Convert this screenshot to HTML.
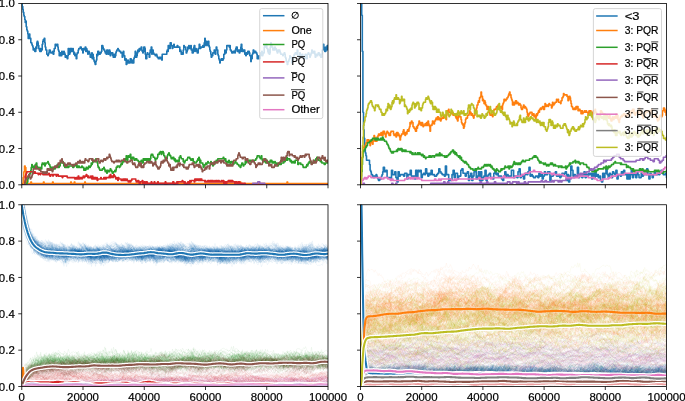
<!DOCTYPE html>
<html><head><meta charset="utf-8"><style>
html,body{margin:0;padding:0;background:#fff;width:685px;height:401px;overflow:hidden}
svg{display:block;will-change:transform}
text{font-family:"Liberation Sans",sans-serif}
#dd path{vector-effect:non-scaling-stroke}
</style></head><body>
<svg width="685" height="401" viewBox="0 0 685 401">
<defs>
<clipPath id="ctl"><rect x="21.75" y="3.5" width="306.25" height="181.30"/></clipPath>
<clipPath id="ctr"><rect x="360.5" y="3.5" width="306.00" height="181.30"/></clipPath>
<clipPath id="cbl"><rect x="21.75" y="204.75" width="306.25" height="181.75"/></clipPath>
<clipPath id="cbr"><rect x="360.5" y="204.75" width="306.00" height="181.75"/></clipPath>
<g id="dd" fill="none" vector-effect="non-scaling-stroke"><path id="p1" d="M0 410l1 0 1 0 1 0 1 0 1 0 1 0 1 0 1 0 1 12 1 11 1 10 1 10 1 4 1 9 1 7 1 2 1 10 1-3 1 8 1 1 1 3 1 1 1 6 1 1 1 0 1 4 1 0 1 2 1 2 1 2 1 1 1-1 1 3 1 0 1-12 1 8 1-3 1 2 1-2 1 1 1-4 1 1 1-1 1 4 1-8 1 3 1-1 1-3 1 0 1 1 1-5 1 6 1 4 1-5 1 6 1-6 1-4 1 0 1 9 1-4 1 6 1-4 1-3 1 8 1-6 1 4 1-6 1 12 1 1 1-6 1 2 1 1 1 5 1-2 1 2 1-7 1 3 1 4 1 0 1 2 1-3 1-3 1-2 1-2 1 4 1-6 1 11 1-6 1-3 1 3 1-2 1-3 1 4 1-2 1-3 1 7 1-8 1 4 1 3 1-6 1-1 1 2 1-2 1-1 1 1 1 0 1-3 1 1 1 2 1 7 1-2 1-3 1-4 1 3 1-4 1 4 1 1 1 2 1-5 1 9 1-6 1 2 1 1 1-5 1 1 1 1 1 3 1 3 1 1 1 4 1-3 1-5 1-3 1 9 1-7 1-2 1 3 1-2 1 5 1 2 1-3 1-3 1 1 1 1 1-3 1 6 1-6 1 9 1-11 1 0 1-3 1 10 1 0 1 1 1 1 1 4 1-11 1 3 1 0 1 5 1-6 1-6 1 6 1-2 1 7 1-7 1 4 1 0 1 0 1 3 1-3 1 3 1 1 1 3 1 0 1-6 1-1 1 3 1 0 1 1 1-3 1-4 1 3 1 2 1-5 1 0 1 8 1-4 1-5 1 2 1 2 1-1 1 5 1 1 1-3 1-1 1-4 1 6 1-1 1-4 1 7 1-1 1-1 1 0 1 0 1-2 1 6 1 0 1-5 1 5 1-11 1 7 1-2 1-4 1 0 1-1 1 1 1 4 1-5 1 1 1 4 1-5 1-3 1 6 1 0 1 0 1-5 1 10 1-8 1 1 1 1 1 3 1-3 1-8 1 6 1 1 1-4 1 6 1-9 1 4 1-9 1 1 1 5 1 1 1 2 1-3 1 0 1 7 1 1 1-6 1 3 1-2 1 0 1 0 1 2 1-3 1-3 1-1 1 6 1-1 1 0 1 5 1 0 1-4 1-2 1-1 1 5 1-5 1 3 1 1 1-5 1 10 1 1 1-14 1 7 1-3 1 2 1 2 1 2 1 2 1-7 1 4 1-3 1-1 1 1 1 0 1-4 1 4 1 1 1 1 1-5 1 1 1 6 1-2 1 2 1 1 1 2 1-9 1 5 1 9 1-11 1-2 1 6 1 0 1-1 1-2 1 4 1-4 1 6 1-9 1 7 1-3 1-3 1-2 1 5 1 0 1-8 1 7 1 0 1-1 1-4 1 0"/><path id="p2" d="M0 410l1 0 1 0 1 0 1 0 1 0 1 0 1 0 1 0 1 12 1 13 1 5 1 10 1 8 1 6 1 2 1 7 1 2 1 5 1 7 1-5 1 8 1 1 1 3 1 3 1-3 1 6 1 4 1 0 1 2 1 4 1-7 1 7 1-7 1 4 1-2 1 2 1 0 1-9 1 8 1 1 1-4 1-4 1 9 1-3 1-5 1 0 1 2 1 4 1-2 1 3 1-3 1 2 1-1 1 2 1-3 1 2 1 2 1-7 1 4 1 1 1 0 1-5 1 4 1-1 1 5 1-2 1 1 1 2 1 0 1-2 1 3 1-6 1 0 1 6 1-5 1 3 1-3 1 0 1 7 1 3 1-10 1 0 1 2 1 1 1 1 1 6 1-13 1 12 1-9 1 1 1-2 1 4 1-2 1-4 1 4 1-4 1 5 1-5 1-1 1 2 1-1 1 6 1-1 1 0 1-5 1 7 1-2 1-3 1 3 1-2 1 5 1-7 1 2 1-2 1-2 1 8 1-10 1 4 1-5 1 4 1-1 1 6 1-1 1-6 1 7 1-3 1 2 1 4 1-2 1 0 1-2 1 3 1 1 1-7 1 0 1 4 1 4 1-5 1 3 1-7 1 5 1 1 1-1 1 2 1-3 1 4 1-5 1-2 1 1 1 4 1-4 1 2 1 3 1-5 1-3 1 2 1 2 1 1 1-1 1-2 1 2 1-3 1 2 1 0 1 4 1-2 1 2 1 0 1 0 1-6 1 12 1-5 1 3 1-3 1 0 1-5 1 5 1 2 1-4 1 0 1 7 1-13 1 9 1-8 1 1 1-1 1 3 1 3 1 0 1-6 1 5 1-3 1 2 1 1 1-5 1 5 1-2 1 1 1-1 1 2 1 4 1-1 1 1 1-7 1 5 1 5 1 0 1 3 1-6 1 7 1 3 1-15 1 15 1-1 1 2 1-5 1 3 1 0 1-7 1-2 1 3 1 3 1-6 1 3 1-4 1 0 1 4 1-7 1 3 1 0 1 3 1-6 1 6 1-3 1 4 1 2 1 0 1 1 1-3 1-6 1 0 1 6 1-1 1-8 1 2 1 1 1 1 1-1 1 6 1-7 1-9 1 1 1 6 1-4 1 0 1 4 1 0 1-1 1-2 1-4 1 3 1 1 1 1 1-4 1-1 1 5 1 2 1-2 1 0 1-2 1 1 1 6 1-2 1 1 1-3 1 6 1 2 1-6 1 1 1 0 1-1 1 2 1-3 1 3 1 0 1-5 1 2 1-4 1 3 1 4 1 0 1 1 1-2 1-2 1 2 1 0 1 4 1-7 1 3 1-1 1 6 1-3 1 1 1-8 1 5 1-9 1 5 1 2 1-6 1-2 1 5 1 0 1-3 1 3 1 0 1 3 1-5 1 2 1-4 1-1 1-1 1 2"/><path id="p3" d="M0 410l1 0 1 0 1 0 1 0 1 0 1 0 1 0 1 0 1 12 1 11 1 10 1 7 1 9 1 10 1 3 1 7 1 0 1 1 1 6 1 5 1 7 1-4 1 3 1 2 1-1 1-7 1 9 1 2 1 3 1-7 1 6 1 4 1-4 1-2 1 5 1-3 1 6 1-9 1 8 1-2 1 3 1-1 1-2 1 3 1-1 1-4 1-4 1 6 1 2 1 0 1 5 1-1 1 0 1-5 1 2 1 0 1-9 1 8 1-3 1 1 1 1 1-2 1 6 1-5 1-3 1-2 1 7 1-5 1 2 1 4 1 5 1-5 1 3 1-5 1 4 1 6 1-3 1-3 1-2 1 13 1-10 1 5 1-3 1 2 1-7 1 2 1-5 1 1 1 6 1 5 1-7 1 0 1-2 1 2 1-1 1-5 1 1 1 2 1-4 1 4 1-3 1-4 1 4 1 3 1-5 1 1 1-7 1 7 1 2 1 2 1 3 1-4 1-2 1 3 1-4 1 0 1 1 1 4 1 1 1-5 1 5 1 0 1 0 1-7 1 10 1-10 1 0 1-3 1 3 1-6 1 4 1 5 1 1 1-5 1-2 1 1 1-2 1 0 1 11 1-7 1 0 1-1 1 5 1-7 1 5 1-4 1 6 1-1 1 5 1-1 1-2 1 1 1-2 1 0 1 1 1 1 1 4 1-2 1 0 1 1 1-4 1 0 1 5 1-1 1-2 1 0 1-5 1 5 1 1 1-3 1-1 1-2 1 7 1-2 1-2 1 1 1 6 1-6 1-4 1 3 1 3 1 3 1 0 1-3 1 3 1 0 1 4 1-7 1-1 1 3 1-3 1 2 1-5 1 5 1-1 1 3 1-4 1 0 1-1 1-8 1 2 1-2 1 1 1 3 1-5 1-4 1 5 1-2 1-1 1-4 1 3 1-2 1 1 1 3 1 0 1 5 1-2 1-2 1 1 1 1 1 2 1-1 1 1 1 2 1 6 1-14 1 2 1 11 1-8 1 6 1-5 1 6 1-3 1 1 1-4 1-1 1 2 1 7 1-8 1 3 1-9 1 6 1 5 1-7 1 4 1-6 1 6 1-6 1 7 1-9 1 4 1-2 1 4 1-7 1 8 1-2 1 3 1-4 1 10 1 1 1-6 1 4 1 1 1-5 1 2 1 8 1-9 1 2 1 1 1-6 1 0 1-3 1 6 1 1 1-12 1 5 1 1 1 5 1-1 1-4 1 12 1-5 1-6 1 7 1-9 1 2 1 4 1-6 1-1 1-1 1-4 1 7 1-4 1-4 1 0 1 0 1-8 1 11 1 1 1-3 1 3 1-2 1 5 1-6 1 9 1 0 1-3 1 3 1-2 1 1 1-1 1 7 1-7 1 2 1-1 1 4 1-5 1-2 1 1 1-1 1 1 1 1"/><path id="p4" d="M0 410l1 0 1 0 1 0 1 0 1 0 1 0 1 0 1 0 1 13 1 11 1 8 1 8 1 6 1 4 1 11 1 2 1 4 1 5 1-1 1-3 1 10 1-7 1 7 1 3 1 4 1-5 1 3 1 2 1 3 1 0 1 1 1 0 1 8 1-6 1-1 1 1 1 8 1-4 1 0 1-2 1 2 1 0 1 4 1-3 1 3 1 1 1 4 1-6 1 2 1 4 1-9 1 5 1-2 1 0 1 2 1-2 1-2 1 6 1 1 1-8 1 2 1 4 1-7 1 8 1-5 1-1 1 1 1-2 1 4 1 3 1-3 1-5 1 2 1 0 1 1 1-4 1 5 1-3 1-1 1 4 1-7 1 1 1-1 1 6 1-9 1 5 1-2 1-1 1-2 1 5 1-3 1 1 1 1 1 1 1 3 1-2 1-3 1 8 1 3 1-10 1 10 1-3 1 2 1-3 1 2 1-3 1 3 1 2 1-12 1 8 1-2 1 6 1-2 1-1 1-6 1 6 1-4 1 2 1 2 1-4 1 1 1 5 1-6 1 7 1-6 1 2 1-7 1 5 1-5 1 5 1 3 1-5 1 7 1-2 1-4 1-6 1 1 1 7 1 2 1-8 1 6 1-2 1-1 1 1 1-1 1-1 1-4 1 5 1-2 1-2 1 0 1 1 1 2 1-3 1 5 1-5 1-5 1 2 1 12 1-11 1 0 1 3 1-3 1 0 1 3 1 0 1 4 1-7 1 11 1-8 1 2 1-1 1 1 1-1 1 2 1 1 1-9 1 7 1-6 1 2 1 2 1-1 1 1 1-3 1 3 1 2 1-4 1 3 1-1 1 4 1-2 1-3 1 0 1 7 1-3 1 4 1-6 1 6 1 2 1-2 1 0 1-12 1 10 1-5 1 5 1-3 1-3 1 2 1-1 1 2 1 4 1-1 1 2 1 3 1-8 1 11 1 1 1-2 1-4 1 5 1-2 1 3 1-6 1 2 1 1 1-5 1 7 1-8 1 2 1 6 1-4 1-3 1 5 1-1 1-7 1-5 1 4 1 4 1 2 1 4 1-5 1 5 1-1 1 0 1-2 1 2 1 9 1-5 1-5 1-1 1 2 1-2 1 7 1-4 1-1 1-3 1 2 1 2 1-5 1 2 1-2 1 7 1-6 1-1 1-3 1 4 1 6 1-1 1-8 1 0 1 3 1 2 1-5 1 4 1-1 1 4 1 4 1-9 1-5 1 6 1 3 1-9 1 8 1 3 1-5 1-3 1 4 1-3 1 0 1 0 1-4 1 5 1-1 1-2 1 6 1-3 1 5 1-2 1 2 1-3 1 1 1 5 1 2 1 0 1 0 1 0 1-2 1 2 1-8 1 2 1-3 1 5 1 0 1 3 1-5 1 2 1 2 1-2 1-4 1 0 1 5 1 5"/><path id="p5" d="M0 410l1 0 1 0 1 0 1 0 1 0 1 0 1 0 1 0 1 13 1 12 1 10 1 6 1 8 1 4 1 6 1 4 1 9 1-6 1 8 1 9 1-4 1 2 1-1 1 6 1-3 1 2 1-4 1 5 1-2 1-2 1 7 1-4 1 1 1-6 1 4 1 4 1-8 1 8 1-2 1 0 1-1 1 4 1 0 1 0 1-1 1 4 1-1 1 3 1-10 1 4 1-2 1 7 1 4 1-1 1-1 1-5 1 4 1 0 1 3 1-10 1 11 1-4 1 0 1 0 1 0 1-2 1-8 1 5 1 2 1 4 1-8 1-1 1 8 1-4 1 10 1-4 1-6 1 11 1-8 1 0 1 9 1-4 1-5 1-3 1 8 1-4 1 7 1-1 1-5 1-2 1 1 1-4 1 0 1-3 1 1 1 2 1-1 1 0 1-1 1-3 1 0 1-1 1 1 1 0 1 6 1-1 1 0 1 1 1 6 1-10 1 6 1-1 1 1 1-8 1 4 1-4 1 6 1-3 1 0 1 4 1-1 1 7 1-2 1-4 1 9 1-9 1 1 1 3 1-5 1 1 1-2 1 3 1-2 1 2 1 5 1-4 1 0 1-1 1 0 1-2 1 3 1 3 1-4 1 9 1-2 1-9 1 9 1-5 1 4 1-6 1 1 1-2 1 1 1-3 1 7 1-9 1 6 1-5 1 3 1-5 1 2 1 1 1-2 1 1 1 0 1-5 1 2 1 2 1 1 1-5 1 6 1-2 1 4 1-2 1-1 1-2 1 2 1-3 1 10 1-13 1 6 1 1 1 5 1-6 1 6 1-2 1 0 1-1 1 1 1 5 1 2 1-8 1 2 1 1 1 1 1 0 1 8 1-6 1-2 1 3 1-2 1 2 1 2 1 1 1-2 1-3 1 8 1-9 1 10 1-13 1 6 1-1 1 1 1-5 1 4 1-7 1-3 1 6 1 3 1-6 1 5 1-2 1-3 1-3 1 8 1-6 1 0 1 3 1-3 1 3 1 1 1 6 1 2 1-8 1-2 1 6 1-3 1-6 1 3 1 7 1-7 1 3 1-3 1 1 1 3 1-9 1 15 1-5 1-7 1 5 1-1 1 5 1-5 1 6 1 2 1 0 1-7 1 5 1-2 1 1 1 2 1 4 1-6 1-1 1 6 1-3 1 0 1 4 1-8 1-1 1 1 1-1 1 0 1-4 1 1 1 0 1 6 1-3 1 2 1 4 1-4 1 7 1-1 1-7 1 2 1 9 1-7 1 2 1 1 1 4 1-3 1-3 1-3 1 3 1 5 1-5 1-5 1 7 1 3 1-8 1 4 1-3 1-1 1 1 1-2 1-3 1-1 1 1 1-2 1 1 1 3 1-8 1 4 1-1 1-2 1 4 1 4 1 2 1-4 1-5 1 3 1-1"/><path id="p6" d="M0 410l1 0 1 0 1 0 1 0 1 0 1 0 1 0 1 0 1 11 1 11 1 8 1 7 1 9 1 8 1 2 1-1 1 12 1-3 1 8 1 3 1-5 1 7 1 6 1-1 1 0 1 1 1-5 1 2 1 4 1-1 1 4 1 5 1-4 1 2 1-2 1 3 1-2 1 6 1 1 1 1 1 2 1-5 1 4 1 5 1-1 1-8 1-1 1 3 1 3 1-4 1 5 1 3 1-4 1 4 1-3 1-8 1 5 1 1 1-2 1 3 1-2 1 4 1 1 1-3 1 2 1 3 1-5 1 2 1 0 1-8 1 3 1-1 1 4 1 3 1-1 1-9 1 15 1-8 1-2 1 5 1-8 1 5 1-3 1-5 1 2 1 4 1 0 1-4 1-1 1 4 1 8 1-4 1-4 1 6 1-1 1 2 1-2 1-4 1 0 1 5 1-8 1 8 1-8 1 0 1 7 1 1 1-10 1 2 1 1 1 4 1-4 1 7 1-7 1-5 1 8 1-3 1 5 1-3 1 1 1-2 1 2 1 4 1-10 1 7 1-8 1 7 1-7 1 1 1 3 1-4 1 2 1-4 1 3 1-2 1 11 1-10 1 5 1 0 1 4 1-2 1 0 1-2 1 1 1 1 1-1 1-2 1 5 1 1 1-5 1 3 1 4 1-4 1 0 1-5 1 4 1 0 1 3 1 3 1-3 1 1 1 0 1-5 1 7 1-9 1 9 1 1 1-7 1 4 1 2 1-3 1 3 1-1 1 1 1-1 1 3 1-4 1 4 1-2 1 7 1-8 1 3 1-1 1 0 1 1 1 1 1-7 1 4 1-1 1 0 1 1 1-6 1 5 1-4 1 3 1 2 1 0 1-7 1 8 1 0 1-3 1-4 1 4 1-5 1 4 1 1 1-5 1 4 1 4 1 0 1-4 1-1 1 5 1 0 1-4 1 5 1-3 1 0 1 2 1 2 1 4 1-7 1 3 1-4 1 2 1-1 1-5 1 2 1 5 1-7 1 4 1 2 1-5 1 0 1-3 1-1 1-1 1 6 1-2 1 5 1-6 1 2 1 6 1-8 1 1 1 7 1 2 1-6 1-1 1 1 1-4 1-3 1 7 1 0 1 1 1-8 1 6 1-3 1-1 1-1 1 2 1-5 1 3 1 1 1 4 1-3 1-1 1-4 1 5 1-3 1 1 1 8 1-10 1-4 1 10 1-8 1 7 1-2 1-1 1-3 1 3 1 0 1-3 1 0 1 4 1-2 1-3 1 3 1 5 1-3 1 5 1-12 1 7 1 6 1-3 1-3 1-1 1 3 1 1 1 2 1-6 1-1 1 3 1 0 1 0 1 2 1-1 1-4 1 1 1-2 1 4 1-6 1 6 1-7 1 4 1-2 1 3 1-2 1 2 1-2 1 6 1-9 1 3"/><path id="p7" d="M0 410l1 0 1 0 1 0 1 0 1 0 1 0 1 0 1 0 1 13 1 11 1 8 1 10 1 7 1 6 1 5 1 4 1 7 1 6 1-2 1 8 1-1 1 1 1-5 1 7 1 2 1 4 1 0 1 5 1 3 1-5 1-1 1 2 1 0 1 0 1-6 1 8 1-9 1 9 1-1 1-1 1-1 1-3 1 2 1 0 1 3 1 2 1 1 1 3 1-10 1 8 1 3 1 1 1-3 1 3 1-8 1 0 1 5 1-7 1 1 1 1 1 0 1 1 1-4 1 9 1-8 1 3 1 7 1-5 1-2 1 0 1 2 1 4 1-3 1 0 1 11 1-6 1-3 1 1 1-3 1-6 1 6 1 2 1-1 1 3 1-1 1 0 1-5 1 4 1-2 1-1 1 5 1-5 1-4 1 6 1-2 1-3 1-1 1 3 1 2 1-3 1 5 1-1 1-1 1-3 1 5 1-4 1 6 1-2 1 0 1-4 1-4 1 12 1-6 1 1 1-1 1 3 1-4 1 10 1-10 1-2 1 8 1-4 1 4 1-3 1 0 1 8 1-12 1 0 1-4 1 6 1-1 1-4 1 9 1-8 1 3 1-8 1 6 1-5 1 4 1 9 1-15 1 1 1-1 1 5 1-5 1 8 1 0 1-6 1 1 1-3 1 9 1-4 1 0 1-2 1 8 1-4 1 2 1-2 1-8 1 8 1-2 1 4 1 4 1-1 1 2 1 1 1-3 1 2 1 5 1 5 1-5 1-3 1-4 1 4 1-1 1-3 1-1 1 6 1-3 1-3 1 4 1 0 1-3 1-2 1-4 1 4 1 1 1-3 1-5 1 9 1-8 1-3 1 3 1 0 1 2 1-1 1-2 1-5 1 3 1 3 1 5 1-1 1-7 1 9 1-7 1 3 1-3 1 3 1 4 1-2 1 2 1 3 1-3 1 0 1 4 1-2 1-2 1 3 1 4 1-8 1 9 1-6 1 3 1-2 1 3 1 5 1-8 1 6 1 2 1-1 1-7 1 2 1-1 1 2 1-12 1 3 1-2 1 2 1-4 1 5 1-7 1 5 1 1 1-4 1 1 1 0 1 7 1-2 1 2 1-1 1-3 1 5 1-3 1 4 1-2 1-2 1-2 1-2 1 5 1 0 1-4 1 9 1-2 1-7 1-1 1-4 1 0 1 0 1 3 1 2 1-4 1 10 1-5 1 5 1-4 1 9 1-11 1 3 1-3 1 9 1-3 1-3 1 9 1-5 1 7 1-13 1 10 1-3 1 0 1 7 1-4 1 4 1-8 1-3 1 12 1-7 1 4 1-6 1-1 1-2 1 0 1 6 1-1 1-5 1-4 1 5 1-2 1-3 1 1 1-3 1 7 1-5 1 2 1 0 1 2 1 2 1-5 1 8 1-3 1 2 1 4 1-3"/><path id="p8" d="M0 410l1 0 1 0 1 0 1 0 1 0 1 0 1 0 1 0 1 13 1 10 1 10 1 7 1 9 1 6 1 8 1 3 1 5 1 2 1 10 1-3 1 0 1 13 1-8 1 2 1 3 1 1 1 4 1-4 1 2 1 7 1-7 1 6 1 0 1-5 1 3 1-2 1 0 1 1 1-2 1 7 1-11 1 3 1 5 1-1 1-4 1 7 1 3 1-12 1 3 1 3 1-5 1 4 1 0 1 0 1 0 1 5 1-3 1-2 1 5 1 1 1-4 1-6 1 6 1-4 1-1 1 0 1 2 1 8 1 0 1-3 1-3 1-1 1 1 1-1 1-3 1 6 1-6 1 1 1 8 1-6 1 1 1-1 1 1 1 9 1-13 1 7 1-2 1 0 1 7 1-3 1 1 1-8 1 12 1-9 1 2 1 3 1 3 1-3 1-3 1 6 1-5 1-1 1-1 1 3 1-4 1-1 1 9 1-4 1 0 1-2 1-6 1 0 1 1 1 2 1-5 1 9 1 0 1-6 1 3 1-3 1 1 1 0 1 7 1 0 1 4 1-5 1 1 1 2 1-1 1-1 1-3 1 5 1 0 1-2 1-2 1-5 1 3 1 11 1-3 1-3 1 6 1-11 1 5 1 1 1-4 1-2 1 1 1-1 1-4 1 5 1-5 1 6 1-4 1-8 1 4 1 0 1-7 1 3 1-5 1-4 1-1 1 9 1-2 1 4 1-8 1 5 1-7 1 12 1 0 1 10 1-6 1 0 1-3 1-2 1 6 1-2 1-2 1 2 1-3 1-3 1 7 1-3 1-4 1 4 1-6 1 6 1-5 1 3 1-2 1 4 1-6 1 8 1-7 1 3 1 0 1-3 1 10 1-6 1 2 1 4 1-3 1 3 1-5 1 8 1-7 1 0 1 4 1 3 1-3 1 4 1-3 1-1 1-4 1 5 1-6 1 3 1-5 1 1 1 4 1-2 1 0 1 3 1 0 1 0 1 4 1 1 1-5 1 7 1-7 1 0 1 4 1-3 1 4 1-5 1-8 1 9 1 2 1 0 1 4 1-2 1-1 1 1 1-1 1-4 1 10 1-2 1-2 1 5 1-1 1-4 1-1 1 1 1 4 1-5 1-2 1 4 1-3 1 1 1 0 1 0 1-4 1 4 1-9 1 3 1 3 1-9 1 7 1 8 1-11 1 1 1 3 1-1 1 2 1 2 1-1 1-11 1 10 1-3 1-5 1 8 1-3 1 2 1 3 1-7 1 0 1 3 1-1 1-2 1 0 1-3 1 4 1 0 1 5 1 3 1-8 1 7 1-5 1 2 1 3 1-4 1-5 1 0 1 6 1-2 1 5 1-3 1-3 1-2 1-2 1 3 1-5 1 7 1-5 1 6 1-2 1-1 1-2 1 6 1-1 1-1 1-2 1-4"/><path id="p9" d="M0 410l1 0 1 0 1 0 1 0 1 0 1 0 1 0 1 0 1 11 1 11 1 12 1 8 1 5 1 5 1 9 1 3 1 4 1 6 1 3 1 1 1 0 1 8 1-2 1 4 1 3 1 1 1 2 1-2 1-1 1 4 1 5 1-6 1 2 1 1 1-4 1 7 1-1 1-1 1-4 1 8 1-3 1 7 1-4 1-1 1 3 1-7 1 1 1 3 1-4 1 3 1-3 1 0 1-6 1 6 1-5 1-2 1 4 1-2 1-5 1 10 1 0 1-5 1 1 1-4 1 6 1-2 1-1 1 9 1-11 1 5 1 4 1-1 1 1 1-5 1 7 1-6 1 6 1-2 1 2 1-1 1-4 1 3 1 1 1-5 1-4 1 6 1 0 1 0 1 3 1-2 1-4 1 3 1-2 1 1 1 0 1-2 1 6 1 4 1-4 1 0 1-3 1 6 1 2 1 1 1-5 1 3 1-5 1-2 1 4 1-3 1 1 1-3 1 5 1-2 1-9 1 10 1-2 1-6 1 5 1-2 1 2 1-7 1 5 1-5 1 5 1 6 1-5 1 7 1-9 1 10 1-11 1 1 1-3 1 3 1 1 1 2 1 0 1 0 1-2 1-1 1-8 1 5 1 4 1-7 1 3 1 2 1-3 1 2 1-5 1 3 1-5 1 8 1-5 1 5 1-9 1 9 1-9 1 8 1-4 1 7 1 0 1-5 1 10 1-5 1 8 1-11 1 4 1 10 1-4 1-4 1-3 1 8 1 7 1-10 1 6 1-2 1 2 1 3 1 2 1-12 1 4 1 0 1 1 1-4 1 4 1 0 1-1 1 0 1-6 1 5 1-12 1 6 1 0 1-1 1-6 1 13 1-8 1-5 1 2 1 3 1 3 1-9 1 9 1-7 1 10 1 2 1-6 1 2 1 6 1-8 1-9 1 8 1-2 1 1 1-1 1-1 1-1 1 0 1-1 1-1 1 1 1 5 1-2 1 2 1-3 1-5 1 4 1 3 1-7 1 4 1 6 1-4 1-1 1 0 1 5 1-3 1 3 1 2 1-7 1 8 1-6 1-5 1 1 1 2 1-2 1 0 1-4 1 3 1 0 1 5 1-1 1 1 1-4 1 1 1 3 1-2 1 3 1 1 1-2 1 1 1-6 1 12 1-7 1 6 1-5 1 7 1 2 1-9 1 6 1-5 1 8 1 0 1-6 1 5 1-2 1 2 1-2 1 6 1-7 1-2 1-4 1-1 1 3 1-2 1 1 1-8 1 9 1-5 1 3 1 5 1-6 1-2 1 3 1 5 1-6 1 0 1 4 1-5 1 8 1-1 1-4 1-1 1-3 1-1 1 6 1-6 1-2 1 2 1 4 1 0 1 3 1 4 1-4 1 3 1-5 1 1 1 0 1 0 1 0 1 3 1-1 1-2"/><path id="p10" d="M0 410l1 0 1 0 1 0 1 0 1 0 1 0 1 0 1 0 1 10 1 13 1 8 1 12 1 3 1 5 1 7 1 4 1 6 1-1 1 5 1 6 1 0 1 1 1 2 1-6 1 10 1 0 1 4 1-4 1 6 1-4 1 4 1 2 1 0 1-9 1 11 1-6 1 3 1 5 1-3 1 2 1-3 1-3 1-2 1 9 1 1 1 1 1-1 1 4 1-7 1 7 1 2 1 10 1-10 1 5 1-12 1 6 1 2 1-4 1-6 1 4 1-3 1 7 1-6 1 0 1-8 1 5 1 0 1-6 1-1 1-3 1-3 1 2 1 4 1 1 1 8 1-9 1 8 1 0 1 0 1 5 1-1 1-3 1 0 1 0 1 4 1 5 1-2 1 5 1 5 1-10 1 3 1 0 1 1 1-11 1 6 1-5 1 3 1-1 1 0 1-6 1 11 1-6 1 1 1-4 1 3 1-3 1 2 1 0 1-5 1-3 1 2 1 5 1-2 1-6 1 3 1-4 1 3 1-4 1 9 1-4 1-2 1 2 1 8 1-1 1-1 1 3 1-1 1 0 1-1 1 0 1 2 1-6 1-1 1 3 1-5 1 0 1 5 1-7 1 1 1 3 1 5 1-2 1 4 1-4 1 5 1 4 1 1 1-2 1 2 1-5 1-1 1 2 1 1 1 0 1 0 1 0 1-5 1 3 1-4 1 5 1 0 1-5 1-8 1 10 1 2 1-7 1 4 1 2 1 2 1-7 1 4 1 1 1-3 1-5 1 0 1 6 1 2 1-12 1 4 1-7 1 6 1 0 1 2 1 0 1 1 1 1 1-5 1 7 1 1 1-4 1 8 1-2 1-1 1 5 1-6 1 2 1-3 1 2 1 5 1 1 1-2 1-2 1 0 1 1 1-3 1 6 1-1 1-6 1 5 1 1 1-2 1 7 1-5 1 2 1 2 1-2 1-5 1 4 1 1 1-7 1 3 1-6 1 1 1 3 1 2 1-3 1-6 1 7 1-13 1 16 1-11 1-3 1 7 1 4 1-6 1 0 1-4 1 3 1 0 1 1 1-5 1 7 1 0 1-1 1-8 1 20 1-2 1-5 1 1 1-3 1-3 1 0 1 3 1 2 1-2 1 2 1-9 1 2 1 5 1-3 1 5 1-1 1 0 1 5 1-3 1 3 1-3 1 7 1-2 1-3 1-3 1 3 1 1 1 5 1-3 1-3 1 1 1-1 1-4 1-1 1 6 1 2 1 3 1-6 1-1 1-2 1 8 1 0 1 1 1-10 1 3 1 7 1-3 1 4 1-2 1-10 1 7 1-1 1-2 1 3 1-1 1 0 1-12 1 5 1-1 1-7 1 6 1-2 1 1 1-4 1 2 1 5 1-8 1 0 1 3 1 3 1 0 1 5 1-2 1-4 1 4 1 6"/><path id="p11" d="M0 410l1 0 1 0 1 0 1 0 1 0 1 0 1 0 1 0 1 12 1 13 1 10 1 6 1 5 1 9 1 1 1 6 1 5 1 4 1 3 1 2 1 1 1 4 1 6 1 2 1-1 1-2 1 6 1-4 1-1 1-2 1 7 1 1 1 2 1 1 1-2 1-6 1 16 1-10 1 0 1-3 1 1 1 3 1 6 1-3 1-2 1 1 1-5 1 4 1 2 1-4 1-3 1 5 1 2 1-1 1-3 1 0 1 4 1 0 1-4 1-5 1-1 1 1 1 10 1-3 1 1 1 1 1 0 1-2 1-2 1-3 1 0 1 5 1 0 1-5 1 1 1 4 1-2 1 6 1-7 1 5 1-6 1 11 1-10 1 4 1-2 1-2 1 3 1-8 1 2 1 5 1-7 1 6 1-1 1-5 1-1 1 7 1-2 1 3 1-3 1 5 1-5 1 10 1-7 1-2 1 4 1 7 1-6 1 5 1-2 1-2 1-6 1 6 1 3 1-10 1 6 1 1 1-2 1 0 1-6 1 11 1-5 1-5 1 1 1 1 1 6 1-9 1 5 1-6 1 13 1-8 1-1 1-2 1 5 1 2 1-2 1 2 1-2 1 7 1-7 1-1 1-1 1 1 1-7 1 0 1 2 1 3 1-5 1 4 1 2 1 1 1-1 1-5 1 1 1 1 1 3 1 3 1-3 1 1 1 2 1-5 1 9 1-1 1-1 1-2 1-2 1-3 1-1 1 4 1 1 1-3 1-2 1 2 1 0 1-1 1 2 1 2 1 8 1-5 1 3 1-1 1-1 1-2 1-1 1 6 1-4 1 0 1 8 1-8 1 1 1 6 1-7 1-2 1 0 1 4 1-5 1 0 1 1 1 7 1-7 1 5 1 1 1-6 1 0 1 0 1 16 1-14 1 12 1-9 1 6 1-5 1-3 1 0 1 4 1 7 1-7 1-1 1-2 1-3 1 5 1-6 1 6 1-1 1-4 1-1 1-1 1 5 1-4 1 6 1-11 1 5 1 2 1 3 1-1 1-3 1 3 1-3 1 3 1-1 1-6 1 7 1-3 1 2 1-6 1 5 1-2 1-2 1 2 1-3 1 1 1 0 1 2 1-1 1 2 1 0 1 1 1-9 1 2 1 7 1-3 1-4 1 3 1-6 1 9 1-4 1 7 1-11 1 6 1-3 1-3 1 3 1 2 1 0 1-7 1 0 1 7 1-6 1 7 1 6 1-4 1 1 1-3 1 1 1 5 1 0 1-1 1 8 1-9 1-1 1 3 1 5 1-4 1 2 1 0 1-8 1 6 1 1 1-5 1 6 1-11 1 4 1 0 1-1 1 5 1-8 1 0 1 1 1 2 1-3 1-5 1 7 1-4 1-2 1 7 1-2 1-3 1-2 1 3 1 3 1-1 1 5 1-7 1 2"/><path id="p12" d="M0 410l1 0 1 0 1 0 1 0 1 0 1 0 1 0 1 0 1 13 1 12 1 10 1 5 1 7 1 7 1 10 1 0 1-1 1 15 1-2 1 6 1 0 1 4 1 0 1 6 1-1 1 3 1-1 1 1 1 3 1-1 1 2 1-2 1 1 1 0 1 9 1-7 1 2 1 0 1-5 1 1 1 2 1-5 1 0 1 3 1-2 1-3 1 9 1 1 1-1 1-1 1-1 1-4 1 7 1-7 1 1 1 1 1 4 1 3 1-7 1 3 1 2 1-4 1 1 1 3 1-5 1 1 1 1 1-3 1 4 1-3 1 3 1-4 1 3 1 1 1-2 1 6 1 2 1-5 1 8 1-7 1 2 1 5 1 2 1-9 1 6 1 2 1 0 1 1 1-11 1 4 1 1 1 1 1-1 1-5 1 9 1-5 1 0 1 1 1-8 1 5 1-6 1 0 1 7 1-7 1 3 1 2 1-4 1 3 1 1 1 5 1-7 1 4 1-5 1 5 1-5 1 3 1-2 1 8 1-7 1 0 1 0 1 2 1 2 1-8 1 1 1-1 1-2 1 5 1-7 1 3 1 1 1 1 1-5 1 4 1 0 1 5 1-5 1 5 1-2 1-4 1 1 1 4 1-3 1-2 1-5 1 3 1-6 1 3 1 3 1-8 1 6 1 2 1 1 1-1 1 2 1-1 1-1 1 4 1 3 1-5 1 5 1-1 1 9 1-10 1 6 1-4 1 7 1-3 1-5 1 1 1 3 1-1 1 10 1-5 1-1 1 6 1-5 1-2 1-3 1 4 1-6 1-5 1 7 1-3 1-1 1-3 1 10 1-10 1 2 1 2 1-2 1-3 1-3 1 3 1 3 1-4 1-5 1 8 1-5 1-2 1 5 1 3 1 1 1-7 1 2 1 3 1 0 1 3 1-2 1-6 1 3 1 0 1-1 1 4 1-3 1 4 1 4 1-8 1 2 1 0 1 2 1-3 1 0 1 2 1 0 1 2 1-2 1-4 1 5 1-5 1 7 1-1 1-12 1 15 1-7 1 6 1-3 1 0 1-1 1 4 1 3 1-9 1 6 1 0 1 5 1 1 1-6 1-3 1 6 1 2 1-8 1 4 1-4 1 4 1-4 1 1 1-1 1 1 1-4 1 3 1-2 1 3 1-4 1 7 1-1 1-4 1 4 1 3 1 0 1 1 1-6 1 3 1-1 1 5 1-9 1 0 1-2 1 7 1-7 1 6 1-3 1 1 1-1 1 8 1-4 1-1 1-2 1 8 1-1 1-3 1 7 1 0 1-2 1-5 1 4 1-2 1 1 1-4 1-7 1 2 1-1 1 2 1 0 1-6 1-2 1 6 1-2 1 0 1 0 1-4 1 6 1-7 1-1 1 10 1-4 1 3 1 3 1-9 1 3 1 8 1 0 1-1"/><path id="p13" d="M0 410l1 0 1 0 1 0 1 0 1 0 1 0 1 0 1 0 1 12 1 12 1 8 1 9 1 10 1 5 1 3 1 11 1 4 1 0 1 4 1 3 1 1 1 4 1-8 1 6 1 0 1 5 1-3 1 11 1-5 1-2 1 3 1-1 1 7 1-5 1-1 1-1 1 3 1 2 1-6 1 7 1 0 1-1 1-2 1-1 1 4 1-4 1 0 1 5 1-6 1 4 1-8 1-2 1 9 1 2 1-5 1-2 1-1 1 1 1-6 1 4 1-1 1 7 1-7 1 3 1-1 1 1 1-4 1 8 1-6 1 8 1-8 1 1 1-5 1 5 1-2 1 3 1-3 1 0 1 0 1 0 1-1 1 3 1-2 1-4 1 2 1 2 1 8 1-1 1 2 1-2 1 0 1-2 1 4 1 0 1-4 1 5 1 4 1-7 1 4 1-3 1-4 1 1 1 4 1-1 1 2 1-6 1 1 1 2 1-2 1-1 1 5 1-3 1-3 1 6 1-4 1 2 1 5 1-2 1 3 1-6 1 5 1-3 1 1 1-7 1 3 1 2 1-6 1 8 1-5 1 1 1 1 1-2 1 6 1-8 1 5 1 0 1 2 1 1 1-8 1 11 1 3 1-1 1 9 1-10 1 2 1-1 1 2 1-5 1-5 1 8 1-7 1-1 1-1 1 0 1-3 1-2 1 5 1 6 1-10 1 3 1-6 1 7 1-2 1 9 1-8 1 1 1-2 1 3 1 0 1 1 1 8 1-9 1 3 1 0 1-1 1 3 1 0 1-1 1-2 1-2 1 3 1-1 1 5 1-9 1 2 1 2 1 6 1-6 1 6 1-2 1 1 1 1 1-4 1-5 1 8 1-6 1 3 1 1 1-2 1-2 1 4 1 1 1-3 1 7 1 0 1-8 1-4 1 1 1 0 1 0 1 0 1-2 1-1 1 1 1-1 1-2 1 7 1 1 1-10 1 9 1-2 1-3 1 3 1-4 1 4 1-3 1 2 1-1 1 3 1 1 1-3 1 4 1-7 1 4 1 1 1-6 1 7 1 1 1-4 1 3 1-1 1 0 1-1 1 4 1-5 1 6 1-3 1 2 1-6 1 6 1-11 1 10 1-4 1 0 1-1 1 0 1 5 1 1 1-4 1 0 1 4 1-3 1-3 1 4 1-1 1 5 1-10 1 8 1-1 1 0 1 1 1-1 1-1 1 4 1-5 1 0 1 4 1 2 1-2 1 2 1-9 1 2 1 3 1 1 1-4 1 0 1-4 1 12 1-9 1 6 1-11 1 12 1-2 1-1 1-1 1 1 1-4 1 4 1 0 1 1 1 6 1-7 1 8 1-5 1 0 1 6 1-7 1 1 1 1 1 0 1 0 1-2 1-2 1 10 1-14 1 5 1-1 1 2 1 0 1-4 1 4 1 0"/><path id="p14" d="M0 410l1 0 1 0 1 0 1 0 1 0 1 0 1 0 1 0 1 14 1 11 1 9 1 9 1 7 1 8 1 4 1 5 1 7 1-4 1 12 1-5 1 8 1 3 1-3 1 6 1 3 1-1 1-4 1 9 1-10 1 3 1 0 1 2 1 4 1-2 1-3 1-2 1 0 1 2 1 1 1-9 1 11 1-4 1 4 1-7 1 5 1-3 1-2 1 14 1-4 1 4 1-1 1 1 1-1 1-6 1 5 1-1 1-3 1 6 1 1 1-4 1 4 1 4 1 4 1-5 1-3 1 3 1-6 1-4 1 3 1 11 1-8 1 1 1-7 1 0 1 2 1-1 1 1 1 2 1-3 1 3 1-3 1-5 1 4 1-3 1 2 1 3 1-5 1 3 1-3 1 1 1-4 1 1 1 2 1 1 1-10 1 7 1-2 1 1 1 1 1 3 1-2 1 1 1-6 1-3 1 9 1-2 1-1 1 6 1-1 1 1 1-7 1 4 1 5 1-2 1 0 1 1 1 7 1-5 1 0 1 0 1 2 1 4 1 0 1-4 1-6 1 12 1-6 1-1 1 4 1 10 1-13 1 2 1 0 1-5 1 4 1-1 1-8 1 0 1-1 1 2 1 1 1-1 1-1 1-1 1 4 1-1 1 6 1-4 1-2 1 1 1 7 1 7 1-3 1-3 1 4 1-1 1-8 1 10 1 0 1-5 1 1 1-8 1 6 1 0 1 0 1 7 1 1 1-1 1-4 1 5 1-9 1 2 1-2 1 0 1 1 1 5 1-3 1-4 1 6 1-4 1 3 1-7 1 0 1 1 1-2 1-2 1 3 1-1 1-3 1 2 1 0 1 1 1 1 1 1 1-4 1 2 1 2 1-4 1 0 1 4 1 3 1-3 1 1 1-3 1 1 1-3 1 6 1-4 1 0 1-3 1 3 1-1 1 2 1-5 1-6 1 0 1 7 1-2 1-1 1 6 1-7 1-3 1 5 1 5 1-1 1-7 1 3 1-1 1-3 1 3 1 1 1 0 1 6 1-9 1 0 1 7 1-2 1 5 1-4 1 3 1 2 1 1 1-6 1 4 1-2 1 4 1-12 1 7 1 4 1-10 1 7 1-8 1-1 1-4 1 6 1 4 1-8 1-2 1 2 1 0 1-6 1 2 1 7 1-4 1 6 1-3 1 6 1-2 1 2 1 3 1-5 1 1 1 3 1 4 1-9 1 6 1 1 1 1 1-6 1 7 1-4 1 3 1-9 1 5 1 0 1-6 1 0 1-2 1 0 1-4 1 9 1-4 1-1 1 2 1-3 1 2 1 3 1-2 1 6 1-2 1 3 1-5 1 6 1 1 1-4 1 1 1 4 1-3 1-4 1 4 1 5 1-3 1 3 1 0 1-5 1 3 1-3 1 8 1-1 1 3 1-6 1 6"/><path id="p15" d="M0 768l1 0 1 0 1 0 1 0 1 0 1 0 1 0 1 0 1-29 1 17 1 15 1 2 1 0 1-1 1 1 1 0 1-1 1 1 1-1 1 1 1 0 1 0 1-1 1 1 1 0 1-1 1 0 1 1 1-1 1 1 1 0 1-1 1 0 1 0 1 0 1 1 1 0 1-1 1 0 1 0 1 0 1 1 1-1 1-1 1 0 1 0 1 0 1 1 1 0 1 0 1-1 1 1 1 0 1 0 1 0 1 0 1 0 1 0 1-1 1 1 1 1 1-1 1 0 1 0 1 0 1 0 1 0 1 0 1 0 1 0 1 0 1 0 1 0 1 0 1 0 1 0 1 0 1-1 1 1 1 0 1 0 1 0 1 1 1-1 1 0 1 0 1 0 1 0 1 0 1 0 1 0 1 0 1 0 1 0 1 0 1 1 1-1 1 0 1 0 1 0 1-1 1 1 1 0 1 0 1 0 1 1 1-1 1 0 1 0 1 0 1 0 1 1 1 0 1-1 1 0 1 0 1 0 1 0 1 1 1-1 1 1 1-1 1 0 1-1 1 1 1 0 1 0 1 0 1 0 1 0 1 0 1 1 1-1 1 0 1 1 1-1 1 1 1-1 1 1 1 0 1 0 1 0 1 0 1 0 1-1 1 1 1-1 1 1 1-1 1 1 1-1 1 0 1 1 1 0 1-1 1 0 1 1 1 0 1-1 1 1 1-1 1 0 1 1 1-1 1 0 1 0 1 0 1 0 1 1 1 0 1 0 1 0 1-1 1 0 1 1 1-1 1 0 1 0 1 0 1 0 1-1 1 0 1 1 1 0 1 0 1 0 1 0 1 0 1 0 1 1 1-1 1 0 1 1 1 0 1-1 1 0 1 0 1 0 1 0 1 0 1 0 1 1 1-1 1 0 1 1 1-1 1 1 1 0 1 0 1-1 1 0 1 0 1 0 1 1 1 0 1-1 1 0 1 0 1 1 1 0 1 0 1 0 1 0 1 0 1 0 1 0 1 0 1-1 1 1 1 0 1-1 1 1 1-1 1 0 1 0 1 0 1 0 1 0 1 0 1 0 1 1 1 0 1 0 1-1 1 0 1 0 1 1 1 0 1 0 1 0 1 0 1 0 1 0 1 0 1 0 1 0 1 0 1 0 1 0 1-1 1 1 1 0 1 0 1 0 1-1 1 1 1 0 1-1 1 0 1 0 1 1 1-1 1 1 1 0 1-1 1 1 1-1 1 1 1-1 1 0 1 0 1 0 1 1 1-1 1 0 1 0 1 0 1 1 1 0 1-1 1 0 1 1 1 0 1-1 1 1 1-1 1 1 1 0 1 0 1-1 1 1 1 0 1 0 1 0 1 0 1 0 1 0 1 0 1 0 1 0 1 0 1-1 1 0 1 1 1-1 1 0 1 0 1 0 1 1 1-1 1 0 1 0"/><path id="p16" d="M0 768l1 0 1 0 1 0 1 0 1 0 1 0 1 0 1 0 1-29 1 17 1 16 1 0 1 0 1 0 1 0 1 0 1 0 1 0 1-1 1 2 1-1 1 0 1 0 1-1 1 0 1 0 1 1 1 0 1 0 1 0 1 0 1 0 1 0 1 0 1 1 1-1 1 0 1 0 1 1 1 0 1-1 1 1 1 0 1-1 1 1 1 0 1 0 1-1 1 1 1 0 1 0 1 0 1 0 1 0 1 0 1 0 1 0 1-1 1 1 1-1 1 0 1 0 1 0 1 0 1 0 1 0 1 0 1 1 1-1 1 0 1 1 1 0 1-1 1 1 1-1 1 1 1-1 1 0 1 0 1 0 1 1 1-1 1 1 1-1 1 0 1 0 1 0 1 0 1 0 1-1 1 1 1 0 1 0 1 0 1 0 1 0 1-1 1 1 1 0 1 0 1 0 1 1 1-1 1 0 1 0 1 0 1 0 1 1 1-1 1 1 1-1 1 0 1 0 1 0 1 1 1-1 1 1 1-1 1 0 1 0 1 1 1-1 1 0 1 0 1 0 1 0 1 0 1 0 1 1 1 0 1 0 1-1 1 0 1 0 1 1 1-1 1 0 1 0 1 0 1 0 1 0 1 1 1 0 1 0 1 0 1 0 1 0 1 0 1 0 1-1 1 0 1 0 1 0 1 0 1 1 1-1 1 0 1 1 1 0 1-1 1 1 1 0 1-1 1 1 1 0 1 0 1-1 1 0 1 0 1 1 1-1 1 1 1-1 1 1 1-1 1 0 1 0 1 0 1 0 1 1 1-1 1 0 1 1 1-1 1 0 1 0 1 1 1 0 1-1 1 0 1 0 1 0 1 1 1 0 1-1 1 0 1 1 1-1 1 0 1 0 1 0 1 0 1 1 1 0 1-1 1 1 1 0 1 0 1 0 1 0 1 0 1 0 1-1 1 0 1 1 1-1 1 0 1-1 1 1 1 0 1 0 1-1 1 0 1 1 1 0 1 0 1 0 1-1 1 0 1 1 1 0 1 0 1 0 1 0 1 0 1 1 1-2 1 2 1-1 1 0 1 1 1 0 1-1 1 0 1 0 1 1 1-1 1 0 1 0 1 0 1 1 1-1 1 0 1 0 1 0 1 0 1 0 1 0 1 0 1 0 1 0 1 0 1 0 1 0 1 1 1-1 1 0 1 0 1 0 1 0 1 0 1 1 1-1 1 0 1 1 1 0 1-1 1 0 1 1 1-1 1 0 1 1 1-1 1 1 1-1 1 1 1-1 1 0 1 1 1-1 1 0 1 1 1-1 1 0 1 1 1-1 1 0 1 1 1-1 1 0 1 0 1 0 1 0 1 1 1-1 1 0 1 0 1 1 1 0 1 0 1-1 1 0 1 1 1 0 1 0 1 0 1-1 1 0 1 1 1 0 1-1 1 0"/><path id="p17" d="M0 773l1 0 1 0 1 0 1 0 1 0 1 0 1 0 1 0 1-6 1-7 1-8 1-3 1-5 1-3 1-2 1-5 1-2 1-2 1 4 1-4 1 0 1-1 1 4 1-2 1-4 1-2 1 2 1 3 1-10 1 3 1-2 1 3 1-1 1-1 1-2 1 6 1-4 1 7 1-10 1 5 1-9 1 3 1 0 1 0 1 2 1 4 1 0 1 0 1 3 1 1 1-4 1-5 1 7 1 4 1 3 1 0 1-4 1-6 1 2 1 3 1-4 1 0 1-3 1 1 1 2 1 4 1 1 1-3 1 2 1-6 1 1 1 9 1-9 1 8 1-4 1-3 1 6 1-5 1 0 1-5 1 3 1 0 1-6 1 0 1-3 1 3 1 3 1-9 1 2 1-8 1 9 1 6 1-5 1-2 1 8 1-2 1-3 1 2 1-3 1 4 1-9 1 10 1-2 1 4 1-4 1 0 1 3 1 1 1-11 1 8 1 0 1 3 1-10 1 9 1-3 1 1 1-4 1 8 1-5 1 1 1 3 1 3 1 1 1-3 1 1 1-3 1-2 1 2 1-1 1 6 1 3 1-7 1-3 1 5 1 2 1-2 1-1 1-3 1 5 1-2 1 3 1 8 1-11 1 6 1-7 1 1 1 8 1 0 1-3 1 2 1-4 1 0 1 11 1 2 1-10 1-4 1 6 1 1 1-3 1 2 1 6 1-2 1-4 1-6 1 5 1-3 1 5 1-8 1 9 1-9 1 0 1 0 1 0 1-1 1 1 1-4 1-7 1 6 1 7 1-5 1-4 1 1 1 0 1 2 1 1 1 2 1 4 1-7 1 1 1-5 1 7 1 3 1-3 1 0 1 8 1-5 1-2 1 5 1-2 1-1 1-5 1 5 1-5 1 7 1-9 1 0 1-2 1 6 1 2 1 5 1-8 1-1 1 5 1 1 1 3 1-9 1 7 1-5 1 9 1-9 1-1 1-3 1-2 1 6 1 0 1-5 1-3 1 10 1-3 1-8 1 8 1-1 1 1 1-3 1 1 1 3 1-8 1 2 1 4 1 2 1 2 1-4 1 6 1-4 1-1 1-1 1 1 1-7 1 6 1-4 1 1 1 2 1-2 1 2 1 2 1 0 1-4 1 4 1-3 1 1 1 0 1 0 1 3 1-3 1 2 1 0 1 1 1 2 1 1 1 0 1-1 1 2 1-3 1 1 1 0 1 2 1-5 1 0 1 2 1 4 1-1 1-2 1 0 1 2 1 0 1-2 1 4 1 5 1-6 1 0 1-5 1 6 1-1 1-2 1 4 1 0 1 1 1-1 1-7 1-1 1 10 1-8 1-1 1 0 1-3 1 12 1-13 1 7 1 5 1-12 1 2 1 7 1 2 1-7 1-5 1 1 1 6 1 0 1-5 1 4 1 1 1-2"/><path id="p18" d="M0 773l1 0 1 0 1 0 1 0 1 0 1 0 1 0 1 0 1-6 1-4 1-4 1-7 1-2 1-5 1-1 1-7 1-4 1 4 1-5 1 1 1 1 1-1 1-13 1 6 1 3 1-6 1 0 1 2 1-1 1 2 1 1 1-3 1-4 1 4 1 2 1 1 1 1 1-3 1 0 1 8 1 2 1-4 1-7 1-1 1 4 1-3 1 3 1-3 1 3 1-5 1 7 1 1 1-2 1-4 1-1 1-2 1 4 1-4 1 4 1 0 1-2 1 6 1-2 1-1 1 1 1-1 1 0 1-2 1 5 1-6 1 2 1-2 1 2 1-1 1 3 1-2 1 3 1-5 1-3 1 6 1-3 1 5 1-4 1-4 1 3 1-4 1-2 1 4 1-7 1 10 1-3 1-1 1-1 1 8 1-11 1 5 1 0 1-1 1 3 1-2 1 1 1 2 1 1 1-9 1 12 1 0 1-5 1 1 1-10 1 2 1 6 1 4 1-4 1 6 1-7 1 6 1-3 1-1 1 7 1-5 1 9 1-5 1 1 1-1 1 1 1-5 1 5 1-3 1 3 1-8 1 3 1 2 1 1 1 0 1 2 1 3 1 1 1-9 1 9 1-9 1 7 1-3 1-2 1 10 1-3 1-6 1-8 1 13 1-7 1 1 1-2 1 0 1 1 1-4 1-2 1 0 1 13 1-11 1 5 1 2 1-5 1 3 1-3 1 11 1-7 1 5 1-2 1 2 1 0 1 2 1 0 1-12 1 7 1-7 1 6 1-7 1 2 1-1 1 0 1-6 1 6 1-1 1-8 1 5 1 0 1 6 1-2 1-6 1 6 1 6 1-8 1 9 1-6 1-6 1 4 1 5 1 2 1 1 1-4 1 1 1-5 1 5 1-4 1 2 1-4 1 13 1-10 1 4 1-2 1 5 1-8 1 5 1-9 1-3 1 1 1 10 1-6 1-4 1 8 1-9 1-1 1 7 1-5 1 0 1 0 1-4 1 3 1-3 1 2 1 1 1 1 1-6 1 4 1-7 1 6 1 3 1 0 1-4 1 0 1 5 1 3 1-3 1 2 1-2 1 8 1-8 1 9 1-1 1-5 1-1 1 5 1 0 1-1 1 3 1-2 1-5 1-1 1 5 1-1 1 0 1-5 1 10 1-6 1 0 1 1 1-1 1 3 1-4 1-1 1 3 1-4 1-1 1 2 1 3 1 1 1 0 1 5 1-3 1-3 1 5 1-1 1 3 1-2 1-1 1 1 1 6 1-5 1-1 1-1 1-3 1 2 1 5 1-5 1 1 1-6 1 1 1 1 1-3 1 4 1 2 1 3 1-6 1 4 1-3 1 9 1-12 1 4 1-1 1 3 1 3 1-4 1 2 1 0 1 0 1-4 1 2 1 3 1-5 1 0 1 0 1 3 1 0"/><path id="p19" d="M0 773l1 0 1 0 1 0 1 0 1 0 1 0 1 0 1 0 1-7 1-5 1-7 1-3 1-1 1-2 1-3 1-4 1-3 1-2 1-1 1-2 1 2 1-4 1-3 1-3 1 3 1-7 1-1 1 8 1 0 1-1 1-1 1-3 1-2 1 1 1 6 1 1 1-6 1 3 1 1 1 3 1 0 1-4 1 1 1 0 1-1 1-4 1-2 1 1 1 0 1 5 1-7 1 0 1 6 1-5 1 2 1-3 1 0 1-2 1-4 1 11 1-8 1 8 1-7 1 3 1 1 1 11 1-12 1-1 1 1 1-2 1-3 1 4 1-1 1 2 1 3 1-8 1 1 1 5 1 0 1-4 1 3 1 4 1 0 1-6 1 6 1 0 1-2 1 1 1 0 1 5 1 0 1-1 1 4 1-9 1 7 1-4 1 6 1-1 1-1 1 0 1 3 1-3 1-4 1-2 1 0 1 0 1-2 1 5 1-2 1 0 1 4 1-1 1-3 1-2 1 8 1-8 1 6 1 2 1-1 1 4 1-6 1-1 1-4 1 2 1-2 1-3 1 2 1 7 1 0 1-3 1 1 1-3 1 3 1 1 1-6 1 2 1-3 1 0 1 7 1-5 1 2 1 0 1 1 1 5 1 0 1 3 1 1 1-1 1 3 1-8 1 1 1 1 1-2 1 8 1-13 1 10 1-4 1 0 1 2 1-4 1 3 1-4 1 0 1 3 1-7 1 4 1 3 1 0 1-4 1 11 1-5 1-4 1-2 1 1 1 0 1 3 1 1 1-8 1 7 1-2 1 1 1-4 1 11 1-6 1 3 1-2 1-2 1 5 1-8 1 6 1-4 1 2 1-1 1-3 1 2 1-3 1 1 1-2 1 5 1-1 1-5 1 0 1 0 1 1 1 4 1-7 1 0 1 4 1 5 1 0 1-6 1 4 1-1 1 3 1-4 1 3 1 4 1 2 1-3 1 1 1 0 1-8 1 0 1 1 1 1 1-8 1 9 1-3 1 1 1 1 1-7 1 3 1 2 1 0 1-3 1 1 1 2 1-1 1-4 1 6 1-3 1-9 1 7 1 3 1-2 1 2 1 0 1-4 1 3 1-2 1 3 1 0 1-4 1-3 1 2 1 3 1-5 1 1 1 2 1 0 1-2 1 4 1-4 1 4 1-9 1 3 1-1 1 6 1-6 1 1 1 4 1-6 1 5 1 0 1-1 1 4 1-1 1-1 1 0 1 1 1-3 1 4 1 2 1-4 1 2 1-2 1-5 1 1 1 0 1 3 1 0 1 1 1-1 1-2 1-1 1 2 1 3 1-5 1 9 1-3 1-2 1-5 1 4 1-2 1 5 1 7 1-3 1 3 1-2 1 2 1 0 1-2 1 0 1-4 1 6 1-1 1-3 1 1 1 2 1-2 1 4 1-4"/><path id="p20" d="M0 773l1 0 1 0 1 0 1 0 1 0 1 0 1 0 1 0 1-7 1-6 1-6 1-2 1-5 1-3 1-6 1 1 1-7 1 3 1-3 1-2 1 0 1 1 1-1 1-3 1 3 1-9 1 3 1 2 1 3 1-8 1-3 1 8 1 3 1-8 1-4 1 4 1 5 1-2 1-3 1 6 1-4 1 0 1-1 1 7 1-2 1-1 1 3 1-2 1 3 1 3 1 1 1-2 1-1 1-4 1 2 1 4 1-5 1-4 1 8 1-3 1 7 1-13 1 5 1-2 1 4 1-1 1 2 1 2 1-8 1 2 1 4 1-1 1-2 1-2 1-5 1 10 1-4 1 3 1-5 1-3 1-6 1 2 1-1 1 4 1-8 1 3 1 5 1 0 1-3 1 6 1 0 1-4 1 2 1 2 1-1 1 1 1 0 1-2 1 6 1-8 1 3 1 0 1-1 1-3 1-6 1 9 1 0 1-2 1 1 1 4 1-4 1 0 1-6 1 2 1 9 1 2 1-12 1 7 1 5 1-4 1-6 1 3 1-5 1 2 1 6 1-4 1 7 1-6 1 0 1 1 1 0 1-5 1 9 1-1 1-2 1 2 1-3 1 2 1 5 1-6 1 3 1 2 1-7 1 5 1-1 1-4 1 4 1 1 1-1 1-2 1 1 1-4 1 7 1-7 1 2 1 0 1 2 1 4 1-4 1-4 1-2 1 5 1-3 1-2 1-2 1 2 1 4 1-1 1-3 1 2 1-9 1 12 1-4 1 4 1-3 1-4 1 13 1-5 1 2 1-3 1 4 1-2 1 4 1-6 1 0 1 5 1 5 1-6 1 0 1 2 1-8 1 10 1-11 1 6 1-2 1 7 1 1 1-5 1-4 1 7 1-5 1 3 1 4 1-5 1-1 1 3 1-3 1 0 1-4 1 4 1-1 1-4 1 7 1-5 1 1 1 0 1-5 1 3 1 1 1-3 1 7 1-6 1 5 1-3 1-3 1 6 1 3 1 2 1-1 1 0 1 2 1 1 1 0 1 1 1-1 1 0 1-5 1 6 1 0 1-2 1-1 1 2 1 0 1-2 1-1 1-6 1 5 1-3 1-3 1-2 1-4 1 5 1-1 1-6 1 0 1 5 1 3 1-5 1 6 1-8 1 2 1 7 1-7 1 7 1-1 1-5 1 8 1 3 1-2 1-4 1 0 1 4 1 3 1-5 1 1 1-6 1 8 1-9 1 2 1-3 1-1 1-1 1 4 1-6 1 6 1-6 1 2 1 2 1-1 1-1 1 1 1-1 1 2 1 2 1-7 1 10 1 2 1-5 1-2 1 0 1 0 1-1 1 7 1-5 1 6 1-5 1 4 1-4 1-1 1 1 1 2 1 1 1-5 1-1 1 5 1 5 1-6 1-3 1 3 1 0 1-4 1-2"/><path id="p21" d="M0 773l1 0 1 0 1 0 1 0 1 0 1 0 1 0 1 0 1-7 1-6 1-4 1-4 1-4 1-1 1-3 1 4 1-5 1 0 1-10 1 10 1-7 1-3 1 3 1-1 1-3 1 6 1-6 1-5 1 0 1 1 1-1 1-4 1 5 1-4 1-4 1 7 1-3 1-3 1-4 1 11 1-6 1-3 1 5 1 2 1 1 1 4 1-9 1 10 1-5 1 1 1-3 1 2 1-6 1 10 1 1 1-7 1 5 1-6 1 0 1 1 1 6 1-1 1 0 1-2 1 1 1-2 1 4 1-9 1 5 1 0 1 8 1-5 1-7 1 4 1 0 1 1 1-3 1-3 1 3 1-4 1 7 1-4 1 1 1 1 1 5 1-4 1 0 1 6 1-11 1 6 1 5 1-8 1 7 1-5 1 6 1-9 1 3 1 0 1 3 1 0 1-8 1 5 1-6 1 7 1-4 1 4 1-6 1 7 1-9 1 6 1-6 1 1 1 0 1-1 1-6 1 9 1-2 1-6 1 1 1-3 1 4 1 2 1-1 1-1 1 0 1 2 1 4 1 0 1-5 1 8 1-6 1 11 1 0 1 2 1-7 1 5 1-1 1-5 1 3 1 6 1-1 1 1 1-9 1 3 1 1 1-4 1-3 1-2 1-6 1 9 1-6 1-1 1 1 1 9 1-4 1-11 1 8 1-3 1 3 1-8 1 3 1 6 1 1 1-5 1-2 1 5 1-3 1 2 1 1 1 0 1 6 1-2 1-3 1 1 1-4 1 10 1-6 1-6 1 6 1-1 1 4 1 0 1-3 1 4 1 0 1 1 1-1 1-8 1 0 1-1 1 2 1 0 1 4 1-3 1-4 1 4 1 3 1-8 1 6 1-7 1 2 1 1 1-1 1 0 1-4 1-1 1-1 1 2 1 1 1-1 1 3 1 2 1-2 1 1 1 4 1-1 1-5 1 2 1 2 1-1 1 0 1-2 1 2 1 3 1 0 1 2 1 8 1-11 1 10 1-5 1 5 1 1 1-6 1 7 1-2 1 7 1-10 1 3 1 1 1-6 1 4 1 8 1-11 1 5 1 0 1 0 1 3 1-3 1-1 1-3 1-1 1 7 1-8 1 7 1-5 1 4 1 1 1 8 1-12 1 9 1-8 1 7 1 0 1-2 1-2 1-2 1-6 1-2 1-1 1-3 1 1 1-1 1 1 1-4 1 4 1 7 1-3 1-6 1 5 1 2 1-5 1 4 1 1 1 1 1-5 1 4 1 1 1 0 1 2 1-2 1-7 1 6 1-5 1 6 1-1 1 1 1-4 1-3 1 4 1 0 1 4 1-7 1 0 1 2 1-3 1 3 1 3 1 5 1-4 1 4 1-4 1-1 1 5 1 5 1-8 1 2 1 0 1 7 1-2 1-4 1-1 1 1"/><path id="p22" d="M0 773l1 0 1 0 1 0 1 0 1 0 1 0 1 0 1 0 1-7 1-5 1-4 1-4 1-5 1 1 1-1 1-10 1 6 1-4 1-2 1-3 1 2 1-2 1-7 1 0 1 5 1-10 1 0 1 2 1 3 1-10 1-3 1 10 1 4 1-13 1 7 1 0 1 1 1 4 1-1 1 1 1-2 1 3 1-5 1 5 1-5 1 9 1-4 1 0 1 3 1-4 1 2 1-6 1 1 1 3 1 2 1-3 1-4 1 3 1 1 1 1 1 5 1-9 1 5 1-2 1 0 1 4 1-1 1-1 1-4 1 5 1 1 1 0 1 1 1-4 1 6 1-3 1-1 1-3 1 2 1 4 1-1 1 2 1-4 1 0 1 4 1-6 1-7 1 6 1 2 1 0 1-6 1 3 1 2 1 2 1-8 1 10 1-9 1 4 1-7 1 4 1 1 1-6 1 8 1-7 1 0 1 10 1-4 1 0 1-2 1-2 1 1 1-2 1 4 1 4 1 3 1-3 1-1 1 1 1-4 1 3 1 5 1-2 1 0 1-10 1 6 1 4 1-3 1-2 1 7 1-10 1 8 1-6 1-3 1 5 1-3 1 6 1-8 1 1 1-4 1 3 1 5 1 1 1 0 1 0 1-7 1 10 1-1 1-2 1 2 1-2 1-7 1 4 1-2 1 0 1-3 1-3 1 2 1 0 1 3 1 1 1-5 1-1 1-1 1 3 1 3 1 1 1-5 1 5 1 1 1 2 1-1 1-5 1 1 1-3 1 3 1 1 1-3 1 0 1 5 1 8 1-8 1 3 1-7 1 4 1 3 1 3 1-6 1-2 1 9 1-7 1 3 1-4 1-7 1 11 1-7 1-5 1 6 1 3 1 4 1-5 1-5 1 5 1-8 1 13 1-2 1-6 1 2 1-2 1 1 1 4 1-1 1-7 1 3 1-4 1 2 1-4 1 1 1 2 1 2 1-8 1 5 1 4 1-10 1 3 1 0 1 6 1-6 1 3 1 4 1-2 1 2 1-9 1 7 1-3 1-2 1-3 1 9 1 1 1-6 1 1 1-5 1 9 1-6 1 2 1 4 1 11 1-10 1 2 1 7 1-9 1 6 1 2 1-1 1-4 1-2 1 4 1 3 1 2 1 6 1-1 1-3 1 0 1 2 1-8 1 1 1 6 1-7 1 2 1-9 1 4 1-1 1 0 1-2 1 3 1-7 1 5 1 5 1-5 1-3 1 7 1 1 1-5 1-5 1 2 1 11 1-11 1 3 1 1 1-3 1-9 1 12 1-4 1 6 1-9 1 0 1 0 1-1 1 5 1-4 1 0 1 3 1-6 1 0 1 6 1-3 1-1 1 1 1-1 1 3 1 2 1 4 1 0 1-2 1 1 1 5 1-3 1-2 1-2 1 3 1 2 1-3 1 8"/><path id="p23" d="M0 773l1 0 1 0 1 0 1 0 1 0 1 0 1 0 1 0 1-7 1-6 1-7 1-5 1 1 1-4 1 1 1-6 1-2 1-4 1 7 1-1 1-6 1-1 1 3 1-3 1-2 1 2 1-6 1-1 1 4 1 2 1 2 1-3 1 0 1 8 1-11 1-2 1 1 1 4 1-1 1-7 1-2 1 6 1 2 1-3 1-2 1-6 1 3 1 2 1 3 1-2 1 3 1-7 1 3 1 3 1-4 1-6 1 8 1 1 1-3 1 0 1-1 1 2 1-2 1 3 1 0 1-4 1 11 1 0 1-3 1 4 1-1 1-10 1 12 1-1 1-5 1 1 1 6 1-8 1-4 1 4 1-3 1 2 1 2 1-1 1-5 1 0 1 7 1-9 1 2 1-1 1-2 1 9 1-4 1 1 1 0 1-2 1-2 1 2 1-7 1 10 1-13 1 9 1-5 1 5 1 5 1-2 1 2 1-4 1 2 1 5 1-11 1 4 1 9 1-3 1-1 1-2 1-1 1 2 1-7 1 10 1-7 1 2 1-4 1 6 1 0 1-6 1 6 1 2 1 2 1 1 1 5 1 1 1-2 1-1 1-2 1 4 1 1 1-2 1 2 1-2 1-4 1 5 1 1 1-2 1-3 1 3 1-6 1-6 1 3 1-1 1-2 1 3 1 1 1 0 1 5 1-1 1-3 1 1 1-2 1-4 1 1 1 0 1-9 1 8 1-2 1-4 1 3 1-4 1 5 1-7 1 3 1 7 1-6 1-2 1 3 1-3 1 4 1-3 1 2 1-4 1 2 1-1 1 0 1 5 1 0 1-2 1-2 1 2 1 6 1-8 1 3 1-3 1 8 1-2 1 1 1 2 1-8 1 6 1 2 1 2 1-2 1-4 1-2 1 2 1 3 1-2 1 6 1-1 1-5 1-2 1 0 1-1 1 1 1-1 1-2 1 1 1 0 1-1 1-7 1 9 1-10 1 11 1-6 1 0 1 1 1 7 1 8 1-4 1-3 1-7 1 10 1-2 1 0 1-4 1 4 1-3 1 7 1 3 1-5 1 2 1-6 1 3 1-5 1 7 1-2 1-1 1-6 1 4 1-1 1-5 1 6 1 0 1-7 1 13 1-12 1 5 1 0 1-1 1 0 1 2 1-5 1 13 1 1 1-7 1 6 1-3 1 1 1 0 1-2 1 10 1-5 1-8 1 6 1 0 1-11 1 7 1 3 1-6 1-1 1 5 1-8 1 2 1 5 1-10 1-1 1 0 1 0 1 3 1-1 1 2 1-6 1 2 1-4 1 5 1 4 1 2 1 2 1 0 1-12 1 17 1-3 1 2 1-8 1 3 1 1 1-4 1 5 1-4 1-4 1 6 1 0 1-3 1-1 1-1 1 3 1-2 1 0 1-4 1 4 1-1 1 2 1-3"/><path id="p24" d="M0 773l1 0 1 0 1 0 1 0 1 0 1 0 1 0 1 0 1-7 1-7 1-8 1-2 1-4 1-4 1-3 1-1 1-4 1 2 1 1 1-2 1 0 1-5 1 9 1-3 1-3 1 0 1 0 1 2 1-4 1-1 1 4 1-5 1-2 1-1 1-7 1 8 1-7 1 0 1 5 1-8 1 6 1-5 1 3 1-1 1-3 1-1 1 3 1 1 1 1 1-3 1 2 1 9 1-12 1 9 1 3 1-2 1-2 1 1 1 3 1-6 1 3 1-2 1-6 1 4 1 7 1-3 1-2 1-3 1-3 1 6 1-1 1-1 1-1 1 0 1 0 1 7 1-4 1 6 1-3 1-2 1 0 1 2 1 1 1-6 1 0 1 8 1-12 1 0 1 8 1-10 1 1 1 0 1 4 1-1 1-3 1-2 1 2 1-4 1 7 1 5 1-2 1-4 1 0 1-1 1 3 1 0 1 2 1 0 1-1 1 2 1 4 1 2 1-3 1-8 1 6 1 4 1 0 1-1 1-5 1-2 1 7 1-2 1-1 1 5 1-8 1-1 1-2 1 3 1-2 1-3 1 2 1-5 1-1 1 4 1-1 1 0 1-8 1 10 1 3 1 2 1-1 1-5 1 2 1 0 1 10 1-14 1 3 1 9 1-7 1 5 1-11 1 8 1 4 1 2 1-8 1 7 1 0 1-2 1 2 1 3 1-6 1 4 1-6 1 4 1-3 1-3 1 3 1 2 1 3 1-5 1 3 1-4 1-1 1-3 1-4 1 0 1-1 1 3 1-1 1 4 1-8 1 5 1-3 1 1 1 6 1-6 1 4 1-4 1-2 1 7 1-2 1 3 1-2 1 1 1 2 1 0 1-2 1 2 1 0 1 2 1 3 1 3 1-5 1 1 1-2 1 4 1-1 1 1 1 3 1-1 1 9 1-12 1 4 1-5 1-2 1 6 1-1 1-3 1 0 1-3 1 6 1-3 1-7 1 5 1-5 1 4 1 4 1-4 1 0 1 5 1-9 1 3 1 1 1 9 1-2 1 1 1-3 1-3 1-2 1-1 1 5 1-9 1 7 1 0 1-2 1-5 1 13 1-12 1 6 1 2 1 6 1-7 1 2 1-1 1 3 1-3 1 3 1-4 1-4 1-4 1 8 1-7 1 3 1-3 1 9 1 1 1-3 1-3 1-1 1 11 1-9 1-4 1 7 1-4 1 6 1-4 1 4 1-2 1 4 1-9 1-4 1 9 1-3 1 3 1-1 1-1 1 0 1 1 1-1 1-1 1-5 1 5 1 1 1 4 1 0 1-2 1 0 1 0 1 3 1-2 1 1 1-1 1 1 1-2 1 0 1 4 1-5 1 1 1-4 1 12 1-6 1-1 1-8 1 2 1-2 1 0 1 1 1-2 1-2 1 5 1-5 1 1"/><path id="p25" d="M0 773l1 0 1 0 1 0 1 0 1 0 1 0 1 0 1 0 1-8 1-5 1-6 1-4 1-2 1-5 1-6 1 4 1-8 1 3 1-5 1-6 1 6 1-8 1 8 1-11 1 6 1-13 1 12 1 2 1 0 1-3 1 3 1-2 1 3 1-6 1-2 1 9 1-5 1 3 1-2 1-1 1 3 1 1 1 7 1-15 1 12 1-9 1 5 1-3 1 5 1-6 1 4 1 0 1 0 1-2 1 3 1-2 1 4 1-7 1 7 1-5 1 5 1 1 1 0 1-2 1-2 1-2 1 3 1-2 1 4 1 4 1-11 1 3 1-2 1 6 1-6 1-1 1-3 1 7 1-4 1 2 1 0 1-2 1 4 1 0 1 2 1 2 1 1 1 2 1 0 1 0 1 1 1 2 1 2 1-2 1 2 1-11 1 8 1-3 1-5 1 3 1-2 1-5 1 6 1-9 1 8 1-5 1 5 1-1 1 3 1-8 1 1 1 7 1-10 1 7 1-2 1 1 1 3 1-15 1 10 1 0 1-7 1 4 1 2 1-6 1-6 1 7 1 5 1 0 1 0 1 2 1-1 1-1 1 0 1 0 1-5 1 11 1-5 1 0 1 6 1-11 1 2 1 10 1-12 1 10 1-6 1-4 1 6 1-4 1 7 1-1 1-1 1-1 1-6 1 0 1 10 1 2 1-5 1 4 1 1 1-3 1-1 1 3 1 0 1 1 1-4 1-2 1 2 1 3 1-3 1 1 1 3 1-6 1-1 1-3 1 0 1 3 1 1 1-4 1-3 1 4 1 0 1 4 1 1 1-4 1 2 1 6 1-9 1-3 1-3 1 8 1 0 1-2 1 1 1-7 1 2 1 4 1-5 1 2 1 0 1 6 1 3 1-9 1 4 1-1 1 0 1 2 1-6 1 4 1 10 1-7 1-2 1 0 1 0 1 3 1-2 1-1 1-3 1 2 1 0 1-2 1 2 1-5 1 4 1-7 1 7 1-3 1 1 1-5 1 1 1 5 1-10 1 1 1 2 1 2 1 3 1-7 1 4 1-3 1 7 1-6 1-5 1 0 1 3 1-2 1 6 1-9 1 8 1 2 1-1 1-3 1 0 1 8 1-5 1 0 1 0 1 5 1 0 1 8 1 1 1-10 1 7 1 2 1-4 1 6 1 2 1-3 1-1 1 10 1 0 1-9 1-1 1 7 1-6 1-4 1 0 1 1 1-5 1 6 1-3 1-1 1 2 1-1 1-4 1 0 1 0 1 7 1-10 1 3 1 0 1 0 1-3 1 4 1-1 1 1 1-7 1 0 1 5 1-9 1 9 1-2 1-1 1 3 1-2 1 3 1-1 1-2 1-3 1 7 1 5 1-2 1 2 1-4 1-1 1 0 1 8 1-11 1 11 1-4 1 0 1 3 1-6 1 5"/><path id="p26" d="M0 773l1 0 1 0 1 0 1 0 1 0 1 0 1 0 1 0 1-7 1-6 1-4 1-7 1-3 1-2 1 0 1 1 1-9 1 3 1 2 1-4 1 0 1-1 1 7 1-5 1-3 1-2 1 2 1 1 1-2 1 1 1 6 1-6 1 4 1-11 1 5 1-4 1-1 1 6 1-1 1-6 1 1 1 3 1-2 1-6 1-4 1 4 1 2 1-1 1 5 1-7 1-1 1 7 1-5 1 0 1 0 1 3 1 3 1-4 1 6 1-5 1 4 1-1 1-1 1 3 1-5 1 7 1-5 1 5 1-8 1 5 1-5 1 7 1-10 1 9 1 0 1-1 1-8 1 0 1 1 1 1 1-3 1-4 1 4 1 4 1-9 1 4 1 0 1 5 1 2 1-4 1 5 1-7 1 5 1-6 1 3 1 3 1-4 1-2 1 10 1-10 1 1 1 9 1-6 1-1 1-4 1 4 1 2 1 4 1-4 1-1 1 3 1 0 1-4 1 1 1 0 1 1 1-3 1 7 1 2 1-14 1 6 1 6 1 2 1-12 1 8 1-2 1-10 1 12 1 4 1-9 1 5 1-11 1 11 1-2 1 0 1-2 1 1 1 1 1-4 1 5 1 0 1-4 1 1 1-6 1 0 1-2 1-2 1 12 1-2 1-4 1 0 1-3 1 7 1 2 1-7 1 1 1 6 1-4 1 2 1-5 1 1 1 1 1 2 1 0 1-5 1 6 1-1 1-7 1-1 1 1 1 3 1 2 1-5 1 2 1 1 1-5 1 1 1 10 1-18 1 9 1 2 1 1 1-4 1 2 1 3 1 1 1-3 1-4 1 5 1-1 1 2 1-2 1 0 1-2 1 0 1 7 1 0 1-4 1 5 1-6 1 3 1 2 1 3 1-1 1 1 1-10 1 6 1-1 1 5 1 1 1 3 1-2 1 3 1 2 1 2 1 3 1 0 1-8 1 5 1-6 1 10 1-7 1-4 1 9 1-1 1-6 1 0 1-1 1 3 1-4 1-1 1 10 1-4 1-3 1 2 1-1 1-3 1 7 1-5 1-6 1 4 1 2 1 1 1-5 1 2 1 0 1 6 1-2 1 0 1 1 1-2 1-1 1-2 1 5 1 2 1-6 1 3 1 0 1 1 1 1 1-4 1 3 1-2 1-3 1-5 1 5 1 1 1-4 1-3 1 5 1-3 1-2 1 5 1 0 1-6 1 4 1 2 1-5 1-5 1 0 1 4 1-7 1 5 1-3 1 6 1-6 1-3 1 10 1 3 1-2 1 0 1-1 1 5 1 1 1 3 1 4 1-6 1 5 1-5 1 9 1-1 1-4 1 0 1-3 1-1 1 1 1 7 1-15 1 6 1 3 1-5 1 4 1-9 1 3 1-2 1 2 1-4 1 0 1 4 1-2 1-2 1 6"/><path id="p27" d="M0 773l1 0 1 0 1 0 1 0 1 0 1 0 1 0 1 0 1-6 1-5 1-3 1-4 1-4 1 2 1-2 1 0 1 0 1 0 1-2 1 4 1 2 1-6 1 3 1 0 1 0 1 1 1 6 1 0 1-1 1 0 1 3 1-2 1 5 1 0 1 0 1-3 1-6 1 6 1-1 1 1 1-7 1 4 1-3 1-4 1 5 1-1 1-4 1 0 1 1 1-3 1 2 1 0 1 1 1 0 1-2 1-3 1 2 1 1 1 1 1 2 1-3 1 1 1-1 1 5 1-5 1 3 1 0 1 0 1 4 1-5 1 0 1 3 1 1 1-4 1 1 1 2 1-2 1 0 1 4 1-3 1-1 1 4 1-1 1 3 1 1 1-3 1 5 1-5 1 6 1 0 1 4 1-2 1-2 1 2 1 0 1-1 1 4 1-1 1-4 1 7 1-4 1 5 1-4 1-2 1 4 1-3 1 2 1-5 1 1 1-4 1-4 1 3 1 0 1-4 1 5 1-4 1 0 1 2 1-6 1 3 1 1 1 0 1 2 1 1 1-1 1 0 1 0 1 1 1 2 1-5 1 2 1 0 1 5 1-2 1 0 1-3 1 3 1 1 1-1 1 2 1 0 1-1 1-2 1 6 1-9 1 7 1-2 1 4 1-2 1-1 1 0 1 1 1 0 1-2 1-2 1-5 1 7 1 0 1 0 1-1 1-4 1 2 1-1 1-2 1 2 1 1 1 2 1 1 1 1 1-1 1 0 1 4 1 0 1 0 1 0 1-1 1 1 1 2 1 1 1 1 1-1 1-3 1 0 1 6 1-6 1 1 1-2 1-2 1 3 1 1 1-5 1 0 1-3 1 2 1 0 1-2 1 1 1-3 1-2 1 2 1 3 1-3 1-4 1-1 1 0 1 3 1 2 1-2 1-1 1 1 1 3 1-3 1 0 1 8 1-2 1-4 1 2 1 1 1 0 1 3 1 1 1-2 1 5 1-1 1-6 1 5 1-3 1 1 1-1 1 1 1 7 1-9 1 2 1-2 1 0 1-4 1 8 1-3 1-6 1 7 1-4 1 0 1 1 1 3 1-4 1 0 1-1 1-1 1 0 1-3 1 3 1-4 1 0 1 2 1-1 1 0 1 1 1 3 1-3 1 1 1 0 1 5 1-6 1 6 1-4 1 2 1 2 1-2 1-6 1 1 1-2 1 1 1-1 1 3 1-7 1 0 1 3 1-1 1 1 1-2 1 1 1-2 1 5 1 2 1 0 1 4 1 1 1 0 1-2 1 0 1 3 1-2 1 2 1 1 1 1 1-5 1 0 1 0 1-1 1-2 1 3 1-4 1 1 1 0 1-1 1 5 1-5 1-5 1 7 1-5 1 4 1-4 1 4 1 0 1 2 1-5 1 2 1 6 1-4 1 2 1 1 1-3"/><path id="p28" d="M0 773l1 0 1 0 1 0 1 0 1 0 1 0 1 0 1 0 1-8 1-5 1-6 1 0 1-1 1-1 1 1 1 2 1 1 1 2 1-3 1 4 1 2 1 1 1 1 1 2 1-4 1 4 1-1 1 0 1 4 1-1 1-3 1 0 1 0 1-7 1 5 1-7 1 3 1-3 1 1 1-1 1-3 1 3 1-4 1-2 1 1 1 0 1 3 1-2 1 3 1-3 1 9 1-3 1 2 1 0 1 4 1-4 1-1 1-1 1 0 1 6 1-5 1-2 1-2 1 1 1-2 1 2 1 0 1 5 1-3 1 1 1-1 1-3 1 4 1-2 1 4 1-4 1 2 1 1 1-2 1 0 1 0 1-1 1-4 1 0 1-4 1 5 1-1 1-3 1 2 1 3 1-4 1-4 1 7 1 2 1-3 1 3 1 2 1 0 1 1 1 0 1 1 1 5 1-3 1-1 1-2 1 5 1 1 1-1 1-1 1 1 1 0 1-1 1-8 1 9 1-4 1-1 1-1 1-1 1-3 1 0 1 6 1-7 1-2 1 1 1 6 1-8 1 3 1 4 1-4 1 2 1 1 1-1 1 5 1-2 1 3 1-5 1 10 1-5 1 1 1-1 1-1 1-1 1 3 1-1 1 3 1-4 1-2 1 6 1-1 1-2 1-2 1 1 1 3 1 0 1-4 1-4 1 6 1-1 1 1 1-2 1-3 1 4 1 4 1-3 1 1 1-3 1-1 1 4 1-1 1-4 1 1 1 2 1 4 1-4 1 0 1-1 1 4 1 1 1-8 1-4 1 9 1-4 1-2 1 0 1-1 1 1 1-3 1 6 1-3 1-3 1 6 1-4 1 3 1-3 1 3 1 2 1-4 1 7 1-2 1 0 1 2 1 1 1 2 1 0 1 3 1 0 1-3 1 2 1-4 1 2 1 1 1-2 1 3 1-4 1 3 1-5 1-3 1 4 1 1 1-1 1 1 1-1 1 0 1 0 1 2 1 0 1 1 1 4 1-3 1-1 1 1 1 3 1-3 1-5 1 4 1-4 1 1 1 0 1 0 1-1 1 5 1 0 1 1 1-1 1 6 1-5 1 2 1 0 1 4 1-4 1 0 1 5 1-5 1 1 1 2 1-3 1 1 1-1 1 3 1-1 1 0 1-2 1-2 1 2 1-1 1-5 1 1 1 1 1 3 1-3 1 1 1-2 1 0 1-2 1 0 1 3 1-1 1-2 1 3 1-5 1-3 1 5 1-4 1 7 1-7 1 3 1 0 1 0 1-2 1 0 1-4 1 0 1 3 1 1 1 2 1-3 1 0 1 0 1 3 1 5 1-3 1-3 1 4 1-2 1-3 1 3 1-1 1 0 1-1 1 2 1-6 1 6 1-5 1 2 1-1 1 1 1-2 1 3 1 1 1 0 1-1 1 2"/><path id="p29" d="M0 773l1 0 1 0 1 0 1 0 1 0 1 0 1 0 1 0 1-9 1-6 1-5 1-4 1 0 1 2 1-4 1-2 1 1 1 0 1 2 1-2 1 3 1 2 1-1 1 2 1-4 1-1 1 4 1-4 1 0 1 0 1 0 1 1 1 3 1-6 1-4 1 4 1 0 1-2 1 1 1-3 1 4 1-3 1 5 1-1 1-4 1 2 1-2 1 5 1-2 1-2 1 3 1-4 1 3 1-1 1 6 1-4 1 4 1-1 1-1 1 4 1 3 1-4 1-4 1 2 1 3 1 4 1 2 1-2 1 3 1 3 1-4 1 4 1 0 1 1 1 1 1-2 1 4 1-6 1 0 1 1 1 2 1-6 1 4 1-6 1 3 1-5 1 1 1-4 1 5 1 4 1-8 1 5 1-1 1-1 1 1 1 0 1 4 1 1 1-2 1-1 1 0 1 4 1-1 1 0 1-3 1-6 1 9 1-2 1-7 1 0 1 3 1-3 1-4 1 6 1-2 1-2 1 1 1 1 1 3 1-6 1 0 1 2 1 3 1-6 1 3 1 1 1-7 1 1 1 0 1 0 1 0 1-4 1 2 1 5 1 2 1-3 1 2 1 2 1 4 1 3 1 1 1-2 1 3 1 0 1 1 1-2 1 0 1 1 1 3 1 0 1 0 1-3 1-2 1 2 1 5 1-2 1-1 1 1 1-1 1 4 1-1 1-2 1-3 1 1 1 0 1 5 1-7 1 1 1 3 1-4 1-2 1 2 1-2 1 4 1-8 1 7 1-1 1 5 1 1 1-4 1 4 1 2 1-2 1 1 1 2 1 0 1 1 1 3 1-3 1 1 1-1 1 3 1-6 1 3 1-5 1-2 1 3 1-5 1 5 1-2 1 0 1 0 1-2 1 0 1 0 1-2 1-1 1-1 1 0 1 0 1 0 1-4 1 4 1 2 1-4 1-1 1 1 1-2 1 5 1-4 1-1 1 2 1-1 1-1 1 3 1 4 1-4 1 0 1 4 1-6 1 4 1 0 1 3 1 1 1-2 1 2 1-4 1 0 1 7 1-7 1 3 1-7 1 5 1-1 1 1 1-3 1 2 1 0 1 0 1-2 1 4 1 0 1-1 1 1 1 1 1 3 1-2 1 3 1 0 1-3 1 6 1 1 1-1 1 0 1 1 1 2 1-4 1 0 1 6 1-3 1 2 1-4 1-1 1-3 1 6 1-5 1-2 1-5 1 0 1-3 1 0 1-1 1 2 1 1 1-6 1 4 1-1 1-4 1 1 1 4 1-4 1 0 1 4 1-1 1-1 1 5 1-2 1 3 1-1 1 3 1-2 1-3 1 3 1-3 1-1 1 3 1-2 1 1 1-1 1 3 1-6 1-2 1 3 1 0 1-3 1 1 1 0 1-5 1 5 1 2 1 1 1-1"/><path id="p30" d="M0 773l1 0 1 0 1 0 1 0 1 0 1 0 1 0 1 0 1-5 1-5 1-5 1 1 1 1 1-4 1 2 1-1 1 2 1 0 1-1 1-2 1 0 1-4 1-4 1 9 1 1 1-1 1-4 1-6 1 6 1-1 1 1 1-4 1 2 1 1 1 0 1 3 1-3 1-1 1-3 1 2 1 2 1-4 1 1 1 1 1 5 1-2 1-4 1 4 1-2 1 5 1-2 1 0 1 5 1 0 1-1 1 4 1 0 1-4 1 3 1-2 1-6 1 2 1 1 1-4 1 2 1-4 1-1 1-1 1 3 1-2 1-2 1-2 1 6 1-1 1 4 1-2 1 0 1 0 1 4 1 1 1 4 1-2 1-4 1 3 1-2 1 1 1-1 1 3 1-3 1-1 1 0 1-4 1 6 1-1 1 0 1-2 1 2 1 4 1-4 1 2 1-3 1 7 1-6 1 5 1-2 1 1 1 0 1 0 1 0 1 1 1 1 1 0 1-1 1 1 1-2 1 5 1-5 1 3 1-2 1-2 1 1 1-1 1 4 1-2 1 0 1 3 1 2 1-1 1-4 1 3 1-3 1 2 1-2 1 3 1-1 1 0 1-2 1-4 1 3 1-1 1-1 1 0 1-1 1 2 1-1 1 4 1-6 1 0 1 4 1-2 1 2 1 1 1-1 1 1 1 1 1 0 1-1 1-5 1 2 1 0 1 1 1 0 1 2 1 2 1 0 1-1 1-1 1 2 1 1 1-4 1 3 1-2 1 4 1-4 1 1 1 0 1-1 1 4 1 1 1-2 1-3 1 5 1 1 1-3 1 3 1 3 1-2 1-2 1 2 1 1 1-4 1 0 1-2 1 6 1-2 1-2 1-4 1 2 1 2 1-1 1-2 1 3 1-4 1 0 1-2 1 2 1 1 1 1 1-4 1-6 1 3 1 3 1 0 1-2 1-1 1 0 1-3 1-2 1 5 1 3 1-3 1 2 1 0 1 3 1-5 1 3 1-4 1 4 1 4 1 0 1 1 1-1 1-2 1 5 1 0 1-5 1 7 1-4 1 2 1 1 1 2 1-4 1 4 1 0 1-7 1 1 1-1 1-6 1 2 1 1 1 0 1-4 1-1 1-3 1 3 1-1 1 0 1 1 1 1 1-2 1 0 1 0 1 1 1 0 1 3 1-1 1 0 1 5 1-1 1 1 1 5 1-2 1 1 1 2 1 4 1-1 1 3 1 0 1-1 1 0 1 1 1 0 1-3 1 0 1 0 1-4 1 0 1 0 1-5 1 0 1 0 1 1 1-3 1-4 1 1 1-1 1 1 1-2 1 1 1-3 1-2 1 0 1 3 1 0 1 3 1 0 1 4 1-2 1 3 1-1 1 0 1 0 1 0 1 2 1 2 1-1 1-1 1 1 1-3 1-1 1-1 1-1"/><path id="p31" d="M0 773l1 0 1 0 1 0 1 0 1 0 1 0 1 0 1 0 1-8 1-3 1-6 1-1 1-1 1-2 1 2 1-6 1 4 1-5 1 2 1-1 1-2 1 5 1-4 1 0 1-2 1 1 1-5 1 4 1 0 1-1 1 3 1-2 1-2 1-2 1 3 1 4 1 2 1-3 1-3 1 6 1 1 1-4 1 5 1-3 1 2 1 1 1-2 1-1 1 7 1 0 1-7 1 1 1 5 1-1 1 2 1-1 1 0 1 3 1-4 1 5 1-3 1-2 1 5 1-4 1 1 1 3 1-3 1 0 1 2 1 0 1 0 1 0 1-3 1 3 1-4 1-3 1 3 1 2 1-3 1-3 1-2 1 5 1 0 1 0 1 0 1 3 1-1 1 3 1-2 1 1 1 1 1 2 1 0 1-1 1-6 1 5 1-3 1 2 1 2 1-2 1 1 1-3 1 1 1 1 1-3 1 4 1 1 1 1 1-8 1 8 1 2 1-4 1 0 1 3 1 2 1 2 1-4 1 2 1-1 1-5 1 5 1 2 1-1 1-6 1 2 1-3 1 1 1-3 1 5 1 0 1 5 1-7 1 2 1 3 1-1 1-1 1 1 1 2 1 0 1 2 1-5 1 1 1 7 1-4 1 1 1 2 1-1 1-4 1 0 1 2 1 0 1 1 1 0 1 4 1-7 1 5 1-8 1 8 1-1 1-2 1-1 1 4 1-3 1 2 1-4 1 2 1 0 1 0 1-1 1 2 1-4 1 2 1 3 1-2 1-4 1 4 1-3 1-6 1 5 1-6 1 3 1 0 1 0 1 2 1 0 1-2 1 3 1-3 1 0 1-4 1 4 1 1 1-3 1 1 1 2 1-1 1-2 1 4 1-1 1 5 1-7 1 2 1 5 1-4 1 3 1 0 1 0 1 1 1 0 1-1 1-4 1 3 1-3 1-1 1 0 1-2 1 1 1-3 1 0 1 2 1-6 1 2 1-3 1-1 1 3 1-2 1-4 1 5 1 1 1-4 1 5 1 1 1 1 1 3 1 1 1-2 1 6 1-6 1 4 1 2 1-3 1 5 1-2 1 0 1 1 1-2 1 5 1-2 1-2 1 4 1-1 1 1 1-1 1 1 1 1 1-3 1 0 1 1 1-1 1-1 1-3 1 3 1-4 1 0 1-1 1 2 1 0 1-1 1-1 1 5 1-1 1 3 1-3 1 2 1-3 1 4 1-6 1 0 1 8 1-5 1 3 1-3 1 4 1-3 1-2 1 1 1 3 1-1 1-1 1-2 1 2 1 4 1 0 1 0 1-1 1 4 1-2 1-2 1 1 1 2 1-4 1-4 1-1 1 4 1-4 1 1 1-2 1-3 1 3 1 1 1-2 1 1 1 3 1-5 1 3 1-4 1 0 1 4 1 1 1 0 1 0 1 3"/><path id="p32" d="M0 773l1 0 1 0 1 0 1 0 1 0 1 0 1 0 1 0 1-6 1-5 1-7 1 1 1-6 1-5 1 5 1-5 1 2 1-2 1 0 1 3 1-4 1-1 1 1 1-3 1 8 1-1 1 4 1 0 1-4 1 0 1 2 1 2 1 1 1-2 1 1 1 3 1-3 1 2 1-4 1 2 1 1 1 2 1-2 1-1 1 0 1 0 1 1 1-2 1-1 1-3 1 2 1-1 1 3 1-1 1 0 1-1 1-3 1-3 1 5 1-6 1 5 1-2 1 6 1-4 1 1 1-1 1 4 1 0 1 1 1 3 1-5 1 3 1-3 1 5 1-2 1 5 1-1 1 1 1-6 1 5 1 3 1-3 1 3 1-7 1 5 1 1 1-1 1-4 1 4 1-4 1 3 1 0 1-2 1 4 1-2 1 3 1 2 1-2 1 1 1 1 1-1 1 1 1-2 1 2 1 3 1-1 1-1 1-1 1 1 1 3 1-6 1 1 1 1 1 2 1 3 1-9 1 1 1 0 1 3 1 1 1-2 1 0 1 2 1-2 1-3 1 8 1-5 1 1 1 3 1 0 1 2 1 0 1-1 1 4 1-8 1 4 1 2 1-1 1 1 1-4 1 0 1 5 1-5 1-2 1 3 1-3 1 0 1 0 1-1 1-2 1 3 1-4 1-1 1 1 1 2 1 1 1-1 1-1 1-2 1 7 1-9 1 6 1-3 1 3 1 0 1-2 1 4 1-7 1 6 1 1 1-5 1-1 1 4 1-4 1 4 1-7 1 3 1 0 1-5 1 1 1-1 1 2 1-6 1 2 1 4 1-2 1 2 1 0 1-5 1-1 1 0 1 7 1-2 1-2 1 5 1 0 1-7 1 4 1 1 1 3 1-7 1 6 1 2 1-5 1 5 1 4 1-5 1 1 1 3 1-2 1-3 1-1 1 1 1 3 1-5 1 0 1 4 1-4 1 1 1-3 1 2 1-5 1 4 1-1 1 0 1-4 1 5 1 3 1-2 1-2 1 0 1-4 1 7 1 0 1 2 1-1 1 1 1 0 1 5 1-7 1 3 1 1 1 0 1-2 1-2 1-1 1 2 1-3 1 8 1-5 1-1 1 0 1 1 1 3 1 0 1-2 1 3 1-3 1 4 1-1 1 4 1-1 1-2 1 2 1 3 1-7 1 7 1-1 1-1 1 6 1-1 1 0 1-2 1 0 1 2 1 1 1-1 1-5 1-2 1 1 1-1 1-4 1 3 1-2 1-6 1 2 1 0 1 5 1-6 1 4 1-3 1 1 1 2 1 0 1-1 1 1 1 4 1 0 1 1 1 0 1 3 1-5 1 3 1-2 1 3 1 2 1-2 1-4 1 0 1-3 1 3 1 1 1-2 1 1 1-1 1-2 1 6 1-6 1 6 1-4 1 1 1-2"/><path id="p33" d="M0 773l1 0 1 0 1 0 1 0 1 0 1 0 1 0 1 0 1-9 1-8 1-5 1-2 1-3 1-1 1 2 1-3 1 2 1 1 1 0 1 3 1-2 1 1 1 3 1 0 1 1 1-7 1 4 1 3 1 1 1-3 1-2 1 3 1-3 1 1 1 0 1-4 1 5 1-8 1 5 1-4 1-1 1 0 1 0 1 3 1-5 1 8 1-5 1 3 1-2 1 3 1 0 1 7 1-7 1 2 1 5 1-1 1-4 1 3 1-1 1 0 1-3 1 5 1-5 1 4 1 0 1 1 1 1 1-6 1 0 1 3 1-4 1 8 1 0 1-4 1-1 1 6 1-2 1-2 1 2 1-3 1 5 1-3 1-5 1 1 1-3 1 1 1 6 1-4 1-1 1 4 1-1 1 2 1 3 1-5 1 2 1-1 1-1 1 3 1 0 1 1 1 4 1-7 1 6 1 0 1 2 1-6 1 2 1-4 1 4 1 0 1 2 1-6 1 3 1-2 1 5 1 0 1-4 1 4 1 0 1 3 1-1 1 3 1 0 1 4 1-6 1 7 1-2 1 1 1 4 1-3 1 4 1 0 1-1 1-2 1-4 1 3 1-4 1 0 1 3 1-5 1-2 1 0 1 3 1-2 1 0 1 2 1 1 1-3 1-4 1 4 1-5 1 3 1-4 1 3 1-3 1 3 1-3 1 1 1 1 1 0 1-1 1 0 1 2 1-1 1 1 1-2 1 7 1-2 1 0 1 1 1 1 1-1 1-1 1 2 1 0 1 0 1 3 1 1 1-2 1-1 1 2 1 5 1-1 1-5 1 7 1-5 1 1 1 1 1 1 1-7 1 0 1-1 1 0 1 0 1-3 1 1 1-1 1 0 1-1 1-4 1 3 1 2 1-1 1-4 1 0 1 3 1-6 1-5 1 5 1 1 1-5 1 0 1 4 1-1 1-1 1 1 1-2 1 3 1-1 1-1 1 2 1 1 1 2 1-2 1 2 1 6 1-4 1 5 1-4 1 6 1-1 1 1 1 1 1 1 1 4 1-5 1-4 1 2 1 3 1-3 1-3 1 6 1 0 1-4 1 1 1-2 1 2 1-4 1 3 1-2 1-1 1-1 1 1 1-1 1 0 1-2 1 3 1-3 1-2 1 2 1 1 1 4 1 2 1-3 1 1 1-1 1-3 1 4 1-2 1-2 1-3 1 2 1 3 1-4 1-3 1 3 1-4 1 3 1 1 1 2 1-5 1 8 1-1 1 0 1 3 1-3 1 0 1 2 1 0 1-4 1-3 1 1 1 3 1 2 1-4 1 3 1-8 1 5 1-2 1 2 1 1 1-6 1 3 1 4 1-2 1-2 1 4 1-4 1 0 1 4 1-5 1 3 1-1 1 0 1-1 1-3 1 0 1 3 1 1 1 0 1 1 1-5"/><path id="p34" d="M0 773l1 0 1 0 1 0 1 0 1 0 1 0 1 0 1 0 1-7 1-6 1-2 1-2 1-4 1 0 1-4 1 2 1-2 1 1 1 3 1 2 1-1 1 0 1-1 1-3 1 5 1 2 1-1 1-4 1 4 1 2 1-1 1-1 1 1 1-1 1-1 1 5 1-5 1 1 1 2 1-4 1-2 1 2 1 3 1-6 1 0 1-1 1 1 1-2 1 1 1-5 1 1 1 9 1-5 1 3 1 1 1 3 1 0 1-2 1 6 1-1 1-4 1 11 1-2 1-1 1-2 1-1 1 1 1 3 1 0 1-2 1 2 1 0 1 3 1-2 1-6 1 2 1 2 1-3 1 4 1 2 1-4 1-1 1 4 1-6 1-1 1-6 1 4 1-4 1-1 1 0 1 3 1-3 1 0 1 3 1-3 1 4 1 0 1-2 1 1 1 0 1-1 1-1 1 4 1-2 1-2 1 0 1-1 1-1 1 8 1-2 1 0 1 1 1-1 1-1 1 5 1-4 1 2 1 2 1 1 1-8 1 6 1-1 1 0 1 4 1-2 1 3 1 2 1 0 1 0 1-1 1 2 1 0 1-3 1-1 1 2 1 1 1-5 1 1 1 0 1 2 1-4 1 1 1-4 1 3 1-3 1-2 1 5 1 3 1-6 1 3 1 1 1 1 1-1 1 0 1-2 1 3 1-1 1-4 1-1 1 2 1-5 1 0 1 2 1 1 1-2 1 1 1 2 1-6 1 2 1 1 1 1 1 2 1 2 1 0 1 1 1 1 1-1 1 2 1 1 1 1 1-3 1 5 1-5 1-1 1-4 1 7 1-1 1 1 1 0 1 3 1-3 1-1 1 0 1 3 1-4 1 2 1-1 1-1 1-5 1 2 1-1 1-2 1 1 1-2 1 2 1 0 1-3 1 0 1 1 1-2 1 0 1 4 1-5 1 1 1-1 1 7 1-4 1 0 1 6 1-1 1 0 1 3 1-3 1 1 1 2 1 6 1-2 1-3 1 2 1 7 1-8 1 2 1 2 1-1 1 1 1-2 1-2 1-1 1 0 1-2 1 3 1-6 1 2 1 1 1 0 1-3 1 4 1-4 1 3 1-6 1 0 1 5 1-5 1 3 1 1 1-4 1 5 1-3 1 0 1 5 1 2 1-1 1 4 1-2 1-1 1 2 1 0 1 1 1-1 1-2 1 0 1 0 1 3 1-6 1 5 1-7 1 1 1 0 1 1 1-5 1 4 1-1 1-2 1 2 1-1 1 3 1-1 1 2 1 2 1 2 1-3 1 7 1 3 1-4 1 5 1 0 1 0 1-1 1-1 1 2 1-1 1 1 1-1 1 0 1 0 1-2 1 3 1 0 1 0 1-6 1 2 1 1 1-1 1 3 1 0 1 1 1-1 1 1 1-2 1 2 1 0 1 0"/><path id="p35" d="M0 773l1 0 1 0 1 0 1 0 1 0 1 0 1 0 1 0 1-2 1-1 1-2 1 0 1 0 1 0 1-1 1 0 1 0 1 1 1-2 1 1 1-2 1 1 1 0 1 0 1 1 1-3 1-1 1 1 1 2 1-1 1-1 1 4 1-4 1 4 1-1 1 0 1-1 1 1 1-1 1-2 1 4 1-2 1 1 1-4 1 4 1-3 1 2 1 1 1-3 1 3 1 0 1-1 1 0 1 0 1 3 1-3 1 2 1-1 1 3 1-1 1-2 1 3 1-1 1-1 1 2 1-1 1 1 1-2 1-2 1 4 1-3 1 1 1 1 1-1 1-1 1 1 1 0 1 0 1-3 1-1 1 2 1 1 1-1 1-1 1 1 1-1 1 2 1 1 1 0 1-1 1-2 1 1 1 3 1-4 1 2 1-1 1-1 1 0 1 4 1-4 1 1 1-1 1-1 1-1 1 4 1-3 1 1 1-2 1 5 1-3 1-1 1 2 1-1 1-1 1 3 1-6 1 4 1-2 1 2 1 0 1-1 1 4 1-2 1-1 1-1 1-2 1 8 1-4 1 1 1-1 1 1 1-3 1 4 1-3 1 1 1 0 1-1 1 3 1-4 1 3 1-2 1 0 1 0 1 0 1 1 1 2 1 0 1-3 1 0 1-2 1 5 1-3 1 1 1-1 1-1 1-1 1 2 1 0 1-1 1 2 1-1 1-1 1 2 1-1 1 2 1-1 1 1 1 0 1-1 1 3 1-1 1-1 1 0 1 0 1 2 1-3 1 2 1 0 1-1 1 2 1-3 1 1 1 2 1-2 1-2 1-2 1 1 1 2 1-1 1 1 1-2 1 3 1 0 1 0 1-2 1 4 1-1 1-1 1 2 1-1 1 2 1-4 1 2 1-1 1 3 1-3 1 0 1 0 1-1 1 2 1 1 1-3 1-4 1 4 1-1 1 0 1-1 1 0 1 0 1 0 1 0 1 0 1-1 1 2 1-1 1 2 1-3 1 4 1-1 1-1 1 0 1-1 1 4 1-2 1-1 1 0 1 2 1 2 1 0 1-7 1 0 1 6 1-3 1 1 1-2 1 0 1 1 1-1 1 3 1-2 1-2 1-1 1 5 1-3 1 1 1 0 1-2 1 3 1 1 1-1 1 2 1-3 1 3 1-1 1 0 1-1 1 0 1-1 1 1 1 1 1-1 1-2 1 2 1-1 1 0 1-1 1 2 1-1 1-1 1 5 1-5 1 0 1 3 1 0 1-1 1 1 1-3 1 2 1 4 1-5 1 2 1-1 1 4 1-4 1 2 1-1 1 0 1 0 1 2 1-1 1-4 1 6 1-1 1 0 1-2 1 0 1 0 1 2 1-6 1 2 1 2 1-2 1 1 1 0 1-3 1 2 1 1 1-1 1 1 1-1 1 2 1-2"/><path id="p36" d="M0 773l1 0 1 0 1 0 1 0 1 0 1 0 1 0 1 0 1-2 1-1 1-1 1 1 1-3 1-1 1 0 1-2 1 2 1 0 1 0 1 0 1 1 1-1 1 0 1 0 1-1 1 2 1-2 1 3 1-2 1 3 1-3 1 1 1 1 1 1 1-3 1-1 1 3 1-1 1 1 1 0 1-3 1 1 1 1 1 1 1 0 1-3 1 1 1 0 1 0 1-1 1 5 1-4 1 2 1-2 1-1 1 2 1 1 1 0 1-5 1 5 1-2 1-2 1 4 1-2 1 5 1-3 1-1 1 1 1-1 1-3 1 3 1 0 1 0 1-2 1 2 1-2 1 1 1 4 1-3 1 2 1 0 1 0 1 0 1-1 1 1 1-2 1 3 1 0 1 1 1-1 1 0 1-3 1 3 1-1 1 1 1-3 1 0 1 0 1-1 1 0 1-1 1 2 1 1 1-1 1-2 1-3 1 2 1-1 1 3 1 0 1 2 1-3 1 0 1 0 1 3 1-1 1-1 1 1 1-1 1 2 1 0 1-1 1 1 1-1 1 1 1 0 1-1 1 1 1 1 1 2 1-2 1 0 1-2 1-1 1 1 1-2 1 2 1-2 1 1 1 0 1 1 1 3 1-2 1-2 1 4 1-3 1 1 1-1 1 2 1 3 1-5 1 3 1-1 1 1 1-1 1-1 1-1 1 1 1-1 1 2 1-1 1 4 1-5 1 1 1 1 1 0 1 0 1-4 1 2 1-1 1 2 1 1 1 0 1-3 1 2 1 0 1-3 1 6 1-4 1 1 1-4 1 5 1-2 1 1 1 0 1 3 1-4 1 1 1 0 1-1 1 1 1 3 1-1 1-2 1 2 1-3 1 3 1-4 1 1 1 0 1 1 1 0 1-1 1 0 1 0 1 0 1 0 1 1 1-1 1-1 1 2 1-1 1 2 1-2 1-2 1 4 1-4 1 1 1 3 1-1 1 0 1-1 1 3 1-1 1-2 1 2 1 0 1 1 1 1 1-1 1-1 1-3 1-1 1 3 1 0 1-1 1 0 1 1 1-2 1 1 1-1 1 2 1-1 1-3 1 3 1 1 1-1 1-1 1 0 1 0 1-2 1 4 1-3 1 2 1 0 1-2 1 2 1 2 1-2 1-2 1 3 1 0 1 0 1-2 1 1 1 2 1-2 1 2 1-4 1 3 1-3 1 0 1 3 1 2 1-3 1-1 1 2 1 1 1-1 1 0 1 0 1 1 1-1 1 0 1-2 1 1 1 1 1 2 1-3 1-3 1 2 1 0 1-1 1-3 1 4 1 1 1-1 1 1 1-3 1 4 1-3 1 2 1 0 1 0 1 3 1-2 1 1 1 0 1 2 1-1 1 1 1-1 1-1 1 0 1 1 1 0 1-2 1-1 1 1 1 3 1-1 1-1"/><path id="p37" d="M0 773l1 0 1 0 1 0 1 0 1 0 1 0 1 0 1 0 1 0 1-1 1-4 1 3 1-1 1 0 1-1 1-1 1 3 1-2 1-3 1 0 1 2 1-2 1 0 1 4 1-3 1 3 1-3 1-3 1 4 1 1 1-3 1 4 1-2 1 1 1-3 1 1 1-4 1 2 1 4 1-2 1 0 1-4 1 4 1 1 1-1 1 0 1 1 1-1 1 2 1-3 1 1 1-1 1-1 1 2 1 2 1-1 1-1 1 2 1-2 1 0 1 0 1 1 1 1 1-3 1 3 1-2 1-1 1 3 1-2 1 1 1-1 1 2 1 0 1 0 1-1 1 3 1 0 1 0 1-5 1 5 1 0 1-2 1 1 1 0 1-1 1 0 1-3 1 1 1 1 1-1 1 1 1 0 1-3 1 4 1-2 1 0 1-2 1 2 1 1 1 0 1 0 1-3 1 0 1 2 1 1 1 0 1-2 1 5 1-4 1-2 1 3 1-3 1 5 1 0 1-4 1 1 1 1 1-3 1 1 1 0 1 0 1 1 1-1 1 4 1-2 1-3 1 0 1 3 1-2 1 0 1 2 1 0 1-1 1 2 1-4 1 0 1 1 1 1 1 1 1 2 1-1 1 0 1-2 1 2 1-2 1 2 1 1 1-2 1 2 1-2 1 1 1-3 1 0 1 1 1-2 1 2 1 2 1-2 1-2 1 0 1 2 1-3 1 0 1 2 1 1 1 3 1-4 1 2 1 1 1 0 1-2 1 2 1-1 1-2 1-1 1 2 1 4 1-3 1-1 1-2 1 2 1-5 1 4 1 0 1 0 1 1 1 0 1-1 1-2 1 2 1-1 1 2 1-2 1 0 1 2 1 0 1-1 1 1 1 0 1-1 1 3 1-2 1-1 1 2 1-3 1 2 1 4 1-4 1-1 1 1 1 0 1-1 1 4 1 0 1-1 1-1 1-2 1 1 1 1 1-3 1 3 1-2 1 2 1 1 1-2 1 5 1-5 1 0 1 0 1 2 1-2 1 2 1-1 1-1 1 3 1-1 1 1 1 0 1-4 1 2 1 2 1-1 1 1 1-2 1 1 1-1 1-1 1-1 1-2 1 2 1 1 1-2 1 1 1 1 1 0 1-1 1 2 1 1 1-3 1 2 1 0 1 1 1-4 1 3 1 0 1 1 1-4 1 4 1-4 1 2 1 1 1-2 1 1 1 0 1 1 1-1 1 1 1 1 1-4 1 4 1-2 1-2 1 2 1 0 1 0 1 1 1-4 1 3 1-2 1 0 1-2 1 2 1-2 1 2 1 0 1-2 1 1 1 1 1 0 1-1 1 0 1 0 1 0 1 0 1 1 1 4 1-1 1 2 1-4 1 0 1-1 1 2 1 1 1-1 1 4 1-2 1-3 1 2 1 1 1 1 1-2 1-1"/><path id="p38" d="M0 773l1 0 1 0 1 0 1 0 1 0 1 0 1 0 1 0 1-2 1-2 1 0 1 1 1-2 1 1 1-1 1-1 1 1 1 1 1-2 1 2 1 2 1 0 1-3 1 1 1 3 1 0 1-4 1 0 1 3 1-4 1 0 1 2 1-3 1-2 1 2 1 0 1-1 1-3 1 5 1-2 1 0 1 0 1 0 1 5 1-4 1 1 1 2 1 1 1 2 1-1 1 0 1 0 1-2 1 3 1-3 1-2 1 2 1 1 1-6 1 2 1 4 1-4 1 0 1 1 1 0 1-2 1 1 1 0 1 2 1-4 1 2 1 0 1 0 1 1 1 1 1 0 1-5 1 3 1 0 1 0 1 2 1 0 1-1 1 1 1 0 1-2 1 1 1-1 1 1 1 3 1-1 1-5 1 7 1-5 1-1 1 0 1 0 1 4 1-2 1 3 1-2 1-1 1 0 1 3 1 0 1-1 1 1 1-3 1 1 1 0 1 1 1 1 1-3 1-2 1 4 1 0 1-1 1 1 1 0 1-2 1 1 1-1 1 1 1-1 1 2 1-5 1 0 1 3 1-1 1 2 1-1 1-4 1 4 1 2 1-3 1-1 1 2 1 0 1 0 1 0 1 2 1-3 1 0 1 2 1-1 1-3 1 3 1 1 1-2 1 3 1-3 1 3 1-1 1 0 1-2 1-1 1 1 1-1 1 0 1 2 1-3 1 0 1 2 1-1 1 1 1 3 1-2 1 3 1-3 1 0 1 1 1-2 1 4 1-4 1 1 1 2 1-1 1 2 1-2 1 0 1-3 1 5 1-4 1 2 1 2 1-1 1 0 1 3 1-3 1-2 1-1 1-1 1 4 1-2 1 1 1-1 1-2 1 2 1 0 1-1 1 1 1-1 1-3 1 3 1 1 1-1 1 2 1-2 1 2 1-2 1 1 1 2 1-2 1 1 1 0 1 1 1 0 1-1 1 1 1 0 1-1 1 2 1-2 1 0 1 2 1-2 1-2 1 0 1 2 1 0 1 0 1-2 1 2 1-3 1 1 1 0 1-2 1 5 1-3 1 0 1 0 1 1 1 2 1-4 1 3 1-2 1 1 1-1 1 3 1 0 1 2 1-4 1-1 1 2 1-2 1 0 1 1 1 2 1 1 1-2 1 1 1 1 1-1 1 1 1 1 1-1 1-1 1 1 1-3 1 1 1 1 1 1 1-1 1-2 1 1 1 0 1-3 1-1 1 1 1-4 1 7 1-1 1-5 1 5 1-1 1-2 1 2 1 1 1-1 1-1 1 0 1 2 1-1 1-3 1 2 1 2 1-2 1 3 1-1 1-1 1-1 1 0 1 2 1 0 1-2 1 1 1 1 1 1 1-1 1 3 1 0 1 0 1-4 1 0 1 2 1-2 1 1 1-3 1 4 1-1 1 0 1-1"/><path id="p39" d="M0 773l1 0 1 0 1 0 1 0 1 0 1 0 1 0 1 0 1-6 1-4 1-6 1-2 1-2 1-3 1 0 1-2 1 3 1-4 1 1 1 2 1-6 1 3 1-1 1-5 1 1 1 3 1-1 1 1 1-1 1-1 1 3 1-4 1 2 1-1 1-3 1 2 1-3 1-2 1-5 1 4 1 1 1-2 1 0 1-4 1 0 1 5 1 1 1 0 1-11 1 5 1 2 1-2 1 1 1 3 1 3 1-4 1-6 1 0 1 2 1 2 1-10 1 6 1-2 1 1 1-5 1-2 1 7 1-6 1 3 1 1 1 2 1-4 1 3 1 2 1 4 1-6 1 5 1 0 1-1 1 3 1 1 1-1 1 2 1 0 1-2 1 0 1 0 1-1 1-4 1 0 1 4 1-6 1 2 1 2 1-1 1 2 1-5 1 4 1-8 1 5 1 1 1 0 1 2 1-1 1 2 1-1 1 1 1 0 1 5 1-3 1-4 1-2 1 3 1 4 1 0 1-9 1 12 1-6 1-3 1 9 1-3 1-3 1 5 1-2 1-3 1 3 1-5 1 3 1 0 1 2 1-5 1-3 1 0 1 4 1-5 1 2 1-4 1-2 1 2 1-4 1 2 1-2 1-1 1 2 1-3 1 5 1-4 1 6 1 1 1-1 1-3 1 2 1 7 1 1 1 1 1-4 1 3 1-6 1 2 1 2 1-2 1 1 1 0 1 3 1-3 1-1 1-9 1 10 1 0 1-8 1 8 1-6 1 2 1 9 1-3 1 7 1-8 1 2 1 2 1 0 1-9 1 1 1 1 1 1 1 0 1 0 1-2 1-3 1 0 1 1 1 2 1 2 1-8 1 1 1 0 1-2 1-5 1 11 1-2 1 0 1-4 1 7 1-1 1 5 1-5 1 5 1-2 1-1 1 3 1 1 1-4 1 7 1-2 1 3 1-9 1 7 1 1 1-4 1-1 1 3 1-4 1-1 1 6 1 1 1-2 1 0 1 2 1-3 1 2 1 0 1-8 1 4 1-2 1 7 1 1 1-5 1 0 1 2 1-4 1 2 1-1 1-8 1 7 1-1 1 6 1-8 1 5 1-1 1 2 1 2 1 0 1-6 1-1 1 0 1 7 1 1 1-6 1 4 1-5 1 1 1-1 1 2 1-2 1-4 1 5 1-3 1 2 1 0 1-8 1 7 1-2 1-2 1 0 1 2 1-3 1 1 1 3 1-3 1-1 1 2 1 2 1-1 1-2 1 5 1-1 1 4 1-6 1 2 1 2 1-7 1 10 1-3 1 0 1-6 1 4 1-1 1-3 1-3 1 0 1 2 1-1 1 3 1-3 1 0 1-1 1 7 1-3 1 5 1-2 1-3 1 8 1-6 1 1 1 4 1-2 1 1 1 5 1-7 1 6 1-5 1 0 1 2"/><path id="p40" d="M0 773l1 0 1 0 1 0 1 0 1 0 1 0 1 0 1 0 1-7 1-7 1-6 1-5 1 2 1-6 1 1 1-2 1-5 1 1 1 3 1-4 1-10 1 10 1-2 1-1 1-4 1 3 1 2 1-5 1-2 1 5 1-1 1-6 1 1 1 1 1-7 1 1 1 2 1-7 1 8 1 1 1-6 1 8 1 4 1-4 1 1 1-4 1 2 1 0 1 0 1-2 1 7 1 1 1-1 1 2 1-5 1 6 1-7 1 8 1 1 1-5 1-7 1 6 1-2 1 2 1-4 1-2 1 3 1 0 1-8 1 7 1-1 1-3 1 3 1-3 1-4 1 4 1 5 1-4 1 11 1-8 1 4 1-2 1 7 1-1 1-5 1 5 1 2 1 4 1-5 1 2 1-5 1 8 1-7 1-3 1 1 1 8 1 0 1-5 1 2 1-3 1-4 1 2 1 0 1 0 1-9 1 7 1-1 1 0 1 2 1-7 1 5 1-3 1-3 1 6 1-3 1-2 1 0 1 2 1 3 1-7 1 4 1-1 1 2 1-4 1-3 1 5 1 4 1-2 1 0 1-2 1 5 1 3 1 0 1-1 1 2 1-3 1 1 1-1 1 2 1 0 1-4 1 3 1-6 1 2 1-7 1 2 1 2 1-5 1 4 1-4 1 3 1 2 1 4 1 3 1-7 1-1 1 3 1 9 1-9 1 1 1 4 1-2 1 0 1 3 1-7 1 7 1-9 1 3 1 2 1 1 1 0 1-3 1 1 1-2 1-5 1 6 1-1 1 1 1 1 1-3 1-1 1 8 1-6 1 1 1 7 1-6 1 5 1-6 1 8 1-7 1-1 1 2 1-2 1-3 1-2 1 6 1-3 1 1 1-3 1 0 1-2 1-2 1 5 1-1 1-4 1 0 1-3 1 3 1 0 1 1 1-1 1-4 1 1 1 3 1 0 1 4 1 0 1 5 1-5 1 6 1-1 1-2 1 10 1-3 1 2 1-3 1 6 1-7 1-5 1 8 1-6 1-1 1 0 1-2 1-6 1 0 1 9 1-6 1 3 1-1 1-2 1 3 1-7 1 5 1-1 1 4 1-2 1 3 1 0 1-1 1 2 1-5 1 4 1 5 1-3 1 0 1-2 1 0 1-4 1 3 1-1 1 1 1 4 1-2 1 2 1-1 1 3 1 1 1-6 1 5 1-3 1 1 1-7 1 6 1 4 1-3 1-1 1-1 1 3 1-1 1 0 1-7 1 7 1-6 1 0 1 1 1-4 1 10 1-8 1 1 1-5 1 5 1 1 1 3 1-5 1 3 1 7 1 1 1-3 1-5 1 9 1-3 1-4 1-1 1-5 1-1 1 3 1 2 1-3 1 1 1-3 1 6 1-7 1 6 1-5 1 4 1-4 1 6 1 0 1-4 1-1 1-5"/><path id="p41" d="M0 773l1 0 1 0 1 0 1 0 1 0 1 0 1 0 1 0 1-6 1-7 1-5 1-7 1-1 1-5 1-5 1 5 1-1 1-4 1-1 1-1 1 0 1 5 1-1 1-1 1 5 1-2 1 3 1-3 1 3 1 3 1-7 1-1 1 1 1 3 1-3 1-3 1 7 1-3 1 3 1-10 1 1 1-11 1 11 1-3 1 7 1-9 1 2 1-1 1 0 1-2 1 2 1 0 1 0 1 0 1-2 1 1 1 1 1 4 1-4 1-7 1 3 1-1 1 2 1 2 1-1 1-3 1 1 1 7 1-3 1 1 1 1 1 4 1-1 1 3 1-7 1 4 1-5 1 5 1-3 1 2 1 1 1 2 1-2 1 3 1-5 1 1 1 1 1-8 1 8 1-3 1-2 1 0 1 0 1-5 1 2 1-4 1 2 1-1 1-8 1 8 1 0 1-1 1 1 1 0 1-5 1 1 1 5 1-3 1 2 1 2 1-5 1 2 1 3 1-6 1 4 1 2 1-7 1-3 1 5 1 2 1 4 1-6 1 0 1 0 1 3 1 1 1-3 1 5 1-7 1 7 1-2 1 0 1 13 1-2 1-5 1 4 1 6 1-2 1 0 1-4 1 3 1-1 1 4 1 0 1-4 1 3 1-3 1 5 1-3 1-7 1 9 1-3 1-3 1-1 1 2 1 1 1 0 1 7 1-10 1 3 1-5 1 0 1 2 1-2 1 0 1 4 1-7 1 8 1-4 1-3 1 7 1-3 1-4 1-1 1-2 1 5 1-2 1 2 1-2 1 7 1-4 1-4 1 7 1-5 1-1 1-1 1 0 1 10 1-8 1 6 1-7 1-1 1 5 1-8 1 3 1 1 1 2 1-2 1 3 1-3 1-3 1 6 1 0 1 0 1-2 1-4 1 2 1-3 1-1 1-2 1 8 1-4 1-4 1 6 1 0 1 2 1-3 1 3 1-8 1 6 1-3 1-4 1 2 1 5 1-6 1 1 1 7 1-3 1 2 1 2 1 1 1-2 1 3 1-1 1-1 1-3 1-2 1 6 1-3 1-3 1 3 1-1 1-5 1 9 1-4 1-4 1 6 1-5 1 0 1 5 1-2 1 2 1-3 1 2 1 1 1 1 1-3 1 5 1-2 1-2 1 1 1 2 1 2 1-4 1 0 1-1 1-1 1 0 1-1 1 9 1-5 1-5 1 0 1 2 1 2 1-2 1 4 1-3 1-2 1 4 1-4 1-5 1-1 1-3 1 7 1 0 1-1 1 2 1 0 1 1 1-7 1 4 1 2 1-6 1 6 1-4 1-6 1 3 1 1 1-7 1 7 1-6 1-1 1 8 1-1 1-5 1-1 1 10 1-9 1 9 1-10 1 6 1 1 1 0 1 0 1 6 1-9 1 4 1-3 1 9 1-6 1 5"/><path id="p42" d="M0 773l1 0 1 0 1 0 1 0 1 0 1 0 1 0 1 0 1-7 1-6 1-4 1-4 1-4 1-1 1-1 1 0 1 2 1-3 1 2 1-1 1 1 1 0 1-2 1 1 1-4 1 3 1-8 1 11 1-3 1-1 1 0 1-4 1-1 1 1 1-1 1 3 1-2 1 2 1 0 1-3 1-3 1-2 1 7 1-4 1-5 1 3 1-3 1 0 1-4 1 3 1-4 1-6 1 11 1-9 1 7 1-2 1-4 1 3 1-1 1-2 1 4 1 7 1 0 1 4 1-3 1 6 1-9 1 2 1 4 1 0 1-2 1-2 1 0 1 1 1-3 1 1 1 1 1 3 1-4 1 3 1-5 1 9 1 0 1-4 1-3 1 2 1 5 1-7 1 6 1-5 1 3 1 0 1-2 1-6 1 5 1-4 1 1 1-5 1 5 1-5 1 1 1-4 1 1 1 1 1 0 1-1 1-3 1 1 1 3 1-1 1 4 1-2 1 1 1 2 1 5 1-2 1-1 1 3 1 1 1-4 1-2 1 3 1-4 1 4 1-7 1 6 1-2 1-1 1-5 1 4 1-1 1 0 1 4 1 1 1 4 1-1 1-1 1 3 1-6 1 8 1-2 1 11 1-11 1 5 1 0 1 0 1-1 1-2 1 10 1-4 1 3 1-4 1 1 1 1 1 2 1-10 1 3 1 2 1-3 1 1 1 1 1-4 1-1 1-10 1 4 1 2 1 0 1-6 1 2 1 2 1-3 1 2 1-5 1 0 1 6 1-3 1 3 1 6 1-3 1 5 1-6 1 3 1 3 1 3 1-4 1 2 1 1 1-7 1-1 1 1 1 2 1 0 1-11 1 7 1-7 1 3 1 0 1 1 1 1 1-2 1-6 1 2 1 5 1-1 1-3 1-1 1 6 1-2 1 0 1-5 1 2 1 3 1-5 1 10 1-2 1-4 1 2 1-1 1 2 1 1 1-5 1 4 1-6 1 8 1-3 1-5 1 3 1 6 1 0 1-2 1 3 1-5 1 2 1-1 1 1 1-1 1 4 1-12 1 6 1 1 1-3 1-6 1 6 1-1 1 0 1-3 1 2 1 2 1 1 1-3 1-1 1-5 1 4 1-1 1 3 1 1 1-1 1-3 1 5 1-3 1-3 1 3 1 2 1 0 1 1 1-1 1 0 1 5 1 2 1-5 1 0 1 2 1 2 1-6 1 8 1-1 1-9 1-2 1 2 1-3 1 2 1-3 1 5 1-1 1 0 1 1 1-3 1 3 1 5 1-10 1 8 1 2 1 1 1-1 1-1 1-1 1 6 1-11 1 2 1 9 1-6 1 1 1 4 1-3 1-2 1-5 1 6 1-3 1 4 1-3 1-4 1 4 1 1 1 1 1 1 1 3 1 2 1-4 1 2 1 6 1-4 1 4"/><path id="p43" d="M0 773l1 0 1 0 1 0 1 0 1 0 1 0 1 0 1 0 1-6 1-6 1-3 1-6 1 0 1-5 1-5 1-3 1-3 1 2 1 2 1-6 1 7 1-6 1-1 1 4 1-1 1 1 1-3 1-5 1-3 1 3 1 5 1 0 1-7 1 1 1 6 1 0 1-2 1 10 1-4 1-2 1-1 1 1 1 1 1-1 1 1 1-2 1 3 1 4 1-1 1 5 1-4 1 7 1-9 1 5 1-5 1 2 1 3 1-2 1-1 1-5 1 6 1-6 1-4 1-2 1 3 1 0 1 3 1-8 1 0 1 11 1-5 1-7 1 3 1-5 1 1 1 1 1 0 1-4 1 0 1 4 1-4 1 4 1 5 1-2 1 4 1-5 1 1 1 2 1 6 1-2 1 4 1-5 1-3 1 3 1-1 1 0 1 3 1-2 1 1 1-4 1-1 1 5 1-1 1-5 1 0 1 2 1-6 1 6 1-4 1 1 1-3 1 4 1-4 1 1 1 8 1-4 1-4 1 3 1-4 1 2 1 6 1-7 1 0 1-2 1 0 1 0 1 0 1 3 1-7 1 3 1 6 1 1 1-9 1 2 1 0 1 4 1-3 1 1 1 6 1-2 1 1 1 6 1-2 1-3 1-2 1 3 1 1 1-1 1-1 1 3 1-3 1-1 1 1 1-3 1 3 1-2 1 5 1-2 1-10 1 10 1 2 1-6 1-1 1-4 1 1 1 0 1 4 1-8 1 1 1 0 1 4 1-2 1 4 1 0 1-3 1 1 1 4 1-1 1-3 1 0 1 4 1-2 1 5 1-5 1 1 1-1 1 0 1-4 1 3 1 1 1-2 1 1 1 3 1-3 1 6 1-9 1 1 1-2 1 4 1-3 1-1 1 1 1 2 1-5 1 2 1-7 1 4 1 0 1-2 1 5 1-6 1 4 1-5 1 2 1-1 1 5 1 2 1-4 1 3 1-3 1 0 1 0 1 1 1-4 1-4 1 8 1-1 1-3 1-9 1 9 1-8 1 7 1-1 1 0 1 4 1-5 1 3 1 4 1-5 1 1 1 3 1-2 1 2 1 5 1-8 1 6 1 0 1-5 1 3 1 2 1-4 1 5 1-9 1 10 1-7 1 4 1-4 1 2 1 0 1-3 1-1 1 3 1-1 1 3 1-1 1-3 1 7 1-6 1 6 1-1 1 0 1 3 1-3 1 1 1-2 1 2 1 0 1 2 1-4 1 6 1 3 1 3 1-1 1-2 1 0 1-6 1 5 1 0 1-5 1 0 1 0 1 6 1-3 1-1 1-7 1-1 1 5 1-4 1-2 1 3 1-1 1-3 1 2 1 4 1-3 1 0 1 1 1 2 1 0 1 3 1 0 1-1 1 4 1 0 1 0 1-5 1 4 1-7 1 7 1 0 1-3 1-2"/><path id="p44" d="M0 773l1 0 1 0 1 0 1 0 1 0 1 0 1 0 1 0 1-6 1-2 1-4 1-3 1-2 1-2 1-4 1-5 1-3 1 0 1 3 1-4 1-1 1 0 1-3 1 5 1-3 1-4 1 0 1 5 1-7 1 0 1 0 1 3 1-1 1-1 1 1 1-9 1 3 1 1 1 3 1 0 1-7 1 6 1-3 1 7 1-5 1 0 1 3 1 3 1-7 1 1 1 1 1 3 1-1 1-2 1 5 1-3 1 2 1-3 1 1 1-4 1-1 1 5 1-10 1 7 1-2 1 5 1-5 1 4 1-1 1 0 1-4 1-1 1 2 1-2 1 4 1 1 1-3 1 3 1-4 1-2 1-2 1 4 1 1 1 5 1-7 1 4 1-4 1 0 1 4 1-4 1-2 1 4 1 1 1 1 1 2 1 1 1-6 1 2 1-2 1-2 1 6 1-4 1 4 1-1 1-2 1 2 1 4 1-2 1-1 1 10 1-3 1 0 1 5 1-8 1 7 1 3 1-5 1-11 1 4 1 0 1-4 1 6 1-6 1 4 1 0 1-5 1 0 1 0 1 0 1-5 1 5 1-7 1 0 1 3 1 2 1-3 1 2 1-1 1 6 1-4 1-5 1 7 1 4 1-7 1-1 1 6 1 1 1 0 1-7 1 3 1 10 1-11 1 3 1 2 1-1 1-1 1 2 1-1 1 3 1-1 1 1 1-2 1 5 1-7 1 6 1-7 1 2 1-2 1 4 1-4 1-2 1 2 1 6 1-14 1 6 1-4 1 2 1-4 1 3 1-2 1 0 1 6 1-10 1 8 1-7 1 1 1 2 1 1 1 0 1 0 1-7 1 6 1 3 1 1 1 3 1-6 1 6 1 1 1 2 1-1 1 2 1 2 1-2 1-2 1 3 1-1 1 2 1-1 1-1 1 1 1-5 1 6 1-2 1-3 1 2 1 1 1-6 1 8 1-6 1 5 1-2 1 2 1 4 1-4 1 4 1-1 1-3 1 3 1-4 1 1 1 1 1-4 1 1 1 3 1 2 1-3 1-8 1 4 1 0 1-1 1 1 1 2 1-1 1 0 1-2 1-2 1 0 1-3 1 5 1-4 1-4 1 4 1-7 1 1 1 4 1-4 1-2 1 2 1 3 1-3 1 2 1 1 1-5 1 2 1 9 1-8 1-1 1 1 1-2 1 3 1 1 1 3 1-6 1 0 1-6 1 12 1-4 1 0 1-2 1-3 1 4 1 1 1-6 1 1 1 5 1-3 1-2 1 2 1-3 1 3 1-4 1 7 1 3 1-6 1 1 1 6 1-4 1 4 1-3 1 4 1-3 1 1 1 0 1 5 1 0 1 0 1 0 1-1 1-1 1 5 1-3 1-3 1 4 1 0 1-1 1 3 1-2 1 2 1-6 1-2 1 5 1-3"/><path id="p45" d="M0 773l1 0 1 0 1 0 1 0 1 0 1 0 1 0 1 0 1-7 1-7 1-2 1-3 1-3 1-1 1-4 1-3 1-1 1 3 1-7 1 1 1-2 1 1 1 2 1 0 1-4 1-5 1 4 1-5 1 1 1 3 1 0 1 1 1-2 1-1 1 2 1-5 1 0 1 4 1-5 1 2 1 1 1 2 1-1 1-5 1 8 1-7 1 4 1 5 1-3 1 7 1-1 1-2 1 0 1 6 1-11 1 7 1 0 1-1 1 0 1 1 1 0 1 2 1-5 1-2 1 1 1 0 1 1 1-4 1-1 1-4 1-3 1 4 1-2 1-2 1 0 1 3 1-3 1-2 1 1 1 3 1-1 1-2 1 2 1 3 1-3 1 2 1-4 1 8 1-5 1 8 1 1 1-7 1 4 1-3 1 5 1-6 1 8 1-11 1 0 1 2 1 2 1 3 1-2 1 1 1 4 1 3 1-4 1-1 1 2 1 3 1-2 1-2 1-7 1 6 1-2 1 6 1-7 1 1 1 0 1 1 1 1 1-3 1 4 1-3 1 0 1-3 1-1 1 11 1-7 1-2 1 2 1-5 1-6 1 8 1 0 1-7 1 5 1-2 1-4 1 0 1 3 1-2 1-2 1-7 1 4 1-1 1 7 1-5 1 4 1-1 1 1 1 3 1-1 1 4 1-3 1 2 1 3 1 0 1-5 1 1 1 3 1-2 1 1 1-3 1 2 1-2 1-1 1 4 1-3 1 0 1 3 1-1 1-4 1 2 1 5 1-1 1-5 1-3 1 6 1 6 1-7 1 1 1 3 1 1 1-2 1 5 1 3 1-6 1 3 1 3 1 1 1-9 1 5 1 3 1 4 1-5 1 5 1-3 1-2 1 0 1 0 1 4 1-8 1 2 1-1 1 0 1 11 1-15 1-3 1 7 1-2 1-5 1 6 1-2 1-1 1-1 1 3 1-6 1 4 1 3 1-4 1-1 1-4 1-4 1 6 1-3 1 10 1-4 1-2 1 0 1 7 1 0 1-3 1-2 1 2 1 1 1 3 1-3 1 1 1 5 1 1 1-5 1 4 1-3 1-3 1 4 1 2 1-4 1-4 1 3 1-1 1-4 1 3 1 3 1-3 1 1 1 2 1-4 1-1 1 0 1 5 1-8 1 4 1 1 1-3 1-4 1 0 1-4 1 1 1 4 1 0 1-1 1 5 1-3 1 2 1-2 1-3 1 7 1 4 1-10 1 12 1-4 1 3 1-6 1 5 1-5 1 2 1 5 1-4 1 7 1-9 1 11 1-7 1-3 1 0 1 8 1-8 1 1 1-5 1 6 1-3 1-5 1 5 1 1 1-7 1 5 1 1 1-7 1 9 1-3 1-2 1 2 1-4 1 2 1 1 1 2 1-5 1 2 1-10 1 4 1 1 1 1"/><path id="p46" d="M0 773l1 0 1 0 1 0 1 0 1 0 1 0 1 0 1 0 1-6 1-5 1-5 1-4 1-3 1-6 1 0 1-2 1-3 1 4 1-2 1-7 1 2 1-1 1 2 1-7 1 1 1 3 1 0 1 1 1-3 1 0 1 2 1 2 1-4 1 4 1 4 1-9 1 5 1-4 1 2 1 4 1 2 1-4 1-3 1 3 1 0 1-9 1 1 1 3 1 4 1-9 1 3 1-1 1 4 1-7 1-2 1 6 1-4 1-6 1 0 1 5 1-3 1 0 1 2 1-1 1 4 1-1 1 5 1-4 1-2 1 8 1-2 1 2 1-6 1 9 1-3 1 0 1 1 1 3 1-2 1-3 1-2 1 5 1 1 1 0 1-4 1-3 1 2 1-4 1 0 1 5 1-2 1 1 1 6 1-6 1 0 1-2 1-3 1 7 1 1 1 2 1-6 1 7 1 0 1-4 1 5 1-8 1 4 1 9 1-3 1 0 1-9 1 0 1 6 1-3 1-6 1 1 1 6 1-5 1-2 1 4 1-3 1 3 1-2 1-2 1-2 1-1 1 2 1 2 1 0 1-3 1 3 1-3 1-2 1 1 1 1 1 0 1 2 1-5 1 1 1 8 1-7 1 5 1 1 1-5 1-3 1 6 1 3 1 2 1-2 1-1 1-2 1 2 1 3 1-3 1 8 1-10 1 3 1-1 1-2 1 1 1 2 1 0 1-2 1-2 1 4 1-3 1-5 1 3 1 2 1-1 1-3 1 2 1-6 1 2 1 3 1-1 1-5 1 2 1 2 1-1 1 1 1-6 1-1 1 4 1 3 1 3 1 1 1-4 1 0 1-3 1 7 1-2 1-1 1 6 1-5 1 3 1-4 1 5 1 1 1-8 1 3 1-4 1-2 1 3 1-2 1 2 1-4 1 1 1 1 1-1 1 2 1 7 1-3 1 4 1-2 1 0 1 9 1-2 1-8 1 4 1 5 1-3 1 2 1-3 1-3 1 9 1-4 1 2 1 5 1-8 1-2 1 3 1 0 1 1 1-1 1-8 1 3 1-5 1 0 1 4 1-2 1 3 1 4 1-4 1 0 1-4 1 2 1 3 1-5 1 3 1-1 1 1 1 2 1 2 1-4 1 0 1-2 1 2 1 6 1-6 1-3 1 0 1 4 1-5 1 2 1 2 1 7 1-9 1 0 1 2 1 1 1-1 1 2 1 6 1-3 1-1 1 6 1-4 1 1 1 5 1-12 1 3 1-2 1-1 1 5 1-1 1-4 1 1 1-4 1-2 1 3 1-4 1 2 1-6 1 10 1-8 1 5 1 2 1-1 1-1 1 7 1-3 1-2 1 4 1-8 1 1 1 4 1-1 1 2 1 2 1-6 1 1 1 6 1-5 1 1 1 3 1-7 1 3 1-2 1-3 1 4 1 8"/><path id="p47" d="M0 773l1 0 1 0 1 0 1 0 1 0 1 0 1 0 1 0 1-6 1-6 1-3 1-3 1-6 1-2 1 5 1-6 1-1 1-2 1 0 1-4 1 5 1-4 1 6 1 1 1-5 1 4 1-3 1 6 1-1 1-11 1 7 1-1 1 0 1-2 1-1 1-4 1 5 1-5 1 0 1 5 1 3 1-4 1 1 1-3 1 1 1 2 1 3 1-4 1 3 1-1 1-2 1 1 1-1 1-1 1 1 1-3 1-1 1 4 1-3 1-6 1 1 1 4 1-1 1 0 1 5 1 0 1-9 1 6 1-4 1 3 1-5 1-1 1 6 1-12 1 5 1 5 1-6 1 2 1-3 1-2 1 4 1-5 1 8 1-7 1-1 1 4 1 0 1 1 1-3 1 9 1-1 1-4 1 0 1 9 1-2 1-4 1 3 1 5 1 0 1-5 1 1 1 1 1-1 1-4 1 4 1-6 1 9 1-5 1 1 1 4 1-4 1 0 1 2 1 1 1 2 1-8 1 3 1-1 1-2 1 4 1 2 1-2 1-2 1-3 1-3 1-1 1 4 1 0 1 6 1-5 1 1 1 3 1-3 1 8 1-10 1 3 1-6 1 4 1 0 1-2 1 3 1 1 1 3 1-1 1-5 1-6 1 1 1 0 1 4 1 0 1-2 1 0 1-3 1 3 1-5 1-4 1 5 1-1 1 0 1-2 1-2 1 1 1 0 1-1 1 1 1 0 1 2 1 1 1 4 1-8 1 7 1-1 1 2 1 1 1 2 1 0 1-4 1 4 1 0 1-1 1 3 1-1 1 3 1-1 1-5 1 3 1-2 1 0 1-2 1-2 1 3 1 0 1-1 1 4 1 1 1-7 1 1 1 8 1-4 1-5 1 1 1 1 1 2 1-5 1 2 1 0 1 1 1 0 1 2 1 2 1-2 1 2 1-5 1 0 1 5 1-6 1 1 1 1 1-4 1 2 1 7 1-6 1-1 1 7 1 0 1-1 1 1 1 0 1 5 1-5 1-1 1-2 1 2 1-2 1 2 1-1 1-4 1-1 1 4 1-7 1 1 1 6 1 0 1-8 1 3 1-6 1 3 1-2 1-3 1 6 1 0 1-7 1 7 1 0 1 2 1-3 1 0 1 3 1 1 1 2 1-7 1 4 1-1 1 3 1 0 1 1 1 3 1-3 1 1 1 2 1-4 1 2 1 0 1-2 1 5 1-5 1 2 1 4 1-6 1 2 1 7 1-5 1 2 1-1 1 2 1-4 1 1 1 9 1-5 1-3 1 4 1-4 1-4 1 1 1 6 1-7 1-1 1 1 1-5 1-1 1 7 1 1 1-3 1-3 1 1 1-1 1 3 1 3 1-3 1-3 1-1 1 2 1-1 1 0 1-4 1 3 1 0 1 3 1-9 1 4 1 3 1 3"/><path id="p48" d="M0 773l1 0 1 0 1 0 1 0 1 0 1 0 1 0 1 0 1-6 1-6 1-4 1-3 1-1 1-2 1-1 1-7 1 0 1 3 1-6 1 0 1 4 1 0 1-4 1-3 1 8 1-6 1 2 1-3 1-7 1 5 1 2 1-1 1 3 1-5 1 4 1-5 1 2 1-2 1 0 1-1 1 7 1-4 1 0 1 2 1 0 1-1 1 6 1-5 1-1 1-2 1 2 1-3 1-5 1 3 1 2 1 1 1-5 1 6 1-4 1-2 1 3 1-2 1 0 1-2 1-2 1 2 1 4 1-1 1-1 1 0 1 3 1 1 1-2 1-3 1 7 1-3 1 1 1 4 1-6 1 2 1-5 1 2 1 2 1-6 1 0 1-2 1 7 1-1 1 0 1-3 1 6 1-3 1 0 1-5 1 2 1-1 1-2 1 3 1-1 1 1 1 2 1 5 1-4 1 1 1 1 1 3 1 0 1 0 1-3 1 1 1-2 1-2 1 3 1-2 1 2 1-6 1-1 1 1 1 7 1 0 1-5 1 7 1-6 1 1 1 0 1 2 1 1 1 0 1 3 1-3 1-2 1 4 1 1 1-7 1 6 1-6 1-1 1-3 1 1 1-7 1 1 1-1 1 1 1-1 1 3 1-2 1 0 1 4 1-6 1 3 1-1 1-3 1 7 1 5 1 5 1-2 1-5 1 3 1-1 1-9 1 4 1 5 1-5 1 5 1-1 1-1 1-1 1 2 1 3 1-5 1 3 1 0 1 1 1-2 1 3 1 0 1 0 1 4 1-4 1-2 1 10 1-9 1 3 1-5 1 5 1 0 1-2 1 0 1-8 1 1 1 4 1-9 1 6 1-1 1 3 1-9 1 2 1-3 1 4 1-2 1 10 1-10 1 6 1-3 1-1 1-1 1 8 1-1 1-1 1 2 1 2 1 6 1-3 1-6 1 5 1 0 1 0 1 5 1-10 1-2 1 3 1-2 1-1 1 2 1-4 1 5 1-7 1 9 1-5 1 5 1-8 1 1 1 3 1-1 1 2 1-3 1 4 1 1 1 1 1-4 1 4 1 6 1-2 1-2 1-7 1-1 1-1 1 2 1 6 1-8 1 4 1-4 1 0 1-4 1-5 1 9 1-4 1 6 1 2 1-5 1 3 1-3 1-1 1 1 1 5 1 0 1-1 1 3 1-2 1 5 1 2 1-7 1-2 1 2 1-5 1 5 1 3 1-6 1 4 1-4 1 3 1 1 1 3 1-1 1 1 1 3 1-4 1 5 1-4 1-2 1-1 1 3 1 1 1-4 1 1 1-6 1 1 1 2 1-4 1 2 1-3 1-3 1-1 1 0 1 1 1 3 1-6 1 4 1 2 1 3 1-1 1 3 1-3 1 4 1 0 1 0 1-2 1-4 1 4 1 6 1-9 1 6"/><path id="p49" d="M0 773l1 0 1 0 1 0 1 0 1 0 1 0 1 0 1 0 1-1 1 0 1-1 1-1 1 1 1-1 1 3 1 0 1 0 1-5 1 2 1 1 1 0 1 2 1 0 1-3 1 0 1 3 1 0 1-1 1 0 1 0 1 1 1 0 1 0 1 0 1 0 1 0 1 0 1 0 1 0 1 0 1 0 1 0 1 0 1 0 1-2 1-1 1 3 1-3 1 2 1 0 1-2 1 0 1 1 1 0 1-1 1 2 1 1 1 0 1-3 1 2 1 0 1-3 1 2 1 2 1-2 1-2 1 2 1 1 1-2 1 0 1-1 1 3 1-4 1 4 1-3 1 0 1 4 1 0 1 0 1-1 1-1 1 2 1-5 1 1 1 2 1-4 1 3 1 0 1-6 1 4 1-2 1 5 1-5 1 1 1-5 1 2 1 0 1 5 1-1 1-2 1-7 1 9 1 0 1-1 1-1 1-3 1 3 1-1 1 1 1-3 1 4 1-1 1 0 1-2 1 0 1-1 1 1 1 4 1-2 1-2 1 2 1 5 1-2 1-3 1 2 1 3 1-6 1 2 1 0 1 0 1-1 1-2 1-3 1 1 1-1 1-1 1 0 1-3 1 3 1-6 1 3 1 3 1-4 1 4 1 0 1-5 1 7 1 0 1 0 1 5 1 0 1-6 1 4 1 2 1-1 1-2 1 4 1-1 1 4 1-2 1-1 1-3 1-1 1 2 1-2 1 3 1-1 1-4 1 4 1-5 1 5 1-2 1-2 1-6 1 2 1 1 1-3 1 1 1 1 1 0 1 1 1 1 1 0 1 0 1 0 1 2 1 1 1-3 1 5 1-2 1-3 1 4 1 0 1-2 1 3 1-4 1 0 1 3 1 0 1 2 1 0 1 1 1-4 1 0 1-2 1 8 1 0 1 1 1-1 1-3 1 3 1 3 1-5 1 6 1-1 1-2 1-1 1 4 1-5 1 1 1-1 1 0 1-1 1 4 1-5 1 0 1-4 1 3 1-3 1-5 1 4 1-4 1 3 1-3 1 3 1 0 1-3 1 3 1-1 1-3 1 3 1 2 1 4 1 0 1-3 1 2 1 2 1 1 1 0 1-1 1-4 1 6 1 1 1 0 1 1 1-3 1 2 1-1 1 3 1-3 1-2 1-1 1-2 1 4 1-3 1-1 1 1 1 1 1-5 1 4 1 1 1 0 1 0 1 0 1 2 1-5 1 4 1-3 1 5 1-3 1 1 1 2 1-5 1 2 1-4 1 2 1 3 1 0 1-3 1 6 1-4 1 1 1-2 1 3 1 0 1 0 1-1 1-3 1 0 1 1 1 0 1-3 1 1 1 0 1-3 1-3 1 1 1 3 1-2 1 5 1-4 1 4 1 0 1 1 1 1 1-1 1 1 1 0 1-1 1 4 1-3 1 1"/><path id="p50" d="M0 773l1 0 1 0 1 0 1 0 1 0 1 0 1 0 1 0 1-2 1-2 1-2 1-1 1 1 1 1 1-2 1 3 1-1 1 1 1 1 1-2 1 1 1 0 1-1 1 4 1 1 1-1 1 1 1 0 1 0 1 0 1-1 1 0 1 0 1-1 1 0 1-1 1 3 1-2 1-2 1-4 1 5 1-5 1-3 1 0 1-2 1 2 1-4 1 7 1-6 1 3 1-2 1-2 1 3 1 1 1-4 1 4 1 2 1 4 1 1 1-5 1 2 1 2 1 1 1 0 1 1 1 0 1-1 1-3 1 4 1-3 1 4 1-4 1 2 1 1 1-3 1-1 1-6 1 4 1 2 1-4 1 4 1-3 1 0 1 0 1 4 1 1 1-4 1-3 1 2 1 1 1 1 1 1 1-3 1 5 1-4 1 3 1-1 1-4 1-2 1 3 1-2 1-2 1-2 1 1 1 4 1 0 1 0 1 0 1 2 1-2 1 3 1-2 1-2 1 3 1 2 1 1 1 0 1-1 1 1 1 1 1 1 1 4 1 0 1-3 1 3 1-5 1-4 1 5 1 1 1-3 1-1 1-3 1 1 1-2 1-1 1-3 1 7 1-2 1 3 1-5 1 0 1-4 1 4 1-3 1 2 1 3 1-2 1-2 1-1 1 2 1-4 1 4 1-1 1-1 1 2 1 4 1-3 1 8 1-9 1 5 1-2 1 0 1 0 1 0 1-3 1 0 1 0 1-3 1 1 1-1 1 2 1 1 1-4 1 3 1-3 1 8 1-8 1 1 1-1 1-3 1 8 1-6 1 3 1 2 1-4 1 1 1-2 1 5 1 0 1-1 1 6 1-1 1 0 1 0 1 1 1 3 1-2 1 0 1 1 1 0 1-2 1-1 1 0 1-4 1 2 1-1 1 2 1-6 1 0 1 0 1 2 1 2 1 1 1-4 1-1 1 1 1 3 1 1 1 0 1-4 1 6 1-3 1 2 1 4 1-1 1 2 1 0 1 0 1-2 1-5 1 8 1-2 1 2 1-4 1 0 1 3 1-2 1 1 1 0 1 0 1 4 1-1 1-3 1 2 1 1 1-6 1 3 1 5 1-5 1 3 1 2 1-5 1 0 1-2 1 5 1-2 1-1 1 3 1-2 1-3 1 4 1-6 1 10 1-9 1 0 1-5 1 2 1 4 1-7 1 3 1-3 1 3 1-5 1 2 1-1 1-2 1 3 1-2 1 4 1 2 1-3 1 1 1 1 1 3 1-3 1 2 1 0 1 0 1 0 1 1 1 0 1 3 1-4 1 1 1 1 1-1 1-3 1-2 1-2 1 2 1-2 1 4 1-2 1 5 1-3 1-3 1 0 1 0 1-1 1 2 1 2 1-5 1 8 1-7 1 5 1 2 1-4 1 1 1-2 1 5 1-2 1-2"/><path id="p51" d="M0 773l1 0 1 0 1 0 1 0 1 0 1 0 1 0 1 0 1-1 1 1 1-3 1 3 1-1 1 1 1-4 1 4 1-1 1 1 1 0 1 0 1 0 1 0 1 0 1 0 1 0 1 0 1 0 1 0 1 0 1 0 1 0 1 0 1 0 1 0 1 0 1 0 1-1 1 1 1 0 1-2 1-6 1 6 1-3 1-2 1-5 1 6 1 1 1 3 1-3 1 0 1 0 1 2 1-1 1 1 1-1 1-3 1 1 1-1 1 1 1 0 1 0 1 0 1-2 1 2 1-2 1 4 1-2 1-1 1-4 1 9 1-6 1-4 1 9 1 1 1-6 1 1 1-1 1 0 1 2 1 1 1-2 1 0 1 3 1-4 1-1 1 0 1-2 1 0 1 3 1 0 1-2 1-3 1 3 1 0 1-1 1-3 1 4 1-1 1-3 1 5 1-1 1 0 1 3 1 1 1 2 1 1 1 2 1-1 1-3 1-1 1-4 1 4 1 1 1-1 1-2 1 0 1-2 1 1 1 2 1-3 1 0 1 0 1-1 1 1 1-4 1 8 1 1 1-4 1 3 1 1 1 4 1-6 1 4 1 2 1-5 1 2 1 3 1-5 1 1 1 4 1-4 1-2 1-2 1-1 1 2 1-1 1 0 1 2 1-7 1 2 1-2 1-1 1-2 1 5 1-7 1 5 1-3 1 1 1 1 1 3 1-1 1-2 1 1 1 2 1-2 1 3 1 0 1-2 1 5 1-4 1 2 1 0 1 1 1 1 1 2 1-4 1 3 1 1 1 3 1-6 1 5 1-1 1 2 1-2 1-8 1 7 1-3 1 3 1-1 1-4 1 2 1 3 1-3 1 2 1-3 1-2 1-1 1 4 1-2 1 2 1 1 1 2 1 0 1 0 1 1 1-4 1 1 1-2 1-2 1 2 1 4 1-7 1 1 1 6 1 3 1-5 1-3 1 2 1 0 1-2 1 1 1 3 1 0 1-7 1 4 1-2 1 7 1-4 1 3 1-2 1-2 1 2 1-3 1 1 1 1 1-3 1 8 1-6 1 0 1 0 1 4 1-7 1 4 1-1 1 2 1-2 1 0 1 3 1-2 1 1 1 2 1 1 1-1 1 1 1-1 1 0 1 0 1-3 1 1 1-1 1 1 1 1 1-1 1-1 1-3 1-2 1 2 1-2 1 1 1 2 1 1 1-1 1-1 1-2 1 4 1-3 1-1 1 5 1 2 1 0 1-1 1 0 1 0 1 2 1 4 1-7 1 5 1 4 1-2 1-5 1 4 1-3 1 3 1-2 1-1 1-1 1 0 1-3 1 4 1-5 1-1 1-1 1 3 1-3 1-1 1 2 1-1 1 2 1-4 1 1 1-4 1 0 1-1 1 1 1 2 1-1 1 1 1 3 1-4 1 4 1 3 1 1"/><path id="p52" d="M0 773l1 0 1 0 1 0 1 0 1 0 1 0 1 0 1 0 1 0 1-2 1 2 1-6 1 3 1 1 1-6 1-2 1 8 1-3 1 0 1 0 1 0 1 0 1 1 1-1 1 1 1-2 1 1 1-2 1-2 1 2 1-2 1 4 1-4 1 2 1 2 1-1 1-1 1 3 1-2 1 6 1 0 1 0 1-6 1 5 1-5 1 3 1-1 1 3 1-2 1 0 1-3 1 2 1 4 1-1 1-8 1 6 1 3 1 0 1-3 1 3 1-2 1-3 1 2 1-1 1 2 1-2 1-1 1-1 1-2 1 2 1-5 1 3 1-2 1 2 1-3 1-4 1 1 1 1 1-1 1 1 1 3 1-2 1 2 1 4 1-5 1-2 1 1 1 3 1-2 1 2 1 2 1-1 1 1 1-1 1 1 1-4 1 3 1-2 1 4 1-4 1 0 1-3 1 5 1-6 1 10 1-4 1-2 1-1 1 3 1-3 1-3 1 6 1-2 1 1 1 0 1-3 1 0 1-1 1-2 1 5 1-2 1-3 1-1 1 0 1 3 1-3 1 2 1-2 1 3 1-1 1-1 1 2 1 2 1 0 1-2 1 3 1 3 1-1 1 1 1-2 1 2 1-1 1 0 1 1 1-2 1-4 1 1 1 1 1-2 1-1 1 5 1-3 1 5 1 1 1-3 1 0 1 3 1-1 1-1 1 4 1 1 1 0 1-5 1 0 1 4 1 0 1 1 1-3 1 0 1-5 1 5 1-2 1 2 1 3 1-2 1-1 1-4 1 4 1-2 1 0 1 2 1-5 1 3 1-3 1 3 1 3 1 1 1-2 1 0 1-2 1-2 1 0 1 1 1 1 1 4 1-2 1-1 1 4 1-4 1 0 1 5 1-7 1 2 1 3 1 4 1-5 1-2 1 3 1-1 1-4 1 5 1-2 1-2 1 3 1-1 1-1 1-2 1 2 1-6 1 3 1 4 1-5 1 3 1 1 1-1 1 4 1 0 1 0 1-3 1 4 1-1 1 2 1 0 1-4 1-2 1 2 1 0 1-2 1 0 1-4 1-1 1-2 1 0 1 1 1-2 1 5 1-8 1-1 1-1 1 3 1-1 1-1 1 4 1-1 1 0 1 4 1 2 1-5 1 5 1-5 1 8 1-3 1 5 1-5 1 1 1 1 1-1 1-3 1 1 1-2 1 0 1 1 1 3 1 0 1-3 1 1 1 1 1 1 1-4 1 4 1 1 1-3 1 10 1-5 1-3 1 4 1 0 1-2 1 0 1 4 1-1 1-3 1-1 1-2 1 3 1 3 1-7 1 1 1-5 1 4 1-2 1 3 1-4 1 0 1-1 1 0 1 2 1 0 1 4 1 3 1-1 1 1 1-2 1 0 1 2 1 1 1 1 1-2 1-1 1 2 1-4 1-4"/><path id="p53" d="M0 773l1 0 1 0 1 0 1 0 1 0 1 0 1 0 1 0 1 0 1-1 1-1 1-1 1 0 1-2 1 4 1-2 1-1 1 1 1 0 1 2 1-1 1 2 1 0 1-1 1-2 1 3 1 0 1 0 1 0 1 0 1-3 1 3 1 0 1-2 1 2 1 0 1-2 1 1 1 0 1-2 1 2 1 0 1 1 1-4 1 4 1-1 1-4 1 3 1-1 1-2 1 2 1 1 1 1 1-6 1 5 1-2 1-5 1 6 1 3 1-5 1 5 1 0 1-1 1 1 1 0 1 0 1 0 1 0 1 0 1 0 1 0 1 0 1 0 1 0 1 0 1 0 1 0 1 0 1-2 1-2 1 4 1 0 1-5 1 2 1 3 1 0 1-2 1 2 1 0 1-5 1 1 1-4 1 6 1-6 1-1 1 2 1-1 1-1 1-4 1 3 1 3 1-4 1-4 1 2 1 0 1 1 1 1 1-4 1 0 1 0 1 3 1 1 1-2 1 1 1-3 1 7 1-5 1 3 1-1 1 0 1-4 1 2 1-2 1 6 1-3 1 2 1-3 1-1 1 2 1-1 1 2 1-2 1 1 1 5 1-5 1 5 1-1 1 1 1-5 1-1 1 7 1 0 1-2 1-1 1-2 1 4 1 0 1 0 1-3 1 3 1-6 1 3 1 2 1-1 1-5 1 4 1-2 1-4 1 1 1-4 1 1 1 2 1 1 1 2 1-1 1-1 1 1 1 4 1-5 1 7 1-1 1 0 1 6 1-7 1 5 1 2 1 0 1 0 1-3 1 1 1-4 1-2 1 5 1-5 1 3 1-3 1 1 1-4 1 4 1-2 1-4 1-2 1 3 1-3 1 3 1 4 1-5 1 4 1 2 1 1 1 2 1-2 1-1 1 0 1 7 1-4 1-1 1 2 1 2 1-4 1 1 1-1 1 1 1-3 1 3 1-6 1 2 1 0 1 0 1-2 1 0 1 0 1-1 1 1 1 2 1-1 1-1 1-1 1 1 1 0 1 2 1 4 1 0 1-9 1 2 1 4 1 6 1-1 1-3 1-3 1-1 1 5 1 0 1 1 1 1 1-1 1 0 1 5 1-7 1 2 1-3 1 2 1-2 1-4 1 2 1 7 1-8 1 4 1 0 1-1 1 0 1-1 1-1 1-2 1 1 1 0 1-4 1 4 1 2 1-3 1 0 1-2 1 4 1-1 1-1 1-4 1 7 1-2 1-3 1 4 1 2 1 0 1-5 1 6 1-4 1-1 1 5 1-2 1-2 1 4 1-1 1-5 1 3 1-1 1 2 1-2 1 1 1-1 1 4 1-5 1 2 1 3 1-5 1 2 1-3 1 1 1 4 1-3 1-1 1 0 1-2 1-3 1 3 1 4 1-4 1 4 1-4 1 4 1-2 1-1 1-1 1 2"/><path id="p54" d="M0 773l1 0 1 0 1 0 1 0 1 0 1 0 1 0 1 0 1-1 1 0 1 1 1 0 1 0 1 0 1 0 1 0 1 0 1 0 1 0 1-4 1 4 1-3 1 0 1 2 1 1 1-1 1 1 1 0 1-2 1 2 1-4 1 1 1 0 1 3 1-7 1 5 1-2 1-1 1 4 1-4 1 2 1-1 1-2 1 4 1-1 1 0 1-1 1 1 1-3 1 4 1 2 1 0 1 0 1-3 1-4 1 4 1-1 1 0 1-2 1-2 1 1 1 0 1-3 1 9 1-8 1 4 1 0 1-2 1-2 1 7 1-8 1 1 1 2 1-1 1 4 1-4 1 4 1-2 1-4 1 4 1-4 1 1 1 1 1-3 1 3 1-1 1-4 1 4 1-1 1 1 1-2 1 4 1 1 1-8 1 3 1 0 1 0 1 1 1 1 1-1 1 2 1-1 1 1 1-2 1-3 1 6 1 1 1 1 1-2 1-5 1 5 1 2 1-2 1 1 1-2 1 2 1-3 1 2 1-3 1 3 1 1 1 1 1-6 1 3 1-1 1 2 1-2 1-1 1-2 1-1 1 2 1-2 1 1 1 1 1-2 1-2 1 3 1 2 1-1 1-1 1-1 1 3 1 0 1 0 1-2 1 4 1-3 1 4 1-3 1-4 1 2 1-1 1 0 1 0 1-3 1 2 1 0 1-1 1 1 1 1 1 0 1-3 1 3 1 1 1 1 1 2 1-5 1 1 1-4 1 1 1 5 1-4 1-1 1 0 1 3 1-2 1 0 1-2 1 3 1-1 1 1 1 4 1 0 1 0 1 0 1 3 1 1 1-2 1 0 1 3 1-2 1-2 1 3 1 0 1 1 1-5 1 1 1 4 1-5 1 2 1-6 1 4 1-3 1 0 1-4 1 4 1-3 1 1 1 1 1-3 1 5 1-5 1-1 1 3 1 0 1 1 1-1 1-4 1 5 1-3 1 3 1-1 1-1 1 3 1-5 1 4 1 0 1-5 1 8 1-7 1 5 1-2 1 0 1 4 1-3 1 1 1 1 1-5 1 0 1 2 1-4 1 3 1-2 1-2 1 4 1-4 1 0 1 3 1-1 1 4 1-3 1-1 1 7 1-3 1 5 1-6 1 5 1-1 1-1 1 2 1-1 1 3 1 0 1-2 1 0 1-1 1-4 1 3 1 0 1-3 1 3 1 0 1 2 1-1 1-5 1 1 1 0 1 3 1-4 1 5 1 1 1 1 1-5 1 2 1-1 1 1 1-2 1 6 1-3 1 3 1 1 1-8 1 1 1 1 1-3 1 0 1-1 1 1 1 0 1 2 1-2 1 4 1-6 1 1 1-2 1 4 1 2 1-1 1 0 1 3 1-6 1-1 1 6 1-5 1 4 1-1 1 3 1 6 1-3 1-2 1 4 1-4"/><path id="p55" d="M0 410l1 0 1 0 1 0 1 0 1 0 1 0 1 0 1 0 1 1 1 134 1 108 1 50 1 18 1 13 1 7 1 9 1-5 1 0 1 1 1-2 1 6 1-3 1 0 1 2 1-1 1-1 1-1 1 4 1 0 1-6 1 4 1 0 1-2 1-5 1 0 1-1 1 4 1-6 1 7 1-2 1-1 1-6 1 2 1 2 1 2 1-2 1 3 1 3 1 2 1-6 1 1 1 0 1 0 1 3 1 0 1-5 1 5 1 4 1-3 1 5 1-11 1 5 1 4 1-5 1 5 1 2 1-8 1 3 1-3 1 1 1-3 1 6 1-4 1-1 1-4 1 0 1 1 1 1 1 2 1-2 1 0 1 7 1-4 1 8 1-9 1 1 1 6 1 2 1-8 1 3 1 3 1-2 1-6 1 4 1-4 1 6 1-5 1 4 1 0 1-3 1 4 1-7 1 6 1 4 1-3 1-5 1 4 1-6 1 1 1 6 1-4 1 3 1-3 1-2 1 1 1-1 1 3 1-4 1-4 1 3 1 0 1 0 1 4 1 3 1-3 1 3 1 4 1 0 1 3 1-7 1 2 1-2 1 7 1-7 1 3 1-2 1 1 1-4 1 5 1-6 1 1 1 3 1-4 1-6 1 13 1-6 1 0 1 1 1-1 1-1 1 0 1-2 1-3 1 9 1-3 1-4 1-5 1 6 1-3 1-2 1 2 1 0 1 2 1-1 1 4 1-5 1 1 1 2 1 1 1 1 1 0 1-3 1-2 1 5 1 4 1-6 1-2 1 4 1 6 1-6 1-3 1 2 1 3 1 0 1 1 1 6 1-9 1 6 1 4 1-12 1 8 1 0 1-3 1-2 1 6 1-5 1 8 1-11 1 7 1-1 1-1 1-1 1-2 1-3 1-1 1 1 1 3 1-6 1 4 1 3 1 0 1 1 1 1 1 1 1-2 1 3 1-7 1 6 1-3 1 1 1-2 1-1 1 4 1 2 1-4 1-3 1-4 1 2 1 2 1 2 1 3 1-4 1-3 1 0 1 1 1-1 1-5 1-1 1 5 1-5 1-3 1 0 1 5 1 4 1-8 1 6 1-3 1 7 1 3 1-4 1 2 1-2 1-1 1 5 1-2 1 6 1 2 1-2 1-6 1 0 1 4 1 2 1-3 1-5 1 3 1 1 1-1 1 1 1-1 1 0 1 2 1-6 1 7 1-5 1-8 1 7 1 2 1 3 1 0 1-4 1-4 1 2 1 3 1 1 1-2 1 6 1-7 1 2 1 0 1 1 1 0 1 1 1-2 1 5 1 0 1-1 1-6 1 4 1-2 1 2 1 0 1 7 1-4 1 1 1 1 1-4 1-4 1 2 1-2 1 5 1 2 1 1 1-1 1-2 1 4 1-2 1 3 1-3 1 1 1 0 1-2 1-2"/><path id="p56" d="M0 410l1 0 1 0 1 0 1 0 1 0 1 0 1 0 1 0 1 0 1 132 1 105 1 51 1 22 1 16 1-3 1 11 1-7 1 7 1 7 1-6 1 1 1 5 1-2 1-1 1-2 1-1 1 3 1-1 1-4 1 4 1-5 1-5 1 11 1-3 1-3 1-2 1-2 1 5 1 0 1-3 1 1 1 3 1-2 1-3 1 12 1-2 1 0 1-3 1 4 1 1 1-3 1-2 1 5 1-7 1 3 1 3 1 3 1-5 1 3 1-6 1 9 1-6 1-1 1 4 1-7 1 3 1 5 1-4 1-1 1 1 1-5 1 10 1-5 1 2 1-1 1-2 1-1 1 1 1 2 1 0 1 0 1-1 1 1 1-4 1 1 1-4 1 5 1-3 1 1 1-2 1-1 1 2 1-1 1 6 1-2 1 4 1-1 1-2 1 6 1-6 1 8 1-2 1 4 1-5 1 1 1 2 1 0 1-1 1-1 1 6 1-4 1 0 1-3 1 2 1 0 1-2 1-3 1 1 1 3 1-3 1-5 1 3 1 1 1-9 1 0 1 7 1-4 1-3 1 4 1-5 1-2 1 1 1 6 1-7 1 4 1-3 1 2 1 3 1 2 1-6 1-6 1 7 1 2 1-1 1-2 1 2 1-4 1-1 1 5 1-2 1 1 1 4 1-3 1-5 1 3 1 3 1-4 1 8 1-6 1-2 1 11 1-7 1 1 1-5 1 6 1 5 1-5 1-5 1 6 1-2 1 4 1-2 1-1 1 2 1-3 1 5 1-1 1 3 1-3 1 8 1-4 1 0 1 3 1-5 1 0 1 3 1 1 1 0 1-2 1-1 1 4 1-3 1 3 1-7 1 2 1 2 1-1 1 0 1-2 1 2 1-2 1 0 1 0 1 1 1-4 1 4 1-4 1 8 1-10 1-3 1 1 1 2 1 6 1-5 1-2 1 5 1-1 1-2 1 2 1 1 1 2 1-1 1 2 1 4 1-12 1 6 1 5 1 3 1 1 1-6 1 2 1-5 1 2 1 2 1 4 1-2 1-3 1 0 1 1 1-2 1-3 1 12 1-9 1-3 1-1 1 2 1 3 1-5 1-1 1 9 1-5 1-6 1 3 1 1 1 1 1 2 1 2 1 0 1-11 1 3 1 9 1-2 1-7 1-1 1 0 1 2 1 1 1-6 1 3 1 5 1-7 1 3 1-1 1-1 1 4 1-2 1 2 1-1 1-5 1 5 1 3 1-4 1 0 1 4 1-1 1-4 1 5 1 0 1-1 1 2 1-3 1 5 1-3 1 3 1-2 1-2 1-2 1 1 1-3 1 4 1-1 1-1 1 3 1-5 1-5 1 6 1-8 1 5 1 4 1-7 1 4 1 0 1 5 1 2 1 2 1-2 1 1 1 4 1-7 1 3 1-1 1-6"/><path id="p57" d="M0 410l1 0 1 0 1 0 1 0 1 0 1 0 1 0 1 0 1 0 1 130 1 117 1 45 1 19 1 12 1 3 1 7 1 4 1-3 1-1 1 1 1 3 1-4 1 3 1 2 1-4 1 0 1 2 1 7 1-5 1-5 1 10 1-9 1 3 1 1 1-5 1 0 1 1 1 8 1-1 1 1 1-7 1 1 1 2 1-1 1-2 1 5 1 3 1-2 1 1 1-1 1 4 1 3 1-4 1 0 1-2 1 1 1-2 1 6 1-7 1 0 1-1 1 3 1-1 1-6 1 5 1-5 1 6 1-1 1-3 1 5 1-4 1 3 1-1 1 0 1 4 1 0 1 2 1 3 1-5 1 1 1-5 1 4 1 0 1-1 1-5 1 3 1-5 1 4 1-2 1-1 1 5 1-3 1 0 1-4 1 3 1-4 1-1 1 2 1 7 1-10 1 10 1-4 1-6 1 0 1 2 1 3 1-3 1 3 1 4 1 2 1-9 1 5 1-5 1-3 1 2 1-2 1 7 1 5 1-7 1-2 1 2 1-4 1 0 1 4 1-5 1 8 1-4 1 6 1-4 1 3 1-6 1 4 1 2 1-1 1-1 1 1 1 2 1 1 1-5 1 1 1 4 1-8 1 1 1-3 1 4 1-2 1 1 1 3 1-3 1 3 1-8 1 8 1 2 1 2 1-5 1 0 1-1 1 5 1-1 1 3 1 5 1-5 1 7 1-6 1 3 1-3 1-1 1 4 1-3 1-1 1 1 1-2 1-1 1-3 1 3 1-5 1 6 1-9 1 9 1-7 1 3 1-2 1 0 1 3 1-2 1 0 1-6 1 8 1-7 1 1 1 5 1-5 1 2 1-4 1 2 1-4 1 1 1 5 1-3 1 2 1 0 1-2 1 2 1 6 1-3 1 3 1-1 1 2 1 5 1-3 1-2 1 6 1 1 1-2 1 0 1-4 1 0 1 3 1 2 1-4 1 0 1-5 1 3 1-3 1 8 1-7 1-2 1 1 1 4 1-5 1-1 1 1 1 2 1-2 1 0 1 3 1-7 1 3 1 0 1 1 1-5 1 5 1 2 1-6 1 1 1 6 1 4 1-4 1 0 1-2 1 1 1-3 1 3 1-1 1-2 1-1 1-4 1 1 1 0 1 4 1 2 1-7 1-3 1 8 1-3 1 3 1-2 1 3 1 2 1-2 1-3 1 0 1-3 1 6 1 1 1-2 1 1 1-5 1 2 1 0 1 0 1 2 1-5 1 4 1 0 1 1 1-4 1 8 1-2 1-4 1-2 1 2 1 1 1 0 1 2 1-3 1-1 1 3 1-2 1-3 1-1 1 2 1-2 1 0 1 1 1 6 1-8 1 2 1 0 1 2 1-1 1 2 1 4 1-6 1 4 1 0 1 1 1 4 1-2 1 0 1-1 1 2"/><path id="p58" d="M0 410l1 0 1 0 1 0 1 0 1 0 1 0 1 0 1 0 1 4 1 133 1 114 1 44 1 26 1 12 1 7 1 5 1 2 1-1 1-5 1 2 1-3 1 4 1-2 1 1 1-5 1 1 1 0 1-1 1 2 1-1 1 1 1-5 1 3 1 3 1-1 1 0 1 1 1-1 1 2 1-2 1 3 1-3 1 7 1-10 1 3 1-2 1 5 1 0 1 0 1-1 1-1 1 3 1-1 1 5 1-1 1-2 1 2 1 1 1 2 1-2 1 2 1-1 1-3 1-1 1-3 1-4 1 3 1-6 1 2 1-7 1 13 1-5 1-3 1 0 1 4 1-3 1-3 1 4 1-1 1-1 1 3 1-10 1 6 1 0 1 4 1-2 1-4 1 7 1-1 1-5 1 3 1 1 1 2 1 0 1-3 1-2 1-2 1 2 1-1 1 4 1-8 1 6 1-3 1 3 1 0 1 0 1-3 1 0 1-1 1 7 1-4 1 3 1 1 1 3 1-1 1-1 1-6 1 8 1 1 1-8 1 6 1-3 1 0 1-5 1 4 1 6 1-1 1-6 1 2 1-3 1 0 1 2 1-1 1 0 1 2 1-5 1 4 1-1 1-2 1 4 1 0 1 2 1-7 1 2 1 2 1 2 1-2 1 5 1 3 1-1 1 1 1 3 1-5 1 0 1-4 1-5 1 9 1-2 1 4 1-3 1-2 1-2 1 9 1-8 1 4 1-2 1-4 1 0 1 4 1-4 1 2 1 0 1-1 1 3 1-5 1-1 1 3 1-6 1 2 1-1 1-2 1 5 1-5 1 0 1 2 1 4 1-1 1-2 1 3 1 4 1 1 1-3 1 1 1-2 1 4 1-1 1-1 1 4 1-1 1-3 1 2 1 1 1 5 1-9 1 4 1 1 1-4 1 6 1 1 1 1 1-2 1 7 1-8 1 2 1-1 1 0 1 0 1-1 1-5 1 5 1-6 1-1 1 3 1 0 1-6 1 6 1-1 1-8 1-1 1 1 1-2 1 8 1-4 1-1 1 1 1-1 1 5 1-1 1 2 1 5 1-9 1-1 1 1 1 1 1 0 1 1 1 0 1-4 1-2 1 0 1 4 1 1 1-1 1-4 1 7 1 1 1-5 1-2 1 8 1 2 1-9 1 2 1 0 1 2 1 1 1-3 1 8 1-5 1 1 1 0 1 6 1 0 1-6 1 2 1-3 1 7 1-7 1 4 1 4 1-6 1 5 1-2 1-1 1-3 1-2 1 8 1-9 1 5 1 1 1-6 1-1 1 1 1 2 1 0 1-5 1 0 1-2 1 9 1-3 1 2 1 0 1 2 1-1 1-3 1 8 1-8 1 0 1 6 1 1 1-6 1 4 1 4 1-3 1-4 1 0 1-4 1 4 1-2 1 0 1 1 1-4 1-3"/><path id="p59" d="M0 410l1 0 1 0 1 0 1 0 1 0 1 0 1 0 1 0 1 2 1 130 1 118 1 41 1 23 1 11 1 9 1 4 1 3 1-4 1 6 1 0 1-7 1 7 1-3 1-1 1 2 1-6 1-2 1-1 1 5 1 4 1-2 1-4 1 5 1-2 1 0 1-1 1-3 1 5 1-2 1-2 1 0 1 2 1-3 1 2 1-5 1 9 1-8 1 5 1-3 1 4 1 2 1-1 1-2 1 1 1 2 1-3 1-5 1 5 1 1 1 4 1-1 1-3 1-3 1 6 1 0 1-8 1 9 1-2 1-5 1 0 1 0 1-2 1 0 1 0 1 5 1 0 1 0 1-2 1-1 1 4 1-2 1-5 1 4 1-4 1 0 1 3 1-2 1-1 1-2 1 0 1 6 1-1 1 0 1 3 1-8 1 8 1-1 1-8 1 9 1 1 1-1 1-3 1-1 1 3 1 4 1-7 1 0 1 2 1 1 1 2 1-3 1 0 1-1 1-3 1-2 1 2 1 2 1 1 1-7 1 9 1-3 1-5 1 11 1-8 1 3 1 0 1 6 1-4 1-9 1 8 1-5 1 7 1-2 1 3 1-3 1 1 1 0 1-2 1 8 1 1 1-10 1 6 1 1 1-6 1-2 1 3 1 2 1 1 1 2 1 2 1-3 1 3 1 0 1-2 1-7 1 8 1 2 1-2 1 0 1 2 1 3 1-7 1 2 1 3 1-3 1 5 1 1 1-2 1-2 1-2 1 3 1-2 1-1 1-1 1 5 1-6 1 9 1-6 1-1 1-1 1-2 1 8 1-7 1-2 1 3 1-3 1 0 1 4 1 1 1-3 1 3 1-4 1-6 1 3 1 3 1 1 1 0 1 1 1-3 1 0 1-8 1 9 1 6 1-10 1 7 1-5 1 2 1 1 1 3 1 1 1-3 1 3 1-4 1 2 1-2 1 0 1-3 1-1 1 0 1 1 1 2 1-1 1-2 1 2 1-1 1 9 1-5 1-1 1-3 1 5 1 0 1-3 1-4 1 3 1-1 1-3 1 3 1-3 1-4 1 0 1 4 1-12 1 4 1-1 1 2 1 1 1 2 1 3 1-6 1 5 1-1 1 5 1-2 1 1 1 0 1 1 1 5 1-4 1 2 1 3 1-3 1 7 1-6 1 0 1 3 1-5 1 3 1 0 1 1 1 0 1-1 1-2 1 3 1 0 1 3 1-7 1 4 1-1 1 6 1-2 1-1 1-4 1 2 1 5 1-7 1 1 1-3 1 3 1 0 1-5 1 9 1-4 1-1 1-5 1 8 1 0 1-1 1 2 1-2 1 1 1-9 1 6 1-2 1 2 1-9 1 2 1-2 1 1 1-6 1 2 1 0 1-3 1-2 1 4 1-4 1 0 1 8 1-5 1 3 1-4 1 4 1 2"/><path id="p60" d="M0 410l1 0 1 0 1 0 1 0 1 0 1 0 1 0 1 0 1-2 1 135 1 106 1 48 1 23 1 11 1 9 1 4 1-1 1 0 1-3 1-4 1 6 1 1 1 2 1 1 1 0 1-2 1 2 1-2 1-5 1 5 1-3 1 0 1 6 1-3 1 1 1 0 1-4 1 5 1 1 1-6 1 5 1 2 1-4 1 5 1 0 1 0 1 2 1-2 1 2 1-5 1 3 1 3 1-2 1-4 1-1 1-4 1-1 1 6 1-4 1 6 1 1 1-3 1-2 1-2 1 1 1-2 1 2 1 2 1-2 1-3 1 4 1 0 1 0 1 7 1 0 1 1 1-2 1-5 1 6 1-2 1 1 1-2 1 2 1-5 1 6 1-4 1 4 1 0 1 1 1-3 1 2 1-1 1-1 1 2 1 1 1 0 1-3 1-2 1-5 1 2 1 3 1-1 1 1 1-3 1-2 1 3 1 0 1-6 1 2 1-1 1 2 1 0 1 5 1-3 1-8 1 7 1-1 1 3 1-5 1 2 1-3 1 5 1-2 1-6 1 10 1-9 1 1 1 3 1 3 1-6 1-1 1 6 1 1 1 0 1 0 1-7 1 12 1-1 1-11 1 4 1 3 1 4 1-3 1 3 1-1 1-2 1-4 1 5 1-7 1 3 1 2 1-4 1 2 1 1 1-2 1 0 1 6 1-6 1 5 1-1 1-1 1-2 1-1 1 10 1-4 1 2 1 2 1-3 1 3 1-4 1-1 1 4 1 0 1 3 1-4 1 2 1-4 1 0 1 8 1-8 1 4 1-3 1 1 1 1 1 3 1 5 1-11 1 5 1 3 1-1 1-2 1-1 1 8 1 4 1-10 1-4 1 5 1 1 1 6 1-3 1-3 1 0 1 5 1-1 1 3 1-3 1 0 1-9 1 6 1 0 1-5 1 2 1-4 1 7 1-5 1-3 1-3 1 1 1 6 1-3 1 0 1-1 1 1 1-2 1 3 1-1 1-3 1 1 1-4 1 5 1-3 1 4 1 1 1-1 1-7 1 0 1 5 1-2 1 4 1 7 1-9 1-3 1 1 1-2 1 2 1 0 1-2 1 1 1 6 1-10 1 7 1-3 1 0 1 8 1-2 1-2 1 1 1-2 1-2 1 2 1 1 1-4 1 1 1-1 1 3 1-3 1 6 1-3 1-2 1 1 1 2 1 1 1 0 1 3 1-8 1 1 1 0 1 5 1-5 1-3 1 7 1-4 1-4 1 1 1 2 1-7 1 4 1-4 1 8 1-4 1 1 1-3 1 5 1 0 1 0 1-4 1 3 1 4 1 0 1-1 1 4 1-4 1 5 1-6 1 3 1-4 1 2 1-4 1-2 1 11 1-4 1 2 1-3 1 0 1 8 1 0 1-9 1 8 1 1 1-1 1-4 1 2"/><path id="p61" d="M0 410l1 0 1 0 1 0 1 0 1 0 1 0 1 0 1 0 1 2 1 136 1 110 1 43 1 21 1 13 1 11 1 2 1 2 1-2 1-1 1-1 1 1 1 1 1-5 1 2 1-2 1-2 1-1 1 1 1-1 1 0 1-1 1 3 1 0 1 1 1 1 1-2 1 7 1-1 1 2 1-2 1 4 1-5 1 5 1 0 1-1 1 1 1-1 1 10 1-4 1 3 1-12 1-1 1 5 1-4 1 3 1 0 1-3 1 3 1-4 1 2 1-1 1 0 1 2 1-2 1 3 1-1 1 1 1 3 1 2 1 2 1-4 1 1 1-1 1-4 1 4 1-4 1 2 1-4 1-2 1 2 1 0 1-2 1 3 1 1 1-6 1 1 1 0 1-2 1 6 1 0 1 1 1-6 1-1 1 2 1-3 1 2 1-3 1 0 1-2 1 7 1-5 1 1 1 4 1-5 1 0 1 5 1-11 1 2 1 7 1 2 1-1 1 2 1-5 1 8 1 1 1-11 1 3 1 1 1 4 1 2 1 1 1 2 1-7 1 11 1-6 1-2 1 0 1 2 1 1 1-2 1 0 1 2 1-1 1 0 1 5 1-6 1-1 1 2 1 2 1-6 1 3 1 5 1-8 1 3 1-7 1 4 1 1 1-3 1 1 1 5 1-7 1 5 1 0 1-3 1 1 1-6 1 6 1 1 1 6 1-9 1 1 1 6 1-6 1 0 1-2 1 5 1 1 1 1 1-3 1-2 1-5 1 3 1-5 1 7 1 0 1 0 1-4 1 3 1-5 1 0 1-3 1 5 1 1 1-7 1 0 1 4 1-4 1 2 1-1 1 0 1 9 1-3 1-2 1 3 1 1 1-7 1 5 1-6 1 8 1-1 1-1 1 2 1-4 1 5 1-1 1 4 1 2 1-4 1-2 1 4 1 2 1 2 1 7 1-8 1 5 1-3 1 1 1 3 1-1 1-1 1 1 1-3 1-6 1-3 1 2 1-2 1 2 1-2 1 3 1-1 1-1 1 0 1-3 1 3 1-7 1 7 1 2 1-6 1 4 1-5 1-1 1 2 1 8 1-1 1-4 1 2 1 4 1-7 1-1 1 7 1-4 1 5 1-2 1 3 1-4 1 4 1-1 1-8 1 0 1 7 1-6 1 1 1-1 1 3 1-6 1 3 1-1 1 1 1-2 1 0 1 3 1 2 1-5 1 1 1 4 1-2 1 1 1 0 1 5 1 0 1 0 1-4 1 1 1-6 1 10 1-1 1-4 1 5 1-4 1 3 1-6 1 7 1-4 1 3 1-5 1-2 1 0 1 6 1-3 1 2 1-4 1 1 1 7 1-7 1 1 1-1 1 4 1-2 1 0 1-4 1 5 1-3 1-1 1-4 1 12 1-5 1-2 1-4 1 7 1-3 1 0 1 2"/><path id="p62" d="M0 410l1 0 1 0 1 0 1 0 1 0 1 0 1 0 1 0 1-3 1 131 1 112 1 44 1 24 1 12 1 8 1 4 1 1 1-2 1-1 1 0 1 0 1 4 1-3 1 0 1 4 1 1 1 8 1-5 1-1 1 3 1 0 1 1 1-9 1 3 1 3 1 0 1-2 1-4 1-1 1 2 1-1 1-6 1 5 1 2 1-6 1-2 1 6 1-7 1 2 1 2 1-2 1 0 1 1 1 0 1-3 1 3 1 0 1-1 1-2 1 1 1 1 1 0 1 1 1-4 1 3 1 3 1-8 1 11 1-9 1 1 1 7 1-8 1 3 1 1 1-1 1 5 1-2 1 6 1-4 1-3 1 2 1 3 1 4 1 2 1-2 1 2 1 1 1 2 1 4 1-3 1 5 1-5 1 0 1 1 1 2 1-5 1 7 1-8 1-4 1-2 1 4 1 0 1 0 1 2 1-4 1 2 1 0 1-5 1 0 1 3 1-1 1 2 1-6 1 2 1 0 1-1 1-1 1-4 1 6 1-5 1-1 1 5 1-6 1 4 1 0 1-2 1-3 1 3 1-2 1 4 1-3 1-2 1 2 1 2 1-4 1 2 1 7 1-7 1 4 1-3 1-5 1 3 1 6 1-2 1-1 1-2 1 6 1-8 1 4 1 4 1 2 1 0 1-1 1 0 1 0 1 1 1-6 1 7 1 2 1 2 1-4 1 2 1-3 1 3 1-3 1 6 1-6 1 5 1 0 1-11 1 2 1 3 1-4 1-4 1 5 1 1 1-2 1-3 1-2 1 9 1-4 1-7 1 6 1-1 1 6 1-1 1 0 1-3 1-1 1 0 1 3 1-1 1 0 1 8 1-6 1 2 1-4 1 5 1-6 1-1 1 0 1 7 1-7 1-2 1 6 1 3 1-5 1 5 1-4 1 5 1-3 1 1 1-5 1 4 1 3 1-2 1 3 1-2 1 6 1-3 1-3 1 2 1-4 1 3 1 7 1-9 1 5 1-7 1 3 1 2 1-4 1-2 1 5 1 0 1 0 1-2 1 5 1-5 1 5 1-4 1 0 1-3 1-1 1-2 1 7 1 0 1 5 1-6 1-5 1 4 1-2 1-3 1 0 1 6 1 0 1-2 1-1 1-1 1 8 1-8 1 1 1-4 1 5 1 6 1-5 1-3 1 2 1 3 1-2 1 3 1-1 1-3 1-2 1-3 1 7 1 0 1 0 1-2 1-3 1 2 1-1 1 3 1 0 1-4 1 6 1-1 1-1 1 5 1-2 1 3 1-1 1-1 1 2 1 1 1-4 1 10 1 0 1 1 1-7 1 0 1 0 1 6 1-1 1-4 1-3 1-3 1-4 1 2 1 4 1-8 1 13 1-9 1-7 1 6 1 8 1-13 1 9 1 0 1-5 1-1 1 9 1-8"/><path id="p63" d="M0 410l1 0 1 0 1 0 1 0 1 0 1 0 1 0 1 0 1 3 1 127 1 114 1 49 1 14 1 17 1 0 1 7 1 2 1-5 1 11 1-8 1 6 1-1 1-3 1 2 1 2 1-4 1 1 1 2 1-5 1 7 1 5 1-4 1-8 1 4 1 3 1-1 1 1 1-4 1 4 1-3 1 2 1-4 1 2 1 1 1 2 1 1 1-5 1 3 1 1 1 2 1 2 1 0 1-1 1 2 1-2 1 4 1-2 1-1 1 0 1 8 1-4 1-1 1-4 1 2 1-4 1 6 1-6 1 6 1 3 1-7 1-1 1-5 1 5 1-1 1-1 1-1 1 5 1-4 1-1 1 2 1-5 1 6 1 2 1-2 1 0 1 1 1-3 1 1 1-3 1-4 1 0 1 5 1-3 1-3 1 7 1-5 1 1 1-4 1-3 1 3 1 0 1-5 1 12 1-8 1 5 1 0 1-3 1 6 1-2 1 3 1 2 1 3 1-3 1 6 1-5 1 5 1 5 1-3 1-4 1 3 1-3 1 3 1-3 1-4 1 1 1-3 1 3 1-1 1-4 1 3 1-3 1 4 1-3 1 0 1 2 1-1 1-1 1-8 1 8 1-7 1 11 1-3 1-4 1 3 1-3 1-1 1 2 1-2 1 1 1 0 1-1 1-10 1 8 1-3 1 0 1 6 1-5 1 1 1 3 1-3 1 2 1 1 1 0 1-6 1 5 1 1 1 0 1 1 1 0 1 0 1-6 1 2 1 3 1 1 1 3 1-3 1-2 1-6 1 10 1 0 1 2 1-3 1 1 1 1 1 0 1 2 1-2 1-3 1-1 1 0 1 1 1 6 1-8 1 0 1-2 1 4 1 3 1-8 1 1 1 3 1-1 1-7 1 7 1 2 1-5 1 2 1 1 1-2 1 6 1-4 1 0 1-2 1-1 1 2 1-3 1 0 1-4 1 5 1-5 1 1 1 3 1 1 1 1 1-2 1 1 1 0 1-1 1 4 1-5 1 4 1 0 1 2 1 2 1 0 1 3 1-2 1 1 1 2 1-3 1-3 1 0 1-2 1 9 1-7 1-5 1 4 1 3 1-6 1-5 1 4 1 1 1-2 1 0 1 7 1-7 1 1 1-6 1 2 1 2 1 2 1-5 1 0 1 8 1-3 1 2 1 0 1 4 1-1 1-5 1 0 1 3 1 4 1 3 1-3 1 0 1 4 1-4 1-2 1 4 1 5 1-2 1-1 1-3 1-6 1 6 1-5 1 0 1 0 1 4 1-6 1 1 1 0 1 0 1 7 1-5 1 2 1-1 1-4 1 6 1-4 1-2 1 13 1-14 1 10 1 6 1-9 1 1 1 1 1 2 1-2 1 2 1-3 1-2 1 2 1 1 1 0 1-1 1-2 1-1 1 2 1 4 1-6"/><path id="p64" d="M0 410l1 0 1 0 1 0 1 0 1 0 1 0 1 0 1 0 1 2 1 134 1 108 1 53 1 21 1 9 1 11 1-1 1 4 1-3 1 0 1 4 1-3 1 2 1-2 1 6 1-6 1 5 1-5 1 6 1-3 1 7 1-4 1-1 1 1 1 0 1-3 1 3 1 1 1 3 1-2 1-4 1 1 1 1 1-2 1 1 1 6 1-11 1 3 1-1 1 0 1-3 1-3 1 2 1 0 1-5 1 4 1-1 1-6 1 9 1-1 1 1 1-1 1-8 1 7 1-6 1 5 1 1 1 0 1 0 1-1 1-4 1 3 1 0 1-5 1 7 1-2 1 2 1-2 1 3 1-2 1-3 1 5 1 1 1 4 1-2 1-2 1 6 1-1 1-9 1 11 1-4 1-6 1 3 1 3 1-5 1-5 1 6 1 0 1-5 1 3 1 0 1 3 1-3 1-6 1 4 1 1 1 6 1-1 1-1 1 6 1-7 1 4 1-5 1 2 1-3 1-1 1 7 1-6 1-1 1 2 1-3 1 2 1-3 1 0 1 4 1-3 1 0 1 0 1 3 1 0 1-1 1 0 1 7 1-7 1 1 1 1 1 1 1-2 1 0 1 0 1 5 1-5 1 8 1-8 1 2 1 3 1-7 1-1 1 6 1 1 1-6 1 6 1-4 1 7 1-8 1 1 1 9 1-3 1-1 1 4 1 0 1-2 1 2 1-3 1-4 1 4 1-1 1 1 1-5 1 0 1 2 1-4 1 6 1-4 1 2 1 2 1-5 1 5 1 0 1-4 1 13 1-9 1-2 1 0 1 2 1 5 1-4 1 1 1-4 1-3 1 8 1-5 1-1 1 2 1 4 1-6 1-1 1 3 1 0 1-1 1 1 1-1 1 8 1-2 1-8 1 4 1-6 1 2 1-3 1 4 1 0 1 0 1-1 1-1 1 1 1 1 1 2 1-2 1-4 1 8 1-6 1 3 1-3 1 4 1-1 1-1 1-3 1 3 1 5 1-10 1 6 1-3 1 4 1-7 1 6 1-2 1-2 1-5 1 7 1-4 1 2 1 1 1 2 1 1 1 2 1 2 1-7 1 3 1 2 1-3 1-3 1-3 1 8 1-4 1 1 1 1 1 0 1 2 1 0 1 0 1-4 1-4 1 6 1 0 1 4 1 1 1-6 1 2 1 8 1-5 1-3 1-3 1 9 1-7 1 2 1-3 1-1 1 3 1-2 1 8 1-12 1 11 1-4 1-3 1-1 1 9 1-9 1 2 1-3 1 8 1-1 1 4 1-9 1 4 1 2 1 2 1-4 1-6 1 6 1-1 1-5 1 4 1 0 1-1 1-5 1-3 1 3 1 9 1-5 1 4 1-3 1 3 1-5 1 3 1 0 1-2 1 0 1-1 1 6 1 0 1-3 1-1 1-1"/><path id="p65" d="M0 773l1 0 1 0 1 0 1 0 1 0 1 0 1 0 1 0 1-10 1-23 1-26 1-39 1-14 1-1 1-5 1-12 1 5 1-4 1-11 1 3 1 4 1-7 1-6 1 5 1-13 1 0 1-2 1-3 1-5 1 5 1-2 1-9 1 3 1 0 1-2 1 0 1 4 1-10 1 8 1 5 1-4 1-4 1 5 1 1 1 7 1-3 1-1 1 2 1 1 1 3 1 3 1-7 1 4 1 7 1 3 1 3 1 3 1 6 1-6 1 3 1 11 1 1 1-2 1 2 1 2 1 0 1 2 1-4 1-1 1-2 1-5 1 2 1-7 1-2 1-5 1 5 1-9 1 3 1 3 1-4 1-3 1-9 1 10 1-2 1-10 1 7 1-2 1-1 1-10 1 9 1-5 1 2 1-9 1 0 1 2 1-8 1 5 1 0 1-1 1-1 1-5 1 1 1 3 1-6 1 4 1 1 1-6 1-3 1 5 1-1 1-5 1 7 1 0 1 11 1 1 1-1 1 5 1 0 1 4 1 6 1-5 1 4 1-4 1 12 1-10 1 6 1-3 1-4 1-3 1-2 1 1 1-3 1 0 1 1 1-1 1-5 1 3 1 3 1-3 1 0 1 6 1-4 1-3 1 3 1 2 1-7 1 8 1 1 1 4 1 1 1 0 1 2 1 6 1-2 1-1 1 0 1 5 1-9 1 5 1 1 1-7 1 0 1 1 1-2 1 2 1 0 1 4 1-9 1 1 1 0 1 6 1-1 1-4 1 1 1 8 1-5 1 0 1 5 1-1 1 2 1 3 1 4 1-8 1 4 1 9 1-6 1 6 1 0 1 6 1 2 1-4 1-1 1 3 1-4 1 2 1 4 1-1 1-9 1 6 1 0 1-11 1 7 1-2 1-10 1 0 1 3 1-3 1-5 1-2 1-2 1 0 1-3 1 6 1-5 1-1 1 1 1-4 1 8 1-6 1 1 1 10 1-4 1 0 1-3 1 3 1 4 1-8 1 7 1 0 1 1 1-9 1 3 1-6 1 2 1-1 1-4 1 4 1-7 1 5 1-5 1 4 1 4 1 1 1 3 1-12 1 7 1-1 1-2 1 5 1-1 1 0 1 7 1 8 1-11 1 2 1 0 1-1 1 3 1-4 1-1 1 1 1-1 1 2 1-1 1-1 1 1 1-4 1 2 1 2 1 0 1 3 1 0 1-3 1 6 1-4 1 4 1-1 1-3 1 2 1-1 1 7 1-10 1-5 1 6 1 2 1-6 1 0 1 3 1 1 1-7 1-1 1 4 1 5 1 0 1-5 1 6 1 4 1-6 1 9 1-2 1 5 1-1 1 1 1 6 1-6 1 3 1 2 1-4 1-4 1-3 1 6 1-13 1 5 1-8 1 0 1-3 1 2 1 1 1-7 1 3 1-2 1 6"/><path id="p66" d="M0 773l1 0 1 0 1 0 1 0 1 0 1 0 1 0 1 0 1-20 1-23 1-31 1-36 1-20 1 0 1-5 1-1 1 5 1-9 1 6 1-1 1-4 1 6 1-2 1-5 1-7 1 5 1-1 1 4 1 4 1-3 1-2 1 7 1-5 1 6 1-7 1 3 1 0 1 6 1-12 1 3 1 0 1-3 1 1 1-6 1 3 1 0 1-6 1 6 1-6 1-5 1 4 1 1 1-8 1 6 1-6 1 5 1 2 1-6 1 2 1 3 1-4 1 1 1-5 1 13 1-14 1 6 1 1 1-3 1 2 1-3 1-3 1 7 1-2 1 0 1 7 1-1 1 6 1-1 1 6 1 2 1-3 1 6 1 0 1-2 1 2 1-2 1-5 1-8 1-3 1 4 1-5 1-9 1 3 1-10 1 3 1 8 1-13 1 10 1-9 1 6 1-4 1-4 1 0 1 6 1-2 1-4 1 6 1-3 1-1 1 4 1 1 1-5 1-3 1-1 1 9 1 6 1 4 1-10 1 3 1 2 1 0 1 2 1-2 1 10 1-5 1 1 1 5 1 5 1 1 1-3 1 8 1-2 1 4 1-3 1 7 1 3 1 0 1 6 1 3 1 4 1-7 1 5 1-1 1 3 1-9 1 4 1-3 1-6 1-2 1-4 1-2 1-3 1 0 1-13 1 0 1-4 1-1 1 5 1-4 1-1 1 11 1-9 1 6 1 2 1 0 1 4 1-2 1-2 1 7 1-3 1 4 1-7 1-1 1 2 1-1 1-7 1-2 1-6 1 3 1-3 1 0 1-3 1-6 1 5 1 3 1-1 1-2 1 1 1 8 1 5 1 1 1 0 1 11 1 2 1 7 1 0 1 9 1-3 1 8 1 0 1 2 1-3 1 1 1-7 1 1 1-2 1-2 1 3 1-1 1 0 1-3 1-1 1 4 1-6 1-2 1 1 1-4 1 7 1-7 1-7 1 6 1-8 1-2 1-6 1-3 1-4 1-4 1 4 1-5 1-9 1 7 1-7 1 6 1 1 1 1 1 6 1-12 1 14 1-2 1-2 1 4 1 1 1 8 1-1 1 4 1-2 1 1 1 9 1-5 1 4 1 0 1-2 1 0 1-1 1-4 1 6 1 3 1-8 1-6 1-2 1 2 1-1 1-4 1 4 1-6 1-3 1 0 1 7 1-3 1 2 1-3 1-2 1-1 1 6 1-6 1 0 1 4 1-3 1 1 1 3 1-1 1-1 1 2 1 2 1-3 1 11 1-5 1 3 1 8 1-3 1 15 1-7 1 8 1 1 1 8 1-4 1 0 1-3 1 3 1 0 1-3 1-6 1 0 1-2 1-6 1-12 1 10 1-3 1-8 1-4 1-2 1 0 1-1 1-1 1-3 1-4 1 0 1 2 1 0 1-2 1 6 1 0"/><path id="p67" d="M0 773l1 0 1 0 1 0 1 0 1 0 1 0 1 0 1 0 1-30 1-25 1-36 1-47 1-14 1-3 1-4 1 1 1 3 1-2 1 8 1 3 1-7 1 3 1 1 1-1 1 1 1 0 1-3 1 5 1 4 1-2 1 12 1-2 1 1 1 1 1 10 1-9 1 2 1 2 1 3 1-3 1-1 1-2 1-3 1-5 1 4 1-1 1-6 1 0 1 2 1-3 1-2 1 3 1-3 1 2 1-3 1-1 1-1 1 8 1-9 1 13 1-8 1-1 1-4 1-2 1 8 1-6 1-3 1 0 1 3 1-5 1 6 1 0 1-4 1 1 1-6 1-9 1 5 1-2 1 2 1-8 1 3 1 0 1-5 1 2 1 1 1-2 1-6 1 5 1 5 1-11 1 1 1 1 1 3 1-1 1 3 1 2 1 0 1-7 1 3 1 11 1-4 1-2 1 7 1-2 1 0 1 1 1 3 1-12 1 5 1-4 1 4 1-2 1-2 1-3 1-1 1-1 1 0 1 2 1-5 1 5 1-7 1 0 1-1 1 5 1 8 1-1 1 2 1 0 1 1 1 8 1 2 1-2 1 10 1 0 1-2 1 7 1 3 1 0 1 3 1 1 1-6 1 5 1-3 1 3 1-4 1 1 1 5 1-5 1 2 1-1 1 3 1 2 1-5 1 0 1 3 1 0 1-4 1-1 1 5 1-4 1-3 1 5 1-4 1-4 1-4 1 3 1-4 1 8 1-8 1-3 1-3 1 3 1 4 1-3 1-1 1 0 1 3 1 3 1-3 1-5 1 4 1 4 1 1 1-2 1-3 1 5 1 9 1-11 1 8 1 0 1-2 1 5 1 1 1 1 1 3 1 3 1-8 1 0 1 1 1-10 1 8 1-4 1 2 1 5 1-9 1 4 1-1 1-2 1-3 1 12 1-7 1 7 1-3 1 0 1-4 1 10 1 0 1-8 1 1 1-5 1 1 1 5 1-9 1-2 1 1 1 4 1-5 1-2 1 6 1-4 1 7 1 1 1-4 1 9 1-1 1 5 1-7 1 4 1-7 1 1 1-3 1 0 1-7 1 5 1-6 1-17 1 8 1-3 1-2 1-4 1 2 1 5 1 1 1-4 1 10 1 4 1 4 1-3 1 2 1 10 1 6 1-5 1 13 1-5 1-3 1 9 1-15 1 6 1-8 1 8 1-11 1-3 1-2 1 5 1-4 1-11 1 3 1 2 1 1 1 2 1-1 1-2 1-1 1 3 1-4 1 7 1-2 1-4 1 6 1-8 1-1 1 2 1-2 1 9 1-5 1 3 1 1 1 3 1-4 1-2 1 3 1-1 1-3 1-2 1 10 1-11 1 5 1-4 1 0 1 0 1-2 1 2 1 3 1 0 1-5 1 14 1 0 1-6 1 3 1 1 1 5 1-2"/><path id="p68" d="M0 773l1 0 1 0 1 0 1 0 1 0 1 0 1 0 1 0 1-17 1-19 1-33 1-42 1-14 1-8 1 3 1-8 1 9 1 2 1-3 1 7 1-7 1-2 1-1 1-6 1 4 1 1 1 3 1 1 1-7 1 0 1 0 1 10 1-4 1-6 1 1 1 2 1 7 1-9 1-1 1-3 1-6 1 3 1-4 1-3 1-9 1 7 1-9 1-3 1 1 1-3 1-7 1 7 1 1 1-3 1 4 1 3 1 9 1-6 1 4 1-2 1 1 1 5 1-4 1 3 1-4 1 6 1 6 1-6 1-1 1 1 1-6 1-3 1-3 1-2 1-2 1-3 1-1 1 0 1-2 1 8 1-4 1 7 1-14 1 9 1 0 1 6 1-4 1 3 1-3 1 3 1 1 1-5 1 12 1-11 1 6 1-3 1 2 1-1 1 0 1 6 1-4 1-2 1-3 1 1 1 8 1-9 1 6 1-2 1 3 1-1 1-3 1 3 1-5 1-3 1 4 1-5 1 0 1-1 1 3 1-3 1-1 1 7 1-6 1 4 1 0 1 1 1 0 1-5 1 4 1-6 1 5 1-8 1 1 1 3 1-8 1 6 1-1 1 5 1-4 1 5 1-3 1 6 1 3 1-11 1 8 1 0 1 4 1-3 1 7 1-5 1 5 1-2 1 10 1-13 1 6 1-1 1-1 1-5 1 6 1-1 1-6 1 3 1 3 1-5 1-1 1 5 1-6 1 1 1-2 1 8 1-13 1 7 1 6 1-3 1-7 1-1 1 2 1-2 1-4 1 3 1-4 1 3 1-9 1 7 1 0 1 0 1 0 1 3 1-1 1 4 1-2 1 10 1-4 1 5 1-2 1 7 1 6 1-6 1 1 1 1 1 0 1 2 1-1 1-2 1 2 1-1 1 1 1 1 1-3 1 3 1 2 1-1 1 3 1 2 1-8 1 12 1-2 1 4 1-8 1-1 1-2 1-1 1-7 1-6 1 2 1 2 1-7 1 4 1-1 1 5 1-8 1-1 1 5 1-4 1 3 1-2 1 6 1-5 1 0 1 10 1-2 1 6 1 1 1 4 1-3 1 5 1 1 1 4 1-2 1 5 1 3 1-8 1 2 1 1 1-3 1 0 1 0 1-4 1 6 1-5 1-7 1-6 1 1 1-3 1 2 1 0 1-9 1 3 1-6 1 1 1-1 1 5 1 2 1-5 1 2 1 3 1-1 1 6 1-2 1-5 1-1 1 4 1 0 1-2 1 3 1-2 1 3 1-2 1 5 1 1 1-2 1-9 1 4 1 5 1-5 1 1 1 4 1 2 1-7 1 13 1-6 1 3 1 2 1-7 1 15 1-4 1-11 1 8 1 1 1-8 1 4 1-8 1 1 1 8 1-2 1 3 1-4 1 6 1 1 1 4 1 4 1 0"/><path id="p69" d="M0 773l1 0 1 0 1 0 1 0 1 0 1 0 1 0 1 0 1-23 1-26 1-33 1-48 1-20 1-3 1-10 1-5 1 4 1-1 1-2 1 1 1 0 1 5 1-5 1 4 1 2 1 6 1-5 1 5 1-2 1 5 1 0 1 9 1-2 1 8 1 3 1 2 1-2 1-13 1 14 1-5 1-2 1 2 1 3 1-9 1 1 1 8 1-11 1 5 1-9 1-1 1 1 1-2 1-1 1-6 1-1 1 1 1 1 1-6 1 7 1-9 1 3 1-6 1 2 1 2 1 0 1 6 1-9 1 5 1 0 1 5 1-1 1 2 1 1 1-6 1 1 1 7 1-5 1 1 1-5 1-1 1 2 1-5 1 6 1-8 1 5 1-5 1 6 1-2 1-8 1 2 1 6 1 9 1-10 1-2 1 4 1 3 1-7 1 8 1-7 1 7 1 0 1 0 1 1 1 2 1 3 1 1 1-2 1-2 1 5 1 3 1-1 1 0 1 4 1-10 1 1 1 3 1 0 1-1 1-1 1 1 1-2 1 0 1 6 1 1 1-1 1 0 1-2 1-4 1 8 1-3 1 1 1-3 1 3 1 3 1-4 1 4 1 0 1-3 1-6 1 7 1 2 1-6 1-1 1 0 1 1 1-4 1-3 1 1 1 4 1 4 1-7 1 3 1 4 1-2 1-2 1-5 1 10 1-2 1 6 1-2 1 0 1-2 1 0 1-1 1 5 1-1 1-8 1 9 1-1 1 3 1-3 1 1 1-5 1 0 1 3 1-1 1 0 1-3 1 6 1 0 1 1 1-3 1 0 1-5 1 1 1 5 1 0 1-1 1-3 1-1 1-6 1 2 1 9 1-8 1 3 1-5 1 5 1 0 1 2 1-1 1 1 1 12 1-6 1-2 1 5 1-6 1-1 1 0 1-5 1-2 1 1 1 8 1-2 1 0 1 0 1 7 1 0 1 3 1-8 1 4 1-3 1-3 1-8 1 10 1-7 1 1 1 3 1-4 1-7 1 9 1-8 1 5 1-6 1 13 1-8 1 6 1 1 1 2 1-7 1 3 1 10 1-5 1 5 1 1 1-5 1 6 1-2 1 2 1-4 1 1 1 1 1 1 1-2 1 1 1-5 1-1 1-5 1-4 1 1 1 7 1-9 1 7 1-7 1 1 1 6 1-2 1-2 1 5 1-1 1 0 1 5 1 7 1 2 1-4 1-1 1 2 1-2 1 4 1-2 1-2 1-4 1 3 1 1 1-4 1-6 1-5 1 6 1-4 1 0 1 2 1-5 1 8 1 1 1-14 1 1 1 1 1 0 1 1 1-5 1 1 1 6 1-3 1-8 1 4 1 0 1 4 1 2 1-4 1 2 1-3 1-3 1 7 1-9 1 0 1-4 1 1 1-1 1 2 1-6 1 7 1-6 1 3"/><path id="p70" d="M0 773l1 0 1 0 1 0 1 0 1 0 1 0 1 0 1 0 1-15 1-23 1-29 1-43 1-23 1-1 1-8 1 0 1-5 1-1 1 6 1-3 1-2 1 2 1 1 1-3 1-6 1 4 1 0 1-5 1 2 1-6 1-1 1-4 1 5 1-13 1 0 1 9 1-7 1 1 1-12 1 4 1 4 1-2 1 3 1 5 1-4 1-1 1 3 1 5 1-3 1 3 1 3 1 1 1 3 1 7 1-2 1 3 1 2 1 4 1-1 1 1 1 1 1 4 1-2 1 1 1-9 1 12 1-3 1 1 1 3 1-6 1 5 1-7 1 5 1 0 1 4 1-14 1 16 1-1 1-9 1-3 1 2 1-12 1 4 1-3 1-8 1 6 1-8 1 3 1-11 1 7 1-8 1 4 1 4 1-5 1 5 1-1 1 9 1 0 1 3 1 7 1 0 1-5 1 6 1 2 1 0 1-6 1 7 1-4 1-4 1-3 1 7 1-8 1 9 1-16 1 6 1 2 1 3 1-1 1 3 1 5 1-4 1 1 1 3 1-1 1-2 1 7 1-9 1 7 1 1 1 4 1-7 1 3 1-1 1-8 1 1 1-3 1-6 1 0 1-4 1 2 1-2 1 0 1-1 1-4 1 3 1 1 1 1 1 2 1-3 1 12 1-2 1 1 1 2 1-8 1 6 1 3 1-4 1 3 1-1 1 4 1-1 1 0 1 1 1-9 1 10 1-1 1-4 1 1 1-1 1-2 1 1 1-5 1 4 1-7 1 2 1-9 1 5 1-1 1-5 1 3 1-5 1-5 1 3 1-5 1 4 1-2 1 2 1 7 1-10 1 8 1 1 1-2 1 3 1-4 1 8 1-5 1 0 1 2 1-5 1 0 1 1 1-5 1 4 1 6 1-9 1 2 1 4 1-3 1-3 1 4 1 2 1-3 1 0 1 7 1 5 1-5 1-3 1 10 1-1 1-6 1 8 1-1 1 7 1-2 1-2 1 6 1 2 1 8 1-4 1 6 1-1 1 6 1 0 1 2 1 2 1-4 1 4 1-4 1 1 1 1 1 5 1-11 1 1 1-1 1-3 1-8 1 2 1-3 1-7 1 0 1-4 1 1 1-2 1 2 1 3 1-9 1 2 1 1 1 4 1-2 1 0 1 10 1 1 1-3 1 5 1-11 1 9 1 8 1-7 1 3 1 4 1-4 1-6 1 2 1-9 1 4 1-1 1 4 1-4 1-1 1 3 1 6 1-7 1 6 1-2 1-1 1 0 1 5 1 12 1-11 1 7 1-4 1 5 1-5 1 1 1 3 1-1 1-5 1-1 1 3 1-6 1 1 1 1 1-7 1 6 1-1 1 0 1-11 1 8 1 0 1-2 1 2 1-1 1 3 1-9 1 7 1 7 1 2 1 0 1-3 1 0 1-5"/><path id="p71" d="M0 773l1 0 1 0 1 0 1 0 1 0 1 0 1 0 1 0 1-24 1-25 1-27 1-43 1-17 1 0 1 4 1-3 1 3 1 0 1-1 1 5 1-8 1 1 1 5 1-6 1 1 1 3 1-6 1 1 1 2 1-6 1 8 1 3 1-7 1-2 1 9 1-6 1-5 1 0 1-2 1 3 1 8 1-6 1-2 1-3 1-9 1-2 1 4 1-6 1 5 1-8 1 0 1 1 1-2 1 0 1-3 1-1 1-2 1 2 1-4 1 2 1 1 1 2 1-1 1 3 1 1 1-1 1 4 1-2 1 4 1 4 1-2 1 7 1-5 1 8 1-3 1 6 1 3 1 0 1-3 1-3 1 1 1-10 1 4 1 1 1-7 1-9 1 9 1-14 1 3 1-4 1 0 1-3 1 2 1-9 1 7 1 3 1-2 1-5 1 4 1 5 1 9 1-7 1 2 1 2 1 0 1 0 1 5 1-5 1 5 1-8 1 4 1 0 1 0 1-6 1 3 1 0 1-8 1 4 1 0 1-6 1-4 1 4 1 2 1 5 1-3 1-6 1 11 1 2 1-6 1 13 1-1 1 5 1 3 1-3 1 8 1 1 1-1 1 2 1 1 1 3 1 2 1-2 1 1 1 1 1 0 1 1 1 5 1-13 1 5 1 5 1 1 1-6 1-1 1 4 1-1 1-1 1-7 1 10 1-1 1-2 1-7 1 2 1 0 1-8 1 8 1 4 1-6 1-1 1 3 1 2 1-1 1-3 1-3 1 6 1-7 1 3 1 1 1 0 1 0 1 1 1-1 1 3 1-8 1 5 1-5 1 1 1-3 1 2 1 1 1 1 1 1 1-6 1 1 1 0 1 3 1-4 1-1 1 0 1 5 1-5 1-1 1 3 1-7 1-3 1 6 1-1 1-3 1-1 1 4 1-1 1 0 1-5 1 1 1 6 1 4 1-6 1 3 1 0 1 7 1-3 1-1 1 2 1-6 1 9 1-3 1-7 1 2 1 11 1-6 1 0 1 1 1-3 1 0 1-5 1 11 1-6 1 2 1 1 1-7 1 7 1-3 1-1 1 1 1-4 1-5 1 0 1 0 1 4 1-1 1-5 1 0 1 5 1-6 1 14 1-8 1 3 1 6 1-12 1 8 1-2 1-9 1 10 1-4 1 0 1-2 1-2 1 0 1 1 1 3 1 4 1 3 1-6 1 7 1-3 1 6 1 1 1 2 1-3 1 2 1 8 1-6 1 10 1-6 1 1 1-7 1 6 1 4 1-1 1-2 1-1 1-3 1 2 1 1 1-10 1 12 1-9 1-1 1-5 1 4 1-9 1 2 1-4 1-3 1 0 1-1 1-1 1 6 1-9 1 3 1 1 1 5 1-7 1 6 1 6 1 5 1-1 1 3 1 10 1-6 1 0 1 8 1-5"/><path id="p72" d="M0 773l1 0 1 0 1 0 1 0 1 0 1 0 1 0 1 0 1-23 1-26 1-30 1-41 1-18 1-1 1-2 1 8 1 6 1-6 1 0 1 6 1-1 1-1 1 2 1 0 1-10 1 7 1-6 1 5 1-1 1-1 1 4 1-2 1 3 1-1 1 2 1 4 1 1 1 0 1-6 1 8 1-6 1 4 1-5 1-3 1 2 1-1 1-3 1-8 1 0 1 5 1-3 1-5 1 2 1 0 1 4 1 0 1-1 1-3 1 3 1-7 1 11 1 0 1-1 1 2 1-6 1-5 1 3 1 1 1-8 1-1 1 5 1-19 1 6 1 3 1-2 1 4 1-7 1 7 1-7 1 5 1 0 1-3 1 4 1 0 1-1 1 1 1 6 1-8 1 8 1-5 1 3 1-6 1-2 1 1 1-2 1-1 1-4 1 7 1-3 1 5 1-3 1-2 1 4 1 4 1-12 1 6 1 3 1-4 1 1 1-5 1 4 1-2 1-3 1 3 1-3 1-1 1 5 1-4 1-7 1 1 1 5 1-3 1-3 1 11 1-5 1 4 1 0 1 3 1 3 1-2 1 0 1 3 1 3 1-2 1 2 1-9 1 8 1-2 1 8 1-7 1-2 1-3 1 0 1-1 1 0 1 1 1-1 1-3 1-2 1 2 1 6 1-8 1-1 1-5 1 10 1-3 1-7 1-5 1 2 1-2 1-8 1 3 1-7 1 11 1 3 1-7 1 10 1-9 1 10 1-1 1 3 1 4 1 7 1 0 1 7 1-1 1 2 1 6 1 1 1 3 1 0 1 3 1-4 1 2 1 9 1-4 1-1 1 4 1 8 1-7 1 4 1-2 1-3 1 3 1-3 1 1 1-3 1-3 1-2 1-2 1 1 1-11 1 6 1 7 1-1 1 1 1 2 1-1 1 3 1 5 1 2 1-3 1 0 1 3 1-4 1-4 1 1 1-4 1 2 1 9 1-8 1-4 1-6 1 7 1-7 1 1 1-2 1-3 1-7 1 1 1 6 1-1 1-3 1-2 1 6 1 0 1-4 1 0 1 1 1 1 1-5 1 0 1 3 1 2 1-6 1 6 1-2 1-5 1-4 1 2 1 5 1-6 1 6 1 0 1-6 1-1 1 0 1 0 1 2 1 5 1-10 1 6 1-4 1 7 1-7 1 8 1-2 1 7 1-3 1-5 1 8 1-11 1 2 1 8 1 4 1-9 1 7 1-2 1 2 1 6 1-8 1 0 1 6 1 0 1 7 1 0 1 2 1-1 1-3 1 0 1 0 1 0 1-1 1-4 1 7 1-4 1 0 1 0 1 0 1-1 1-2 1 4 1-1 1 1 1 5 1 6 1-5 1 3 1-2 1 1 1-5 1 3 1 9 1-14 1-1 1 0 1 0 1 2 1-10 1 2 1 1 1-7"/><path id="p73" d="M0 773l1 0 1 0 1 0 1 0 1 0 1 0 1 0 1 0 1-27 1-31 1-32 1-48 1-12 1-9 1-2 1 0 1 2 1-2 1-2 1-1 1 4 1 4 1-4 1 2 1-2 1 0 1 2 1-6 1 0 1 1 1 1 1 0 1-5 1 2 1 5 1-6 1 1 1 9 1 2 1-1 1 5 1-4 1 9 1 7 1 1 1 5 1-1 1-1 1 9 1 4 1-8 1 6 1 1 1-4 1-1 1 6 1-6 1 9 1-7 1 2 1 1 1-12 1 10 1-3 1-9 1-6 1 5 1-2 1-10 1 11 1-11 1-5 1-1 1 6 1-6 1-8 1 1 1 4 1-5 1 0 1 3 1 7 1-6 1 7 1 6 1 6 1-1 1 7 1 0 1 7 1-2 1-2 1 0 1-2 1 5 1-6 1 2 1-6 1-1 1-9 1 2 1-3 1-11 1 2 1-5 1-5 1-1 1-2 1-2 1-5 1-1 1-3 1 5 1-2 1 6 1-5 1 3 1 11 1-7 1 3 1 7 1 0 1-7 1 3 1 3 1 3 1-4 1 6 1-1 1-1 1-5 1 6 1-5 1-3 1 3 1-6 1 1 1 0 1 3 1-3 1 2 1-2 1-5 1-1 1-1 1 9 1-6 1-1 1-5 1-2 1 5 1-1 1-2 1 3 1-1 1 2 1 3 1-2 1 5 1 0 1 2 1 6 1-3 1-5 1 2 1 8 1 7 1-7 1 5 1 0 1 4 1 6 1-3 1 1 1 6 1-4 1 4 1 7 1-1 1-4 1-5 1 5 1-2 1 5 1-4 1 2 1-1 1-1 1-9 1 3 1-2 1 0 1-12 1 3 1 1 1-4 1-2 1 1 1 3 1 4 1 1 1 2 1-3 1 2 1 6 1-5 1 2 1 1 1 0 1 0 1 4 1 4 1-6 1 0 1-5 1 3 1 0 1 1 1 0 1-2 1 2 1-3 1 6 1-10 1 14 1-7 1 1 1 1 1-1 1 1 1-8 1 0 1 4 1-7 1-5 1 13 1-14 1-1 1 2 1-6 1-1 1-1 1-4 1 5 1-7 1 1 1 1 1-5 1 2 1 2 1-3 1-2 1 10 1-8 1-5 1 5 1 6 1-1 1 2 1-6 1 4 1-2 1-3 1 8 1-2 1 3 1 3 1-5 1 4 1-5 1 9 1-2 1 1 1 2 1-2 1 0 1 10 1 0 1 0 1 0 1 0 1 4 1 1 1 0 1 1 1 6 1-2 1-2 1-2 1 3 1-8 1-1 1 1 1-6 1 6 1-5 1-2 1 0 1-1 1 9 1 0 1 1 1 7 1 1 1 1 1 7 1 1 1 2 1 2 1 2 1-2 1-1 1-3 1 1 1-4 1-5 1-10 1 7 1-2 1-5 1-4 1-2"/><path id="p74" d="M0 773l1 0 1 0 1 0 1 0 1 0 1 0 1 0 1 0 1-19 1-22 1-32 1-40 1-16 1-8 1 2 1-7 1 6 1-6 1 3 1-5 1 0 1-10 1 1 1 1 1-1 1 2 1 1 1-3 1-4 1 8 1-3 1-3 1 1 1 3 1 2 1 1 1-2 1 2 1-2 1-2 1 6 1 1 1-8 1 3 1-1 1 6 1 3 1-8 1 6 1 2 1 1 1-2 1-5 1 10 1-9 1 10 1 0 1-2 1-1 1-1 1 1 1-9 1 1 1 4 1-8 1-4 1-1 1-1 1-4 1-2 1 1 1 0 1 3 1-2 1 0 1 0 1-1 1-4 1 6 1-1 1 4 1 2 1-1 1-4 1 4 1 9 1-9 1 5 1 8 1-9 1 9 1-15 1 6 1 5 1-3 1 2 1 1 1-7 1 7 1-2 1 0 1-1 1 1 1-6 1 7 1-5 1-1 1 2 1-2 1 2 1 2 1-10 1 4 1 1 1-1 1-5 1-2 1 1 1-7 1 9 1-1 1-4 1 0 1 0 1-1 1 5 1 2 1-3 1 5 1-12 1 10 1 3 1-5 1-1 1-5 1 7 1 2 1-7 1 0 1 4 1-1 1 4 1-4 1 1 1 0 1 2 1-5 1 0 1 3 1-1 1 4 1-6 1 6 1-8 1-2 1 4 1 2 1 3 1 2 1-4 1 1 1 7 1-2 1-3 1 8 1-7 1 6 1-4 1 8 1-2 1-3 1 6 1 2 1-7 1-2 1 0 1 0 1-5 1 3 1-4 1 0 1-4 1 4 1-4 1 4 1-2 1 5 1 0 1-2 1 3 1-2 1-3 1 5 1 2 1 1 1 5 1-10 1 7 1 6 1-9 1 4 1-3 1-2 1 3 1-5 1 1 1-2 1 6 1-2 1-6 1-10 1 5 1-7 1 2 1 0 1-8 1 3 1-4 1-3 1 0 1-4 1 9 1-7 1 2 1 5 1-3 1-2 1 10 1 1 1 6 1-3 1 12 1-7 1-2 1 8 1 9 1-1 1 0 1 6 1-2 1-4 1 0 1 5 1-4 1-2 1 6 1-4 1-7 1 6 1 3 1 1 1 0 1-5 1 3 1 0 1 2 1-1 1-1 1 0 1 3 1 4 1-4 1 0 1 2 1-1 1 3 1-2 1-9 1 0 1 8 1-2 1-9 1 6 1 0 1 1 1 4 1-4 1-3 1 5 1 4 1-8 1 4 1 4 1 3 1-5 1 7 1-5 1 2 1-1 1 7 1-10 1-4 1 6 1-9 1-3 1 1 1 7 1-4 1 7 1-3 1-4 1 1 1-7 1 8 1-12 1 1 1 2 1-2 1-4 1 3 1-1 1 2 1 5 1 3 1 2 1-2 1 2 1-3 1 3 1 4 1 4 1-2"/><path id="p75" d="M0 773l1 0 1 0 1 0 1 0 1 0 1 0 1 0 1 0 1-25 1-28 1-39 1-38 1-24 1-6 1-8 1 3 1 0 1 0 1 2 1 10 1-2 1 0 1 5 1 5 1 2 1 7 1-5 1 6 1-2 1-3 1 6 1-5 1 0 1-5 1 8 1 0 1-10 1 2 1-6 1-1 1-1 1 2 1-1 1-3 1-2 1 1 1 3 1-1 1 7 1-1 1 4 1 7 1 0 1 0 1 4 1 6 1 6 1 1 1-8 1 10 1-2 1 7 1-3 1 2 1-11 1 2 1 2 1-14 1 3 1 1 1-5 1 1 1-3 1-4 1 5 1-9 1-5 1 1 1-2 1-6 1 2 1 2 1-3 1-4 1 2 1-2 1-1 1-6 1-2 1 4 1-7 1 5 1-1 1-3 1-4 1 3 1 0 1 5 1-4 1-6 1-1 1 10 1-5 1 5 1-1 1 3 1-4 1 5 1-2 1 0 1-2 1-2 1 3 1 7 1-10 1 4 1 0 1 2 1 0 1 0 1 12 1-11 1 10 1 1 1-3 1 3 1 8 1-5 1 6 1 2 1 0 1-1 1 4 1-5 1-6 1 0 1 0 1 6 1-8 1 7 1-2 1-1 1-4 1 3 1 3 1-5 1 2 1 4 1-4 1 7 1-5 1 6 1-4 1-1 1-4 1 0 1-3 1 2 1 6 1-5 1 3 1-8 1 3 1 3 1 2 1-3 1 2 1-2 1-5 1 8 1-7 1 1 1 1 1-1 1-4 1 6 1-3 1-8 1 4 1-2 1 5 1 1 1 3 1 8 1-4 1 3 1 0 1 7 1-2 1-1 1-7 1 0 1 1 1-1 1-4 1-3 1-2 1-8 1 4 1 11 1-11 1 2 1 0 1 1 1 4 1-4 1 1 1 2 1 1 1 6 1-1 1 3 1-3 1 7 1-3 1 2 1 5 1-6 1 5 1-4 1-1 1 4 1 0 1 2 1 4 1-2 1 2 1-4 1-1 1 5 1-5 1 3 1-3 1 0 1 2 1-7 1 6 1 0 1-6 1-9 1 0 1-2 1 1 1-10 1-1 1 0 1-4 1 0 1-6 1 3 1 0 1 0 1-8 1 6 1 0 1-1 1 0 1 9 1-7 1 6 1 4 1 1 1 7 1-10 1 1 1 10 1 3 1-5 1 4 1-3 1-2 1-3 1-2 1 4 1-5 1 5 1-5 1-1 1-1 1 4 1-4 1 1 1 5 1 3 1-3 1-1 1 11 1 1 1 5 1-1 1 9 1 5 1-2 1 4 1 1 1 1 1 0 1 0 1-6 1 7 1-12 1-7 1-2 1 1 1 1 1-7 1-9 1 6 1-1 1-4 1 8 1-3 1-1 1-6 1 1 1 5 1-1 1 2 1 1 1-6 1 8 1 3"/><path id="p76" d="M0 773l1 0 1 0 1 0 1 0 1 0 1 0 1 0 1 0 1-18 1-29 1-23 1-45 1-6 1-11 1 5 1-4 1 11 1-3 1 7 1-5 1-1 1 5 1 7 1-8 1 3 1-1 1 0 1 7 1 1 1-2 1-3 1 0 1-4 1-1 1-2 1 0 1 4 1-6 1-9 1 5 1-3 1-7 1-3 1-7 1 2 1-9 1-3 1 2 1-11 1 10 1-10 1 3 1-1 1-3 1-2 1 2 1 8 1-3 1-1 1 8 1 6 1 2 1 8 1-3 1 6 1 0 1 6 1-7 1 4 1 3 1-6 1 0 1-1 1-4 1-6 1 1 1-2 1 0 1-8 1 3 1 5 1-7 1 3 1-2 1 6 1-6 1 13 1-5 1 4 1-7 1 2 1-7 1-1 1 6 1-13 1 1 1-6 1 3 1-4 1 3 1-2 1 4 1 2 1-5 1 1 1 2 1 7 1 9 1 0 1-3 1 3 1 2 1 0 1 4 1-1 1 8 1-4 1-2 1 5 1-1 1-1 1 1 1-5 1 2 1 8 1-9 1 0 1 0 1-4 1 5 1-3 1-5 1-5 1 6 1-6 1-4 1 0 1-1 1-1 1 0 1 1 1-5 1 3 1 1 1-3 1 2 1-1 1 3 1-2 1-4 1 8 1 1 1-2 1 3 1 3 1-2 1 6 1-8 1 0 1 0 1-6 1 8 1-5 1 3 1-1 1-5 1 10 1-1 1-7 1 5 1 8 1-6 1 5 1-2 1-3 1 6 1-7 1 8 1-8 1-1 1 1 1-5 1 1 1-3 1 2 1-2 1-8 1 9 1 0 1-1 1 6 1-6 1 3 1 0 1-1 1 4 1-11 1 4 1-2 1-9 1-2 1 5 1-8 1 6 1 1 1-5 1 7 1 2 1 4 1-1 1 1 1 9 1-2 1-1 1 2 1 4 1-3 1 0 1 6 1-7 1-4 1 0 1-2 1 0 1 3 1 7 1-8 1-1 1 0 1 2 1-11 1 11 1-9 1 5 1-4 1-2 1 2 1 3 1-6 1 5 1-6 1-1 1 3 1-2 1-2 1 0 1 4 1-8 1 1 1 1 1 10 1-6 1 4 1-1 1-3 1 1 1 3 1 5 1-6 1 0 1 2 1 7 1-7 1 5 1 0 1-3 1 6 1 6 1-3 1 2 1 2 1 3 1 3 1-6 1 13 1 1 1-1 1 5 1 7 1-10 1 10 1-3 1 2 1-7 1 5 1-3 1 0 1 0 1 0 1-8 1-5 1 0 1 1 1-10 1 7 1-11 1 0 1-3 1 1 1 0 1 3 1-4 1 1 1 3 1 3 1-1 1-4 1-2 1 6 1 0 1-4 1 2 1 3 1-6 1 12 1-8 1-1 1 0 1 0 1 3 1 1 1 7"/><path id="p77" d="M0 773l1 0 1 0 1 0 1 0 1 0 1 0 1 0 1 0 1-17 1-23 1-23 1-43 1-6 1-12 1 2 1-3 1 8 1-6 1 0 1-8 1 1 1-4 1 0 1 0 1-8 1 7 1-3 1-7 1-3 1 1 1-1 1-7 1 6 1-8 1 2 1-1 1 1 1-6 1 9 1-4 1-3 1 0 1 1 1 2 1-1 1-5 1 4 1 4 1 0 1 2 1 2 1 1 1 0 1 1 1 8 1-3 1 0 1 3 1-4 1 0 1 3 1 1 1-2 1-1 1 11 1-12 1 3 1-4 1 5 1-6 1 1 1-4 1 0 1-2 1-5 1 2 1-2 1-1 1-6 1 1 1-2 1 3 1 4 1-15 1-1 1 1 1-4 1-4 1 6 1-2 1 6 1-3 1 10 1 0 1 7 1-3 1 2 1-2 1 8 1 1 1-1 1-1 1 6 1-4 1-9 1 7 1-8 1 1 1-2 1-1 1 4 1 0 1 3 1 0 1 0 1 1 1-3 1 0 1-3 1-1 1-1 1 3 1 1 1 1 1-11 1 11 1 5 1-8 1 4 1 5 1-4 1 5 1 1 1 5 1-4 1 0 1 0 1 4 1-1 1 1 1 2 1-6 1-3 1-1 1-4 1 3 1-11 1-8 1 7 1 2 1-6 1-2 1-1 1-9 1 4 1 6 1 1 1 0 1 1 1 3 1 5 1-5 1 6 1 5 1 0 1-1 1 7 1-5 1-5 1 3 1-2 1-3 1-9 1 3 1-5 1-1 1 0 1-7 1 5 1 2 1-4 1 0 1 3 1 1 1-2 1 6 1 8 1-1 1 4 1-1 1 9 1-5 1 6 1-1 1 8 1-4 1-5 1 6 1-4 1-3 1 2 1-9 1 1 1 6 1 2 1-2 1-10 1 5 1-6 1 9 1 7 1-9 1 8 1-3 1 0 1-2 1 9 1-2 1 4 1-3 1-9 1 3 1-1 1-3 1 5 1-3 1 1 1-10 1 1 1 5 1-4 1-1 1 4 1-6 1 0 1 6 1-3 1 5 1 0 1 7 1-3 1-2 1 8 1 8 1-5 1 1 1-1 1 9 1-5 1-3 1-1 1 8 1-6 1-3 1 4 1-4 1 2 1 0 1-4 1 2 1 2 1 1 1-5 1 2 1-5 1-3 1 1 1 1 1 1 1-1 1 3 1 2 1-3 1 3 1 2 1-3 1 1 1 4 1 4 1 7 1-9 1-2 1-1 1 2 1 1 1 3 1-1 1-8 1 5 1-1 1-3 1 10 1-1 1-9 1 3 1 2 1 4 1 2 1-2 1 0 1 5 1-5 1 3 1 1 1 1 1-1 1 1 1 3 1-10 1 5 1 3 1-3 1-9 1 4 1-14 1 1 1-3 1 4 1-11 1 3 1 0 1-9"/><path id="p78" d="M0 773l1 0 1 0 1 0 1 0 1 0 1 0 1 0 1 0 1-15 1-21 1-29 1-50 1-14 1-4 1 2 1-12 1 3 1-3 1 4 1-4 1-3 1 6 1-3 1-1 1-2 1 4 1 1 1 3 1-3 1 6 1-4 1-3 1 3 1 1 1 3 1-3 1 2 1 3 1-9 1-8 1 7 1-2 1-3 1-1 1-5 1 1 1-2 1 3 1-8 1-6 1 12 1-7 1 3 1 1 1-7 1 6 1 4 1 0 1-4 1 4 1-1 1-2 1 7 1-3 1 1 1-1 1-4 1 7 1-5 1 4 1 2 1 3 1 0 1 0 1 3 1 2 1-1 1-1 1-3 1 7 1-3 1-1 1-2 1 3 1-7 1-5 1 6 1-7 1 4 1-2 1-2 1 2 1-5 1 6 1-5 1 1 1 0 1-2 1 0 1 0 1 7 1 1 1-3 1 8 1-1 1 4 1 0 1-2 1 10 1-3 1-2 1 3 1 0 1 0 1 5 1-13 1 3 1-4 1 1 1 1 1-6 1 0 1-4 1-2 1-2 1-3 1-6 1 0 1 1 1-4 1 5 1-3 1-2 1 4 1 3 1 4 1 6 1 6 1 2 1 0 1 1 1-6 1 2 1 1 1-1 1-1 1 6 1-13 1 4 1-1 1 2 1-5 1-2 1-4 1 3 1 3 1 0 1-1 1-4 1 6 1 3 1-4 1 4 1-3 1 6 1 3 1-4 1 6 1 1 1-3 1 8 1-8 1 4 1-1 1 3 1 1 1 2 1 2 1 4 1-1 1 6 1-5 1-5 1 5 1-5 1 6 1 6 1-13 1 7 1-8 1 8 1-5 1 0 1-3 1 1 1-8 1 3 1 0 1-3 1 9 1-4 1 9 1-2 1 0 1 2 1-3 1 1 1 7 1-2 1-4 1 0 1-1 1-2 1 2 1-2 1-3 1 1 1 3 1-2 1-1 1 0 1-4 1 2 1 3 1 0 1 3 1-1 1-6 1 5 1 1 1-9 1-2 1-1 1 2 1-5 1 3 1 1 1-4 1-9 1-1 1-1 1 2 1-3 1-8 1 2 1 7 1-3 1-3 1 0 1 7 1-6 1 4 1-4 1 2 1-3 1 3 1-2 1 0 1 0 1-2 1 6 1-2 1 4 1-7 1 7 1 1 1 4 1-8 1 3 1-3 1-5 1 7 1-8 1 8 1-3 1 0 1 4 1 8 1-4 1 3 1-1 1 0 1 3 1 2 1 5 1 1 1-3 1-2 1 10 1-6 1 1 1 2 1-3 1-3 1 6 1-2 1-5 1 4 1 4 1 9 1-3 1 4 1-2 1-2 1-3 1 5 1 4 1-3 1 1 1-4 1 6 1-9 1 3 1-6 1-2 1-3 1-4 1 3 1-6 1-2 1-7 1 2"/><path id="p79" d="M0 773l1 0 1 0 1 0 1 0 1 0 1 0 1 0 1 0 1-21 1-14 1-8 1-7 1 4 1-4 1 1 1 0 1 5 1-2 1 3 1 2 1 1 1 2 1 5 1-4 1 4 1-3 1 0 1-3 1 3 1-3 1-3 1-4 1-4 1-2 1-3 1-2 1-1 1-1 1-1 1 1 1 2 1-1 1 5 1-6 1 5 1 0 1-2 1 0 1-1 1 1 1-2 1 0 1-3 1-2 1-1 1-5 1 1 1 1 1 0 1-4 1-2 1 1 1 1 1 2 1 1 1-3 1 0 1 1 1 0 1 0 1 2 1 0 1 1 1-2 1 3 1 1 1 0 1-2 1 9 1-3 1-1 1 4 1 2 1-4 1 2 1 1 1-1 1 0 1 4 1-4 1 3 1 1 1-2 1 0 1 4 1-2 1 0 1-1 1 0 1 2 1-2 1 1 1 1 1-2 1-1 1 0 1-3 1 2 1 0 1-1 1-1 1 0 1 1 1-1 1-1 1 0 1 2 1-4 1 0 1 1 1-2 1 1 1-1 1 1 1 2 1 1 1-3 1 3 1 2 1 4 1-1 1 1 1 1 1-2 1 1 1 2 1-1 1-4 1 1 1-3 1 2 1 1 1-1 1-1 1 0 1-1 1 3 1-4 1 2 1 0 1-1 1-1 1 0 1 0 1-1 1-2 1 1 1 4 1-2 1-1 1 0 1 2 1 2 1-1 1 3 1 1 1 0 1 2 1 0 1-1 1 0 1 2 1 3 1 4 1-5 1 4 1-1 1 1 1-1 1 3 1 0 1-2 1-1 1 1 1-2 1-2 1-1 1-1 1-4 1-1 1 1 1-4 1-2 1 2 1 1 1-2 1-1 1 2 1 3 1 3 1-1 1 0 1 3 1 4 1 1 1 0 1 6 1 0 1 0 1 1 1 4 1-1 1 3 1-3 1-1 1 0 1-1 1 1 1 0 1-4 1-4 1-3 1-2 1-1 1 0 1-1 1-4 1 0 1 0 1 2 1 0 1-2 1 1 1 1 1 2 1-3 1 6 1-1 1 0 1 4 1 0 1-2 1 4 1-4 1-3 1 3 1 1 1-2 1-4 1-1 1 2 1-1 1 3 1-1 1-1 1 3 1 1 1-2 1 5 1 2 1-5 1 7 1-7 1 1 1 2 1-1 1-2 1 0 1-2 1 0 1-4 1 3 1-3 1 2 1-3 1-1 1-3 1-1 1 0 1 2 1-1 1-4 1 1 1 1 1-1 1 3 1-2 1-1 1 2 1 4 1 2 1 1 1 1 1 1 1 0 1 2 1-1 1-1 1 2 1 1 1-4 1-2 1 4 1-3 1-4 1-2 1 1 1 2 1 1 1-4 1 3 1-1 1 1 1 0 1 3 1-1 1 3 1 1 1-1 1 1 1 1 1-5"/><path id="p80" d="M0 773l1 0 1 0 1 0 1 0 1 0 1 0 1 0 1 0 1-20 1-9 1-4 1-6 1 0 1 1 1 2 1-1 1 5 1-1 1 5 1-6 1 6 1-2 1 1 1-4 1-2 1 4 1-4 1 0 1 0 1-1 1-1 1-4 1 2 1-4 1 3 1-5 1 0 1 0 1-2 1-1 1-1 1-2 1-2 1 0 1-2 1-1 1-1 1 1 1-2 1 1 1 0 1 1 1 1 1 1 1 4 1-2 1 4 1 2 1 3 1-1 1 1 1 2 1 2 1-1 1-1 1-2 1 0 1 2 1 0 1-3 1-3 1-1 1-1 1-6 1 0 1-1 1-1 1-2 1-1 1-2 1 0 1-2 1 0 1-1 1-1 1 2 1-2 1 2 1 0 1 2 1 4 1-1 1 1 1 0 1 4 1-1 1 2 1 1 1 1 1 2 1 1 1 1 1 1 1 1 1 2 1 2 1 1 1 1 1-1 1 1 1 3 1 0 1-2 1 2 1-3 1 3 1-4 1-1 1 0 1-5 1-3 1 4 1-2 1-3 1 0 1 4 1-3 1 0 1 2 1 5 1 0 1 3 1 6 1 1 1 3 1 2 1 2 1 2 1 2 1 0 1 1 1-1 1 1 1-1 1-5 1-2 1-5 1-3 1 0 1-2 1-3 1-3 1-4 1 0 1 0 1-2 1-5 1 1 1 0 1-2 1 1 1-1 1-2 1 3 1-4 1-2 1 0 1-2 1 0 1 1 1-1 1-1 1 0 1 0 1 0 1 2 1-3 1 1 1-2 1 4 1-3 1 4 1 0 1-3 1-3 1 2 1 0 1-3 1 3 1 0 1 0 1-1 1 7 1-3 1 4 1 1 1 3 1 6 1-2 1 6 1 0 1 3 1 4 1-4 1-1 1 0 1-1 1-3 1 4 1-1 1-1 1-2 1 2 1 2 1 1 1 2 1-1 1 4 1 4 1 1 1 2 1 2 1 1 1-4 1 4 1-1 1-2 1 0 1 0 1 0 1-2 1-3 1-1 1-2 1-3 1-2 1-2 1-1 1 0 1-2 1-2 1-2 1 0 1 0 1-1 1-1 1-3 1-2 1 2 1-5 1-1 1-1 1-1 1 0 1 1 1-3 1 0 1 1 1 2 1 3 1 4 1-1 1 3 1-1 1 1 1 2 1 1 1 3 1 2 1 0 1 0 1 1 1 0 1 3 1-2 1 3 1 0 1-2 1 1 1 1 1-2 1 0 1 0 1-3 1 0 1-1 1 0 1-3 1 1 1 0 1 0 1-1 1 0 1-4 1 4 1-3 1-2 1-2 1 0 1-1 1 0 1-5 1 0 1 1 1 1 1-4 1 2 1-2 1 2 1 3 1 0 1 0 1 4 1-1 1 2 1-1 1 4 1 3 1-2 1-1 1 3 1-3"/><path id="p81" d="M0 773l1 0 1 0 1 0 1 0 1 0 1 0 1 0 1 0 1-25 1-13 1-8 1-4 1-1 1 2 1-2 1 3 1 3 1-2 1-1 1 1 1 5 1-3 1 1 1 0 1 0 1-3 1 3 1 0 1-4 1 2 1-2 1-3 1-2 1 2 1-1 1-2 1 5 1-2 1-2 1 2 1-1 1-1 1 2 1-2 1 1 1 0 1 0 1-2 1 1 1 0 1-2 1 1 1-2 1 3 1-1 1 1 1 0 1 2 1 0 1-2 1 0 1 1 1 2 1-2 1-1 1 1 1 0 1 0 1 0 1 4 1-3 1 2 1 2 1 0 1 0 1-2 1 2 1-2 1 1 1 0 1 1 1-4 1 0 1 0 1-4 1 2 1 1 1-4 1 5 1-1 1 0 1 0 1 5 1-3 1 1 1 5 1-1 1 2 1 0 1 3 1 0 1-1 1 1 1-3 1 3 1-1 1-4 1 0 1 0 1 0 1-4 1-1 1 0 1-4 1 0 1-1 1-2 1-3 1 1 1 1 1 1 1 0 1 1 1 1 1-2 1-2 1 4 1 3 1 1 1 4 1-2 1 3 1 3 1 7 1-1 1 0 1 3 1 0 1 1 1 1 1-1 1-1 1-2 1-1 1-5 1-2 1-4 1 0 1-5 1-3 1 4 1-3 1-3 1 0 1-1 1 0 1 1 1 2 1-1 1 2 1-1 1 3 1 2 1-3 1 2 1-1 1 3 1 0 1-2 1-1 1 0 1-1 1-1 1 1 1-3 1-2 1 1 1-1 1-2 1-3 1 0 1-3 1-1 1 2 1-2 1 1 1-1 1 2 1 0 1 4 1-7 1 5 1 1 1 2 1 0 1-2 1 2 1-1 1 2 1 5 1 1 1-1 1 2 1 3 1-1 1 2 1-1 1 1 1 2 1-1 1 0 1 1 1-2 1 2 1 0 1-1 1 1 1 2 1-1 1 3 1 1 1 2 1-1 1 1 1 0 1 2 1 0 1 1 1 1 1-1 1 1 1-2 1 1 1 3 1 0 1 0 1 1 1 0 1-3 1 6 1-3 1 3 1-5 1 3 1 5 1-3 1 1 1 1 1-2 1 2 1-3 1 1 1-3 1-4 1-1 1-2 1-2 1-6 1-3 1 0 1 1 1-5 1 0 1-2 1-2 1 4 1-1 1 2 1-4 1 0 1 0 1 1 1-1 1 1 1-1 1-3 1 2 1 1 1 1 1 0 1 3 1 0 1 2 1 1 1 3 1 1 1 2 1 2 1 4 1 3 1-2 1 1 1 3 1-2 1-2 1 3 1 1 1-3 1-6 1 3 1-1 1 2 1-4 1 1 1-3 1-1 1 1 1-3 1-3 1 0 1 0 1 0 1 0 1 1 1 3 1-1 1 3 1 0 1 4 1-3 1 5 1 0"/><path id="p82" d="M0 773l1 0 1 0 1 0 1 0 1 0 1 0 1 0 1 0 1-24 1-16 1-9 1-10 1-2 1 0 1-2 1 1 1 1 1 4 1 1 1 5 1 2 1 0 1 2 1 4 1-4 1 2 1 2 1-8 1 0 1-1 1 0 1-7 1 2 1-2 1-4 1-3 1 0 1 1 1-3 1 3 1-1 1-1 1-1 1 1 1-2 1 2 1 3 1-3 1 1 1-2 1 3 1 0 1-3 1 1 1 5 1-3 1-1 1 1 1 5 1-1 1 2 1 1 1 2 1-1 1 4 1 3 1 1 1-3 1-1 1 4 1-1 1 0 1-4 1 1 1 2 1-2 1-2 1 0 1 1 1 1 1 0 1-1 1 0 1 1 1 4 1 2 1 2 1 0 1 4 1-2 1 3 1 1 1 2 1-1 1 0 1 2 1 0 1-3 1 0 1-2 1-3 1-2 1 0 1-2 1-1 1-3 1 4 1-5 1 0 1 2 1-5 1 0 1 0 1-1 1 2 1 2 1-2 1-1 1 3 1-4 1 2 1-1 1-1 1 3 1 2 1-1 1-2 1 0 1 2 1-3 1 2 1 2 1-3 1 4 1-3 1 3 1-2 1-1 1-3 1 3 1 3 1 1 1 0 1 4 1-1 1 3 1 3 1-1 1 1 1 0 1-1 1 3 1 1 1-2 1-4 1 2 1-2 1-4 1-2 1-1 1 0 1 0 1-3 1-1 1-1 1-2 1 1 1-1 1 6 1-1 1 3 1 2 1-1 1 5 1 2 1 1 1-3 1 4 1-3 1-1 1 0 1-2 1 1 1 1 1-3 1-2 1 0 1-1 1-1 1-2 1 0 1 1 1 0 1 0 1 1 1-1 1 1 1 1 1-2 1 1 1 2 1 0 1 2 1 1 1 1 1 0 1 1 1 1 1 0 1-2 1-1 1-1 1 1 1-2 1-4 1-3 1 1 1-2 1 0 1 0 1-1 1-1 1 1 1-1 1 2 1 3 1 0 1 0 1 1 1 0 1-1 1 1 1 2 1 0 1 1 1 2 1 1 1 1 1 0 1-1 1-1 1-2 1-4 1 0 1 0 1 0 1-5 1-3 1-4 1 4 1-2 1 1 1 0 1-1 1 5 1-2 1 6 1 1 1 6 1 0 1 4 1 0 1 2 1-2 1-1 1 0 1 0 1-3 1-2 1-2 1-5 1-3 1 0 1-3 1-1 1 1 1-4 1 0 1 2 1-1 1 1 1-1 1 0 1-1 1 3 1 1 1 1 1-1 1 3 1-2 1 7 1-2 1 1 1 0 1-1 1 4 1-2 1 1 1 2 1 0 1 0 1 3 1-2 1-2 1 3 1-1 1-2 1 5 1-3 1 1 1-2 1-2 1 0 1-2 1-1 1 1 1-3 1-2 1 3 1 4 1-4 1 0"/><path id="p83" d="M0 773l1 0 1 0 1 0 1 0 1 0 1 0 1 0 1 0 1-18 1-14 1-6 1-4 1-1 1 2 1 1 1-3 1 2 1 0 1-4 1 0 1 2 1-4 1 0 1 1 1-6 1 2 1-2 1 0 1 0 1-1 1-2 1 3 1-1 1 1 1 1 1-1 1-1 1 4 1-4 1 0 1-1 1-4 1-1 1 3 1-1 1-1 1 2 1-4 1-1 1-2 1 1 1 3 1-3 1-1 1 3 1-4 1 3 1 1 1 0 1 3 1 2 1 1 1-1 1 0 1-2 1 3 1 5 1-1 1 4 1-1 1 3 1 0 1 5 1-2 1 6 1-1 1 5 1 2 1 0 1-1 1 3 1 0 1-1 1-2 1-1 1-1 1-1 1-2 1-5 1-1 1-1 1 1 1-2 1 0 1-2 1 0 1 0 1 0 1-1 1 4 1-2 1 3 1-1 1 0 1-1 1 1 1 1 1 0 1-1 1 0 1 3 1-5 1 4 1-4 1 0 1 0 1 0 1-5 1 0 1-1 1 1 1-3 1-1 1-1 1-2 1 3 1-1 1-3 1-1 1-2 1-3 1 2 1 0 1-3 1-1 1-2 1 1 1 5 1-1 1 0 1 8 1 0 1 3 1 0 1 3 1 4 1 0 1 1 1 4 1 1 1-2 1 0 1 0 1 0 1 1 1-5 1-2 1 0 1-4 1 1 1-4 1-2 1-2 1 2 1-2 1 1 1-1 1 2 1 1 1 3 1-4 1 3 1 0 1 2 1 1 1 4 1-2 1-1 1 3 1-3 1-1 1 3 1-3 1-3 1 3 1-2 1-2 1 2 1 0 1 0 1 2 1-1 1-1 1 6 1-2 1-1 1 4 1 0 1 3 1-3 1 0 1 1 1-2 1-1 1-1 1 1 1 1 1-3 1 3 1-5 1 3 1 0 1 0 1-3 1 1 1-2 1 1 1 1 1-1 1-11 1 4 1-1 1-2 1 2 1-5 1 5 1-2 1 5 1-4 1 4 1 2 1-1 1 2 1-2 1 6 1-4 1-1 1 0 1-1 1 0 1-2 1-1 1 0 1-4 1 1 1-1 1-1 1-1 1 2 1-1 1-3 1 1 1 5 1 0 1 1 1 0 1 2 1 3 1-1 1 2 1 2 1 0 1-1 1 3 1-3 1 2 1-3 1 0 1-1 1-4 1 2 1-7 1 5 1-3 1-2 1 1 1 0 1-2 1 1 1 1 1-1 1 0 1-1 1 1 1 0 1 2 1 3 1 0 1 1 1 2 1 2 1-1 1-1 1 4 1 3 1 1 1-1 1 2 1 1 1 4 1-2 1 0 1 1 1-7 1 2 1 0 1 0 1-6 1 1 1-5 1-2 1-1 1-1 1-2 1 0 1 0 1-1 1-1 1 1 1 0 1 2 1 2"/><path id="p84" d="M0 773l1 0 1 0 1 0 1 0 1 0 1 0 1 0 1 0 1-2 1 0 1-3 1 1 1 1 1-2 1-2 1 2 1 0 1-5 1 6 1 0 1 0 1-2 1-1 1-3 1 2 1 2 1 0 1 0 1-2 1 4 1-2 1 4 1-6 1 3 1-2 1 3 1-1 1 2 1 0 1-1 1 0 1 4 1-2 1-1 1 0 1 0 1-1 1 2 1-3 1 0 1 1 1-3 1 2 1 2 1-1 1 0 1 4 1-4 1 1 1 0 1 2 1-1 1-4 1 1 1-1 1 0 1-2 1 2 1-3 1 2 1 0 1 0 1 0 1 0 1-3 1 4 1-1 1-1 1-1 1 4 1-1 1 3 1-5 1 2 1 1 1-1 1-2 1 1 1 1 1-2 1 2 1-2 1 0 1 2 1-1 1-1 1 0 1 1 1 0 1 0 1 2 1-2 1 1 1-1 1-2 1 2 1 0 1 2 1-1 1-1 1 1 1 2 1-6 1 2 1 3 1-3 1 3 1 0 1 3 1-3 1-1 1 0 1 3 1 1 1-6 1 4 1-3 1-1 1 0 1 1 1 0 1 0 1-1 1-3 1 3 1-3 1 3 1-2 1 0 1 1 1 3 1-4 1 3 1-1 1 1 1 1 1 0 1 1 1 2 1-2 1 1 1-1 1 2 1-3 1 1 1 0 1-4 1 0 1 4 1-4 1-1 1 3 1-1 1-3 1 2 1-2 1 2 1 3 1 0 1 0 1-2 1 2 1 2 1 0 1-2 1 2 1 1 1 3 1 0 1-1 1-2 1 1 1 2 1-1 1-1 1 2 1-1 1-2 1 0 1-2 1 2 1-2 1 1 1 0 1-5 1 2 1 1 1-2 1 3 1-1 1-2 1-1 1 1 1 2 1 1 1-1 1-1 1-1 1 1 1 1 1-1 1 1 1-2 1 6 1 0 1-2 1 1 1 2 1-2 1-1 1-1 1 0 1 2 1-1 1 3 1-2 1-4 1 1 1 4 1-5 1 1 1 2 1 2 1-5 1 2 1 1 1 2 1 2 1-4 1 0 1 1 1-1 1 0 1 3 1-1 1 1 1 0 1-2 1-3 1 3 1 1 1-1 1 1 1-4 1 3 1-1 1-3 1 1 1 1 1-1 1-2 1 7 1-4 1-2 1 3 1-4 1 3 1 0 1 1 1-1 1 1 1-1 1 3 1-2 1 3 1-1 1 0 1 0 1 1 1-2 1-2 1 1 1 2 1-2 1 1 1 0 1-2 1 1 1 1 1 0 1-4 1 1 1 0 1 2 1-2 1 1 1-2 1-1 1 0 1 0 1-1 1 1 1-3 1 1 1 1 1-2 1 3 1-1 1 0 1-1 1 2 1 0 1 2 1-3 1 1 1 3 1-4 1 2 1-1 1 2 1-2 1-1"/><path id="p85" d="M0 773l1 0 1 0 1 0 1 0 1 0 1 0 1 0 1 0 1-2 1-2 1-4 1 3 1-2 1-1 1-2 1 4 1-1 1-2 1-1 1 0 1 0 1 3 1-1 1 0 1-1 1 2 1 1 1-2 1 1 1-1 1 3 1-2 1 3 1-2 1 1 1 2 1 1 1-2 1-1 1 1 1 1 1 0 1-5 1 3 1-2 1 2 1-2 1-1 1 2 1-2 1 2 1-1 1-1 1-2 1 2 1-4 1 3 1 1 1-2 1 2 1-2 1 1 1 0 1 1 1 2 1-2 1 4 1-1 1 1 1-3 1 0 1 2 1-2 1 2 1-3 1 1 1-1 1-1 1-1 1 1 1-1 1 0 1 0 1 2 1-1 1 1 1 1 1-2 1 0 1 3 1 3 1-2 1 1 1 0 1 2 1 0 1-5 1 1 1 2 1 3 1-1 1-1 1-1 1 2 1 1 1-2 1-1 1 2 1 0 1 0 1-3 1 3 1 1 1 1 1-4 1 0 1 0 1 1 1 0 1-2 1-1 1 3 1-3 1-1 1-2 1-1 1 1 1 0 1 0 1 2 1-2 1-2 1 1 1 0 1-2 1 4 1 0 1 2 1-2 1 5 1-2 1-1 1-1 1 3 1-1 1 2 1-5 1 4 1 2 1-3 1-1 1 0 1-1 1 2 1-2 1 1 1-2 1 1 1-1 1-1 1 2 1-2 1 2 1-3 1 3 1-1 1 0 1 2 1 3 1-3 1 2 1 0 1 1 1-1 1 0 1 1 1 1 1 1 1 0 1 0 1-1 1 0 1 1 1-1 1-1 1 1 1-1 1 0 1-1 1-2 1 2 1-4 1 2 1 0 1 0 1 3 1-1 1-2 1-2 1 1 1 1 1 0 1 1 1-3 1 3 1 0 1-5 1 5 1-3 1 2 1 1 1-2 1 3 1-1 1-3 1-1 1 1 1 2 1-1 1 1 1 0 1-1 1-2 1 3 1-2 1 3 1-2 1 1 1-1 1-1 1 1 1 0 1-1 1 3 1-4 1 4 1-3 1 0 1 0 1 3 1-2 1 1 1 1 1 1 1 0 1-1 1 2 1-1 1 1 1-2 1 0 1 1 1 0 1-1 1 3 1-3 1 0 1 2 1-1 1-1 1-4 1 2 1-1 1 0 1-1 1-2 1 0 1 0 1-1 1 3 1-1 1 1 1 0 1-2 1 1 1 1 1 2 1 0 1 1 1 0 1 2 1-3 1 3 1 1 1 0 1 0 1-1 1 1 1 0 1-2 1 2 1-1 1-1 1 0 1 0 1-1 1 1 1 2 1 1 1-3 1-3 1 4 1-3 1 3 1 0 1 0 1 0 1-4 1 4 1-3 1 1 1 1 1-2 1 0 1-2 1 2 1 0 1 0 1 0 1-4 1 3 1-1"/><path id="p86" d="M0 773l1 0 1 0 1 0 1 0 1 0 1 0 1 0 1 0 1-2 1-1 1 1 1 0 1 0 1-2 1 0 1-1 1 4 1-2 1-1 1 1 1 0 1-1 1 2 1-1 1 0 1-3 1 1 1 1 1 0 1-3 1 2 1-3 1 3 1-2 1 3 1-4 1 1 1 3 1-3 1 1 1 2 1 0 1 0 1 2 1 0 1-2 1 4 1-3 1 2 1 1 1-1 1-1 1 0 1 0 1 0 1 0 1-2 1 0 1-2 1 3 1-2 1 1 1-3 1 0 1 0 1 3 1-4 1 2 1 1 1-6 1 5 1-1 1 0 1 0 1-3 1 4 1-1 1 0 1-1 1 2 1 2 1-1 1 0 1 0 1 4 1-2 1 3 1 0 1-1 1-1 1 2 1-1 1-2 1 2 1 0 1-1 1 0 1 0 1-1 1 1 1-1 1-1 1 0 1-2 1-2 1 1 1 2 1-2 1-1 1 0 1 0 1 1 1 0 1 0 1 0 1 4 1-3 1-2 1 3 1 1 1-2 1-3 1 2 1 4 1-3 1 3 1 0 1-2 1 2 1 0 1 2 1-3 1 1 1-4 1 2 1-3 1 3 1-1 1 0 1-2 1 1 1 0 1 2 1 0 1 2 1-4 1 5 1 2 1-3 1 2 1 0 1-1 1 2 1 0 1-1 1 1 1-1 1-2 1 2 1-2 1 0 1-1 1 1 1 2 1-1 1 2 1-4 1 1 1 2 1-1 1-1 1 1 1 2 1-2 1-2 1 1 1 2 1-1 1-1 1-2 1-1 1 1 1-1 1 0 1 0 1 1 1 0 1-2 1 2 1 0 1 0 1 0 1 1 1 0 1-2 1 1 1 3 1 1 1-4 1 2 1-2 1 3 1-1 1-2 1 1 1 1 1-4 1 1 1 0 1-3 1 4 1 0 1 1 1 0 1-2 1 2 1-3 1 3 1 1 1-1 1 2 1-1 1 1 1-1 1 2 1 0 1-2 1-1 1-1 1 3 1 2 1-1 1-1 1 0 1 1 1 0 1-2 1 1 1 0 1 2 1 0 1 0 1 0 1 0 1 0 1 0 1 0 1 0 1 0 1 0 1 0 1-1 1-2 1-1 1-3 1 5 1-3 1-1 1 2 1-2 1-1 1 3 1 1 1 1 1-1 1-1 1-2 1 2 1 0 1 2 1-1 1 1 1-1 1 3 1-2 1 1 1-2 1 1 1-2 1 4 1-3 1 2 1-1 1 1 1-1 1-1 1 3 1-1 1-4 1 0 1 3 1-1 1-1 1 2 1-2 1 3 1-3 1-3 1 4 1 1 1-2 1-1 1-1 1 0 1 1 1-1 1-1 1-3 1 3 1-1 1-1 1 1 1-1 1 3 1-2 1-1 1 5 1-1 1-1 1 3 1-4 1 5"/><path id="p87" d="M0 773l1 0 1 0 1 0 1 0 1 0 1 0 1 0 1 0 1-31 1-20 1-12 1-9 1-2 1-2 1 1 1 1 1 1 1-1 1 7 1 2 1 3 1 2 1 2 1 3 1 2 1 4 1-1 1-1 1 4 1 3 1-5 1 1 1 2 1-1 1-1 1-2 1-1 1 0 1-1 1 0 1 2 1-4 1 6 1-3 1 2 1 0 1 3 1-1 1 0 1 0 1 2 1 2 1-4 1-2 1-2 1 4 1-5 1-1 1 0 1-1 1-5 1-1 1 1 1-5 1 1 1-4 1 1 1 0 1-4 1 1 1-3 1-5 1 2 1 3 1-3 1 0 1-2 1-1 1 0 1 0 1 0 1-3 1 2 1-1 1-2 1 1 1-2 1 1 1-1 1 1 1-1 1 2 1 5 1 0 1 0 1 1 1 6 1 1 1 4 1-1 1 3 1 3 1 2 1 1 1-1 1-1 1 2 1 2 1-5 1 4 1-3 1 1 1 0 1-2 1 1 1-1 1 0 1 0 1-4 1 1 1 0 1-3 1 1 1 1 1-3 1 1 1 5 1-5 1 2 1-1 1 3 1-1 1 3 1 1 1-2 1 0 1 2 1 1 1-1 1 4 1-3 1 2 1 2 1-1 1-1 1 1 1 2 1-2 1 1 1 0 1-4 1 0 1 0 1-4 1 1 1-2 1-2 1-1 1-1 1-3 1 2 1-2 1 1 1 0 1-3 1 1 1 2 1-2 1 3 1-1 1-1 1 1 1-3 1 2 1-2 1-4 1 0 1-5 1 0 1-2 1 2 1-1 1 0 1 1 1 2 1 1 1 0 1 4 1 2 1 5 1 0 1 5 1 0 1 2 1 4 1 5 1 2 1-1 1 3 1-1 1 3 1 3 1-3 1 0 1-4 1-2 1 2 1-2 1-4 1 3 1-3 1-4 1-1 1 0 1-1 1 0 1-3 1-1 1-1 1 0 1 1 1-1 1 0 1 0 1-1 1 2 1-1 1 4 1-2 1 1 1 4 1-3 1-1 1 1 1 0 1 0 1-2 1-1 1 0 1-1 1-1 1-1 1-1 1 0 1 1 1-1 1-1 1-2 1 3 1-1 1 1 1 0 1-1 1 2 1 1 1-1 1 1 1 5 1 0 1 1 1 3 1 3 1 3 1-2 1 6 1 2 1 1 1 3 1-2 1 0 1 1 1 2 1-3 1 2 1-3 1-2 1-1 1 0 1-7 1 0 1 0 1 0 1-5 1 0 1 1 1-5 1 4 1-4 1-1 1-2 1 2 1-3 1 2 1 0 1-1 1 1 1-3 1 1 1 2 1-1 1 1 1-1 1 1 1 0 1 3 1 2 1-2 1 3 1 1 1 0 1 3 1-3 1 5 1-1 1-3 1 0 1 2 1 0 1-1 1 0 1-1 1 3"/><path id="p88" d="M0 773l1 0 1 0 1 0 1 0 1 0 1 0 1 0 1 0 1-24 1-16 1-8 1-4 1-7 1 0 1-3 1-3 1 2 1 1 1 4 1-1 1-3 1 0 1 1 1 0 1 1 1 0 1-2 1 3 1 1 1-3 1 5 1-1 1 1 1 1 1 1 1 0 1 1 1 5 1-1 1-3 1 4 1 0 1 3 1-4 1 2 1 1 1 1 1 1 1-2 1 6 1-2 1 0 1 6 1-2 1 0 1 2 1 0 1-1 1-3 1-3 1 1 1-4 1-3 1 1 1-4 1-3 1-2 1-1 1-2 1 1 1 1 1-2 1 3 1 0 1-4 1 6 1 3 1-3 1 1 1 3 1-4 1 3 1-4 1 2 1-1 1-1 1-4 1-2 1 2 1-4 1 2 1 2 1-4 1 3 1-2 1-1 1 1 1 0 1 0 1-1 1-1 1 1 1 3 1-1 1-3 1 3 1 3 1-2 1-2 1-1 1 6 1 0 1-2 1 1 1 3 1-1 1-1 1 2 1 1 1 0 1-2 1-2 1 2 1-3 1 2 1-1 1-1 1 2 1 2 1-5 1 1 1-3 1-1 1-1 1 0 1-1 1 1 1-2 1 1 1-3 1 2 1 1 1-1 1 0 1 0 1 2 1 0 1 0 1 3 1-1 1 3 1 1 1 0 1 1 1-1 1 1 1-3 1 0 1 1 1-2 1 2 1-6 1 0 1 1 1 2 1-3 1-7 1 4 1-3 1-4 1 3 1-2 1-3 1 4 1-3 1-1 1 2 1 3 1 1 1 1 1 2 1-1 1 2 1 3 1 1 1 2 1 2 1 0 1 4 1 1 1 1 1 0 1 2 1 3 1 0 1 2 1 0 1 1 1 1 1-5 1 4 1 0 1 0 1-1 1 0 1-2 1 2 1-4 1-1 1 0 1 1 1 1 1-5 1 2 1-2 1-1 1-1 1 1 1 1 1 2 1-3 1 1 1 0 1 1 1 0 1 0 1-2 1 3 1 0 1 0 1-1 1-2 1 1 1-2 1 3 1-3 1 0 1 4 1-3 1 6 1-6 1 2 1 4 1 2 1-3 1 2 1-2 1-1 1 1 1-4 1 1 1-2 1-2 1-3 1-5 1 3 1-4 1-1 1-8 1 2 1-2 1-1 1-3 1 2 1-3 1 3 1-2 1 1 1-1 1 2 1 1 1 5 1 0 1 5 1 5 1 4 1 5 1 2 1 5 1 1 1 1 1 8 1-3 1 3 1 0 1 0 1 1 1-3 1-1 1 1 1-5 1 0 1-4 1 4 1-5 1-2 1-5 1 3 1 0 1-6 1-1 1 3 1-1 1 0 1-1 1 1 1 0 1 3 1 0 1 0 1 2 1-1 1 0 1-1 1-2 1 1 1-6 1 0 1-1 1 0 1-2 1-1"/><path id="p89" d="M0 773l1 0 1 0 1 0 1 0 1 0 1 0 1 0 1 0 1-13 1-7 1-4 1-1 1-3 1-1 1-1 1-1 1 0 1-2 1-1 1 0 1-2 1-6 1 0 1 1 1-3 1-1 1-1 1-1 1 0 1 0 1-2 1 7 1-1 1 1 1 1 1-1 1-1 1 2 1-3 1-4 1 1 1-3 1-5 1 0 1-4 1-3 1 0 1-4 1-2 1 2 1 0 1 1 1-1 1-2 1 2 1 0 1-2 1 0 1 2 1 3 1-3 1 1 1-2 1 1 1-1 1 1 1 0 1-1 1 1 1-1 1 0 1-1 1 1 1-2 1 1 1 3 1-2 1 2 1 1 1 1 1 1 1 0 1 2 1 1 1 1 1 3 1-2 1 3 1 4 1-2 1 0 1 4 1 0 1 1 1-1 1 3 1-1 1 0 1 0 1 1 1-2 1 3 1-2 1-2 1 4 1-2 1 3 1 0 1-1 1 0 1 1 1-5 1 3 1 0 1-2 1-1 1-2 1-2 1 0 1-1 1-3 1 1 1-2 1-1 1-2 1-1 1-2 1 1 1-1 1 1 1-1 1 2 1-2 1 6 1-4 1 2 1 3 1-2 1 2 1-3 1 6 1-3 1 3 1-1 1-1 1 1 1-2 1 2 1-1 1 1 1 0 1-1 1-1 1 1 1-1 1 2 1-1 1 1 1-3 1 3 1-5 1 2 1-2 1 0 1 1 1-2 1 1 1 1 1-1 1-1 1 1 1-1 1-2 1-1 1 2 1-3 1-2 1 0 1 2 1-3 1 0 1-3 1 5 1 0 1 0 1 0 1 1 1 0 1-2 1 4 1 1 1 2 1-1 1 2 1 0 1-2 1 0 1 3 1-2 1 4 1-3 1 0 1-1 1-2 1-1 1 1 1 0 1 0 1-3 1 1 1 2 1 0 1-3 1 2 1 1 1 4 1 1 1 2 1 5 1 0 1 3 1 3 1 1 1-1 1-2 1 3 1-1 1-6 1-2 1-3 1-2 1-4 1-2 1-2 1-3 1-1 1-1 1-2 1 2 1 0 1-6 1 2 1 0 1-5 1 5 1-2 1 2 1-1 1 5 1 0 1 1 1 4 1 0 1 4 1 3 1 0 1 7 1 3 1 2 1 2 1-1 1 1 1 2 1 3 1-2 1-3 1 3 1-3 1 0 1-2 1-2 1-5 1-2 1 1 1-7 1 2 1-2 1 0 1-2 1-1 1 0 1 0 1-2 1 7 1 1 1-4 1 6 1-3 1-1 1 4 1-3 1-2 1 0 1 2 1-1 1-1 1 0 1 1 1 0 1 1 1 2 1 0 1-2 1 1 1 0 1 3 1 0 1 2 1 0 1 0 1 1 1-2 1 0 1-3 1-1 1 0 1-2 1 1 1 2 1 2 1-1 1 3"/><path id="p90" d="M0 773l1 0 1 0 1 0 1 0 1 0 1 0 1 0 1 0 1-30 1-15 1-8 1-1 1-1 1 0 1 1 1 2 1 0 1 2 1-2 1 3 1 4 1-1 1-1 1 3 1 1 1 0 1-1 1-2 1-2 1 1 1-2 1-1 1-1 1-1 1-1 1 0 1-4 1 4 1-4 1 0 1 1 1 0 1 1 1 1 1-3 1-1 1 2 1-1 1 3 1-2 1 0 1 3 1-2 1 1 1-2 1-1 1 2 1-4 1-2 1-1 1-3 1 3 1-4 1 1 1-4 1-3 1 1 1-1 1 2 1 2 1 0 1-4 1 0 1 3 1-1 1 2 1-1 1 1 1-1 1 0 1 0 1 2 1-1 1 0 1 2 1-2 1 3 1-3 1 2 1 1 1 1 1-2 1 5 1-1 1 4 1-2 1 0 1 6 1-1 1 1 1 3 1-2 1-1 1 1 1-5 1 2 1-1 1 0 1-3 1-4 1 2 1-1 1-2 1-3 1-2 1 1 1-3 1-1 1 1 1-2 1-2 1-1 1 2 1-6 1 0 1 1 1 4 1-3 1 3 1-1 1 3 1 1 1 2 1 5 1 0 1 0 1 0 1-2 1 3 1-2 1 1 1-3 1-2 1 0 1-6 1 0 1 0 1-6 1 5 1-3 1 3 1 1 1-1 1 2 1 4 1 3 1 2 1 4 1 3 1 0 1 1 1 2 1-2 1 1 1 2 1 1 1 1 1 0 1-2 1 5 1-4 1 0 1 3 1-1 1 1 1-1 1 1 1-1 1-3 1-1 1 2 1-4 1-1 1-2 1-3 1-3 1 1 1-2 1 1 1-2 1 1 1 0 1-1 1 5 1 1 1 2 1 2 1-1 1 2 1 3 1 5 1-1 1 1 1 3 1 4 1-3 1 3 1-1 1 1 1-2 1 0 1 1 1-1 1-2 1 1 1-2 1 1 1 1 1 0 1-3 1 2 1-2 1 0 1 3 1-2 1 4 1-1 1 2 1-1 1 2 1 1 1-5 1 3 1-2 1-1 1 0 1-2 1-5 1 4 1-3 1 1 1-1 1-1 1-1 1 1 1 0 1 0 1 2 1 0 1 0 1 2 1 1 1-2 1-1 1 0 1 1 1 1 1-4 1 3 1-2 1-1 1 2 1 2 1-2 1 1 1 3 1-1 1 0 1 1 1 2 1-2 1 3 1-2 1-5 1-2 1-1 1 0 1-5 1 0 1-4 1 2 1 0 1 2 1 1 1 2 1 2 1 0 1 2 1 6 1 0 1 4 1 2 1 2 1 1 1-1 1 3 1-2 1-2 1 1 1 1 1-4 1 0 1-4 1-2 1 3 1-4 1-2 1 1 1 1 1-5 1 2 1-1 1-2 1 2 1 1 1-3 1 0 1 2 1-1 1-3 1-1 1 2"/><path id="p91" d="M0 773l1 0 1 0 1 0 1 0 1 0 1 0 1 0 1 0 1-25 1-14 1-9 1-6 1-1 1-2 1 0 1 0 1 4 1-4 1 0 1 1 1-1 1 1 1-3 1-2 1-4 1 3 1-1 1-3 1-2 1 1 1 2 1 0 1 2 1 0 1 6 1-2 1 3 1 3 1 4 1 1 1 2 1 3 1-2 1 2 1 4 1-1 1 1 1-3 1 1 1 1 1 1 1-1 1-1 1 0 1-1 1-6 1 0 1 1 1-3 1-1 1-1 1-2 1-1 1-1 1 1 1-3 1 2 1 0 1-1 1-3 1 0 1 2 1 3 1-1 1 3 1-5 1 2 1 3 1-1 1 0 1 0 1-1 1-1 1-4 1-1 1 1 1-2 1-3 1 0 1 0 1 1 1-1 1-2 1 1 1 3 1 0 1 0 1 2 1 1 1 0 1 0 1 1 1-3 1 3 1-1 1-1 1 2 1-3 1 0 1-3 1-1 1-1 1-2 1 3 1-3 1-1 1 2 1-2 1-1 1-1 1 1 1-1 1 1 1 1 1-1 1 4 1 1 1 3 1 2 1 3 1-1 1 3 1-1 1 2 1 2 1 1 1 3 1-2 1 1 1 1 1-1 1 3 1-1 1-2 1 3 1-5 1 1 1-2 1-2 1-3 1-1 1-6 1 2 1-3 1 3 1-6 1 0 1-3 1 0 1 2 1 0 1 3 1 1 1-1 1 5 1 0 1 0 1 3 1 1 1 2 1 0 1 3 1-4 1 3 1-3 1-3 1-1 1 0 1 0 1 0 1-4 1 4 1-2 1 0 1-2 1-3 1 2 1-1 1 2 1 0 1 2 1 0 1-2 1 3 1 3 1 1 1-2 1 2 1 3 1-4 1 4 1-1 1 3 1 2 1-2 1 4 1 1 1 1 1 1 1 1 1-1 1 5 1 2 1-4 1 3 1-4 1 1 1-2 1 2 1-6 1 3 1-1 1 1 1-2 1 0 1 1 1 1 1 0 1 1 1-2 1 0 1 3 1 0 1 1 1-5 1 0 1 0 1-1 1-1 1 4 1-4 1-3 1-1 1-1 1 3 1-1 1-3 1 0 1 3 1-5 1 1 1 2 1 0 1-1 1 0 1 1 1 0 1 1 1 1 1-2 1 2 1 0 1 3 1 1 1 3 1-2 1 1 1-2 1 3 1 0 1-2 1 0 1 1 1-4 1-1 1-1 1-4 1 1 1 1 1-1 1-3 1 0 1-2 1 0 1 3 1-1 1 3 1-2 1 0 1 4 1 1 1 0 1-5 1 4 1 0 1-1 1 1 1 1 1-1 1 4 1 0 1 1 1-1 1-2 1 4 1-1 1 0 1-2 1 1 1 0 1-3 1 4 1-2 1-4 1 5 1-2 1 0 1 1 1-1 1 2 1 0 1 0"/><path id="p92" d="M0 773l1 0 1 0 1 0 1 0 1 0 1 0 1 0 1 0 1-25 1-14 1-8 1-2 1-5 1 0 1-2 1 1 1 1 1-1 1-2 1-1 1 5 1-3 1 1 1 0 1-1 1 0 1 3 1-2 1-1 1-1 1 1 1 2 1 0 1-2 1-4 1 2 1-3 1 1 1 1 1-1 1-2 1-2 1 0 1 0 1-1 1 2 1 0 1 1 1 0 1 3 1-1 1 6 1-2 1 4 1 2 1 0 1-1 1-4 1 3 1-4 1 0 1-3 1-3 1-1 1-5 1-3 1-5 1 0 1-3 1-2 1 0 1 2 1-3 1 1 1 2 1-4 1 4 1-2 1 4 1 1 1 3 1-3 1 4 1 2 1 0 1 1 1 2 1-2 1 1 1 0 1-1 1 1 1-3 1 3 1 1 1-1 1-1 1 1 1 0 1 0 1 3 1 1 1-2 1 4 1-2 1 2 1 2 1 0 1 0 1 5 1-2 1-1 1 3 1 0 1-1 1 1 1 3 1-3 1 0 1-1 1 2 1-3 1 2 1 0 1 0 1-3 1-2 1 2 1-1 1-2 1 2 1-4 1 3 1-6 1 0 1 3 1 0 1 0 1-1 1-1 1 5 1-4 1 2 1 0 1-1 1 0 1 2 1 1 1-3 1 1 1 0 1-2 1 4 1-1 1 1 1 1 1 2 1-3 1-1 1-2 1 4 1-1 1-1 1 2 1-1 1 0 1-3 1 3 1 1 1-1 1 4 1-2 1-3 1 5 1-5 1 4 1-4 1-4 1-2 1-1 1-2 1 2 1-5 1 2 1-3 1 0 1-3 1 3 1-1 1 2 1-2 1 3 1-2 1 2 1 1 1 2 1 0 1-2 1 0 1-1 1 0 1 0 1 1 1 2 1-2 1 4 1-2 1 5 1 0 1 3 1-1 1 5 1 1 1 2 1-2 1 1 1-1 1 1 1-5 1 1 1-1 1-3 1 0 1-2 1-4 1 1 1-6 1 0 1 0 1-3 1 1 1 2 1 0 1-3 1 4 1-3 1 1 1 2 1-3 1 0 1 0 1-1 1 1 1 3 1-1 1 1 1 5 1 1 1 2 1 2 1 4 1 4 1 3 1 2 1 2 1-1 1 2 1-2 1 1 1 1 1 0 1-2 1 1 1-3 1 4 1 0 1-2 1-3 1 3 1-5 1 4 1-3 1-4 1 6 1-2 1-5 1 1 1 1 1-2 1 1 1-3 1 0 1 0 1-1 1 1 1-2 1 4 1 1 1 1 1-1 1 4 1 1 1-3 1 4 1 4 1-4 1 1 1 1 1-1 1 3 1 1 1 1 1-4 1 1 1 4 1 0 1-3 1 1 1 0 1-1 1-1 1 1 1-1 1-1 1-2 1 3 1-3 1 1 1-1 1-3 1 0 1 1"/><path id="p93" d="M0 773l1 0 1 0 1 0 1 0 1 0 1 0 1 0 1 0 1-7 1-3 1-5 1-1 1 1 1 0 1-1 1 1 1 0 1-4 1 4 1-1 1 1 1-1 1-1 1 1 1-2 1 2 1 1 1-1 1 3 1 3 1 1 1-1 1 2 1 1 1 0 1 0 1 2 1 0 1-2 1 4 1 0 1 2 1-3 1-2 1 0 1 2 1-1 1-1 1-2 1-2 1 6 1-3 1 1 1 0 1 1 1 1 1-1 1 2 1 2 1 1 1 0 1-2 1 0 1 0 1 2 1-1 1 0 1 1 1 0 1 0 1-1 1 1 1 0 1 0 1 0 1 0 1 0 1 0 1 0 1 0 1 0 1 0 1 0 1 0 1 0 1 0 1 0 1-2 1 0 1 2 1-4 1 2 1-6 1 0 1 1 1-1 1-1 1-1 1-2 1-2 1 2 1-1 1-1 1 0 1 3 1-4 1-1 1 4 1 1 1-1 1 1 1 0 1 2 1 2 1-2 1-1 1 6 1-1 1 1 1-3 1 4 1-4 1-1 1 1 1 0 1 1 1-2 1 1 1-1 1 0 1 0 1 2 1 0 1 1 1-1 1 4 1-4 1 1 1 2 1-3 1 2 1-3 1 3 1-4 1-2 1-2 1 0 1 6 1-5 1 5 1 2 1-3 1-1 1 2 1 4 1-1 1 0 1 0 1 3 1-1 1 0 1 0 1-1 1-4 1-2 1-1 1 0 1-1 1-1 1-2 1 0 1 0 1 0 1 2 1 1 1-1 1 5 1-1 1 1 1-1 1 4 1-1 1 3 1-2 1-1 1 4 1-1 1 1 1 0 1 0 1 0 1 0 1 0 1 0 1 0 1 0 1-1 1 1 1 0 1 0 1 0 1 0 1 0 1 0 1 0 1 0 1 0 1 0 1 0 1 0 1-2 1 1 1 0 1 1 1 0 1-5 1 1 1-2 1-1 1-2 1 1 1-1 1-2 1 0 1-1 1-4 1 1 1-2 1 0 1 2 1 1 1 0 1 1 1 0 1 1 1 6 1-4 1 3 1 2 1 2 1 2 1-3 1 4 1-2 1 1 1-3 1 1 1 0 1-3 1 1 1-3 1 3 1-4 1-2 1 1 1-3 1 3 1 1 1-2 1-2 1-2 1 0 1 3 1-5 1 1 1-1 1 2 1-1 1-3 1 1 1 0 1 1 1 0 1 0 1 1 1-1 1 2 1 1 1-1 1-2 1 1 1 2 1 2 1 0 1-6 1 3 1-5 1 1 1 0 1-2 1 0 1-1 1-3 1 1 1-4 1 2 1-1 1 2 1-3 1 1 1 2 1-2 1 2 1 2 1 2 1 0 1 0 1 1 1 2 1 1 1 2 1 1 1 2 1 0 1 3 1 2 1 2 1 1 1-3 1 2 1-4 1 3"/><path id="p94" d="M0 773l1 0 1 0 1 0 1 0 1 0 1 0 1 0 1 0 1-6 1-2 1-2 1-2 1 0 1-2 1 5 1-4 1 4 1 1 1 2 1 2 1-2 1 3 1-2 1 4 1-2 1 0 1-3 1-2 1 1 1-1 1-2 1-1 1 1 1-1 1 0 1-1 1 3 1-1 1 2 1-1 1 3 1-2 1 1 1 0 1 0 1-1 1 3 1-6 1 1 1 1 1 1 1-5 1 3 1-2 1 0 1 2 1 2 1-1 1 1 1 0 1 1 1-1 1-3 1 0 1 0 1 1 1 0 1-1 1 1 1-1 1-1 1-1 1 0 1 1 1 3 1-5 1 5 1-1 1 1 1-2 1 1 1-1 1 0 1 0 1 0 1 2 1-3 1-3 1 1 1-4 1-2 1-1 1 0 1-1 1-2 1-2 1-1 1 3 1-1 1 2 1 0 1 2 1 2 1 1 1 6 1-4 1 1 1 1 1 2 1 0 1 3 1 1 1-1 1 0 1 1 1 1 1-3 1 2 1 1 1-3 1-1 1 0 1 2 1-1 1 2 1-1 1-1 1 2 1 0 1-1 1-1 1-3 1 3 1 1 1-4 1 1 1 0 1-1 1 1 1-1 1 0 1-1 1 2 1 3 1-2 1-2 1 1 1 1 1 1 1-3 1 3 1 0 1-2 1 1 1-3 1 3 1-1 1-1 1 0 1 2 1-2 1-1 1 2 1 2 1-2 1 0 1 0 1 4 1-5 1 3 1-4 1 2 1 3 1-2 1 1 1-3 1-3 1 2 1 4 1 0 1-2 1 0 1-1 1 1 1-1 1 1 1-1 1-2 1 4 1-3 1-1 1 2 1-4 1 3 1 0 1-1 1 0 1 2 1 1 1-1 1 1 1 1 1 2 1-2 1 3 1 1 1-1 1 2 1-2 1 1 1 1 1 1 1-2 1 2 1 3 1-3 1 3 1-3 1 0 1-2 1-2 1 2 1 0 1 1 1-4 1 1 1 1 1-3 1 1 1 1 1-3 1 0 1-4 1-1 1 3 1-1 1-3 1 1 1-1 1-1 1 0 1 0 1 1 1-4 1 0 1 3 1 1 1 3 1 0 1 1 1 0 1 0 1 1 1-2 1 5 1-4 1 3 1-3 1 2 1-2 1 0 1-1 1-1 1 1 1-1 1 3 1-1 1 1 1 1 1-1 1 0 1-2 1 5 1 1 1 2 1 0 1 0 1-1 1-1 1 3 1-1 1 0 1-3 1 1 1 0 1-2 1-1 1-4 1 2 1-3 1-1 1 0 1-2 1-1 1 2 1 1 1-3 1 5 1-1 1 2 1-1 1 2 1-2 1 0 1 1 1 1 1 0 1-1 1-3 1 1 1 2 1-3 1-3 1-1 1-1 1 0 1 0 1-2 1 5 1-1 1 1 1-3"/><path id="p95" d="M0 773l1 0 1 0 1 0 1 0 1 0 1 0 1 0 1 0 1-6 1 0 1-1 1 1 1 1 1-3 1 2 1-2 1 3 1-2 1-2 1 0 1 2 1-5 1-2 1 0 1-5 1-1 1 0 1-4 1 5 1-5 1 1 1-4 1 2 1 2 1-2 1 2 1 3 1 2 1 0 1-1 1 2 1-1 1 1 1 3 1 1 1-1 1-3 1 2 1-1 1-1 1-2 1 3 1 2 1-3 1 8 1 1 1-4 1 6 1 5 1 0 1 1 1 0 1 0 1 0 1 0 1 0 1 0 1 0 1 0 1 0 1-2 1 0 1-3 1-1 1 0 1-3 1-1 1-2 1 0 1 0 1-1 1-1 1-3 1 4 1-1 1 0 1 2 1 3 1-2 1 0 1 1 1-3 1 3 1 1 1 1 1 2 1-4 1-2 1 4 1-5 1 3 1 0 1 1 1-2 1 1 1-3 1 2 1 1 1-2 1 1 1 1 1 1 1-1 1 2 1-2 1 2 1-1 1 2 1-3 1 1 1 1 1-1 1 1 1 1 1 3 1-1 1-1 1 1 1-1 1 0 1 4 1 1 1 1 1 0 1 0 1 0 1 0 1 0 1 0 1 0 1 0 1 0 1 0 1 0 1 0 1 0 1 0 1 0 1 0 1 0 1 0 1 0 1 0 1 0 1 0 1 0 1 0 1 0 1-1 1 1 1 0 1 0 1 0 1 0 1-3 1 2 1 1 1-2 1-1 1-2 1 1 1-2 1 1 1-3 1 0 1 1 1-2 1 0 1 0 1 0 1 3 1 0 1-2 1 4 1 0 1-3 1-1 1 2 1-5 1 4 1-2 1-1 1-2 1 1 1-4 1 2 1-6 1 2 1 2 1-1 1 0 1 2 1 1 1-2 1 2 1-3 1 3 1 0 1 1 1-1 1 1 1-1 1 1 1 1 1 3 1-1 1 1 1-2 1 1 1 1 1 1 1 2 1-1 1 0 1 1 1 0 1-2 1 1 1 1 1 0 1-2 1 2 1 1 1-1 1 0 1-1 1-1 1-1 1 2 1 0 1 1 1 0 1-3 1 0 1 2 1-5 1 1 1 4 1-1 1 0 1-1 1 2 1-3 1 3 1 4 1-3 1 2 1-1 1 0 1 0 1 3 1 1 1-2 1 1 1-2 1 0 1 1 1-4 1 1 1-2 1-1 1-1 1 0 1 0 1-3 1 4 1-1 1 5 1-3 1 1 1 0 1-1 1 0 1 0 1 3 1-1 1 0 1 0 1 0 1-2 1-2 1 2 1-3 1 2 1-1 1-3 1-1 1 1 1 2 1 1 1-4 1 1 1 0 1 3 1-2 1-1 1 0 1 1 1-2 1 2 1 2 1-2 1-1 1 0 1 1 1 2 1-3 1 3 1 2 1-2 1 2 1 2"/><path id="p96" d="M0 773l1 0 1 0 1 0 1 0 1 0 1 0 1 0 1 0 1-3 1 1 1-2 1-1 1 0 1 0 1-1 1 3 1-3 1 2 1 1 1-2 1 0 1 0 1 0 1-2 1-1 1-1 1 1 1 1 1 1 1 0 1 0 1-3 1-1 1 0 1 0 1 1 1-2 1-2 1-1 1 3 1-1 1-1 1 1 1 1 1-1 1-1 1 4 1-2 1 2 1-2 1 4 1-3 1-1 1 2 1-1 1 0 1 0 1 1 1-2 1-3 1 3 1-3 1 1 1 0 1 4 1-7 1 3 1 0 1-2 1-4 1 2 1 1 1-3 1 3 1-2 1-3 1 0 1-4 1 3 1 0 1 2 1 0 1-1 1 1 1 0 1 2 1-2 1 5 1-2 1 4 1 0 1 1 1 0 1 1 1 0 1-1 1 0 1 0 1 2 1-3 1 0 1-2 1 2 1 0 1-2 1 0 1 2 1-4 1 1 1 4 1-2 1 1 1-5 1 3 1 0 1 0 1 3 1-2 1-1 1 1 1-1 1-1 1-1 1-3 1-1 1 3 1-4 1 2 1-1 1 1 1-2 1 4 1 4 1-3 1 4 1 1 1 4 1-3 1 4 1-1 1 0 1 3 1-1 1 2 1 1 1-2 1 2 1-5 1-1 1 1 1-4 1 2 1-5 1 2 1-3 1 1 1-1 1-3 1 3 1-1 1 0 1 0 1 0 1 2 1 1 1 0 1 0 1 4 1 1 1-3 1 5 1 0 1 5 1-4 1 1 1 3 1-9 1 3 1-1 1-1 1 0 1 2 1-4 1-3 1 3 1 0 1 0 1 2 1-2 1-1 1 3 1-3 1 4 1-3 1-1 1-2 1-1 1 2 1-4 1-1 1 3 1-7 1-1 1 0 1 1 1-3 1 4 1-2 1 4 1-4 1 4 1 3 1-3 1 5 1 2 1-2 1 5 1-2 1 1 1-1 1 1 1-1 1 0 1 0 1 2 1-2 1 0 1 1 1 2 1-4 1 3 1-3 1 2 1 1 1 1 1 0 1 1 1 1 1 3 1 1 1 0 1-2 1 3 1 0 1 0 1 2 1 0 1 0 1 0 1-1 1-1 1 0 1-3 1-2 1-1 1-1 1 1 1-4 1-2 1-2 1 3 1-3 1-1 1 2 1-2 1 2 1 2 1-3 1 4 1 2 1-1 1 2 1 2 1-3 1 3 1-2 1-1 1 2 1-1 1 6 1-3 1 1 1 1 1 0 1 2 1-2 1 2 1-1 1 1 1-1 1 2 1 1 1 0 1 0 1-3 1 3 1 0 1 0 1 0 1 0 1-2 1-1 1-1 1 2 1-4 1 3 1 1 1 0 1-1 1 0 1-1 1-4 1 0 1-1 1 4 1-1 1-4 1 1 1-3 1 0 1-1 1-1"/><path id="p97" d="M0 773l1 0 1 0 1 0 1 0 1 0 1 0 1 0 1 0 1-3 1-3 1-1 1-2 1 0 1 0 1-3 1 2 1-1 1-5 1 2 1 0 1-4 1 0 1-1 1 0 1-1 1-3 1 1 1 2 1-3 1-2 1-4 1 2 1-6 1 2 1-2 1-2 1 1 1-3 1 2 1 3 1-3 1 5 1-2 1 1 1 3 1 1 1 4 1 5 1-1 1 1 1 1 1 1 1-2 1 2 1 2 1 0 1-2 1 4 1-2 1-2 1 5 1-3 1 1 1 1 1-2 1 3 1-1 1-1 1-1 1-2 1 2 1-1 1 0 1-4 1-2 1 1 1-3 1-2 1 1 1 3 1-2 1-4 1 5 1 0 1 1 1-1 1 1 1-1 1-1 1-1 1 0 1-1 1-3 1-2 1 0 1-1 1-3 1-1 1-2 1-2 1 4 1 0 1-1 1 2 1 5 1-1 1 4 1-1 1 4 1 3 1 2 1 0 1-1 1 0 1-4 1 2 1-5 1 0 1-3 1 1 1-3 1-1 1 0 1-3 1 1 1-4 1 6 1-3 1 0 1 4 1 0 1 1 1 2 1-2 1 0 1 1 1 1 1-2 1-3 1 1 1 1 1 2 1-1 1 0 1-1 1 0 1-1 1 4 1-5 1 3 1 0 1-3 1-2 1 3 1 3 1-2 1 4 1-3 1 5 1 1 1 1 1 3 1 3 1 2 1-1 1 0 1 3 1 0 1 3 1-4 1 1 1 2 1 0 1-1 1 0 1-2 1 2 1 0 1-1 1 2 1-3 1 2 1-1 1-2 1 0 1 2 1-2 1-2 1-5 1-2 1 1 1-4 1-2 1-2 1-2 1 0 1-3 1 3 1-1 1 2 1-2 1 2 1 3 1 4 1-1 1 5 1-1 1 6 1-3 1 6 1-2 1 1 1 0 1-2 1 1 1-1 1-2 1 1 1-5 1 2 1 0 1-4 1 0 1 3 1 1 1 1 1 0 1 3 1-1 1 2 1 4 1 1 1-1 1 3 1 4 1-1 1 2 1 2 1 1 1 0 1 0 1 0 1 0 1 0 1 0 1 0 1 0 1 0 1-1 1-1 1 0 1-3 1-4 1-6 1 1 1-6 1-3 1 1 1 0 1-3 1 1 1 0 1-1 1 2 1 0 1 2 1 5 1-1 1 4 1-2 1 4 1 2 1-2 1 0 1 1 1 1 1 0 1-2 1 1 1-2 1-2 1-3 1-1 1-4 1-4 1-2 1-2 1-1 1-5 1 0 1-2 1-1 1 2 1-2 1 0 1 3 1-4 1 5 1 4 1 3 1 2 1 0 1 4 1 4 1 4 1-1 1 5 1-3 1 8 1 0 1-1 1 4 1-3 1-1 1 3 1-2 1 0 1 1 1-4 1 1 1-4 1 0"/><path id="p98" d="M0 773l1 0 1 0 1 0 1 0 1 0 1 0 1 0 1 0 1-9 1-6 1-9 1-1 1 1 1-3 1-2 1 0 1 0 1-2 1-2 1 1 1-3 1 5 1 0 1-1 1 4 1-3 1 1 1-1 1 6 1-3 1 2 1 2 1-1 1 2 1-1 1-2 1 3 1 0 1 0 1-1 1 2 1-2 1-1 1 2 1-4 1 0 1-1 1-1 1 1 1 1 1-3 1-1 1 1 1 0 1 3 1 0 1-1 1 1 1 1 1 4 1 0 1-3 1 3 1 0 1-3 1 3 1-5 1 1 1 3 1 0 1-1 1 0 1-3 1 1 1 3 1-2 1-1 1-2 1 3 1-2 1 1 1 2 1 0 1-1 1 3 1 1 1-2 1 2 1-3 1 2 1 2 1-1 1 1 1 0 1-1 1 3 1-1 1-4 1-2 1-2 1 2 1-4 1-4 1 2 1-3 1-1 1-3 1 0 1-5 1 2 1-1 1 1 1 2 1 2 1 0 1 2 1 0 1 2 1-3 1 4 1 2 1 1 1-2 1 0 1 4 1 0 1 2 1 0 1 0 1 2 1-1 1 3 1 0 1 0 1 3 1 1 1 0 1-2 1 1 1-2 1 0 1-2 1-1 1-3 1 1 1-2 1-3 1-1 1 3 1 1 1-3 1 0 1-1 1 0 1-1 1 2 1-3 1 0 1 1 1-3 1 5 1-2 1-3 1 0 1 1 1 1 1-1 1 0 1 2 1-1 1 2 1 2 1-2 1 3 1 0 1 3 1 0 1-1 1 2 1 2 1-3 1-2 1 0 1-2 1 0 1-3 1-2 1-2 1-2 1-1 1 0 1-5 1 5 1 0 1-2 1 3 1 2 1 3 1 0 1 1 1 4 1 0 1 1 1 2 1 0 1 2 1-1 1 0 1 3 1-4 1 4 1-6 1 3 1 1 1 1 1-5 1 4 1 1 1-2 1 1 1 1 1-1 1 1 1-1 1 0 1 2 1 1 1-2 1-2 1 2 1 1 1-1 1 4 1 2 1-1 1 1 1 0 1-3 1 4 1 0 1-2 1-1 1-1 1-2 1-1 1 2 1-2 1 2 1-4 1 1 1-1 1 3 1 5 1 2 1 0 1-2 1 5 1 1 1 2 1 1 1-3 1 0 1 0 1-2 1-1 1-4 1 5 1-8 1 1 1-2 1-2 1 3 1-3 1 3 1-1 1-2 1 3 1-2 1 1 1-1 1 0 1-2 1 2 1-2 1 1 1-2 1 1 1-2 1-1 1 2 1 1 1 0 1 0 1-5 1 7 1 1 1 1 1-1 1 2 1-2 1-1 1 0 1-3 1 1 1-3 1-3 1 1 1-4 1-3 1 3 1 1 1-5 1 0 1 3 1 2 1 0 1 2 1 0 1-1 1-1 1 2 1-1"/><path id="p99" d="M0 773l1 0 1 0 1 0 1 0 1 0 1 0 1 0 1 0 1-11 1-10 1-7 1-8 1-1 1-2 1-1 1 1 1-3 1 0 1-1 1 2 1-1 1-2 1 2 1 4 1-1 1 0 1 4 1 3 1 1 1 5 1 1 1 1 1-1 1 1 1-3 1 3 1 0 1-3 1-1 1-2 1 0 1-3 1 2 1-3 1 2 1-4 1 4 1-1 1-1 1 0 1 2 1-2 1 1 1 1 1 0 1 4 1 0 1 2 1-3 1 2 1-2 1 0 1 1 1 2 1-5 1 2 1-4 1 3 1 0 1 0 1 1 1-1 1-1 1 1 1 1 1 1 1 2 1 1 1 1 1-1 1-1 1 0 1 0 1 0 1-1 1-2 1 0 1-1 1-3 1 1 1-2 1-2 1 1 1 1 1 2 1 2 1 0 1 5 1-3 1 3 1 0 1 2 1-1 1-2 1 3 1-7 1 1 1-2 1-2 1-5 1 0 1-1 1-1 1-3 1 2 1 2 1-4 1 4 1 3 1-1 1 3 1 3 1 5 1-4 1 6 1-2 1 1 1 1 1 2 1-2 1 2 1-3 1 1 1-1 1-1 1 2 1 0 1-2 1-1 1 0 1 0 1 0 1 1 1-1 1 1 1 1 1 0 1 1 1 1 1-1 1 2 1 0 1 3 1-1 1 2 1 0 1 1 1-4 1 3 1-1 1-2 1 1 1 3 1-6 1-1 1-1 1 0 1-2 1 2 1-4 1-4 1 0 1 4 1 0 1 0 1-1 1 0 1 1 1 0 1 2 1 1 1 1 1-2 1 1 1 1 1-1 1 4 1-1 1 3 1 2 1 0 1 1 1 3 1 2 1 2 1 1 1 0 1 0 1-1 1 1 1 1 1-1 1-1 1-2 1-2 1-1 1-4 1 3 1-4 1 1 1-1 1-1 1 3 1-1 1-1 1 1 1-2 1 0 1-2 1 3 1-5 1 0 1 0 1 0 1 2 1 2 1-1 1 3 1-1 1 3 1-2 1 2 1 3 1 0 1 0 1 2 1 1 1 4 1-5 1 2 1 1 1-1 1-1 1-4 1-2 1-1 1 0 1-3 1-2 1 0 1-2 1-5 1 0 1-1 1 0 1-4 1 4 1-3 1-1 1 2 1-2 1-1 1 2 1 4 1-4 1 4 1-3 1 2 1 2 1 0 1 3 1-3 1 0 1 4 1 0 1 2 1 3 1-2 1 0 1 1 1 3 1 0 1 2 1-2 1 1 1 1 1-2 1 1 1-2 1-2 1 0 1-1 1 4 1-4 1-5 1 1 1-3 1 6 1-2 1-1 1-1 1 1 1-1 1 4 1-1 1-2 1 3 1-2 1 2 1-1 1-2 1 3 1 0 1 1 1-2 1-1 1 2 1-1 1-4 1 1 1 2 1-3"/><path id="p100" d="M0 773l1 0 1 0 1 0 1 0 1 0 1 0 1 0 1 0 1-6 1-4 1-5 1-5 1 1 1 1 1-3 1 3 1-4 1 0 1 3 1-3 1 1 1-2 1 0 1 2 1 0 1 2 1-2 1-2 1 3 1-4 1 1 1 2 1-3 1 0 1-3 1 1 1-1 1 2 1-2 1-1 1-4 1 0 1-2 1-2 1 1 1 0 1-2 1-2 1-2 1 0 1 3 1-4 1 2 1 1 1 4 1-1 1 4 1 0 1 4 1 3 1 2 1 2 1 4 1-3 1 3 1 1 1 3 1-3 1-2 1-5 1 3 1-4 1 0 1 0 1-2 1-1 1 2 1-2 1 2 1 3 1 8 1-6 1 6 1-1 1 3 1 2 1-2 1 1 1-3 1-1 1 3 1-5 1 0 1-4 1 2 1 0 1 2 1-2 1-1 1 0 1 1 1 3 1 1 1-2 1 3 1-2 1 4 1-2 1-2 1-2 1-2 1-1 1-2 1-1 1-1 1 0 1-3 1 2 1-1 1 1 1 3 1-1 1 4 1 1 1-3 1 2 1 1 1 3 1-3 1-1 1 0 1-4 1 1 1-5 1 0 1 2 1 1 1-1 1 3 1-1 1 2 1 2 1-1 1 2 1 2 1 1 1 1 1 0 1-2 1 1 1 0 1-1 1-4 1 2 1 0 1-5 1 0 1-2 1-1 1 0 1-1 1 0 1-1 1-1 1 1 1 2 1 1 1 1 1-1 1 1 1 1 1 4 1 2 1 0 1 4 1-3 1-1 1 1 1 1 1-2 1-3 1 1 1-4 1-1 1-4 1-2 1-3 1-4 1 2 1-3 1 3 1-4 1 1 1-2 1 3 1-3 1 1 1 2 1 0 1-4 1 4 1 2 1-2 1 1 1 0 1-3 1-2 1 1 1 4 1-1 1-1 1 2 1 1 1-1 1-2 1 5 1 3 1 2 1-2 1 4 1 0 1 1 1 2 1 2 1 2 1 1 1 1 1-1 1 0 1 6 1-4 1 4 1-3 1 3 1-3 1-3 1 3 1 1 1-5 1 2 1-2 1-1 1-1 1-2 1 2 1-2 1-1 1-1 1 0 1 0 1-2 1-2 1 1 1-3 1 2 1 0 1-2 1 0 1 1 1-1 1 0 1 2 1 0 1 3 1 3 1-1 1-2 1 5 1 3 1 2 1-2 1 3 1-1 1-2 1 1 1-1 1 1 1-4 1-3 1 4 1-3 1 2 1 0 1-1 1 1 1 2 1-1 1 5 1-1 1 3 1 1 1 2 1 0 1-4 1 2 1-3 1-1 1 3 1-7 1-1 1-3 1 0 1-3 1 0 1-4 1 1 1-1 1 0 1-4 1-2 1 6 1-3 1-1 1 5 1-2 1 4 1 3 1 0 1 1 1 0 1 1 1 4"/><path id="p101" d="M0 773l1 0 1 0 1 0 1 0 1 0 1 0 1 0 1 0 1-16 1-13 1-10 1-2 1-3 1 3 1-1 1 3 1-2 1 5 1 1 1-1 1 3 1 2 1 4 1 2 1-1 1 3 1-1 1 4 1 1 1-3 1 1 1-2 1-2 1 1 1-3 1 2 1-5 1-3 1 4 1-3 1-1 1 2 1-2 1 2 1 2 1 1 1 2 1 4 1 2 1 0 1 2 1 2 1 1 1-1 1 4 1 2 1 1 1-3 1 2 1-1 1-3 1 0 1 0 1-3 1 1 1-1 1-2 1-2 1 2 1 0 1-2 1-1 1-1 1-1 1 0 1 0 1-1 1 1 1-4 1 2 1-4 1 2 1-1 1 1 1 2 1-2 1 0 1-1 1 1 1-6 1 2 1-3 1 0 1-2 1-4 1-2 1-3 1 0 1-1 1-3 1 2 1-2 1-1 1 2 1-3 1 6 1 4 1-1 1 3 1 5 1 2 1 2 1 4 1-2 1 7 1-2 1 1 1 1 1-1 1-1 1 2 1-3 1-1 1 4 1-3 1 0 1 2 1-3 1 3 1-1 1-2 1 1 1 0 1 2 1-2 1 2 1-5 1 0 1-1 1 2 1-3 1 3 1-2 1 1 1 1 1-2 1 1 1-1 1-3 1 1 1-4 1 0 1-2 1 1 1-2 1-2 1 1 1 0 1 0 1 0 1-2 1 7 1 1 1 1 1 3 1-3 1 1 1 2 1 0 1-3 1-1 1-1 1-2 1-1 1-2 1 2 1-6 1 4 1-4 1-1 1 2 1 3 1 0 1 2 1 5 1-2 1 5 1 2 1 1 1 0 1 3 1 1 1 1 1-1 1 3 1-3 1 2 1 2 1-3 1 0 1-3 1 1 1 1 1 0 1-2 1-3 1 0 1 1 1 1 1 1 1-2 1 0 1 2 1-4 1 0 1-1 1-1 1 1 1 2 1-2 1-3 1 3 1-2 1 2 1-4 1 0 1 3 1-5 1 0 1-1 1 1 1-1 1-2 1-2 1 4 1-3 1 0 1 2 1 1 1 0 1 0 1 4 1 0 1-1 1 5 1-1 1 4 1 1 1 0 1 1 1-1 1 5 1-3 1-1 1 0 1 3 1-2 1 4 1 1 1-4 1 4 1 1 1-1 1 3 1 2 1-6 1 3 1-2 1 2 1-1 1-1 1 0 1 2 1 2 1-3 1 0 1 4 1 1 1-4 1 6 1-4 1 2 1-3 1 3 1-2 1-2 1 0 1-2 1-1 1-4 1 1 1-2 1-1 1-2 1-1 1 0 1-1 1 2 1 1 1-1 1-1 1 2 1 0 1 3 1 1 1-1 1 3 1 0 1 5 1-2 1 6 1 0 1-6 1 5 1-4 1 4 1 0 1-5 1-1 1-2 1 4 1-4"/><path id="p102" d="M0 773l1 0 1 0 1 0 1 0 1 0 1 0 1 0 1 0 1-17 1-15 1-8 1-6 1-5 1-2 1-1 1-2 1-2 1-4 1 0 1-3 1 3 1-2 1 5 1-3 1 2 1 3 1 0 1 3 1 4 1 1 1 3 1 1 1 4 1-2 1 7 1 0 1-2 1 0 1 1 1-2 1 3 1-4 1 2 1 0 1-3 1-1 1 2 1 1 1-1 1 1 1-5 1 3 1 4 1-4 1 1 1-1 1-1 1-2 1 2 1-2 1 1 1 1 1-1 1 4 1-1 1-1 1-2 1 2 1 0 1 6 1 1 1-5 1 5 1 1 1 3 1-1 1 3 1 4 1-1 1 0 1 1 1 5 1 0 1 1 1 0 1 4 1-5 1 3 1 0 1 0 1-2 1-1 1 0 1-3 1-1 1 1 1-2 1 2 1-3 1 1 1 2 1 2 1-3 1 2 1 4 1 3 1 1 1 1 1 4 1 2 1 3 1 0 1 2 1 1 1 0 1 0 1 0 1 0 1 0 1-4 1-3 1-3 1-3 1-4 1-5 1-6 1-1 1-4 1-4 1-2 1-1 1-5 1-1 1-4 1 4 1-5 1 3 1-3 1 4 1-4 1 5 1 1 1 1 1 3 1 1 1 2 1 1 1 5 1 0 1 3 1 4 1 2 1 2 1-1 1 7 1 3 1 0 1 2 1 2 1 1 1-1 1 3 1-1 1 1 1-1 1 0 1-1 1 1 1 1 1-5 1-1 1-3 1-1 1-3 1 0 1-3 1-3 1-4 1-2 1 2 1-2 1-4 1 1 1 0 1 3 1 0 1 2 1-3 1 2 1 3 1-3 1 2 1 4 1-5 1 2 1-4 1 5 1-3 1 2 1-1 1-2 1 0 1 4 1-5 1 6 1-3 1 0 1-1 1 0 1 2 1-5 1 3 1-1 1-2 1-3 1-2 1 1 1-2 1-2 1 1 1 0 1 0 1 0 1 1 1 6 1-4 1 5 1 3 1-1 1 2 1 2 1 0 1 0 1 4 1-2 1-1 1-2 1-2 1 1 1-3 1-4 1 2 1-4 1 0 1-3 1 1 1 0 1 0 1-3 1-2 1 2 1 0 1 0 1 4 1 0 1 4 1 2 1 2 1-1 1 0 1 4 1 3 1-1 1 2 1-1 1-4 1 3 1-1 1 0 1-2 1-1 1-1 1 0 1 1 1-3 1 2 1 0 1-3 1 5 1 0 1-3 1 3 1 4 1 1 1-1 1 0 1-1 1 0 1-2 1 2 1-3 1 3 1 0 1-1 1 1 1 0 1 0 1-1 1 4 1-1 1 0 1-1 1-1 1-2 1 1 1-1 1-3 1-2 1-1 1 1 1-1 1 1 1 1 1-1 1 4 1-4 1 2 1 5 1-2 1 0 1 3 1 1"/><path id="p103" d="M0 773l1 0 1 0 1 0 1 0 1 0 1 0 1 0 1 0 1-10 1-7 1-6 1 0 1-1 1-2 1 1 1 0 1-1 1 0 1 1 1 0 1 1 1 2 1 4 1 1 1 0 1 3 1-2 1 1 1 2 1 0 1 2 1-2 1 7 1-5 1 3 1 1 1-2 1-1 1-1 1-2 1-1 1-1 1 0 1-3 1 1 1-5 1 2 1-6 1 1 1-4 1 2 1 2 1-1 1-1 1 0 1 0 1 3 1-2 1 3 1 0 1 1 1-1 1 1 1-2 1 5 1-3 1-6 1 6 1-3 1 1 1 1 1-4 1-3 1-2 1 0 1 0 1 1 1-2 1 2 1-1 1 2 1-2 1 1 1 1 1 0 1 3 1 1 1 1 1-1 1 0 1 3 1 1 1 1 1 0 1 0 1 5 1-6 1 0 1 4 1-3 1 3 1-5 1 1 1-1 1 2 1 4 1-3 1-1 1-2 1 4 1-1 1-1 1 1 1-1 1-1 1 0 1-1 1 2 1 0 1 0 1 2 1-4 1 0 1 2 1-2 1-1 1 2 1-3 1 3 1 1 1-5 1 1 1 5 1 0 1-3 1 5 1 0 1 2 1 3 1-1 1-1 1 0 1 3 1 0 1-3 1 5 1-3 1-3 1-1 1 2 1-2 1-3 1-1 1-4 1 3 1-1 1-2 1 3 1 1 1-4 1 6 1-1 1 0 1-2 1 4 1 4 1 2 1-3 1 3 1 3 1 2 1-3 1 1 1-2 1 1 1-1 1-1 1 0 1 1 1-8 1 2 1 3 1-2 1 0 1-3 1 1 1 2 1-3 1 1 1-5 1 1 1 0 1-3 1-1 1-1 1-2 1 1 1-1 1 0 1 3 1 0 1 2 1 1 1 3 1-1 1 6 1-4 1 6 1-2 1 2 1-1 1 2 1 3 1-2 1-1 1 0 1-1 1 5 1-5 1-1 1 1 1 0 1 1 1-3 1-3 1 1 1 4 1-6 1-2 1-1 1 2 1-3 1-2 1 1 1-3 1-2 1 2 1 1 1-1 1 2 1 0 1 0 1 0 1 3 1 4 1-2 1 3 1 0 1 0 1 1 1-1 1 0 1-3 1 2 1-5 1 2 1-3 1-1 1-1 1 0 1 0 1 3 1-5 1 2 1 1 1-1 1 4 1 0 1-2 1 1 1 3 1-2 1 0 1-1 1-1 1 1 1 2 1 3 1-6 1 3 1 0 1 0 1 0 1 1 1 2 1-1 1 4 1-2 1 0 1 3 1 0 1 1 1 1 1-1 1 3 1-1 1 1 1 1 1-1 1 2 1-1 1 3 1 0 1 2 1-2 1 1 1 1 1-1 1-1 1 1 1 3 1-2 1 0 1 0 1-4 1-2 1 1 1-1 1-1 1-1 1 3 1-2"/><path id="p104" d="M0 773l1 0 1 0 1 0 1 0 1 0 1 0 1 0 1 0 1-7 1-4 1-2 1 1 1 0 1-2 1-1 1 3 1 0 1-1 1 1 1-3 1 1 1 2 1 2 1-2 1 1 1-2 1-3 1 3 1-1 1 1 1 0 1-4 1 5 1-1 1-2 1-4 1 1 1 2 1 1 1-1 1-2 1-1 1-5 1 1 1 2 1 1 1-4 1 2 1-1 1 1 1-1 1 0 1 1 1-3 1 1 1 2 1-2 1-1 1 3 1-2 1 0 1 0 1 1 1-1 1 0 1 1 1 0 1 0 1-2 1 2 1 1 1 2 1 1 1-1 1 3 1-1 1 2 1 2 1 0 1 2 1 1 1-2 1 2 1 0 1-4 1 4 1 0 1 0 1-1 1 0 1-2 1 0 1-2 1-1 1-3 1 2 1-2 1-2 1 1 1-1 1 3 1-3 1 1 1 5 1-3 1 2 1 1 1 1 1-2 1 1 1 1 1-3 1-2 1 2 1-3 1-2 1-4 1 3 1-4 1 0 1-4 1 4 1 2 1-3 1 1 1 2 1 5 1-3 1 1 1 3 1 1 1 2 1 1 1 0 1 0 1 1 1-1 1 4 1-3 1-2 1 3 1-3 1 3 1-5 1 2 1 0 1-3 1 2 1 1 1-4 1 2 1 1 1-4 1 3 1 3 1 0 1 0 1 1 1-1 1 3 1 3 1 0 1-2 1 2 1-3 1 3 1 0 1-4 1 1 1-1 1 1 1-1 1-5 1 3 1-5 1 1 1-1 1-2 1-2 1 0 1-3 1 2 1-3 1 3 1-3 1 5 1-6 1 4 1 2 1 1 1 0 1 0 1 2 1 2 1 1 1 2 1-1 1 2 1 0 1-2 1 3 1 1 1-1 1 0 1-2 1 2 1 0 1-1 1 3 1 0 1-4 1 2 1 1 1 0 1-2 1-2 1 3 1-2 1-4 1 3 1-4 1 3 1-5 1 5 1-2 1 2 1-4 1 4 1-4 1 0 1 1 1 2 1 1 1 0 1 1 1-3 1 2 1-2 1 1 1 0 1-2 1 0 1 0 1 1 1 2 1-1 1-1 1 2 1 1 1 0 1 2 1 4 1 4 1 0 1-4 1 4 1 2 1 3 1-2 1 0 1 0 1 0 1 0 1 2 1-8 1-2 1 0 1-5 1 2 1-4 1 0 1 0 1-1 1 0 1-4 1 3 1-3 1 4 1-1 1 3 1-2 1 0 1 0 1-1 1 5 1-4 1 0 1-1 1-1 1-3 1 2 1-3 1-1 1-2 1-1 1-1 1 1 1-2 1 0 1 0 1 0 1-1 1 0 1 4 1 2 1 1 1 2 1 5 1 5 1 0 1 0 1 3 1 1 1 2 1 1 1-1 1-4 1 1 1-1 1-1 1-1 1 0"/><path id="p105" d="M0 773l1 0 1 0 1 0 1 0 1 0 1 0 1 0 1 0 1-14 1-7 1-4 1 0 1-3 1 0 1 2 1 2 1-3 1 2 1 1 1 3 1 1 1-1 1 1 1 3 1 1 1-3 1 0 1 1 1-1 1 4 1-6 1 1 1 4 1-2 1-1 1 0 1-3 1 0 1-3 1 1 1-2 1 0 1 1 1-3 1 2 1-1 1-2 1 2 1-3 1 2 1 1 1 0 1 0 1 1 1 3 1-3 1 5 1-4 1 0 1 2 1-3 1 4 1 0 1 5 1-5 1 5 1-2 1 1 1 3 1 2 1-2 1-1 1 6 1 0 1-1 1-1 1 1 1 3 1-3 1 0 1-2 1 3 1 0 1-2 1-1 1 0 1-3 1-2 1-1 1-1 1-1 1-5 1 0 1-4 1-2 1 2 1-2 1 0 1-2 1 2 1 1 1-1 1 3 1 0 1 0 1 0 1 5 1 1 1-2 1-2 1 2 1-2 1-3 1 3 1 0 1 0 1-3 1 5 1-6 1 2 1 4 1-2 1 1 1 1 1 2 1 2 1-1 1 3 1 3 1 2 1 1 1 1 1 1 1 0 1-1 1 2 1 2 1-2 1 0 1-4 1 2 1-1 1-2 1 1 1-2 1-1 1-1 1 1 1 0 1-1 1 2 1 0 1-1 1 1 1-1 1 1 1 0 1-3 1 2 1-1 1-1 1 1 1-5 1-2 1 5 1-2 1-2 1 4 1-3 1 2 1 0 1 1 1-2 1 1 1-2 1 0 1-1 1-5 1 1 1-2 1-4 1 1 1-1 1-1 1-2 1 2 1-4 1 3 1 2 1-2 1 5 1-3 1 1 1 4 1 1 1 0 1 1 1 2 1 4 1 2 1-3 1 3 1 1 1-3 1 5 1-5 1 3 1-1 1-2 1 3 1 0 1 2 1 0 1 0 1-1 1 4 1 3 1 2 1-3 1 0 1 2 1 0 1 3 1-1 1-2 1-2 1 1 1 0 1-3 1-2 1 1 1-2 1-1 1-1 1 0 1 1 1-1 1 2 1-1 1-1 1 0 1 1 1 0 1 6 1-2 1 0 1-2 1 1 1 0 1-2 1 2 1-1 1-6 1 4 1-1 1 0 1-4 1-1 1 0 1-2 1-3 1 0 1 2 1-1 1 0 1-1 1 1 1 3 1-2 1 2 1 1 1-2 1 5 1-1 1 2 1 1 1-2 1-1 1-3 1 4 1-1 1 2 1 0 1-2 1-1 1 3 1-3 1 1 1 3 1-2 1 1 1 0 1 0 1 1 1-2 1 1 1 4 1-4 1 1 1 1 1 1 1-3 1-2 1 0 1-1 1 2 1-3 1-2 1 0 1 0 1-3 1 5 1-1 1-3 1 6 1-1 1 4 1 0 1 5 1-2 1 0 1 1"/><path id="p106" d="M0 773l1 0 1 0 1 0 1 0 1 0 1 0 1 0 1 0 1-7 1-3 1-3 1 0 1-4 1-1 1 2 1 0 1-1 1 2 1 2 1-1 1-1 1 1 1-1 1 4 1-2 1 0 1 2 1-5 1 1 1-3 1-2 1-1 1 1 1-4 1 2 1-1 1-4 1 0 1 2 1 0 1 2 1-1 1 3 1-3 1 3 1-1 1 3 1 1 1-2 1 1 1 1 1 3 1 2 1-1 1 1 1-1 1-1 1 3 1-6 1 4 1-1 1 1 1-2 1 1 1 0 1-1 1-1 1 0 1-4 1 4 1 3 1-7 1 0 1 3 1-2 1-1 1-1 1 0 1 0 1 1 1-5 1 5 1 0 1-3 1-1 1 3 1-4 1 3 1-3 1 1 1 1 1 2 1 2 1-1 1 2 1 0 1-1 1 3 1 0 1 2 1 0 1 0 1 0 1 0 1-2 1 4 1-2 1-1 1-1 1 2 1 3 1-2 1 0 1 3 1 0 1-1 1 2 1 0 1 0 1-2 1 2 1-2 1-1 1-2 1-1 1-4 1 0 1 1 1-5 1 0 1-3 1 2 1-3 1 1 1-4 1-2 1 1 1-1 1 3 1-1 1-1 1-1 1 2 1 2 1-3 1 4 1-6 1-1 1 2 1-1 1 1 1 0 1-2 1 1 1 3 1 1 1-3 1 2 1 1 1 3 1-3 1 3 1 0 1 1 1 2 1-2 1-2 1 0 1 1 1-1 1-2 1 0 1 1 1-1 1 2 1-4 1 3 1 0 1 0 1 3 1-3 1-1 1 1 1 1 1 3 1 0 1 4 1-2 1 1 1 2 1 0 1 2 1 3 1 1 1 0 1 1 1 3 1 1 1-1 1 1 1 2 1-6 1 0 1-2 1 0 1-2 1-3 1-3 1 5 1-2 1-1 1-6 1 2 1 3 1-1 1 0 1-5 1 4 1 1 1 0 1-1 1 1 1 1 1-1 1 2 1 2 1 2 1 0 1-2 1 4 1 0 1-3 1 5 1-4 1 1 1-2 1-1 1-2 1 0 1-5 1 4 1-1 1-3 1-2 1 2 1-3 1-1 1 3 1-1 1-1 1-2 1 6 1-4 1 3 1-2 1 5 1-5 1 1 1 2 1-2 1-2 1 3 1 1 1 2 1-2 1 2 1 1 1 3 1 0 1 3 1-1 1-1 1 4 1-3 1 2 1 0 1-1 1 3 1-1 1-2 1 1 1 2 1 1 1-3 1 3 1 0 1-2 1 1 1 3 1-3 1 0 1 1 1 3 1 0 1-2 1 3 1 1 1 2 1-5 1 2 1 2 1-1 1-1 1 3 1-1 1 1 1 0 1-3 1 5 1-5 1 3 1 0 1-3 1 0 1 0 1 0 1-1 1-7 1 3 1 0 1-5 1 5"/><path id="p107" d="M0 773l1 0 1 0 1 0 1 0 1 0 1 0 1 0 1 0 1-9 1-8 1-2 1 2 1 0 1 0 1-1 1 3 1 0 1-1 1 0 1 0 1 4 1-7 1-2 1 3 1-1 1-1 1 1 1-2 1-1 1 1 1-1 1 1 1 1 1-2 1 1 1 3 1-2 1-2 1 2 1 1 1 1 1-2 1 0 1 2 1 1 1-3 1 0 1-1 1 1 1-1 1 1 1 0 1-1 1 2 1 0 1 2 1-1 1-2 1-2 1-1 1 1 1 0 1 0 1 1 1 2 1-4 1 2 1 0 1-1 1-2 1 3 1-1 1 5 1-1 1 0 1 3 1-1 1 1 1-3 1 0 1 0 1-5 1 0 1-2 1 4 1-7 1 1 1-4 1 3 1 1 1-2 1 0 1-1 1-2 1-1 1 3 1 2 1-1 1 0 1 2 1 0 1 1 1-1 1 2 1-2 1 0 1 0 1 2 1 1 1-2 1-2 1 3 1-3 1-1 1 1 1 2 1-3 1-1 1 0 1-1 1-1 1 0 1 1 1 1 1-2 1 0 1 6 1-1 1 1 1 4 1 1 1 2 1 0 1 3 1-3 1 4 1-3 1-1 1-1 1 7 1-5 1-1 1 1 1-5 1 6 1-4 1 1 1 3 1 1 1-1 1 4 1 0 1 2 1 0 1 3 1-1 1 2 1 3 1-2 1 0 1-2 1-1 1 2 1-4 1-1 1 0 1 1 1-3 1-2 1 2 1 0 1 0 1-2 1 2 1-4 1 5 1 2 1-1 1-4 1 3 1 2 1-3 1 1 1-1 1 0 1-1 1 0 1-1 1 0 1 2 1-4 1 2 1 0 1 1 1-3 1 3 1 1 1-1 1-1 1 0 1-2 1 4 1-3 1 0 1 1 1-3 1 2 1-3 1 0 1 0 1 0 1-1 1 0 1-1 1 6 1-4 1 3 1 2 1 1 1 0 1 1 1 1 1-1 1 1 1 0 1-1 1 0 1-1 1-4 1-2 1 1 1-2 1-2 1-2 1-4 1 2 1 0 1-3 1-1 1 0 1 1 1 2 1-1 1 0 1 1 1 0 1 2 1-2 1 2 1-4 1 2 1 0 1 0 1 0 1 0 1 3 1-2 1 4 1-2 1 3 1-2 1 3 1-1 1 1 1 3 1 2 1 1 1 2 1 0 1 1 1 5 1 0 1 2 1 5 1 0 1 0 1 0 1 0 1 0 1 0 1 0 1 0 1 0 1 0 1 0 1-1 1-3 1-3 1 3 1-6 1-5 1-1 1 0 1-1 1 0 1-1 1-3 1 6 1-3 1 1 1-1 1 1 1-1 1 2 1-4 1-2 1 0 1-1 1-1 1-2 1-3 1-2 1-2 1 0 1-3 1 0 1 4 1-3 1 5 1 2 1 0 1 3"/><path id="p108" d="M0 773l1 0 1 0 1 0 1 0 1 0 1 0 1 0 1 0 1-19 1-48 1-20 1-10 1-5 1 4 1-2 1 1 1 3 1 1 1-2 1 4 1-1 1 2 1 3 1-3 1 0 1 1 1-6 1 1 1-7 1 5 1-4 1-4 1-4 1 2 1-1 1-4 1 4 1 0 1-2 1-1 1 0 1 4 1-4 1-4 1 5 1 1 1 6 1 0 1-3 1 0 1 1 1 4 1-7 1 6 1-7 1-1 1-4 1 1 1 6 1-5 1 2 1-5 1 3 1-1 1-1 1-1 1 5 1-2 1 2 1 6 1-4 1 12 1-3 1-8 1 10 1 1 1-6 1 10 1 1 1-1 1 1 1 5 1-4 1 3 1-1 1-5 1 2 1-12 1-1 1 2 1-1 1-3 1-2 1 0 1 2 1-7 1 8 1-2 1-6 1 2 1-4 1 1 1 4 1-3 1 4 1-1 1 3 1 1 1-5 1-2 1 3 1-1 1-4 1 4 1-2 1 2 1-8 1-3 1 1 1 7 1-4 1-3 1-1 1-3 1 0 1 1 1-1 1-8 1 6 1 0 1-2 1 5 1-7 1 9 1-9 1 3 1 5 1 0 1-5 1 3 1 5 1-2 1 0 1-3 1 2 1-1 1 12 1-6 1 4 1-3 1 5 1-2 1 5 1-8 1 7 1 7 1-4 1 6 1-2 1 7 1-2 1 3 1 2 1 2 1 1 1-1 1-5 1 2 1-5 1 7 1-2 1-3 1-3 1-3 1-1 1-1 1 0 1-11 1 4 1-2 1 4 1 2 1-7 1 0 1-3 1 1 1 3 1 4 1-9 1 1 1 4 1-5 1 1 1 1 1-2 1-1 1-2 1 8 1-2 1-1 1 5 1-7 1 2 1 8 1-5 1 1 1-1 1 1 1-9 1-1 1 6 1 2 1-7 1-3 1-2 1-1 1 1 1 2 1-9 1-4 1 3 1-1 1-5 1 1 1 4 1-9 1 9 1-8 1 15 1 3 1-2 1 1 1-6 1 6 1-1 1 3 1 3 1 0 1 6 1 0 1-9 1 2 1-3 1-6 1-1 1-1 1 2 1-3 1-2 1-1 1-2 1 0 1 2 1 0 1-3 1 2 1 1 1-1 1 5 1 10 1-2 1 8 1-4 1-5 1 8 1 6 1-2 1 1 1 0 1 3 1-3 1 2 1-8 1 0 1 9 1-6 1-1 1 5 1-15 1 0 1 3 1 1 1-3 1 0 1-2 1 0 1 3 1 1 1 3 1-5 1 4 1 2 1 5 1-7 1 6 1 2 1-5 1 6 1-2 1-1 1 0 1-6 1 7 1-5 1 3 1-6 1 0 1 5 1-7 1-10 1 0 1 3 1 1 1 1 1-11 1 7 1-6 1 3 1 1 1 2 1 2 1-2"/><path id="p109" d="M0 773l1 0 1 0 1 0 1 0 1 0 1 0 1 0 1 0 1-11 1-46 1-26 1 1 1-14 1 1 1-8 1 14 1-9 1 0 1 1 1 4 1-7 1-5 1 6 1-7 1-2 1 3 1-1 1-2 1 0 1-2 1 7 1-7 1-3 1 2 1 3 1-9 1 2 1 5 1-4 1 0 1-2 1 6 1-1 1 1 1 2 1-2 1 1 1 4 1-5 1 4 1-1 1 2 1 3 1-3 1 3 1-3 1-3 1 11 1-11 1-5 1 4 1 2 1-5 1-6 1-2 1-7 1 4 1-1 1-2 1 5 1-5 1 3 1-2 1-2 1-1 1 3 1-1 1-5 1-2 1 6 1 3 1-6 1 0 1 1 1-3 1 1 1 2 1-2 1 1 1 7 1-2 1-3 1 7 1-5 1 10 1-3 1 6 1 7 1 0 1-5 1 11 1 5 1-4 1-4 1 2 1-5 1 6 1 3 1-3 1-1 1 6 1 1 1-6 1-4 1 3 1 1 1 2 1-3 1-1 1-2 1 5 1-6 1 2 1-3 1 0 1-4 1-3 1-7 1-10 1 9 1-6 1-4 1 5 1-2 1-1 1-10 1 2 1-8 1 7 1 7 1-5 1-3 1 7 1 5 1 0 1 0 1 5 1-2 1 4 1 6 1-3 1-3 1-1 1-1 1 6 1 0 1-1 1-6 1-4 1 5 1-3 1 2 1-7 1 11 1-4 1 6 1 0 1-2 1 4 1 5 1 3 1 0 1 0 1 7 1-5 1-6 1 10 1-2 1 1 1 1 1-2 1-1 1-3 1-7 1-4 1 10 1-1 1-6 1-3 1 2 1-4 1 2 1-2 1 8 1-1 1-1 1 1 1 1 1-1 1-1 1 8 1-5 1 2 1-6 1 11 1-10 1 1 1 4 1 0 1-1 1 3 1-4 1 3 1-2 1-3 1 5 1-2 1 1 1-2 1 4 1-4 1 1 1-3 1-3 1 0 1 0 1 3 1-3 1 2 1-3 1-3 1 0 1 4 1-2 1 0 1-3 1-11 1 12 1-4 1-8 1 3 1 0 1-6 1-3 1 6 1-2 1-4 1 6 1-7 1 4 1 2 1-9 1 9 1-1 1 3 1-5 1 3 1 0 1 0 1 3 1-2 1 2 1 5 1-2 1-8 1 12 1-2 1-2 1 1 1 4 1 3 1-10 1 2 1 4 1-6 1-9 1 1 1-5 1 0 1-7 1 9 1-5 1 0 1 2 1-1 1 4 1 4 1-1 1-1 1 8 1 6 1 4 1-4 1 6 1-3 1 2 1 2 1-3 1 10 1-9 1-1 1-6 1 9 1-2 1-10 1 11 1-7 1 3 1-2 1 2 1 0 1-4 1-7 1 8 1-2 1 3 1-4 1-9 1 5 1 6 1-5 1 2"/><path id="p110" d="M0 773l1 0 1 0 1 0 1 0 1 0 1 0 1 0 1 0 1-15 1-50 1-24 1-10 1-7 1 1 1-4 1 0 1 1 1 1 1 7 1-6 1 5 1-2 1 6 1-10 1 2 1 1 1 6 1 1 1 0 1 5 1 1 1-5 1 6 1 1 1 2 1 1 1 1 1 2 1-1 1-3 1 3 1-5 1 5 1-10 1 1 1-8 1 8 1 2 1-12 1-2 1 1 1-3 1-5 1 2 1-1 1-8 1 3 1 2 1-4 1-1 1-4 1 7 1-7 1 0 1 0 1 0 1-3 1 0 1 7 1-5 1 7 1 1 1 3 1 1 1 8 1 0 1 2 1 0 1 3 1 7 1 4 1 3 1-3 1-2 1-2 1-3 1 2 1-1 1-13 1-3 1 4 1 1 1-3 1-6 1-7 1 3 1 5 1 3 1-2 1-3 1-1 1 9 1 0 1 2 1-9 1 8 1-7 1 0 1-2 1-7 1 9 1-8 1-3 1-2 1-7 1 1 1 6 1-2 1 0 1 5 1 6 1-2 1 2 1-1 1 3 1 0 1-2 1 7 1 2 1-7 1-1 1 5 1 3 1-3 1-2 1-6 1 2 1 4 1-2 1 1 1-4 1 0 1 1 1 0 1 0 1 2 1 4 1 4 1 1 1 0 1 1 1 6 1 1 1-3 1 9 1-10 1 0 1 2 1-2 1 6 1-13 1 4 1-4 1-2 1 0 1 1 1-2 1-9 1 2 1 2 1-3 1 3 1-2 1 2 1-9 1 4 1-6 1 1 1 8 1-9 1 7 1-5 1 4 1-3 1-3 1 5 1-1 1 4 1-12 1 3 1 1 1-5 1-3 1 6 1-10 1 5 1 5 1-3 1-6 1 4 1 2 1 1 1 6 1 5 1 3 1-3 1 13 1 1 1 0 1 0 1 0 1 10 1-5 1 1 1-1 1 5 1-1 1-2 1 1 1-4 1 2 1 0 1-1 1-2 1 3 1 2 1-4 1-4 1-1 1 8 1-8 1-1 1-3 1 0 1-5 1 6 1-9 1 4 1-1 1 1 1-3 1-2 1 3 1-2 1-8 1 5 1-9 1 8 1-2 1 1 1-2 1 1 1-2 1 1 1-3 1 4 1-5 1 6 1 0 1-3 1 5 1 4 1-3 1-1 1 2 1 5 1 1 1 4 1-4 1 8 1-7 1-3 1-2 1 2 1-2 1 8 1-10 1-2 1-4 1 2 1-4 1 4 1-3 1-6 1-2 1 3 1-7 1 3 1 2 1-3 1-1 1-1 1 2 1 1 1-4 1 4 1 0 1 8 1-3 1 3 1 1 1-3 1 5 1 8 1-3 1-4 1 5 1-5 1 2 1 8 1-3 1 2 1-5 1-6 1 3 1-3 1 1 1 2 1-8 1-7 1 11 1-8"/><path id="p111" d="M0 773l1 0 1 0 1 0 1 0 1 0 1 0 1 0 1 0 1-16 1-47 1-22 1-7 1-12 1 1 1 2 1-2 1 6 1-3 1 0 1 5 1-4 1-4 1-1 1-1 1 8 1-1 1-5 1 7 1-8 1 8 1-8 1 3 1-3 1 8 1-6 1-3 1 11 1-3 1 2 1-4 1 7 1-7 1 3 1 5 1 1 1-1 1 0 1 3 1-3 1-4 1 3 1-9 1 8 1-6 1 0 1-5 1-4 1 2 1 0 1-7 1 6 1-7 1-3 1 6 1 0 1-5 1 5 1 1 1-4 1-4 1 0 1-2 1 11 1-1 1-2 1 0 1 5 1 5 1 0 1 2 1 3 1 2 1 2 1 6 1 2 1-5 1 9 1-5 1-2 1 2 1 0 1 0 1-6 1-8 1 6 1-4 1 4 1-11 1-5 1 8 1-3 1 6 1-6 1 3 1 1 1-1 1-4 1 3 1 8 1-4 1 3 1-4 1 12 1-8 1-3 1 8 1-4 1-1 1 2 1 0 1 1 1-6 1 1 1 4 1-3 1-7 1 7 1 0 1 7 1-8 1-8 1 9 1-8 1 1 1 4 1 6 1-17 1 5 1 9 1-7 1-1 1-2 1 6 1-13 1 10 1-6 1 4 1 0 1-11 1 9 1-7 1-7 1 5 1-6 1-2 1 0 1 0 1 8 1 1 1 2 1-1 1 2 1 2 1-8 1 8 1 2 1 0 1-1 1 5 1-1 1-3 1-2 1 2 1-9 1 4 1 0 1-5 1-2 1-5 1-2 1 0 1-3 1 6 1-1 1-1 1 3 1 2 1 4 1-6 1 6 1 2 1 8 1-6 1 2 1 4 1 6 1-4 1 7 1-2 1-6 1 1 1 0 1 5 1-8 1-6 1 4 1-2 1-3 1 0 1-1 1-3 1-3 1-4 1-3 1 1 1-1 1 4 1 2 1-12 1 2 1 2 1 4 1 1 1 7 1 0 1 1 1-9 1 12 1-5 1-3 1 7 1-2 1 3 1-5 1-4 1-4 1 1 1-1 1-3 1 5 1-3 1-9 1 6 1 3 1-6 1 4 1 1 1 4 1 2 1 10 1-5 1 2 1 8 1 0 1 1 1 0 1-4 1-7 1 10 1-5 1 1 1 0 1-3 1 5 1-1 1-13 1 8 1-3 1 0 1 4 1 3 1 0 1 1 1-5 1 9 1 3 1-5 1-5 1 4 1 7 1-12 1 5 1-1 1-1 1-11 1 9 1-6 1 10 1-1 1-1 1-5 1-1 1 4 1-4 1-5 1-2 1 6 1-8 1 0 1 0 1-3 1-7 1 0 1-9 1 3 1 2 1-7 1-2 1 1 1-1 1-4 1 0 1 0 1-3 1 5 1-1 1 7 1-3 1 6 1-7 1 0 1 8"/><path id="p112" d="M0 773l1 0 1 0 1 0 1 0 1 0 1 0 1 0 1 0 1-10 1-47 1-21 1-7 1-16 1 7 1-6 1 4 1 6 1-3 1-4 1 4 1 1 1 0 1 6 1-1 1 3 1-1 1 0 1 11 1 5 1 1 1 0 1-6 1 6 1-7 1 0 1 0 1-2 1-5 1 2 1 2 1-2 1-3 1 7 1-10 1 2 1-2 1-4 1 7 1-1 1 1 1-2 1 4 1-6 1-3 1 2 1-3 1-1 1 9 1-5 1-3 1-3 1 0 1 11 1-8 1 2 1-12 1 6 1 2 1-8 1 5 1-5 1 1 1 3 1 1 1-6 1-3 1 3 1-6 1 8 1-4 1 0 1-4 1 5 1 0 1-2 1 0 1 2 1-1 1 7 1 3 1-4 1-8 1-1 1 2 1-5 1 5 1-1 1-8 1 0 1-6 1 6 1 0 1-5 1 0 1-1 1-5 1 16 1-11 1-5 1 11 1-3 1-1 1-1 1 1 1-3 1 9 1-11 1-2 1-1 1 2 1-1 1-3 1 1 1 5 1-10 1 9 1-3 1 5 1-4 1 1 1 3 1-8 1 5 1 0 1-6 1 0 1 2 1-7 1 3 1 4 1-2 1-1 1-1 1 4 1 1 1-2 1-2 1 8 1-5 1 4 1-6 1 13 1-5 1 0 1-3 1-1 1 1 1 5 1-7 1 8 1-1 1 1 1-2 1 7 1 1 1 3 1-1 1-1 1 7 1-4 1 6 1 0 1 2 1 0 1-1 1 3 1-4 1 5 1-8 1 5 1-2 1 4 1-2 1-11 1 1 1-4 1-1 1 0 1-7 1 5 1-2 1-3 1-10 1 0 1 6 1 0 1-1 1 3 1 2 1-4 1 2 1 8 1 0 1 6 1-7 1 8 1-2 1 12 1-6 1 0 1 0 1 1 1-4 1 2 1-8 1 1 1-2 1-2 1-16 1 7 1 0 1-8 1 0 1-5 1-6 1 4 1 0 1-3 1 3 1 11 1-3 1 0 1 8 1 4 1-4 1 5 1 11 1-9 1 10 1-6 1 2 1-3 1 1 1 4 1-8 1 3 1-2 1-3 1 6 1 1 1-8 1 2 1-4 1 2 1 3 1-8 1 7 1-4 1 6 1-3 1-2 1-2 1-2 1 7 1-5 1 3 1 2 1-4 1 1 1 3 1 3 1 1 1 6 1-5 1 0 1 2 1-9 1 8 1-5 1 4 1-9 1 4 1-17 1 5 1 4 1-2 1-5 1 4 1-5 1-1 1-1 1-2 1 1 1 2 1-9 1 5 1-4 1-11 1 10 1-2 1 5 1-5 1 0 1 2 1 1 1-3 1 5 1-1 1-6 1 10 1-15 1 0 1 5 1-9 1 4 1-10 1 7 1-3 1 1 1-1 1-2 1 3"/><path id="p113" d="M0 773l1 0 1 0 1 0 1 0 1 0 1 0 1 0 1 0 1-14 1-45 1-16 1-8 1-2 1-1 1-6 1 4 1 6 1-2 1 9 1-3 1 1 1 3 1 1 1 5 1 0 1 3 1-6 1-5 1-3 1 1 1-2 1-10 1-2 1-6 1 0 1-4 1-1 1 1 1-4 1-3 1-1 1 1 1-3 1 0 1 5 1-8 1 1 1 6 1-9 1 0 1-1 1-4 1 8 1-5 1-2 1 0 1 2 1 4 1-10 1-3 1-1 1 3 1 0 1 3 1-2 1-3 1 3 1 4 1 1 1-3 1 13 1-5 1 3 1 2 1 4 1-4 1 0 1-4 1 7 1-3 1 1 1 0 1 4 1 1 1-5 1-1 1-1 1 2 1 5 1-4 1-1 1 1 1 3 1-3 1 4 1-9 1 8 1 1 1 5 1 0 1 1 1 7 1-6 1-2 1-2 1 8 1-3 1-8 1-8 1 10 1-9 1 1 1 0 1 5 1-12 1-1 1 5 1-1 1-1 1 1 1-2 1 4 1-2 1-3 1 10 1-7 1-3 1 3 1-4 1 4 1 2 1 3 1-7 1 1 1 0 1-1 1-1 1-8 1 8 1-3 1-7 1-2 1 2 1-5 1 4 1-4 1 2 1-1 1 0 1-2 1-4 1 6 1 2 1-3 1 0 1 0 1 2 1-6 1 1 1 2 1-7 1 0 1-2 1-1 1 6 1-10 1-1 1 5 1-1 1-6 1 3 1-3 1 9 1-3 1 4 1 1 1 3 1 2 1 7 1 2 1 1 1 2 1 2 1 5 1 0 1-2 1 0 1 9 1-9 1 2 1-3 1-6 1 2 1-4 1 2 1-8 1 2 1-8 1 1 1 0 1 6 1-2 1 5 1-6 1 2 1 3 1-2 1 8 1 0 1-5 1 4 1-1 1-1 1 3 1-1 1 5 1 1 1 1 1-2 1 1 1-2 1 1 1-1 1-1 1 0 1-1 1 0 1-11 1 3 1 3 1-4 1 3 1-3 1-5 1 3 1 3 1 3 1-1 1-1 1 8 1-1 1 0 1 2 1 4 1 3 1 0 1 3 1-4 1-2 1 5 1-4 1-1 1 4 1-4 1-1 1 4 1-2 1 1 1 1 1-5 1 5 1-10 1 6 1-5 1-2 1 0 1-4 1-4 1 4 1-6 1 0 1 7 1-6 1 1 1-1 1 3 1 2 1-12 1 9 1 2 1-2 1 1 1 4 1-6 1 4 1 2 1-1 1-5 1-5 1 5 1-4 1 0 1-3 1-1 1 4 1-1 1 1 1-3 1 3 1-4 1 3 1 2 1 5 1-5 1 5 1 6 1-2 1 11 1-5 1-2 1 1 1 4 1-4 1 5 1-3 1 0 1 4 1-10 1 6 1-13 1 13 1-8"/><path id="p114" d="M0 773l1 0 1 0 1 0 1 0 1 0 1 0 1 0 1 0 1-14 1-45 1-22 1-9 1-10 1-9 1 3 1-1 1 0 1 0 1-3 1-2 1 1 1-9 1 10 1-8 1-1 1 3 1 1 1-5 1-2 1 5 1 7 1-5 1 4 1-1 1-1 1 2 1 4 1-3 1 1 1 4 1-2 1-1 1 3 1 3 1-6 1 6 1 5 1-9 1 6 1 1 1 9 1 1 1-6 1-2 1 0 1 8 1-5 1-1 1 1 1-7 1 3 1 2 1-7 1 3 1-6 1 4 1-6 1-3 1-1 1 5 1 3 1-9 1 2 1-6 1 7 1-10 1 6 1-10 1 8 1-4 1 5 1-1 1-6 1 7 1 6 1-8 1 9 1-1 1-6 1 6 1 1 1-3 1 6 1-2 1-1 1 0 1 4 1-2 1-4 1 6 1-7 1 5 1 2 1 1 1 5 1-4 1 3 1 4 1-4 1 4 1 1 1 3 1-4 1-3 1 6 1-9 1-1 1-6 1-2 1-4 1-6 1-1 1 2 1-6 1-3 1-2 1-4 1-3 1 3 1 1 1-4 1 4 1 7 1-1 1 1 1 2 1 6 1-2 1-2 1 11 1 2 1 4 1-12 1 10 1-3 1 0 1 9 1-13 1 0 1 4 1-3 1 3 1 6 1-8 1 1 1 2 1-1 1-8 1 8 1-9 1 2 1 2 1-8 1 5 1 1 1 0 1-4 1 1 1 4 1-2 1 3 1 2 1 1 1 3 1-2 1 5 1 2 1-8 1 7 1-5 1 4 1-2 1 1 1 0 1 1 1-6 1-7 1 6 1-8 1 4 1-4 1-1 1 2 1-12 1 4 1-1 1 1 1 6 1-10 1 9 1 0 1-2 1 6 1-6 1 8 1 1 1-1 1-5 1 0 1 7 1-3 1 3 1-13 1 0 1 0 1-11 1 3 1-6 1 2 1-11 1-8 1-2 1 4 1 1 1 2 1 1 1-2 1 7 1-3 1 5 1 8 1 1 1-2 1-6 1 9 1 1 1-2 1-3 1 3 1-4 1 2 1-3 1-2 1 1 1-4 1 6 1 5 1 2 1 4 1-2 1 1 1-3 1 10 1-3 1-1 1 5 1-3 1-2 1 7 1-2 1 5 1-11 1 9 1-8 1 4 1 13 1-2 1-2 1-1 1 2 1 1 1-4 1-5 1 4 1-2 1-3 1 6 1-7 1-6 1 7 1-10 1 1 1-1 1-4 1 13 1-11 1 6 1-5 1 2 1 3 1 0 1-1 1 1 1 0 1-7 1 3 1-3 1 2 1-4 1-9 1 4 1 1 1 6 1-6 1-7 1 7 1-4 1-4 1 4 1-1 1 2 1 3 1-1 1 3 1-2 1 7 1 9 1-5 1 3 1 3 1-1 1-4"/><path id="p115" d="M0 773l1 0 1 0 1 0 1 0 1 0 1 0 1 0 1 0 1-10 1-40 1-19 1-9 1-6 1-5 1 0 1 6 1-5 1-2 1 5 1-4 1 3 1-3 1 5 1-4 1 5 1-3 1-6 1 0 1-1 1 7 1-6 1 0 1 1 1-3 1-3 1-3 1 3 1-5 1 7 1-10 1 8 1-2 1 2 1 0 1-1 1 5 1-3 1 2 1-2 1 1 1 1 1 7 1 5 1-2 1 3 1-4 1 3 1 1 1-8 1 3 1-1 1 2 1-2 1-5 1-2 1-6 1-2 1 2 1-7 1 4 1-7 1-7 1 9 1-8 1-2 1-5 1-4 1 3 1-2 1-7 1-1 1 0 1-1 1 4 1-11 1 4 1-2 1 2 1 3 1-4 1 3 1 1 1 0 1 5 1-1 1 12 1 3 1 4 1 5 1-1 1 6 1 2 1-3 1 3 1 2 1-5 1-2 1-5 1 1 1-1 1-3 1 2 1 2 1-10 1-7 1 3 1 2 1-6 1-1 1 2 1 1 1-3 1 0 1 4 1-8 1 6 1-6 1 8 1 1 1-7 1 1 1 5 1-3 1 3 1 6 1 0 1 1 1 5 1 6 1-9 1 10 1-4 1 5 1-9 1 2 1-2 1 6 1-8 1 8 1-3 1 6 1-7 1 8 1-5 1 0 1 3 1 3 1 4 1-3 1 5 1 8 1-2 1 5 1-7 1 0 1-6 1-5 1 7 1-4 1-9 1-2 1-8 1 2 1-11 1 2 1 4 1-6 1 5 1-1 1-4 1 2 1 1 1 2 1 0 1 0 1 1 1 0 1 8 1-10 1 4 1 5 1-1 1-1 1-5 1 2 1 2 1-8 1-7 1 4 1 4 1-8 1 8 1 2 1-5 1 0 1 9 1-4 1-3 1 9 1 1 1-3 1 1 1 8 1-5 1 5 1-3 1 0 1 1 1-5 1-1 1 3 1 1 1-5 1 1 1 2 1 1 1-5 1 0 1-5 1 12 1-2 1 2 1-3 1 3 1 1 1-8 1 4 1 4 1-4 1 0 1-3 1 4 1-3 1 0 1-2 1-1 1-5 1-2 1 5 1-5 1-2 1 3 1-4 1-6 1 6 1 0 1 2 1 0 1-4 1 1 1-1 1-2 1 3 1-7 1-5 1 9 1-6 1 1 1 1 1-4 1 9 1-6 1-2 1 2 1-2 1 9 1 0 1 5 1-2 1 0 1-10 1 11 1 0 1-4 1 9 1-12 1 5 1-2 1 3 1-2 1 7 1-1 1-8 1 8 1 1 1-4 1 3 1 1 1 7 1-5 1 4 1 2 1 9 1-8 1-1 1 3 1 0 1 10 1-9 1-2 1 3 1-5 1-1 1-1 1 3 1-15 1 9 1-3 1-1 1 5 1-4 1 3"/><path id="p116" d="M0 773l1 0 1 0 1 0 1 0 1 0 1 0 1 0 1 0 1-16 1-45 1-24 1-11 1-9 1 0 1 1 1 2 1-3 1 6 1 1 1-2 1 8 1-1 1 3 1-4 1 5 1 1 1-3 1 0 1 1 1 0 1 0 1-2 1-3 1-1 1-1 1 4 1-2 1-5 1-4 1 4 1-3 1-1 1 0 1-1 1 4 1 1 1-2 1-3 1-6 1 2 1 1 1 0 1-3 1-1 1-9 1 5 1-2 1-9 1 1 1 13 1-3 1 11 1-3 1 8 1-8 1 8 1 8 1 1 1 8 1-5 1 10 1-1 1 4 1-2 1-2 1 11 1-10 1-1 1 0 1-10 1 9 1-5 1-2 1 7 1-3 1-9 1-7 1 2 1-8 1-5 1-1 1-7 1-1 1 4 1-7 1 7 1 0 1-6 1 5 1-8 1 0 1 5 1-5 1 7 1-1 1-4 1 4 1 4 1-10 1 10 1-2 1-8 1 12 1-5 1-4 1 1 1 9 1-6 1-2 1-1 1 2 1-7 1 7 1-1 1-1 1-11 1 1 1 7 1-12 1 7 1 1 1 2 1 4 1 0 1-2 1-1 1 0 1-2 1 6 1 1 1 0 1 3 1-1 1 2 1-1 1 0 1-4 1-3 1 4 1 3 1-6 1 4 1 1 1-3 1 8 1-11 1 3 1-1 1 6 1 1 1-5 1-2 1 8 1-3 1 1 1-1 1 1 1 13 1-5 1-1 1 1 1 5 1-5 1 2 1 5 1 1 1 4 1-1 1-2 1-4 1 6 1-2 1-1 1-2 1-1 1-3 1-3 1 0 1-10 1 3 1-5 1-5 1-3 1 1 1 0 1 3 1-8 1-1 1 3 1-1 1 0 1 5 1-4 1 6 1 3 1-1 1-8 1 4 1 6 1-5 1-5 1 5 1-2 1-1 1-2 1 0 1-2 1-4 1-1 1-9 1-10 1 10 1-7 1 6 1-9 1 1 1-3 1-1 1 11 1-3 1-1 1 3 1 6 1 2 1-3 1 8 1-1 1 2 1 1 1 4 1 1 1 4 1 6 1 0 1 3 1-2 1 2 1 2 1 10 1-6 1 4 1 3 1-3 1 0 1 5 1-3 1-1 1-7 1 1 1-4 1-2 1 6 1-1 1-10 1 4 1 1 1-7 1 8 1-5 1-2 1 0 1-3 1 0 1 0 1-1 1-4 1 7 1-2 1-3 1 5 1 5 1 1 1 6 1-4 1 2 1 4 1 2 1 5 1 0 1 2 1 2 1 3 1 0 1-4 1 5 1 0 1-1 1 3 1-1 1-4 1 5 1 2 1-5 1-1 1-2 1 8 1-11 1 0 1-1 1 0 1 0 1-2 1 4 1-11 1 0 1-1 1 2 1-7 1-4 1 7 1-15 1 2"/><path id="p117" d="M0 773l1 0 1 0 1 0 1 0 1 0 1 0 1 0 1 0 1-2 1-46 1-14 1-11 1-1 1-10 1-2 1 5 1-6 1-7 1-2 1 0 1 0 1-9 1-10 1 5 1 4 1-6 1-4 1 8 1-6 1 3 1 2 1-3 1-4 1 13 1-10 1-6 1 3 1 6 1-7 1 17 1-13 1 1 1 5 1-6 1 6 1 5 1-6 1-2 1 7 1-1 1 4 1-3 1 0 1-2 1-4 1 0 1-1 1-4 1 1 1 0 1-4 1 3 1 0 1 1 1-5 1 5 1 4 1-4 1 2 1-3 1 6 1 7 1-2 1 8 1-2 1 1 1-1 1 2 1 2 1 5 1-1 1-3 1 5 1 3 1-9 1 11 1-9 1-1 1-1 1 1 1-5 1 3 1 0 1-4 1-2 1 6 1-4 1-8 1 9 1-4 1-5 1-1 1-10 1 7 1-1 1-4 1-5 1-2 1 1 1-6 1 3 1 0 1 2 1-3 1-1 1 3 1-2 1 11 1-6 1 1 1 7 1 7 1-2 1 12 1-13 1 7 1 0 1-3 1-2 1 3 1 1 1 0 1-9 1 7 1-1 1-1 1-6 1 1 1 6 1 0 1 2 1-10 1 2 1 8 1-1 1-1 1-5 1 4 1 2 1 2 1 3 1-5 1-2 1-2 1 1 1-4 1 1 1 6 1-4 1-6 1 0 1-2 1-5 1 2 1-1 1-1 1-5 1-5 1 4 1-5 1 1 1 2 1-1 1 0 1 4 1 0 1 7 1 2 1-5 1 12 1-2 1-4 1 8 1-5 1-1 1-9 1 0 1 0 1-1 1-2 1 1 1-4 1 2 1-4 1 2 1-1 1-3 1 1 1 8 1-3 1 2 1-1 1-1 1 3 1-2 1 0 1-4 1-3 1 8 1-11 1 7 1-4 1-1 1-3 1 2 1 5 1-4 1 2 1-3 1 0 1 1 1 1 1 3 1 3 1 0 1-3 1 0 1 3 1 4 1-3 1 6 1 3 1-4 1 6 1 0 1-1 1-2 1 5 1 2 1-11 1 7 1-1 1-2 1 1 1-1 1-9 1 2 1-5 1 6 1 1 1-12 1 0 1 6 1-6 1 0 1 3 1 0 1 4 1-1 1 4 1 0 1 0 1 4 1 5 1 11 1-2 1 1 1 4 1 0 1-8 1 4 1 1 1 1 1-3 1-3 1-6 1-1 1 0 1-5 1-12 1 7 1-2 1-9 1 9 1-15 1 10 1-2 1 0 1-4 1 2 1 0 1-7 1 9 1 2 1-1 1 4 1-2 1 3 1 0 1-1 1 9 1 1 1-1 1 0 1-2 1 7 1 1 1-7 1 1 1 1 1-6 1 0 1 0 1-2 1-2 1-1 1 2 1 7 1-9 1-6 1 13 1-4"/><path id="p118" d="M0 773l1 0 1 0 1 0 1 0 1 0 1 0 1 0 1 0 1-11 1-49 1-20 1-15 1-8 1-11 1-2 1-4 1 1 1-3 1 3 1-1 1-2 1 2 1 1 1 0 1-1 1 10 1 0 1 3 1-2 1-2 1 3 1-4 1 1 1-5 1 4 1-1 1-1 1-3 1 4 1-5 1 1 1 2 1 1 1 7 1-5 1 4 1 2 1-4 1-2 1 2 1-1 1-1 1-3 1-5 1 4 1 1 1 3 1-6 1 1 1 4 1-5 1 1 1-3 1 2 1-2 1 4 1 3 1 1 1-5 1 8 1 2 1-8 1 5 1 7 1 4 1-1 1 0 1 0 1 4 1-6 1 7 1-2 1-2 1 1 1-8 1 6 1-8 1-5 1-5 1 0 1-2 1 0 1-8 1-3 1 6 1 1 1 1 1 4 1 3 1 4 1-2 1 6 1 5 1 0 1 3 1 1 1 6 1-8 1 1 1 3 1-4 1 2 1 2 1-5 1 0 1-6 1-9 1 2 1-6 1 0 1-6 1-3 1 5 1-6 1-8 1 3 1 3 1-3 1 3 1 2 1-1 1 7 1 5 1 0 1-3 1 6 1 3 1 2 1 7 1-4 1 11 1-13 1 11 1 3 1-6 1 4 1-5 1 0 1-4 1-1 1-3 1 8 1-3 1-4 1 0 1-4 1 0 1 0 1-2 1-2 1-6 1 5 1 1 1-14 1 5 1-7 1 3 1 0 1 6 1-11 1 8 1-3 1 7 1-12 1 6 1-5 1 6 1 0 1 3 1-7 1 9 1-7 1 6 1-7 1 0 1-5 1 3 1-2 1 4 1-6 1 2 1 3 1 0 1 3 1-2 1 4 1 4 1 2 1 1 1 8 1 2 1 1 1-6 1 0 1 3 1-6 1 6 1-3 1-2 1-1 1-3 1-2 1 4 1-5 1-4 1 1 1 2 1-2 1 4 1 3 1-4 1-1 1 1 1-6 1 5 1 0 1-2 1 2 1 1 1-11 1 13 1-8 1 7 1-2 1-2 1 5 1 1 1 5 1 1 1 5 1 1 1 6 1 6 1-3 1 0 1 1 1 6 1-8 1 0 1-3 1-8 1-4 1-2 1-8 1 7 1-14 1 4 1 4 1-10 1-2 1-9 1 5 1 9 1-6 1-3 1 4 1 4 1-1 1 2 1 2 1 0 1-6 1 9 1-2 1 3 1-1 1 2 1 1 1-4 1-1 1-5 1-1 1 0 1 5 1-3 1 0 1-1 1-5 1 0 1 13 1-5 1 6 1-2 1 11 1-5 1 5 1-3 1 8 1 9 1-17 1 11 1 2 1-6 1-5 1-3 1 1 1 2 1-4 1-3 1 5 1-1 1-7 1 1 1-6 1 6 1-5 1 4 1-6 1 9 1-9 1 0 1 0"/><path id="p119" d="M0 773l1 0 1 0 1 0 1 0 1 0 1 0 1 0 1 0 1-6 1-44 1-21 1-10 1-7 1-8 1-9 1 0 1 0 1-10 1-2 1 3 1-8 1 5 1-8 1 5 1 2 1-5 1 7 1-3 1 5 1-3 1 2 1-1 1 1 1-5 1 1 1 0 1-1 1-2 1 1 1-2 1 1 1 1 1-1 1-1 1-2 1 13 1-4 1 8 1-7 1 5 1-3 1-2 1 0 1-4 1 4 1-4 1-3 1 2 1-3 1 6 1-1 1-5 1 9 1 2 1 4 1-1 1 2 1 5 1-3 1 4 1 5 1-1 1 5 1 4 1-11 1 2 1 8 1-7 1-1 1 11 1-12 1-4 1 0 1-6 1 1 1-4 1-2 1-4 1 4 1-1 1-9 1 5 1-1 1 1 1 2 1-4 1 2 1-2 1 1 1 7 1-6 1-2 1 2 1 4 1 1 1-1 1 8 1-4 1 1 1 1 1-1 1-4 1 0 1 3 1-4 1 1 1-6 1-5 1 0 1-6 1-3 1 0 1 1 1 0 1-7 1 2 1 1 1 3 1-2 1-9 1-1 1 4 1 0 1 3 1-2 1-2 1 13 1 4 1-6 1 7 1 0 1 0 1 6 1 4 1 1 1 3 1-2 1 7 1-5 1 6 1-3 1-2 1-1 1 1 1 0 1 1 1 1 1-4 1 0 1 1 1-9 1 7 1 0 1-6 1 5 1 5 1-6 1 0 1-3 1 8 1-8 1 3 1 1 1 3 1 0 1-9 1 3 1 1 1-6 1-2 1-6 1 4 1-3 1 1 1 2 1-2 1 1 1 1 1 5 1 5 1 1 1 3 1 3 1 8 1 2 1-4 1 11 1-3 1 3 1-3 1-5 1-3 1-8 1 1 1 1 1-1 1-4 1-1 1-2 1 1 1-11 1 2 1 7 1-1 1-9 1 3 1-2 1-6 1 5 1-2 1 6 1-2 1 1 1-8 1 7 1-2 1 5 1-2 1-1 1-1 1 1 1 5 1 5 1-1 1-2 1-2 1-6 1 3 1-3 1 0 1-8 1 9 1-10 1 5 1-9 1 4 1-6 1 5 1 7 1-2 1-1 1-1 1 1 1 3 1-5 1 5 1 4 1-4 1 8 1 3 1 0 1 1 1-2 1-2 1 3 1 3 1-5 1-1 1-2 1 4 1-3 1-5 1-1 1 3 1-1 1-9 1 2 1-1 1 0 1 0 1-1 1-6 1-7 1 2 1-5 1 2 1 3 1-9 1 2 1 1 1-5 1-7 1 8 1-4 1 4 1-1 1 6 1 7 1-1 1 3 1 5 1-2 1 1 1 0 1 8 1 4 1-1 1-1 1 7 1 3 1 0 1 3 1-2 1 10 1-11 1-1 1 5 1 3 1-2 1 2 1-8 1 4"/><path id="p120" d="M0 773l1 0 1 0 1 0 1 0 1 0 1 0 1 0 1 0 1-3 1-42 1-22 1-9 1-8 1-3 1 2 1-5 1-2 1-3 1-10 1 3 1 5 1-3 1 0 1 4 1-8 1 2 1 6 1-3 1 3 1 0 1-4 1 5 1-4 1 0 1-2 1 9 1-5 1 4 1 4 1-2 1 2 1 2 1-6 1 5 1-8 1-1 1 3 1-3 1 4 1-13 1-1 1-3 1-1 1-11 1 0 1-3 1 1 1-1 1 0 1 1 1 3 1-1 1 3 1 2 1 8 1 2 1 2 1-2 1 10 1-14 1 12 1 4 1-8 1-1 1 3 1 3 1 2 1-1 1-4 1-4 1 1 1 5 1-6 1 2 1 3 1 4 1 3 1-1 1 3 1-2 1 6 1-5 1 2 1 0 1-7 1-4 1-1 1-7 1 2 1-2 1 4 1-2 1-4 1-5 1-2 1 2 1 3 1-11 1 5 1 5 1-1 1 2 1 7 1-6 1 0 1 7 1 2 1 1 1 3 1-2 1-1 1-4 1 10 1-7 1 5 1-5 1 3 1-8 1-1 1 7 1-6 1-2 1-1 1 4 1 0 1 0 1 6 1-6 1 1 1 6 1-3 1-2 1 6 1 1 1 1 1 0 1 0 1-2 1-8 1 2 1-5 1 1 1-6 1 2 1-3 1-6 1 4 1-7 1 0 1-3 1-7 1 4 1 9 1-4 1 3 1 1 1-1 1 8 1-6 1 17 1-6 1 4 1 4 1 4 1-5 1 4 1 9 1-5 1-2 1 1 1-3 1 0 1-5 1 5 1-8 1 0 1 2 1-4 1 0 1-1 1 2 1-4 1 0 1-2 1-6 1 5 1 2 1-3 1-5 1 0 1-4 1 2 1-3 1-3 1 4 1-4 1-4 1 16 1-18 1 1 1 6 1-3 1 1 1-1 1-1 1-2 1 3 1-3 1 2 1 0 1-6 1 6 1-3 1 0 1 0 1 8 1 1 1-2 1 3 1 2 1 3 1 5 1-6 1 0 1 0 1 1 1-2 1 4 1-5 1 4 1-2 1 5 1-3 1 3 1 5 1-2 1-1 1 6 1 6 1-3 1 0 1 5 1-2 1 0 1 1 1 4 1-4 1 1 1-9 1 2 1 0 1 1 1-3 1-2 1 6 1 7 1-9 1-2 1 5 1 0 1-2 1-1 1 2 1 0 1-1 1 2 1 2 1-5 1-1 1 0 1-1 1 3 1-11 1-5 1 10 1-11 1 4 1-2 1 5 1-4 1-4 1 3 1 9 1-8 1 5 1 4 1-8 1 7 1 2 1 4 1-4 1 2 1-2 1 4 1-10 1-5 1 2 1-8 1 5 1-4 1 0 1-5 1-3 1-5 1 5 1 0 1-6 1 10 1-8 1 5 1-1 1-2"/><path id="p121" d="M0 773l1 0 1 0 1 0 1 0 1 0 1 0 1 0 1 0 1-19 1-51 1-20 1-14 1-5 1 4 1-4 1 5 1-4 1 0 1 7 1-4 1-4 1 4 1 5 1 0 1 5 1-3 1-7 1 5 1-4 1 4 1 5 1-9 1 1 1-4 1 5 1-1 1 2 1 3 1 7 1-2 1-5 1 9 1-4 1 1 1 0 1-4 1 7 1-8 1 0 1 0 1-6 1 0 1 1 1-5 1 1 1-1 1 4 1-12 1 4 1 0 1 0 1 4 1-10 1 11 1-3 1 1 1 5 1-6 1 7 1-2 1-9 1 7 1-4 1-2 1 1 1 3 1-6 1 7 1-4 1 6 1-2 1-4 1-4 1-2 1 3 1-3 1 2 1-5 1 0 1-3 1-1 1 2 1-7 1 7 1-1 1-5 1 13 1 1 1 9 1-2 1-3 1 2 1-6 1 6 1 9 1-5 1 1 1-2 1-5 1 5 1 1 1-2 1-2 1-5 1-1 1-5 1 10 1-5 1-8 1 0 1 0 1-6 1 0 1-7 1 1 1-5 1 7 1-11 1-4 1 8 1-8 1 7 1-4 1-4 1 11 1-4 1 2 1 0 1 2 1 8 1-5 1-1 1 6 1 2 1 6 1-6 1 0 1 7 1-5 1-1 1 3 1-2 1 5 1-4 1 5 1-1 1 3 1-3 1-6 1 0 1-1 1 0 1 7 1-11 1 9 1-3 1 6 1 0 1 1 1 7 1-5 1 2 1 14 1-6 1 5 1 1 1 2 1 1 1-8 1 7 1-4 1-9 1 2 1 2 1-5 1-6 1-6 1 1 1-8 1 3 1-1 1-5 1 3 1-4 1 2 1 3 1 2 1 0 1 6 1-1 1 4 1 0 1 6 1-7 1 5 1-4 1 6 1-7 1 4 1-8 1 4 1-7 1 0 1-7 1-1 1 1 1-3 1 6 1-8 1 8 1-3 1-1 1 9 1-3 1 3 1 3 1-1 1 2 1-1 1 4 1 2 1-6 1 4 1 1 1-2 1-9 1 5 1 0 1-1 1-1 1-2 1-4 1 3 1-2 1-1 1-2 1 1 1-2 1-5 1-1 1 1 1-4 1-8 1 4 1-2 1-2 1-3 1 8 1 0 1-7 1 11 1 1 1-3 1 8 1-5 1-4 1 12 1 5 1 2 1 2 1 3 1-4 1-2 1 7 1-1 1 2 1-2 1-3 1 5 1-7 1 0 1 0 1-5 1 1 1-2 1 9 1 1 1-4 1 5 1-1 1 3 1 1 1 11 1-9 1 5 1-6 1 6 1-6 1 2 1-4 1 5 1-7 1-1 1 1 1-3 1-4 1 11 1-6 1-2 1-1 1 3 1 5 1-9 1 15 1 1 1 1 1-5 1 2 1-1 1-2 1 5 1-4"/></g>
</defs>
<rect width="685" height="401" fill="#fff"/>
<g clip-path="url(#ctl)" fill="none" stroke-linejoin="round">
<path d="M21.8 3.6l.4 0 0 2.9.6 0 0 2.9.4 0 0 2.9.6 0 0 2.9.4 0 0 1.4.6 0 0 2.9.4 0 0 2.9.6 0 0-1.4.4 0 0 5.8.6 0 0 2.9.4 0 0 1.4.6 0 0 2.9.4 0 0 4.4 1 0 0-4.4.6 0 0 4.4 1 0 0 4.3 1 0 0 1.5.4 0 0 1.4.6 0 0 1.5.4 0 0 2.9.6 0 0-1.5.4 0 0 1.5.6 0 0 1.4 1 0 0-4.3.4 0 0 1.4.6 0 0-5.8.4 0 0-1.4.6 0 0 1.4.4 0 0 2.9.6 0 0 2.9.4 0 0 1.5.6 0 0 1.4.4 0 0-2.9.6 0 0 2.9.4 0 0-1.4 1 0 0-5.8.6 0 0-2.9.4 0 0-1.5.6 0 0 1.5.4 0 0-2.9.6 0 0 4.3.4 0 0 4.4.6 0 0 2.9 1 0 0 4.3 1 0 0 1.5.4 0 0-1.5.6 0 0-1.4.4 0 0-2.9 1 0 0 1.4.6 0 0 1.5 2 0 0-1.5.4 0 0 2.9.6 0 0-2.9.4 0 0-2.9 1 0 0-4.3.6 0 0 1.4 1 0 0-1.4 1 0 0 2.9.4 0 0 2.9.6 0 0 1.4.4 0 0 4.4 1 0 0-2.9.6 0 0 1.4.4 0 0 1.5.6 0 0-4.4.4 0 0 2.9.6 0 0-1.4.4 0 0 1.4.6 0 0-2.9.4 0 0 1.5.6 0 0 1.4.4 0 0 2.9 1 0 0-1.4.6 0 0 1.4.4 0 0 1.5.6 0 0-2.9.4 0 0-7.3 1 0 0 5.8.6 0 0-1.4.4 0 0-4.4.6 0 0 2.9.4 0 0-2.9.6 0 0 1.5.4 0 0 1.4.6 0 0-2.9.4 0 0 2.9.6 0 0 2.9.4 0 0-1.4.6 0 0 2.9.4 0 0-1.5.6 0 0 1.5.4 0 0 2.9.6 0 0-4.4.4 0 0-1.4 1 0 0-2.9.6 0 0-1.5 1.4 0 0-1.4 1 0 0 1.4.6 0 0 1.5 1 0 0 2.9.4 0 0-4.4 1.6 0 0 1.5.4 0 0-2.9.6 0 0 4.3.4 0 0-2.9.6 0 0 1.5.4 0 0 1.4.6 0 0 2.9.4 0 0-2.9 1 0 0 1.5.6 0 0 1.4.4 0 0 2.9 1 0 0-1.4.6 0 0-2.9.4 0 0 5.8.6 0 0-4.4.4 0 0 2.9.6 0 0 2.9.4 0 0 1.5.6 0 0 1.4.4 0 0 1.5.6 0 0-2.9.4 0 0-1.5.6 0 0-5.8.4 0 0 1.5.6 0 0-4.4 1 0 0 2.9.4 0 0-1.4.6 0 0 1.4.4 0 0-1.4 1 0 0-1.5.6 0 0-5.8 1 0 0 1.5.4 0 0 1.4.6 0 0 1.5 1 0 0 1.4.4 0 0 1.5 1 0 0 1.4.6 0 0-4.3 1 0 0 1.4.4 0 0 2.9.6 0 0-1.4.4 0 0-2.9.6 0 0 1.4.4 0 0 4.4.6 0 0-1.5.4 0 0-1.4 1.6 0 0 2.9.4 0 0 1.4 1 0 0-2.9.6 0 0 2.9.4 0 0-1.4.6 0 0-2.9.4 0 0-1.5.6 0 0-1.4 1 0 0-1.5.4 0 0 1.5 1 0 0 1.4 1.6 0 0 1.5 1.4 0 0 4.3.6 0 0-1.4.4 0 0-4.4.6 0 0 4.4 1 0 0 4.3 1 0 0-1.4.4 0 0 5.8.6 0 0-1.5 1 0 0-2.9.4 0 0 2.9.6 0 0-1.4 1 0 0 1.4.4 0 0-4.3 1 0 0 1.4.6 0 0 2.9 1 0 0-2.9.4 0 0 2.9.6 0 0-4.3.4 0 0-1.5.6 0 0-1.4.4 0 0-4.4.6 0 0 5.8 1 0 0-1.4.4 0 0-2.9.6 0 0-2.9 1 0 0 1.4.4 0 0-2.9 1 0 0 1.5 1 0 0-2.9.6 0 0 2.9.4 0 0 1.4.6 0 0 1.5.4 0 0-1.5.6 0 0-4.3 1 0 0 1.4.4 0 0 5.8.6 0 0 4.4 1 0 0-4.4.4 0 0-1.4.6 0 0 1.4 1.4 0 0 2.9.6 0 0-4.3.4 0 0-2.9 1 0 0-2.9.6 0 0 7.2.4 0 0-1.4.6 0 0-2.9.4 0 0 2.9.6 0 0 1.4 1.4 0 0 1.5 1 0 0-1.5.6 0 0 1.5.4 0 0 1.4 1 0 0 1.5 1 0 0-1.5 1 0 0 1.5.6 0 0-1.5.4 0 0 1.5.6 0 0 1.4.4 0 0-5.8 4.6 0 0-2.9.4 0 0-1.4.6 0 0 1.4.4 0 0-5.8.6 0 0 2.9.4 0 0-1.4.6 0 0 1.4.4 0 0-5.8 1 0 0 2.9 1 0 0 2.9.6 0 0-1.4.4 0 0-1.5.6 0 0-1.4.4 0 0 2.9 3 0 0-1.5.6 0 0 1.5 2 0 0 4.3.4 0 0-1.4.6 0 0 1.4.4 0 0 2.9 1 0 0-1.4.6 0 0 1.4.4 0 0-4.3.6 0 0-4.4.4 0 0 1.5 1.6 0 0 2.9.4 0 0 2.9.6 0 0-1.5.4 0 0-1.4.6 0 0-2.9.4 0 0 1.4.6 0 0-2.9.4 0 0 2.9.6 0 0-1.4.4 0 0 1.4.6 0 0-2.9.4 0 0 4.4 1 0 0 2.9 1 0 0-4.4.6 0 0-1.4.4 0 0-1.5.6 0 0 5.8.4 0 0-2.9 1 0 0 1.5.6 0 0 1.4.4 0 0 1.5 1 0 0-4.4 1 0 0-4.3.6 0 0 4.3 1 0 0-1.4 2 0 0-1.5.4 0 0 1.5 1 0 0-4.4.6 0 0-4.3.4 0 0 4.3.6 0 0 2.9.4 0 0-4.3.6 0 0 2.9 1 0 0 1.4.4 0 0-4.3.6 0 0 4.3.4 0 0 1.5.6 0 0 2.9.4 0 0 1.4.6 0 0 2.9.4 0 0 2.9.6 0 0-1.4 1 0 0-2.9 1.4 0 0-2.9.6 0 0 2.9.4 0 0 1.4.6 0 0-4.3.4 0 0-2.9.6 0 0 2.9 1 0 0 4.3.4 0 0 1.5.6 0 0 2.9.4 0 0 1.4.6 0 0 2.9.4 0 0-2.9 1 0 0-1.4.6 0 0 1.4.4 0 0-1.4.6 0 0 1.4.4 0 0-1.4.6 0 0-4.4 1 0 0-4.3.4 0 0 1.4.6 0 0 1.5.4 0 0-2.9.6 0 0-4.4 2.4 0 0 1.5.6 0 0-1.5.4 0 0 4.4 1 0 0 1.4.6 0 0 1.5 1.4 0 0-1.5 1.6 0 0 1.5.4 0 0-2.9.6 0 0-1.5.4 0 0-1.4 1 0 0 4.3 1 0 0-1.4 1 0 0 2.9.6 0 0-2.9.4 0 0 1.4.6 0 0-4.3.4 0 0-2.9.6 0 0 4.3.4 0 0 2.9 1 0 0-1.4.6 0 0 1.4.4 0 0-1.4.6 0 0 4.3 1 0 0 1.5.4 0 0-2.9.6 0 0 1.4 1 0 0-2.9 1.4 0 0 1.5.6 0 0 2.9 1 0 0 5.8.4 0 0-4.4.6 0 0 1.5.4 0 0-4.4.6 0 0-1.4.4 0 0-2.9.6 0 0 2.9.4 0 0-1.5 1.6 0 0 1.5 1 0 0 1.4.4 0 0 4.4 1 0 0-1.5.6 0 0-1.4.4 0 0 2.9 1 0 0-2.9.6 0 0-2.9.4 0 0 1.4.6 0 0-2.9.4 0 0 4.4.6 0 0-1.5.4 0 0-1.4 1 0 0-5.8.6 0 0-1.5 1 0 0 1.5.4 0 0-2.9.6 0 0 4.3 1 0 0 2.9.4 0 0 1.5.6 0 0-2.9.4 0 0 4.3.6 0 0-1.4.4 0 0-5.8.6 0 0-4.4.4 0 0 1.5.6 0 0 2.9 1 0 0 2.9.4 0 0-1.5 1 0 0 1.5.6 0 0-2.9.4 0 0 1.4 1 0 0 1.5.6 0 0 1.4.4 0 0 1.5.6 0 0-2.9 1 0 0 1.4.4 0 0-1.4.6 0 0 1.4.4 0 0 1.5.6 0 0 1.4 2 0 0 1.5.4 0 0-1.5 1 0 0-1.4.6 0 0 1.4.4 0 0 2.9.6 0 0 1.5.4 0 0 2.9 1 0 0 2.9.6 0 0-2.9 1 0 0-1.5.4 0 0-1.4.6 0 0-2.9.4 0 0 1.4 1.6 0 0 5.8.4 0 0-2.9.6 0 0-1.4 1 0 0-2.9.4 0 0-1.5 1 0 0-1.4 1.6 0 0 1.4.4 0 0-4.3.6 0 0 5.8 1 0 0 1.4.4 0 0-1.4.6 0 0-2.9.4 0 0 1.4.6 0 0 1.5.4 0 0 1.4.6 0 0-1.4.4 0 0-1.5.6 0 0 2.9 1 0 0 1.5.4 0 0-1.5 1 0 0-2.9.6 0 0 2.9.4 0 0 1.5 1 0 0-4.4 1 0 0-1.4.6 0 0 1.4 1 0 0 2.9.4 0 0-1.4.6 0 0-1.5.4 0 0-1.4.6 0 0-2.9.4 0 0 2.9.6 0 0-1.5.4 0 0 1.5 1 0 0-1.5.6 0 0 2.9.4 0 0 2.9.6 0 0-2.9 1.4 0 0 1.5.6 0 0-1.5.4 0 0-1.4 1 0 0 1.4.6 0 0 1.5.4 0 0-1.5.6 0 0 2.9 1 0 0-2.9.4 0 0-4.3 1 0 0-5.8.6 0 0 2.9.4 0 0 1.4.6 0 0 2.9 1 0 0-4.3 1 0 0 2.9.4 0 0-4.4.6 0 0 1.5.4 0 0 1.4.6 0 0 1.5" stroke="#1f77b4" stroke-width="1.6"/>
<path d="M21.8 184.8l.6 0 0-1.4.8 0 0-5.8.6 0 0-5.8.7 0 0-5.8.7 0 0 1.4.7 0 0 8.7.7 0 0 7.3 4.2 0 0-1.5.7 0 0 1.5 11.9 0 0-1.5.7 0 0 1.5 8.4 0 0-1.5.7 0 0 1.5 17.5 0 0-1.5.7 0 0 1.5 2.8 0 0-1.5.7 0 0 1.5 9.8 0 0-1.5.7 0 0 1.5 72.1 0 0-1.5.7 0 0 1.5 81.9 0 0-1.5.7 0 0 1.5 46.2 0 0-1.5.7 0 0 1.5 40.6 0" stroke="#ff7f0e" stroke-width="1.5"/>
<path d="M21.8 184.8l5 0 0-1.4.4 0 0-1.5.6 0 0-2.9.4 0 0-1.4.6 0 0-3 1 0 0-1.4 1 0 0-2.9.4 0 0-2.9.6 0 0-2.9.4 0 0 2.9 1.6 0 0-1.4.4 0 0 1.4.6 0 0-1.4.4 0 0-1.5.6 0 0 1.5.4 0 0-3 .6 0 0 3 .4 0 0 1.4 2 0 0 2.9 1 0 0-1.4.6 0 0-1.5.4 0 0 1.5.6 0 0-4.4.4 0 0-1.5.6 0 0 1.5 1.4 0 0-1.5.6 0 0 3 .4 0 0-1.5.6 0 0-1.5 2 0 0-1.4.4 0 0 1.4.6 0 0 1.5 1 0 0 1.5.4 0 0 1.4.6 0 0 1.5.4 0 0-1.5.6 0 0 1.5.4 0 0-1.5 1 0 0 1.5 1 0 0-1.5.6 0 0 1.5.4 0 0-1.5 1 0 0-1.4 1 0 0-1.5.6 0 0 2.9 1.4 0 0-1.4 1 0 0-3 2 0 0-1.4 1 0 0 1.4.6 0 0 3 .4 0 0-1.5.6 0 0 2.9.4 0 0-1.4 1 0 0 1.4 1 0 0-1.4.6 0 0 1.4 1 0 0-1.4 4 0 0 1.4 1 0 0-1.4.4 0 0-1.5.6 0 0 1.5.4 0 0-1.5 1.6 0 0 2.9 1 0 0-1.4.4 0 0 1.4.6 0 0-1.4.4 0 0 1.4 2.6 0 0-1.4.4 0 0 1.4 1.6 0 0 2.9.4 0 0-1.4 1 0 0 1.4.6 0 0-1.4.4 0 0-1.5 1 0 0 1.5 1 0 0-1.5.6 0 0-1.4.4 0 0 1.4 1 0 0-1.4 1 0 0-3 .6 0 0 1.5.4 0 0-1.5.6 0 0-1.4 2 0 0-1.4.4 0 0 1.4.6 0 0-2.9.4 0 0 1.5.6 0 0 1.4.4 0 0 1.4.6 0 0 3 .4 0 0 1.4 1 0 0 1.5.6 0 0 1.4 2.4 0 0-1.4 1.6 0 0-1.5.4 0 0 1.5.6 0 0 1.4.4 0 0 1.5.6 0 0-1.5.4 0 0 1.5.6 0 0 1.4.4 0 0-2.9 1 0 0 1.5 1.6 0 0-1.5.4 0 0-1.4.6 0 0 1.4 1 0 0 1.5.4 0 0 1.4 1 0 0-1.4 1.6 0 0-1.5.4 0 0 1.5.6 0 0-1.5.4 0 0-2.9 1 0 0-1.4 2 0 0 1.4.6 0 0-1.4 1 0 0-1.5.4 0 0-1.5.6 0 0 1.5.4 0 0-1.5.6 0 0-1.4.4 0 0-1.4.6 0 0 1.4.4 0 0-1.4.6 0 0-1.5.4 0 0 1.5.6 0 0-1.5.4 0 0-2.9.6 0 0 2.9.4 0 0 1.5.6 0 0-3 .4 0 0-1.4.6 0 0 1.4 1 0 0-1.4.4 0 0-1.4.6 0 0 4.3.4 0 0 1.5.6 0 0-1.5.4 0 0-1.5.6 0 0 1.5.4 0 0-1.5.6 0 0 1.5.4 0 0 1.5 1 0 0-1.5 1.6 0 0 1.5 1.4 0 0 1.4 1 0 0 1.4.6 0 0-1.4 1.4 0 0-1.4.6 0 0 1.4.4 0 0 1.4 1 0 0-4.3 1 0 0 1.5.6 0 0-1.5 1 0 0 1.5.4 0 0-1.5 1 0 0 1.5.6 0 0-1.5.4 0 0 1.5.6 0 0-1.5 1 0 0 1.5.4 0 0-1.5.6 0 0-2.9.4 0 0-1.4 1.6 0 0 1.4.4 0 0 1.4 1.6 0 0 1.5.4 0 0 1.5.6 0 0-1.5 1.4 0 0-1.5.6 0 0-2.8 1.4 0 0-1.5 1 0 0-1.4.6 0 0 1.4.4 0 0 1.5.6 0 0-1.5.4 0 0-1.4 1 0 0 1.4.6 0 0 2.9 1 0 0 1.4.4 0 0 3 .6 0 0-1.5 1.4 0 0-2.9.6 0 0-1.4 1 0 0-1.5.4 0 0 1.5.6 0 0 1.4 1 0 0 1.4.4 0 0 1.5 1.6 0 0-1.5 1 0 0 1.5.4 0 0 1.5.6 0 0-1.5.4 0 0 2.9.6 0 0-1.4 1 0 0 1.4 1 0 0-1.4 1 0 0 1.4.4 0 0-4.4 1 0 0-1.4.6 0 0 1.4.4 0 0 1.5 2 0 0 2.9 1 0 0 1.4.6 0 0-1.4.4 0 0-1.4 2 0 0-1.5.6 0 0-1.5 2 0 0 1.5 1 0 0 1.5 1.4 0 0-1.5 1 0 0 2.9 1 0 0 1.4 2 0 0-1.4 1 0 0-1.4.6 0 0-1.5.4 0 0 1.5.6 0 0-3 .4 0 0 1.5.6 0 0 4.3.4 0 0-2.8.6 0 0 2.8 2 0 0 1.5.4 0 0 2.9.6 0 0-1.4 1 0 0-1.5 1 0 0-1.5.4 0 0 1.5.6 0 0-1.5 1 0 0-1.4.4 0 0 1.4 2.6 0 0-1.4.4 0 0 2.9.6 0 0-1.5 1 0 0 3 .4 0 0-3 .6 0 0 1.5 1 0 0-1.5.4 0 0-1.4 1 0 0-1.4.6 0 0 1.4.4 0 0-1.4.6 0 0-1.5 5.4 0 0-1.5.6 0 0 1.5 1 0 0 1.5.4 0 0-1.5.6 0 0 2.9 1 0 0 1.4.4 0 0-1.4.6 0 0 1.4.4 0 0-1.4.6 0 0-1.4.4 0 0 1.4.6 0 0 1.4.4 0 0 1.5.6 0 0-1.5.4 0 0-1.4 1.6 0 0 1.4.4 0 0 1.5.6 0 0-1.5 1.4 0 0-1.4.6 0 0 1.4 1.4 0 0 1.5 1.6 0 0 1.5 1.4 0 0 1.4.6 0 0-1.4.4 0 0-1.5.6 0 0-1.5 1 0 0 1.5.4 0 0 1.5.6 0 0-1.5 1.4 0 0-2.9.6 0 0 1.4.4 0 0-1.4 1.6 0 0-1.4.4 0 0 1.4 1 0 0-1.4 1.6 0 0 1.4 1 0 0-1.4.4 0 0 1.4.6 0 0-1.4 3 0 0-1.5 1 0 0-1.5.4 0 0-1.4 2 0 0 1.4 1 0 0 1.5 1 0 0-2.9.6 0 0 2.9.4 0 0 1.5 1 0 0 1.4.6 0 0-1.4.4 0 0 1.4.6 0 0-1.4.4 0 0-1.5.6 0 0 4.3.4 0 0-2.8.6 0 0 1.4.4 0 0 1.4.6 0 0-1.4.4 0 0 1.4 1.6 0 0-1.4.4 0 0-1.4.6 0 0 1.4.4 0 0-1.4.6 0 0 1.4.4 0 0 1.4.6 0 0-1.4.4 0 0 1.4 1.6 0 0-1.4.4 0 0 1.4 1 0 0 1.5.6 0 0-1.5.4 0 0 1.5.6 0 0 1.5.4 0 0-1.5.6 0 0-1.5 1 0 0 1.5.4 0 0-1.5.6 0 0 1.5.4 0 0-1.5 2.6 0 0-1.4.4 0 0-1.4.6 0 0 1.4.4 0 0-1.4 1.6 0 0-3 .4 0 0 3 .6 0 0-1.5 2 0 0 1.5.4 0 0 1.4.6 0 0-1.4.4 0 0 1.4.6 0 0 1.4.4 0 0-1.4 1.6 0 0 1.4.4 0 0-1.4.6 0 0 1.4.4 0 0-2.8 2.6 0 0 4.3 1 0 0-1.5 2 0 0 1.5 2 0 0 1.5.4 0 0 1.4 3 0 0-1.4.6 0 0-1.5.4 0 0 1.5.6 0 0-1.5.4 0 0-1.5 1 0 0-1.4.6 0 0 1.4.4 0 0-1.4 1.6 0 0 1.4 2 0 0-2.8.4 0 0 1.4 1 0 0-1.4.6 0 0-1.5 1 0 0-1.5 1 0 0 1.5.4 0 0 1.5 2 0 0 1.4.6 0 0-1.4.4 0 0 1.4.6 0 0 1.4 2.4 0 0 1.5 1 0 0-1.5 1.6 0 0-1.4.4 0 0 1.4.6 0 0-2.8 1 0 0 1.4" stroke="#2ca02c" stroke-width="1.6"/>
<path d="M21.8 184.8l3 0 0-2.9.4 0 0-5.8.6 0 0-1.5.4 0 0-1.4.6 0 0-1.4 6 0 0 1.4.4 0 0-1.4 1 0 0 1.4.6 0 0-1.4.4 0 0 1.4 3 0 0 1.4.6 0 0-1.4 1.4 0 0 1.4.6 0 0-1.4 2 0 0 1.4.4 0 0-1.4.6 0 0 1.4 1 0 0-1.4.4 0 0 1.4 3.6 0 0-1.4.4 0 0 1.4.6 0 0 1.5 1 0 0-1.5 2 0 0 1.5.4 0 0-1.5 3 0 0 1.5.6 0 0-1.5 1.4 0 0 1.5 4 0 0 1.5.6 0 0-1.5 4.4 0 0 1.5 7.6 0 0 1.4 1.4 0 0-1.4 1 0 0 1.4 1 0 0-2.9.6 0 0 2.9 1.4 0 0-1.4 1.6 0 0 1.4.4 0 0-1.4 1 0 0-1.5.6 0 0 1.5 1 0 0-1.5 1.4 0 0-1.5.6 0 0 1.5 1 0 0 1.5.4 0 0-1.5.6 0 0 1.5 2 0 0-1.5.4 0 0 1.5.6 0 0 1.4.4 0 0-2.9.6 0 0 1.5.4 0 0 1.4.6 0 0-1.4 1 0 0 1.4.4 0 0-1.4.6 0 0 1.4 1 0 0-1.4.4 0 0 2.9.6 0 0-1.5 3 0 0-1.4.4 0 0 1.4 2.6 0 0-1.4.4 0 0 1.4.6 0 0-1.4 1 0 0 1.4.4 0 0-1.4 3 0 0-1.5.6 0 0 1.5.4 0 0-3 .6 0 0 3 .4 0 0-1.5 1.6 0 0 1.5.4 0 0-1.5.6 0 0-1.5.4 0 0 1.5 1 0 0 1.5.6 0 0 1.4.4 0 0-1.4.6 0 0 1.4 1 0 0 1.5.4 0 0-2.9.6 0 0 1.4 2.4 0 0 1.5 1.6 0 0-1.5.4 0 0 1.5.6 0 0-1.5 1 0 0 1.5.4 0 0-1.5.6 0 0 1.5 1 0 0-1.5.4 0 0 1.5 1 0 0 1.4 1.6 0 0-1.4.4 0 0 1.4.6 0 0-1.4 1 0 0-1.5 4 0 0 1.5.4 0 0 1.4 1.6 0 0-1.4 1 0 0 1.4.4 0 0 1.5 1 0 0-1.5 2 0 0-1.4.6 0 0 2.9 1.4 0 0-1.5 1 0 0 1.5 1 0 0-1.5 1 0 0 1.5 4 0 0-1.5.6 0 0 1.5 2.4 0 0-1.5.6 0 0 1.5 3 0 0-1.5.4 0 0 1.5 6.6 0 0 1.4.4 0 0-2.9.6 0 0 1.5.4 0 0 1.4.6 0 0-1.4 6 0 0-1.5 1 0 0 1.5.4 0 0 1.4.6 0 0-1.4 2 0 0-1.5.4 0 0 1.5.6 0 0-1.5 4.4 0 0-1.4.6 0 0 1.4 1.4 0 0 1.5.6 0 0-1.5.4 0 0 1.5 1 0 0 1.4.6 0 0-1.4 1 0 0-1.5 1 0 0 1.5 1 0 0-2.9.4 0 0 1.4 1 0 0-1.4 3 0 0 1.4.6 0 0-2.9 1.4 0 0 1.5.6 0 0-1.5 1.4 0 0 1.5.6 0 0-1.5 1 0 0 1.5.4 0 0-1.5.6 0 0 1.5.4 0 0-1.5.6 0 0 1.5 3 0 0 1.4.4 0 0-1.4.6 0 0 1.4 2 0 0-1.4.4 0 0 1.4.6 0 0-1.4.4 0 0 1.4 1 0 0-1.4 1 0 0 1.4.6 0 0-1.4.4 0 0 1.4.6 0 0-1.4.4 0 0 1.4 1.6 0 0-1.4.4 0 0 1.4 1 0 0-1.4.6 0 0 1.4 1 0 0-1.4.4 0 0 1.4.6 0 0-1.4.4 0 0 1.4 2 0 0-1.4.6 0 0 1.4 1 0 0-1.4 1 0 0 2.9.4 0 0-1.5.6 0 0 1.5.4 0 0-1.5 1 0 0 1.5.6 0 0-1.5 1.4 0 0-1.4.6 0 0 1.4.4 0 0-1.4.6 0 0 1.4.4 0 0-1.4.6 0 0 1.4.4 0 0-1.4.6 0 0 1.4.4 0 0-1.4.6 0 0 1.4 2 0 0 1.5.4 0 0-1.5 1.6 0 0 1.5 1.4 0 0-1.5.6 0 0 1.5.4 0 0-1.5.6 0 0 1.5 1.4 0 0 1.4.6 0 0-1.4 1 0 0 1.4 1 0 0-1.4.4 0 0 1.4.6 0 0-1.4.4 0 0 1.4 83.6 0" stroke="#d62728" stroke-width="1.6"/>
<path d="M21.8 184.8l231 0 0-1.4 5 0 0-1.5 2 0 0 1.5 5 0 0 1.4 64 0" stroke="#9467bd" stroke-width="1.6"/>
<path d="M21.8 184.8l3 0 0-1.4.4 0 0-2.9.6 0 0-1.5 1 0 0-1.4 1 0 0-1.5 1 0 0-1.5 1 0 0 3 .4 0 0 1.4.6 0 0-1.4 1 0 0-1.5.4 0 0-1.5.6 0 0-2.8.4 0 0-2.9 2.6 0 0-2.9.4 0 0 1.4.6 0 0 1.5 3 0 0 1.4 1 0 0 1.5 2 0 0 1.4 1 0 0-1.4.4 0 0 1.4 1.6 0 0-1.4 1 0 0 1.4.4 0 0-4.3.6 0 0 1.4.4 0 0-1.4 1 0 0 1.4 1 0 0-1.4 1 0 0 1.4 1 0 0 1.5.6 0 0-1.5.4 0 0-2.9 1.6 0 0-1.4 1 0 0 1.4.4 0 0-1.4.6 0 0 1.4.4 0 0-1.4.6 0 0-1.5.4 0 0-1.5.6 0 0 1.5.4 0 0-1.5 1 0 0-2.8 1 0 0 1.4.6 0 0-2.9.4 0 0 2.9.6 0 0 1.4 2 0 0 3 1 0 0-1.5.4 0 0 1.5.6 0 0-1.5 1 0 0-1.5.4 0 0 1.5.6 0 0-1.5.4 0 0 1.5.6 0 0-1.5.4 0 0 1.5 2 0 0 1.5 1 0 0-1.5.6 0 0 1.5.4 0 0-1.5 1.6 0 0-1.5.4 0 0 1.5.6 0 0-1.5 1 0 0-1.4 1 0 0 1.4 1 0 0-2.8.4 0 0 2.8 1.6 0 0-1.4.4 0 0 1.4.6 0 0-1.4.4 0 0 1.4 1.6 0 0-2.8.4 0 0-1.5.6 0 0 1.5 2 0 0 1.4 1 0 0-1.4.4 0 0-1.5 2.6 0 0 1.5.4 0 0-1.5.6 0 0 1.5.4 0 0 1.4.6 0 0-1.4 2 0 0 1.4.4 0 0-1.4.6 0 0-1.5 2 0 0 2.9.4 0 0 1.4 1 0 0-1.4.6 0 0-1.4 1.4 0 0 1.4 1 0 0-1.4.6 0 0-1.5 1.4 0 0 1.5.6 0 0-1.5 1 0 0-1.5.4 0 0 1.5.6 0 0-1.5 1.4 0 0-2.8.6 0 0 1.4.4 0 0 1.4.6 0 0 1.5.4 0 0 1.5.6 0 0 1.4 2 0 0 1.4.4 0 0-1.4 2 0 0-1.4.6 0 0 1.4 1 0 0-1.4.4 0 0 1.4.6 0 0-1.4.4 0 0 1.4 2 0 0-1.4 2.6 0 0-1.5.4 0 0 1.5.6 0 0 1.4 2 0 0 1.4 1 0 0-1.4 2.4 0 0-1.4 2 0 0 2.8.6 0 0 1.5 1 0 0-1.5 1 0 0 1.5.4 0 0 1.5.6 0 0 1.4 2 0 0-1.4.4 0 0-1.5.6 0 0-1.5 1 0 0 3 .4 0 0-1.5.6 0 0-1.5.4 0 0 4.4.6 0 0-1.4 1 0 0 1.4 1 0 0-2.9 1 0 0-1.5 2 0 0-1.4 2 0 0 1.4 1 0 0-1.4.4 0 0 1.4 1 0 0-1.4.6 0 0 1.4 1 0 0 3 .4 0 0-1.5.6 0 0-1.5.4 0 0 1.5.6 0 0-1.5.4 0 0-1.4.6 0 0 2.9.4 0 0 1.5 1 0 0 1.4.6 0 0 1.5.4 0 0-1.5.6 0 0 1.5.4 0 0-1.5 1 0 0-1.4.6 0 0-3 .4 0 0-1.4 1 0 0 1.4 1 0 0-2.8 1 0 0 1.4.6 0 0-1.4 1 0 0-3 .4 0 0 1.5.6 0 0 1.5.4 0 0 1.4.6 0 0 1.4 1 0 0 3 1 0 0-1.5.4 0 0 2.9.6 0 0 2.9 1.4 0 0-1.4.6 0 0-1.5.4 0 0 2.9.6 0 0-2.9 2.4 0 0-1.4.6 0 0 1.4.4 0 0-2.9 1 0 0-1.5.6 0 0 1.5.4 0 0 1.5.6 0 0-3 .4 0 0 1.5 2.6 0 0 1.5.4 0 0-1.5.6 0 0 2.9 2.4 0 0 1.5.6 0 0-1.5 1 0 0 1.5.4 0 0-1.5.6 0 0-1.4.4 0 0-1.5 3 0 0-1.5.6 0 0 1.5.4 0 0-1.5.6 0 0 3 .4 0 0 1.4.6 0 0-1.4 1.4 0 0-1.5.6 0 0 1.5 1 0 0-1.5 1 0 0 2.9.4 0 0-2.9.6 0 0 1.5 1 0 0 1.4.4 0 0 1.5 1 0 0 2.9.6 0 0-1.5 2 0 0-1.4.4 0 0-1.5 1 0 0 1.5.6 0 0-1.5.4 0 0-1.4 2 0 0 2.9.6 0 0-2.9.4 0 0-1.5.6 0 0-1.5 2 0 0 1.5 1.4 0 0-2.9.6 0 0 1.4 2 0 0-1.4.4 0 0 1.4.6 0 0-1.4 1 0 0-1.4 1.4 0 0 1.4.6 0 0 1.4.4 0 0-2.8.6 0 0 1.4 1.4 0 0-1.4.6 0 0 2.8 2.4 0 0 1.5.6 0 0 1.5.4 0 0-1.5 1 0 0 1.5 1.6 0 0-1.5 1 0 0 1.5 1 0 0-1.5.4 0 0 1.5.6 0 0-3 .4 0 0-1.4.6 0 0-1.4 2.4 0 0-1.5 1.6 0 0-2.9.4 0 0-1.4.6 0 0-1.5.4 0 0 1.5.6 0 0 1.4.4 0 0 1.4 2 0 0 1.5 1 0 0-1.5 2 0 0 3 .6 0 0-1.5.4 0 0 1.5 1 0 0-1.5.6 0 0 2.9.4 0 0 1.4 1.6 0 0 1.5 1 0 0-1.5.4 0 0-1.4 1 0 0-1.4 1 0 0 1.4 1 0 0 1.4 1 0 0 1.5.6 0 0 2.9.4 0 0-1.4 1 0 0-1.5 1 0 0-1.5.6 0 0 1.5.4 0 0-1.5 1 0 0 1.5 2 0 0-1.5.6 0 0-1.4.4 0 0-1.4.6 0 0-1.5.4 0 0 1.5.6 0 0-1.5.4 0 0 1.5 1 0 0 1.4.6 0 0-1.4.4 0 0 2.8 1.6 0 0 3 .4 0 0-1.5 1.6 0 0 1.5.4 0 0-1.5.6 0 0 2.9 2.4 0 0-1.4.6 0 0-1.5.4 0 0 1.5 2 0 0-1.5 1 0 0-1.5 2 0 0-1.4.6 0 0-1.4.4 0 0-3 .6 0 0 4.4.4 0 0-1.4.6 0 0-1.5.4 0 0-1.5.6 0 0 1.5.4 0 0 1.5 1 0 0-3 1 0 0-1.4 1 0 0-2.9.6 0 0-1.4 1.4 0 0 4.3.6 0 0-1.4 2.4 0 0 1.4 2 0 0 1.4.6 0 0-1.4.4 0 0 1.4 1 0 0 1.5.6 0 0-1.5.4 0 0 1.5.6 0 0 1.5.4 0 0-1.5 1 0 0-1.5 1 0 0-1.4.6 0 0 1.4 1.4 0 0-1.4 2 0 0 1.4.6 0 0-1.4.4 0 0-1.4.6 0 0 1.4.4 0 0-1.4 3 0 0 2.8.6 0 0 1.5.4 0 0 1.5.6 0 0 1.4.4 0 0 2.9 1 0 0-1.5 1 0 0-2.8.6 0 0 1.4.4 0 0 1.4 1 0 0-1.4.6 0 0 1.4.4 0 0-1.4.6 0 0-1.4.4 0 0-1.5.6 0 0-1.5 2 0 0 1.5.4 0 0 1.5.6 0 0-1.5 1 0 0-1.5.4 0 0-1.4.6 0 0 1.4.4 0 0 1.5 1 0 0 1.5.6 0 0-3 .4 0 0 3 .6 0 0 1.4 1 0 0-1.4.4 0 0 1.4 1.6 0" stroke="#8c564b" stroke-width="1.6"/>
</g>
<g clip-path="url(#ctr)" fill="none" stroke-linejoin="round">
<path d="M360.5 3.6l1.2 0 0 11.6.6 0 0 36.2.6 0 0 60.9.6 0 0 17.4.6 0 0 8.7.6 0 0 8.7.6 0 0 5.8.6 0 0 2.9.6 0 0 4.4 3 0 0 4.3.6 0 0 5.8.6 0 0 1.5.6 0 0 2.8 1.2 0 0 1.5 1.2 0 0 1.5.6 0 0-1.5 1.8 0 0-1.5.6 0 0 1.5.6 0 0 1.5.6 0 0 1.4.6 0 0 1.5 1.2 0 0-1.5 1.8 0 0-2.9.6 0 0-1.5.6 0 0-2.8.6 0 0-4.4 1.2 0 0 4.4 1.5 0 0-1.5 1.1 0 0 7.3 3.3 0 0 1.4 1.1 0 0-8.7 1.1 0 0 4.3 2.2 0 0-2.8 1.1 0 0 5.8 1.1 0 0 4.3 1.1 0 0-10.1 1.1 0 0 4.3 1.1 0 0-1.5 3.3 0 0 1.5 1.1 0 0-2.9 2.2 0 0 5.8 1.1 0 0-4.4 2.2 0 0-4.3 1.1 0 0 5.8 3.3 0 0 2.9 1.1 0 0-8.7 1.1 0 0 7.3 1.1 0 0-7.3 1.1 0 0 1.5 1.1 0 0-1.5 1.1 0 0 7.3 1.1 0 0-3 1.1 0 0-1.4 1.1 0 0 1.4 1.1 0 0-5.7 1.1 0 0 4.3 1.1 0 0 2.9 1.1 0 0-2.9 1.1 0 0 1.4 1.1 0 0-4.3 1.1 0 0 4.3 2.2 0 0 1.5 2.2 0 0-1.5 1.1 0 0-1.4 1.1 0 0-4.3 1.1 0 0 2.9 1.1 0 0 1.4 1.1 0 0 1.4 2.2 0 0 1.5 1.1 0 0-10.1 1.1 0 0 8.6 2.2 0 0 5.9 1.1 0 0-1.5 1.1 0 0 1.5 1.1 0 0-5.9 1.1 0 0-4.3 1.1 0 0 7.3 1.1 0 0-4.4 2.2 0 0 5.8 1.1 0 0-2.9 2.2 0 0-5.8 1.1 0 0-1.4 1.1 0 0 4.3 2.2 0 0 2.9 1.1 0 0-2.9 1.1 0 0-1.4 1.1 0 0 8.7 1.1 0 0-4.4 1.1 0 0-2.9 1.1 0 0 7.3 1.1 0 0-4.4 1.1 0 0-4.3 1.1 0 0-2.9 1.1 0 0 10.1 1.1 0 0-2.9 1.1 0 0-4.3 1.1 0 0 8.7 1.1 0 0-8.7 1.1 0 0 8.7 1.1 0 0-2.9 1.1 0 0-1.5 1.1 0 0-5.8 1.1 0 0 10.2 1.1 0 0-4.4 1.1 0 0-1.5 1.1 0 0-1.4 1.1 0 0 4.4 2.2 0 0 1.4 1.1 0 0-5.8 1.1 0 0-2.9 1.1 0 0 4.3 1.1 0 0-1.4 1.1 0 0 2.9 3.3 0 0 2.9 1.1 0 0 1.5 1.1 0 0-4.4 1.1 0 0-4.3 1.1 0 0 4.3 1.1 0 0-1.5 1.1 0 0 1.5 3.3 0 0-5.8 2.2 0 0 7.3 1.1 0 0-1.5 2.2 0 0 1.5 1.1 0 0-5.8 1.1 0 0-2.9 1.1 0 0 8.7 1.1 0 0-3 1.1 0 0 1.5 1.1 0 0 2.9 1.1 0 0-4.4 1.1 0 0-1.4 1.1 0 0 1.4 1.1 0 0-2.8 1.1 0 0-4.4 1.1 0 0 8.7 1.1 0 0-1.5 1.1 0 0 1.5 1.1 0 0 1.5 2.2 0 0-1.5 2.2 0 0 1.5 1.1 0 0-4.4 1.1 0 0 2.9 1.1 0 0-2.9 1.1 0 0 5.8 1.1 0 0-2.9 1.1 0 0-4.3 1.1 0 0 2.8 2.2 0 0-2.8 2.2 0 0 8.7 1.1 0 0-4.4 2.2 0 0-1.5 1.1 0 0-1.4 1.1 0 0-1.4 1.1 0 0 4.3 2.2 0 0-1.5 1.1 0 0 3 1.1 0 0-1.5 1.1 0 0-2.9 1.1 0 0 1.4 1.1 0 0-1.4 1.1 0 0-1.4 1.1 0 0 8.7 1.1 0 0-5.9 1.1 0 0 7.3 1.1 0 0-5.8 1.1 0 0-10.1 1.1 0 0 4.3 1.1 0 0 5.8 1.1 0 0-1.5 1.1 0 0 1.5 2.2 0 0-8.7 1.1 0 0 10.2 1.1 0 0-3 1.1 0 0 1.5 1.1 0 0 1.5 1.1 0 0-3 1.1 0 0-2.8 1.1 0 0 5.8 1.1 0 0-3 1.1 0 0 1.5 1.1 0 0-2.9 1.1 0 0 1.4 1.1 0 0-1.4 1.1 0 0 5.8 1.1 0 0-5.8 1.1 0 0 4.4 1.1 0 0-7.3 1.1 0 0 5.8 1.1 0 0-1.5 1.1 0 0 3 1.1 0 0-1.5 1.1 0 0 4.4 1.1 0 0 1.4 1.1 0 0-8.7 1.1 0 0 4.4 1.1 0 0-4.4 1.1 0 0-5.8 1.1 0 0 7.2 1.1 0 0 3 1.1 0 0-4.4 1.1 0 0 1.4 1.1 0 0 3 1.1 0 0-5.8 1.1 0 0 1.4 1.1 0 0 1.4 1.1 0 0-4.3 1.1 0 0 8.7 1.1 0 0-4.4 2.2 0 0 1.5 1.1 0 0-4.3 1.1 0 0 2.8 1.1 0 0-4.3 1.1 0 0 4.3 2.2 0 0 4.4 1.1 0 0-4.4 1.1 0 0 4.4 1.1 0 0-4.4 1.1 0 0-4.3 1.1 0 0 7.3 1.1 0 0-3 1.1 0 0-1.4 1.1 0 0 4.4 1.1 0 0-5.8 1.1 0 0 2.8 1.1 0 0 3 2.2 0 0-4.4 1.1 0 0 2.9 1.1 0 0-1.5 1.1 0 0-1.4 1.1 0 0 1.4 1.1 0 0-5.7 1.1 0 0 5.7 1.1 0 0 4.4 1.1 0 0-5.8 1.1 0 0 1.4 1.1 0 0 3 1.1 0 0-3 1.1 0 0-2.8 1.1 0 0 2.8 2.2 0 0-1.4 1.1 0 0 1.4 1.1 0 0-2.8 1.1 0 0-1.5 1.1 0 0 1.5 1.1 0 0 2.8 2.2 0 0-1.4 1.1 0 0 4.4 1.1 0 0-1.5" stroke="#1f77b4" stroke-width="1.6"/>
<path d="M360.5 184.8l.5 0 0-8.7.5 0 0-13.1.5 0 0-5.8.5 0 0-5.7.5 0 0-4.4 2 0 0-1.5.5 0 0-1.4.5 0 0-1.4 1 0 0-2.9.5 0 0 1.4.5 0 0-1.4 1 0 0 1.4 1 0 0 4.3.5 0 0-2.8 1 0 0-2.9 1 0 0 4.3.5 0 0-2.9.5 0 0-1.4.5 0 0-4.4.5 0 0 1.5.5 0 0 4.3.5 0 0-1.4.5 0 0 1.4 1 0 0-4.3 1 0 0-1.5.5 0 0-1.5 1 0 0 1.5.5 0 0-1.5 1 0 0-1.4.5 0 0 2.9 1.5 0 0-4.3.5 0 0 1.4.5 0 0-1.4.5 0 0 2.8 1 0 0 3 .5 0 0-3 .5 0 0-1.4.5 0 0-1.4.5 0 0 1.4 1 0 0 1.4.5 0 0 1.5.5 0 0-1.5.5 0 0 1.5.5 0 0-2.9.5 0 0-1.4 2.5 0 0 2.8.5 0 0 1.5 1 0 0-1.5.5 0 0 1.5.5 0 0 1.5.5 0 0-4.4.5 0 0 2.9.5 0 0-2.9.5 0 0 2.9.5 0 0-1.5.5 0 0 1.5.5 0 0 1.5.5 0 0 2.9.5 0 0-2.9.5 0 0-1.5.5 0 0-1.5 1.5 0 0-2.8.5 0 0-1.5.5 0 0 4.3.5 0 0-1.4.5 0 0 2.9.5 0 0-2.9.5 0 0 1.4 1 0 0-2.8.5 0 0-1.5 1 0 0 1.5.5 0 0-3 .5 0 0-1.4.5 0 0-4.3.5 0 0 1.4.5 0 0-1.4.5 0 0-1.5.5 0 0 1.5 1 0 0 4.3 1 0 0 1.4 1 0 0 1.5.5 0 0 1.5 1 0 0-4.4.5 0 0 1.4.5 0 0-2.8 1 0 0-1.5.5 0 0-2.9.5 0 0 2.9.5 0 0-1.4.5 0 0 1.4.5 0 0 1.5.5 0 0-2.9 1 0 0 1.4.5 0 0 2.9.5 0 0-1.4 1.5 0 0-1.5.5 0 0 1.5.5 0 0-1.5.5 0 0-1.4.5 0 0 2.9.5 0 0-2.9.5 0 0-1.5.5 0 0 2.9.5 0 0 1.5.5 0 0 1.4.5 0 0 4.4.5 0 0-5.8 1.5 0 0-1.5.5 0 0-2.9.5 0 0 1.5 1 0 0 1.4.5 0 0-2.9 1 0 0-1.4.5 0 0-1.5 1 0 0 1.5.5 0 0-2.9 1 0 0 2.9 1 0 0-1.5 1 0 0 2.9.5 0 0-1.4.5 0 0-1.5 1.5 0 0-1.4.5 0 0 1.4.5 0 0-1.4.5 0 0-1.5.5 0 0 1.5.5 0 0 1.4.5 0 0 1.5.5 0 0-4.4.5 0 0-2.9.5 0 0-1.5.5 0 0 1.5.5 0 0-2.9.5 0 0 2.9 1.5 0 0 1.5 1 0 0-1.5.5 0 0 1.5.5 0 0-1.5.5 0 0 2.9 1 0 0-1.4.5 0 0 1.4 1 0 0 1.5.5 0 0 1.4.5 0 0-1.4.5 0 0 2.9.5 0 0 1.4.5 0 0-2.9.5 0 0-2.9.5 0 0 1.5 2 0 0 2.9.5 0 0 2.9.5 0 0 1.4 1 0 0 1.5.5 0 0 2.8.5 0 0-1.4.5 0 0-2.9.5 0 0-1.4.5 0 0-2.9.5 0 0-1.5 1.5 0 0-2.9 1.5 0 0-1.4.5 0 0-3 .5 0 0 1.5 1 0 0 2.9 1 0 0-1.4.5 0 0 1.4.5 0 0 1.5.5 0 0 1.4.5 0 0-2.9 1 0 0-4.4 1 0 0-1.4.5 0 0-1.4.5 0 0-3 1 0 0-2.8.5 0 0-1.5.5 0 0 1.5.5 0 0-4.4 1 0 0-1.4.5 0 0-4.4.5 0 0 4.4 1 0 0 4.3.5 0 0-1.4.5 0 0 1.4.5 0 0 2.9.5 0 0-2.9.5 0 0 1.5.5 0 0 2.8 1 0 0 1.5.5 0 0 2.9.5 0 0-2.9 1 0 0 1.5.5 0 0 4.3.5 0 0 1.5.5 0 0 1.4 1 0 0-1.4.5 0 0 1.4 1 0 0 1.5.5 0 0-2.9.5 0 0-3 .5 0 0-1.4 2 0 0-1.4.5 0 0-1.5 1 0 0 1.5.5 0 0-3 .5 0 0 1.5.5 0 0 2.9.5 0 0-1.4 1 0 0-1.5 1 0 0 1.5.5 0 0 1.4.5 0 0-4.4.5 0 0-1.4.5 0 0-1.4.5 0 0-2.9 1 0 0 1.4 1 0 0-1.4 1 0 0-1.5 1 0 0-1.4.5 0 0-1.5.5 0 0-1.4.5 0 0-1.5.5 0 0 2.9 1 0 0 2.9.5 0 0 1.5.5 0 0 1.4.5 0 0 4.3.5 0 0-2.8.5 0 0 1.4.5 0 0 1.4.5 0 0-2.8.5 0 0 1.4.5 0 0-2.9 1 0 0 2.9.5 0 0-1.4 1 0 0 1.4.5 0 0 1.4.5 0 0-1.4 1 0 0 1.4 1 0 0 3 .5 0 0 1.4 1 0 0-1.4.5 0 0-1.5.5 0 0-1.5.5 0 0 1.5.5 0 0 1.5.5 0 0-1.5.5 0 0 1.5 1 0 0 1.4.5 0 0 2.9.5 0 0 2.9.5 0 0 1.5.5 0 0-1.5.5 0 0-1.4 1 0 0-1.5 2 0 0 2.9 1.5 0 0-1.4.5 0 0 2.9.5 0 0-1.5 1 0 0 4.4.5 0 0-2.9.5 0 0-2.9.5 0 0 1.4.5 0 0-1.4.5 0 0-1.5.5 0 0-1.5.5 0 0 1.5.5 0 0-2.9 1 0 0-1.4.5 0 0 1.4.5 0 0-1.4 1 0 0-1.5 1 0 0 2.9 1 0 0-2.9.5 0 0-2.9.5 0 0 1.4.5 0 0 1.5.5 0 0-1.5 1.5 0 0 1.5.5 0 0-1.5.5 0 0-1.4.5 0 0 1.4 2 0 0 3 .5 0 0-1.5.5 0 0-4.3.5 0 0 2.8 1 0 0-1.4 1 0 0-1.4 1.5 0 0-2.9.5 0 0 1.4 1 0 0-1.4.5 0 0 2.9 2 0 0 1.4.5 0 0-2.9 1 0 0-2.9 1 0 0-1.4.5 0 0-2.9.5 0 0 1.4 3 0 0 1.5 1 0 0 4.3.5 0 0-1.4.5 0 0-1.5.5 0 0-1.4.5 0 0 1.4.5 0 0 2.9.5 0 0 2.9.5 0 0 2.9 1 0 0 1.5.5 0 0 1.4 1.5 0 0-1.4 1 0 0 1.4.5 0 0-2.9 1 0 0 1.5.5 0 0-1.5.5 0 0 4.3.5 0 0-1.4.5 0 0 1.4.5 0 0-1.4.5 0 0 1.4 1 0 0 3 .5 0 0-3 1 0 0 3 .5 0 0-1.5 1.5 0 0-1.5.5 0 0 1.5 1 0 0-1.5.5 0 0 1.5 1.5 0 0 2.9.5 0 0-1.4.5 0 0-3 .5 0 0 1.5.5 0 0-1.5 1 0 0 3 1 0 0 2.9.5 0 0-4.4 1 0 0-1.5.5 0 0 3 .5 0 0-3 .5 0 0-1.4.5 0 0 2.9 1 0 0 1.5.5 0 0 1.4.5 0 0 2.9.5 0 0-1.4.5 0 0 1.4.5 0 0-2.9.5 0 0 1.5 1 0 0-5.9 1 0 0 1.5 1 0 0 1.5 2.5 0 0 1.4 1 0 0 1.5 1 0 0-1.5.5 0 0 1.5 1 0 0 1.4 1 0 0-2.9.5 0 0 2.9.5 0 0 1.5.5 0 0 1.4 1 0 0-2.9.5 0 0-1.4.5 0 0 1.4.5 0 0 1.5.5 0 0-1.5.5 0 0-1.4 1 0 0 1.4.5 0 0-4.3.5 0 0 1.4.5 0 0 2.9.5 0 0-2.9.5 0 0 4.4.5 0 0 1.4.5 0 0 1.5.5 0 0-2.9.5 0 0-1.5.5 0 0-1.4 1 0 0-1.5.5 0 0 1.5.5 0 0-1.5 1 0 0-1.4.5 0 0 1.4.5 0 0-1.4.5 0 0 2.9.5 0 0-1.5 1 0 0 1.5.5 0 0-1.5.5 0 0-1.4 1 0 0-1.5.5 0 0 2.9.5 0 0 1.5.5 0 0-1.5.5 0 0-1.4.5 0 0-3 .5 0 0 1.5 1 0 0-2.9 1.5 0 0 4.4 1 0 0 1.4.5 0 0-1.4.5 0 0-1.5 1.5 0 0-1.5.5 0 0 1.5.5 0 0 1.5.5 0 0-5.8.5 0 0 1.4.5 0 0 1.4 1 0 0 4.4.5 0 0-4.4.5 0 0 4.4 1 0 0 2.9.5 0 0-2.9 2 0 0-2.9.5 0 0-1.5.5 0 0 1.5 1 0 0-1.5 2 0 0 3 .5 0 0-3 1.5 0 0-1.4.5 0 0 4.4.5 0 0 2.9 1.5 0 0-1.5.5 0 0-1.4.5 0 0 1.4.5 0 0 1.5.5 0 0-1.5.5 0 0 1.5.5 0 0 2.9.5 0 0 1.4.5 0 0-2.9 1 0 0 1.5.5 0 0-2.9.5 0 0-1.5.5 0 0 1.5.5 0 0-1.5.5 0 0 1.5.5 0 0-1.5.5 0 0-4.4 1 0 0-2.8 1 0 0 1.4.5 0 0 2.9 1 0 0 2.9.5 0 0-4.4 1 0 0 1.5" stroke="#ff7f0e" stroke-width="1.6"/>
<path d="M360.5 184.8l.5 0 0-5.8.5 0 0-7.2.5 0 0-7.3.5 0 0-7.3.5 0 0-5.7 1 0 0-1.5 1 0 0-1.4.5 0 0-1.5 1 0 0-1.5 1 0 0-2.8 2 0 0-1.5 1.5 0 0-1.4 1.5 0 0-1.5 2.5 0 0 1.5.5 0 0-1.5.5 0 0 1.5.5 0 0-1.5.5 0 0 1.5.5 0 0-1.5 1 0 0 1.5 2 0 0-1.5.5 0 0 1.5.5 0 0-1.5.5 0 0 1.5.5 0 0-2.9.5 0 0 1.4.5 0 0 1.5 1 0 0 1.4 2 0 0 1.5.5 0 0 1.4 1 0 0 1.4.5 0 0 1.5.5 0 0 1.5 1 0 0 1.4.5 0 0 1.5 1 0 0 1.4 1 0 0-1.4.5 0 0 1.4.5 0 0-1.4 3 0 0-1.5.5 0 0 1.5.5 0 0-1.5.5 0 0-1.4 1 0 0 1.4 1.5 0 0-1.4.5 0 0 1.4.5 0 0-1.4.5 0 0 2.9 1 0 0-1.5 1.5 0 0 1.5 1 0 0-1.5.5 0 0 1.5 4 0 0 1.4.5 0 0-1.4.5 0 0 1.4 1 0 0 1.5.5 0 0-1.5.5 0 0 1.5 2 0 0-1.5.5 0 0 1.5 2 0 0-1.5 1 0 0 1.5 1 0 0-1.5.5 0 0 1.5 1.5 0 0 1.4 1 0 0-1.4.5 0 0 1.4.5 0 0 1.4.5 0 0-1.4.5 0 0 1.4 1 0 0 1.5.5 0 0-1.5 3 0 0-1.4.5 0 0 1.4.5 0 0-1.4.5 0 0 1.4 1.5 0 0-1.4 2 0 0 1.4.5 0 0-1.4 1.5 0 0-1.4.5 0 0 1.4.5 0 0-1.4 1 0 0 1.4.5 0 0-1.4.5 0 0 1.4.5 0 0-2.9.5 0 0 2.9.5 0 0-1.4 1.5 0 0 1.4 2.5 0 0 1.4 1.5 0 0-1.4.5 0 0 1.4.5 0 0-1.4 1.5 0 0-1.4 1.5 0 0-1.5 1 0 0-1.4 1.5 0 0-1.5 1 0 0 2.9 1 0 0-1.4.5 0 0 2.9 1 0 0-1.5.5 0 0 1.5.5 0 0 1.4 1.5 0 0 1.4 1 0 0-1.4.5 0 0 2.9 1 0 0-1.5.5 0 0 3 1.5 0 0 1.4 1.5 0 0 1.4.5 0 0-1.4 1 0 0 1.4 1 0 0 1.5 1.5 0 0 1.5.5 0 0 1.4 1.5 0 0 1.5 2.5 0 0 1.4 2.5 0 0-1.4.5 0 0 1.4.5 0 0-1.4 1.5 0 0-1.5.5 0 0 1.5 3 0 0-1.5 2 0 0-1.4 1 0 0-1.5.5 0 0 1.5 1 0 0-1.5.5 0 0 1.5 1 0 0-1.5 1.5 0 0 1.5 1 0 0-1.5.5 0 0 1.5.5 0 0 1.4.5 0 0-1.4.5 0 0 1.4.5 0 0 1.5 1.5 0 0 1.4 1.5 0 0 1.5.5 0 0-1.5.5 0 0-1.4.5 0 0 1.4 1.5 0 0 1.5 2 0 0-1.5.5 0 0-1.4.5 0 0 1.4.5 0 0-1.4 2.5 0 0-1.5.5 0 0-1.4.5 0 0 1.4 2.5 0 0-1.4.5 0 0 1.4.5 0 0 1.5.5 0 0-2.9 1 0 0 1.4 1.5 0 0-1.4 1 0 0-1.5.5 0 0-1.5.5 0 0-1.4.5 0 0 1.4.5 0 0 1.5.5 0 0-1.5 1.5 0 0 1.5 1 0 0-1.5 1 0 0 1.5.5 0 0-1.5.5 0 0 1.5.5 0 0-1.5 1 0 0-1.4 1 0 0-1.4 1 0 0 1.4 2 0 0-1.4 4 0 0-1.5 3 0 0-1.5 1.5 0 0-1.4 1 0 0 1.4.5 0 0-1.4.5 0 0 1.4 1.5 0 0 1.5.5 0 0 1.5 1 0 0 1.4.5 0 0 1.4 1 0 0-1.4.5 0 0 1.4 2.5 0 0 1.5 1.5 0 0-1.5.5 0 0 1.5 1 0 0 1.5.5 0 0-1.5 1.5 0 0 1.5.5 0 0-1.5 1.5 0 0-1.5 1 0 0 1.5.5 0 0-1.5.5 0 0 1.5 1 0 0 1.5.5 0 0-1.5 1.5 0 0 1.5 3 0 0 1.4.5 0 0-1.4 2 0 0 1.4.5 0 0-1.4.5 0 0 1.4 3.5 0 0-1.4.5 0 0 2.9.5 0 0-1.5 1 0 0-1.4 1.5 0 0-1.5.5 0 0-1.5.5 0 0 1.5.5 0 0-1.5 2.5 0 0-1.4 2 0 0-1.4.5 0 0 2.8.5 0 0-1.4 2 0 0 1.4.5 0 0-1.4.5 0 0 1.4 1 0 0 1.5.5 0 0-1.5 3 0 0 1.5 3 0 0 1.5.5 0 0 1.4 2 0 0 1.5.5 0 0 1.4 2.5 0 0 1.5 1 0 0-1.5.5 0 0 1.5.5 0 0-1.5.5 0 0 1.5 1 0 0-1.5.5 0 0 1.5.5 0 0-1.5 1.5 0 0-1.4 5.5 0 0-1.5 2 0 0 1.5.5 0 0-2.9.5 0 0 1.4 1 0 0 1.5.5 0 0-1.5.5 0 0-1.4.5 0 0 1.4 1 0 0-1.4 1.5 0 0-1.5 2 0 0-1.5 1.5 0 0-1.4.5 0 0 1.4 5 0 0 1.5.5 0 0-1.5.5 0 0 1.5 5 0 0 2.9.5 0 0-1.4 1.5 0 0 1.4 2 0 0 1.5 2 0 0 1.4.5 0 0-1.4.5 0 0 2.9 1 0 0-1.5.5 0 0 1.5.5 0 0-1.5.5 0 0 1.5.5 0 0-1.5 3 0 0-1.4.5 0 0 1.4.5 0 0-1.4.5 0 0 2.9.5 0 0-1.5 1 0 0-1.4.5 0 0 2.9 1 0 0-1.5.5 0 0 1.5 1 0 0-1.5 1 0 0 1.5 1 0 0-1.5 1 0 0 1.5 6 0 0-1.5 2 0 0 1.5 1 0 0-1.5.5 0 0 1.5.5 0 0-1.5.5 0 0 1.5 2.5 0 0 1.4 2 0 0-1.4 3 0 0-1.5.5 0 0 1.5.5 0 0-1.5" stroke="#2ca02c" stroke-width="1.6"/>
<path d="M360.5 184.8l307 0" stroke="#d62728" stroke-width="1.6"/>
<path d="M360.5 184.8l2.6 0 0-1.4 1.3 0 0 1.4 27.3 0 0-1.4 1.3 0 0 1.4 2.6 0 0-1.4 1.3 0 0 1.4 33.8 0 0-1.4 13 0 0-1.5 1.3 0 0 1.5 2.6 0 0-1.5 1.3 0 0 1.5 31.2 0 0-1.5 1.3 0 0 1.5 5.2 0 0-1.5 1.3 0 0 1.5 6.5 0 0-1.5 1.3 0 0 1.5 11.7 0 0-1.5 2.6 0 0 1.5 2.6 0 0-1.5 3.9 0 0 1.5 1.3 0 0-1.5 1.3 0 0 1.5 5.2 0 0-1.5 1.3 0 0 1.5 2.6 0 0-1.5 13 0 0-1.4 1.3 0 0 1.4 2.6 0 0-1.4 1.3 0 0 1.4 5.2 0 0-1.4 1.3 0 0 1.4 1.3 0 0-1.4 3.9 0 0 1.4 1.3 0 0-1.4 1.3 0 0 1.4 1.3 0 0-1.4 3.9 0 0-1.5 5.2 0 0-1.4 3.9 0 0-1.5 2.6 0 0-1.5 2.6 0 0-1.4 1.3 0 0 1.4 1.3 0 0-1.4 3.9 0 0-1.4 2.6 0 0-1.5 1.3 0 0-1.4 1.3 0 0 1.4 1.3 0 0-1.4 1.3 0 0-1.5 2.6 0 0-1.4 1.3 0 0-1.5 2.6 0 0-1.5 2.6 0 0-2.8 1.3 0 0 1.4 1.3 0 0-1.4 5.2 0 0-1.5 1.3 0 0-1.5 1.3 0 0-1.4 2.6 0 0-1.4 2.6 0 0 2.8 1.3 0 0 1.5 2.6 0 0 1.5 1.3 0 0 1.4 11.7 0 0-1.4 3.9 0 0-1.5 2.6 0 0 1.5 1.3 0 0-1.5 1.3 0 0-1.5 2.6 0 0 1.5 2.6 0 0 1.5 2.6 0 0 1.4 1.3 0 0-2.9 3.9 0 0 1.5 1.3 0 0 2.8 1.3 0 0-1.4 1.3 0 0-1.4 1.3 0 0-3 2.6 0 0-1.4 1.3 0 0-1.4" stroke="#9467bd" stroke-width="1.6"/>
<path d="M360.5 184.8l307 0" stroke="#8c564b" stroke-width="1.6"/>
<path d="M360.5 184.8l1.3 0 0-4.3 1.3 0 0-1.5 1.3 0 0-1.4 1.3 0 0 1.4 1.3 0 0-1.4 1.3 0 0-1.5 2.6 0 0 1.5 10.4 0 0 1.4 2.6 0 0-1.4 3.9 0 0 1.4 2.6 0 0 1.5 1.3 0 0-1.5 1.3 0 0 1.5 11.7 0 0-1.5 2.6 0 0-1.4 2.6 0 0 1.4 1.3 0 0-1.4 1.3 0 0 1.4 1.3 0 0-1.4 2.6 0 0 1.4 1.3 0 0-1.4 1.3 0 0 1.4 2.6 0 0 1.5 13 0 0-1.5 1.3 0 0 1.5 2.6 0 0-1.5 1.3 0 0 1.5 1.3 0 0-1.5 10.4 0 0 1.5 2.6 0 0-1.5 1.3 0 0 1.5 1.3 0 0-1.5 22.1 0 0-1.4 1.3 0 0 1.4 5.2 0 0-1.4 1.3 0 0 1.4 1.3 0 0-1.4 2.6 0 0 1.4 1.3 0 0-1.4 11.7 0 0-1.5 1.3 0 0 1.5 10.4 0 0-1.5 6.5 0 0-1.5 2.6 0 0-1.4 5.2 0 0-1.4 3.9 0 0-1.5 1.3 0 0 1.5 6.5 0 0 1.4 10.4 0 0 1.4 1.3 0 0-1.4 1.3 0 0 1.4 9.1 0 0 1.5 2.6 0 0 1.5 13 0 0-1.5 9.1 0 0 1.5 6.5 0 0 1.4 2.6 0 0 1.5 5.2 0 0-1.5 6.5 0 0-1.4 2.6 0 0-1.5 5.2 0 0-1.5 7.8 0 0-1.4 11.7 0 0-1.4 6.5 0 0 1.4 1.3 0 0 1.4 1.3 0 0-1.4 1.3 0 0 1.4 10.4 0 0-1.4 3.9 0 0-1.4 1.3 0 0-1.5 1.3 0 0-1.4 1.3 0 0-1.5 2.6 0" stroke="#e377c2" stroke-width="1.6"/>
<path d="M360.5 184.8l307 0" stroke="#7f7f7f" stroke-width="1.6"/>
<path d="M360.5 184.8l.5 0 0-5.8.5 0 0-10.1.5 0 0-10.2.5 0 0-13.1.5 0 0-8.6.5 0 0-11.6.5 0 0-2.9.5 0 0-1.5.5 0 0-4.3 1 0 0-2.9.5 0 0-3 .5 0 0-1.4.5 0 0-1.4.5 0 0-3 .5 0 0-1.4 1 0 0-1.4 1 0 0-1.5 1 0 0 1.5.5 0 0 2.8.5 0 0 1.5 1 0 0 1.5 1 0 0 2.8.5 0 0-2.8.5 0 0-3 2 0 0 1.5.5 0 0-1.5.5 0 0 1.5.5 0 0 1.5.5 0 0 1.4 1.5 0 0 2.9 1 0 0 2.9 1 0 0-1.4 1 0 0 1.4.5 0 0-1.4 1 0 0-1.5.5 0 0-2.9.5 0 0 1.4 1 0 0-4.3.5 0 0-2.9.5 0 0 1.4.5 0 0 3 .5 0 0-3 .5 0 0 1.5.5 0 0 2.9.5 0 0-1.4.5 0 0-1.5.5 0 0-4.3.5 0 0-1.5.5 0 0 2.9.5 0 0-1.4.5 0 0-2.9.5 0 0-1.5 1 0 0 1.5.5 0 0-4.4.5 0 0 4.4.5 0 0-1.5.5 0 0 1.5.5 0 0-1.5.5 0 0 1.5 1 0 0 4.3.5 0 0-1.4.5 0 0-1.5.5 0 0-1.4.5 0 0-2.9.5 0 0 4.3.5 0 0-1.4 1 0 0 1.4.5 0 0-1.4.5 0 0 7.2.5 0 0-1.5.5 0 0 1.5 1 0 0 1.5.5 0 0 1.4.5 0 0 4.4.5 0 0-1.5.5 0 0-1.5.5 0 0 1.5.5 0 0-2.9.5 0 0 1.4.5 0 0-1.4.5 0 0-1.4.5 0 0 1.4.5 0 0-4.4.5 0 0-1.4.5 0 0-1.4.5 0 0 1.4 1 0 0 4.4.5 0 0-1.5 1 0 0-2.9.5 0 0 1.4.5 0 0-2.8 1.5 0 0 1.4.5 0 0 5.8 1 0 0-1.4 1 0 0 2.8.5 0 0-2.8 1 0 0-3 .5 0 0-1.4.5 0 0-1.4 2 0 0-2.9.5 0 0-1.5.5 0 0 1.5 1 0 0-1.5.5 0 0-1.4.5 0 0 1.4.5 0 0 1.5.5 0 0 1.4.5 0 0 1.5.5 0 0 1.4.5 0 0-2.9.5 0 0 2.9.5 0 0-1.4.5 0 0 4.3.5 0 0 2.9.5 0 0-2.9 1 0 0 2.9.5 0 0-2.9.5 0 0 1.5 1 0 0 4.3.5 0 0-1.5.5 0 0 1.5.5 0 0-2.9 1 0 0 2.9 1.5 0 0 2.9.5 0 0 1.5.5 0 0-1.5 1 0 0-2.9.5 0 0 1.5.5 0 0 1.4 1 0 0 1.5.5 0 0-1.5.5 0 0 2.9.5 0 0-7.3.5 0 0 1.5 1.5 0 0 1.5.5 0 0 1.4.5 0 0 1.5.5 0 0-1.5 1 0 0-1.4.5 0 0-4.4.5 0 0 1.4 1 0 0 1.5.5 0 0 1.5 1.5 0 0 1.4 1 0 0-1.4.5 0 0 1.4.5 0 0-1.4.5 0 0 1.4.5 0 0-2.9.5 0 0-1.5.5 0 0 3 .5 0 0-1.5.5 0 0 2.9.5 0 0-2.9 1 0 0-1.5.5 0 0 3 1 0 0-1.5 1 0 0-1.5.5 0 0 4.4.5 0 0-1.4 1 0 0 1.4.5 0 0-1.4 1.5 0 0-1.5.5 0 0-4.3.5 0 0-3 1 0 0 1.5.5 0 0 2.9.5 0 0-4.4 1 0 0-1.4.5 0 0 1.4 1.5 0 0 3 1 0 0 5.8 1 0 0-1.5 1 0 0-1.5.5 0 0 5.9.5 0 0-1.5 1.5 0 0 1.5.5 0 0-1.5 1 0 0 2.9 1 0 0-1.4.5 0 0-2.9.5 0 0 1.4 1.5 0 0 2.9 1 0 0-1.4 1 0 0-2.9 1 0 0 1.4.5 0 0-2.9 1 0 0-1.5 1 0 0-2.8.5 0 0-1.5.5 0 0 2.9.5 0 0 4.4.5 0 0-1.5 1 0 0-1.5 1 0 0 1.5.5 0 0 2.9 1.5 0 0-1.4 1 0 0-1.5.5 0 0-4.3.5 0 0 1.4 1 0 0-4.4.5 0 0-1.4.5 0 0 2.9.5 0 0 4.3.5 0 0 1.5.5 0 0-1.5 1 0 0 1.5.5 0 0 1.5.5 0 0-1.5.5 0 0 2.9.5 0 0-1.4.5 0 0-1.5.5 0 0 2.9.5 0 0 1.5.5 0 0-1.5.5 0 0 4.4 1 0 0-4.4.5 0 0 2.9 1 0 0 1.5.5 0 0 1.4.5 0 0 2.9.5 0 0-1.4 1.5 0 0 4.3.5 0 0-1.4.5 0 0-2.9.5 0 0-1.5.5 0 0 1.5.5 0 0 2.9 2 0 0-1.5.5 0 0 1.5.5 0 0-2.9.5 0 0-1.5 1 0 0-1.4.5 0 0-2.9.5 0 0-1.5.5 0 0 4.4 1 0 0 1.4.5 0 0 1.5 1 0 0-1.5.5 0 0-2.9.5 0 0 4.4.5 0 0-2.9.5 0 0 2.9.5 0 0-2.9.5 0 0-1.5.5 0 0-1.4.5 0 0 1.4.5 0 0 1.5 1 0 0 1.4.5 0 0-2.9.5 0 0 1.5 1 0 0-2.9 1 0 0 1.4 1.5 0 0 1.5 1 0 0 1.4 1 0 0-1.4.5 0 0 1.4.5 0 0-1.4.5 0 0 2.9.5 0 0-2.9 1 0 0 1.4.5 0 0 1.5 1 0 0-1.5.5 0 0 2.9.5 0 0 1.5.5 0 0-1.5.5 0 0-1.4 1 0 0 2.9.5 0 0-2.9 1 0 0 4.3 1.5 0 0 2.9 1 0 0 1.5.5 0 0-1.5.5 0 0-1.5.5 0 0-1.4.5 0 0-4.3.5 0 0-2.9 1.5 0 0 2.9.5 0 0 2.9.5 0 0-2.9.5 0 0-1.5.5 0 0 1.5.5 0 0 2.9.5 0 0 2.8.5 0 0-1.4.5 0 0-1.4.5 0 0 2.8.5 0 0-2.8 1 0 0 1.4 1 0 0-2.9.5 0 0 1.5 2 0 0 1.4.5 0 0 1.4 2.5 0 0-2.8 1 0 0-1.5 1.5 0 0 1.5.5 0 0 1.4.5 0 0 1.4.5 0 0 1.5.5 0 0 2.9.5 0 0-2.9.5 0 0 2.9.5 0 0 2.9.5 0 0-1.5.5 0 0-2.8 1 0 0-1.5.5 0 0-1.5 1 0 0-1.4 1 0 0 2.9.5 0 0-1.5.5 0 0 1.5.5 0 0 1.5 1.5 0 0-1.5 1.5 0 0-1.5.5 0 0-1.4.5 0 0 2.9.5 0 0-1.5.5 0 0-1.4.5 0 0-1.4.5 0 0 1.4 1.5 0 0-2.9.5 0 0 2.9.5 0 0-2.9 1 0 0-1.4.5 0 0-2.9.5 0 0-2.9.5 0 0 1.4.5 0 0 1.5.5 0 0-1.5 1 0 0-2.9 1.5 0 0-1.4.5 0 0 1.4 1 0 0-2.9.5 0 0 4.4.5 0 0-1.5.5 0 0 2.9.5 0 0 1.5.5 0 0-1.5.5 0 0 1.5.5 0 0 1.4.5 0 0 1.5.5 0 0-1.5.5 0 0-4.3.5 0 0-2.9.5 0 0 1.4 1.5 0 0 4.4 1 0 0-2.9 2 0 0 1.4 1 0 0-1.4.5 0 0 1.4.5 0 0 1.5.5 0 0-4.4.5 0 0 2.9 1 0 0 1.5.5 0 0-2.9 1 0 0 4.3.5 0 0 2.9 1 0 0 1.5.5 0 0-1.5.5 0 0 1.5 1 0 0 1.4.5 0 0-1.4.5 0 0 1.4.5 0 0 2.9 1 0 0 1.5 1 0 0 1.4.5 0 0-2.9.5 0 0 2.9.5 0 0 2.9.5 0 0-1.5.5 0 0 1.5.5 0 0-2.9 1 0 0-1.4.5 0 0 1.4 1 0 0-1.4.5 0 0 2.8 1 0 0 1.5.5 0 0-1.5 1 0 0-1.4 1 0 0 2.9.5 0 0-2.9.5 0 0-1.4.5 0 0 2.8 1 0 0 1.5.5 0 0 1.5 1 0 0 1.4.5 0 0-1.4.5 0 0 1.4.5 0 0-2.9.5 0 0-2.9.5 0 0 1.4.5 0 0 3 .5 0 0-3 .5 0 0 3 .5 0 0-4.4.5 0 0 2.9 1 0 0-1.5.5 0 0-2.8.5 0 0 1.4 1.5 0 0 2.9.5 0 0-1.5.5 0 0 1.5.5 0 0 1.5.5 0 0-3 .5 0 0 3 .5 0 0-1.5 1.5 0 0-1.5.5 0 0-1.4 1 0 0-2.9.5 0 0 1.5.5 0 0 2.8.5 0 0-2.8 1 0 0 1.4 1 0 0-1.4 1 0 0-1.5.5 0 0 5.8.5 0 0-4.3.5 0 0-1.5.5 0 0 1.5 1 0 0 2.8.5 0 0-1.4.5 0 0 1.4.5 0 0-2.8.5 0 0 1.4 1.5 0 0 1.4.5 0 0 1.5.5 0 0-2.9 1 0 0-1.4.5 0 0-3 .5 0 0 4.4.5 0 0-1.4.5 0 0-3 .5 0 0 4.4.5 0 0-4.4 1 0 0 1.5.5 0 0 1.5.5 0 0-1.5 1 0 0 2.9.5 0 0-1.4.5 0 0 2.8.5 0 0 1.5 1 0 0 2.9 2 0 0 1.5 1 0 0-2.9.5 0 0 2.9.5 0 0-1.5" stroke="#bcbd22" stroke-width="1.6"/>
</g>
<g clip-path="url(#cbl)" fill="none" stroke-linejoin="round">
<g stroke="#1f77b4" stroke-width="1.0" stroke-opacity="0.06"><use href="#p1" transform="translate(15.5 2.5) scale(1.0 0.5)"/><use href="#p2" transform="translate(13.9 -1.4) scale(1.0 0.5)"/><use href="#p3" transform="translate(15.6 -0.3) scale(1.0 0.5)"/><use href="#p4" transform="translate(12.7 -0.3) scale(1.0 0.5)"/><use href="#p5" transform="translate(11.4 -5.4) scale(1.0 0.5)"/><use href="#p6" transform="translate(13.1 1.4) scale(1.0 0.5)"/><use href="#p7" transform="translate(13.3 -0.3) scale(1.0 0.5)"/><use href="#p8" transform="translate(15.8 3.8) scale(1.0 0.5)"/><use href="#p9" transform="translate(12.6 2.1) scale(1.0 0.5)"/><use href="#p10" transform="translate(12.0 0.6) scale(1.0 0.5)"/><use href="#p11" transform="translate(15.1 1.8) scale(1.0 0.5)"/><use href="#p12" transform="translate(11.7 -1.0) scale(1.0 0.5)"/><use href="#p13" transform="translate(14.2 2.3) scale(1.0 0.5)"/><use href="#p14" transform="translate(16.2 1.2) scale(1.0 0.5)"/><use href="#p1" transform="translate(12.1 -2.1) scale(1.0 0.5)"/><use href="#p2" transform="translate(15.2 0.2) scale(1.0 0.5)"/><use href="#p3" transform="translate(14.7 -0.4) scale(1.0 0.5)"/><use href="#p4" transform="translate(12.0 1.2) scale(1.0 0.5)"/><use href="#p5" transform="translate(13.9 -2.2) scale(1.0 0.5)"/><use href="#p6" transform="translate(12.1 6.1) scale(1.0 0.5)"/><use href="#p7" transform="translate(15.3 0.6) scale(1.0 0.5)"/><use href="#p8" transform="translate(16.1 -0.7) scale(1.0 0.5)"/><use href="#p9" transform="translate(14.3 3.8) scale(1.0 0.5)"/><use href="#p10" transform="translate(11.3 2.4) scale(1.0 0.5)"/><use href="#p11" transform="translate(15.7 1.5) scale(1.0 0.5)"/><use href="#p12" transform="translate(13.4 -1.3) scale(1.0 0.5)"/><use href="#p13" transform="translate(13.3 1.3) scale(1.0 0.5)"/><use href="#p14" transform="translate(12.8 -2.4) scale(1.0 0.5)"/><use href="#p1" transform="translate(13.7 3.9) scale(1.0 0.5)"/><use href="#p2" transform="translate(15.7 -2.8) scale(1.0 0.5)"/><use href="#p3" transform="translate(15.6 0.6) scale(1.0 0.5)"/><use href="#p4" transform="translate(14.4 6.3) scale(1.0 0.5)"/><use href="#p5" transform="translate(14.9 -0.1) scale(1.0 0.5)"/><use href="#p6" transform="translate(14.0 0.9) scale(1.0 0.5)"/><use href="#p7" transform="translate(16.1 -0.3) scale(1.0 0.5)"/><use href="#p8" transform="translate(12.5 -0.3) scale(1.0 0.5)"/><use href="#p9" transform="translate(15.4 2.1) scale(1.0 0.5)"/><use href="#p10" transform="translate(13.4 -1.0) scale(1.0 0.5)"/><use href="#p11" transform="translate(12.6 -2.9) scale(1.0 0.5)"/><use href="#p12" transform="translate(12.0 -0.9) scale(1.0 0.5)"/><use href="#p13" transform="translate(16.1 1.6) scale(1.0 0.5)"/><use href="#p14" transform="translate(12.3 1.8) scale(1.0 0.5)"/><use href="#p1" transform="translate(16.1 -1.1) scale(1.0 0.5)"/><use href="#p2" transform="translate(13.7 1.7) scale(1.0 0.5)"/><use href="#p3" transform="translate(12.6 1.3) scale(1.0 0.5)"/><use href="#p4" transform="translate(13.0 -4.6) scale(1.0 0.5)"/><use href="#p5" transform="translate(15.4 -0.7) scale(1.0 0.5)"/><use href="#p6" transform="translate(13.8 -1.5) scale(1.0 0.5)"/><use href="#p7" transform="translate(14.0 -2.7) scale(1.0 0.5)"/><use href="#p8" transform="translate(16.2 3.0) scale(1.0 0.5)"/><use href="#p9" transform="translate(12.7 -0.8) scale(1.0 0.5)"/><use href="#p10" transform="translate(13.8 0.9) scale(1.0 0.5)"/><use href="#p11" transform="translate(15.9 -0.1) scale(1.0 0.5)"/><use href="#p12" transform="translate(14.9 -0.1) scale(1.0 0.5)"/><use href="#p13" transform="translate(13.0 4.3) scale(1.0 0.5)"/><use href="#p14" transform="translate(12.0 -2.8) scale(1.0 0.5)"/><use href="#p1" transform="translate(14.0 -3.9) scale(1.0 0.5)"/><use href="#p2" transform="translate(12.4 -5.8) scale(1.0 0.5)"/><use href="#p3" transform="translate(12.6 -1.3) scale(1.0 0.5)"/><use href="#p4" transform="translate(15.3 -1.6) scale(1.0 0.5)"/><use href="#p5" transform="translate(15.2 -0.3) scale(1.0 0.5)"/><use href="#p6" transform="translate(15.7 -3.5) scale(1.0 0.5)"/><use href="#p7" transform="translate(14.2 1.9) scale(1.0 0.5)"/><use href="#p8" transform="translate(13.9 -0.8) scale(1.0 0.5)"/><use href="#p9" transform="translate(15.9 0.0) scale(1.0 0.5)"/><use href="#p10" transform="translate(11.8 -2.7) scale(1.0 0.5)"/><use href="#p11" transform="translate(12.7 0.9) scale(1.0 0.5)"/><use href="#p12" transform="translate(13.0 -0.7) scale(1.0 0.5)"/><use href="#p13" transform="translate(14.6 0.9) scale(1.0 0.5)"/><use href="#p14" transform="translate(12.8 -0.9) scale(1.0 0.5)"/><use href="#p1" transform="translate(12.6 0.1) scale(1.0 0.5)"/><use href="#p2" transform="translate(15.8 -0.6) scale(1.0 0.5)"/><use href="#p3" transform="translate(14.0 -1.9) scale(1.0 0.5)"/><use href="#p4" transform="translate(13.8 -1.4) scale(1.0 0.5)"/><use href="#p5" transform="translate(12.7 2.3) scale(1.0 0.5)"/><use href="#p6" transform="translate(14.2 3.8) scale(1.0 0.5)"/><use href="#p7" transform="translate(15.8 3.9) scale(1.0 0.5)"/><use href="#p8" transform="translate(11.7 0.3) scale(1.0 0.5)"/><use href="#p9" transform="translate(14.2 1.7) scale(1.0 0.5)"/><use href="#p10" transform="translate(14.4 -2.1) scale(1.0 0.5)"/><use href="#p11" transform="translate(14.0 -0.1) scale(1.0 0.5)"/><use href="#p12" transform="translate(12.1 -1.5) scale(1.0 0.5)"/><use href="#p13" transform="translate(13.1 0.7) scale(1.0 0.5)"/><use href="#p14" transform="translate(14.5 -1.3) scale(1.0 0.5)"/><use href="#p1" transform="translate(15.8 4.5) scale(1.0 0.5)"/><use href="#p2" transform="translate(14.7 -0.8) scale(1.0 0.5)"/><use href="#p3" transform="translate(13.4 0.1) scale(1.0 0.5)"/><use href="#p4" transform="translate(15.0 2.4) scale(1.0 0.5)"/><use href="#p5" transform="translate(13.1 -3.9) scale(1.0 0.5)"/><use href="#p6" transform="translate(13.0 1.0) scale(1.0 0.5)"/><use href="#p7" transform="translate(12.5 -0.2) scale(1.0 0.5)"/><use href="#p8" transform="translate(16.1 0.6) scale(1.0 0.5)"/><use href="#p9" transform="translate(15.4 2.4) scale(1.0 0.5)"/><use href="#p10" transform="translate(12.0 4.4) scale(1.0 0.5)"/><use href="#p11" transform="translate(15.1 1.5) scale(1.0 0.5)"/><use href="#p12" transform="translate(13.8 0.4) scale(1.0 0.5)"/><use href="#p13" transform="translate(13.8 0.8) scale(1.0 0.5)"/><use href="#p14" transform="translate(12.0 -4.7) scale(1.0 0.5)"/><use href="#p1" transform="translate(11.8 1.8) scale(1.0 0.5)"/><use href="#p2" transform="translate(11.6 1.0) scale(1.0 0.5)"/><use href="#p3" transform="translate(15.5 4.9) scale(1.0 0.5)"/><use href="#p4" transform="translate(12.0 -1.5) scale(1.0 0.5)"/><use href="#p5" transform="translate(15.2 2.5) scale(1.0 0.5)"/><use href="#p6" transform="translate(13.9 3.4) scale(1.0 0.5)"/><use href="#p7" transform="translate(15.3 -2.3) scale(1.0 0.5)"/><use href="#p8" transform="translate(16.0 1.0) scale(1.0 0.5)"/><use href="#p9" transform="translate(13.6 -0.4) scale(1.0 0.5)"/><use href="#p10" transform="translate(13.8 1.1) scale(1.0 0.5)"/><use href="#p11" transform="translate(15.0 -2.2) scale(1.0 0.5)"/><use href="#p12" transform="translate(13.5 3.2) scale(1.0 0.5)"/><use href="#p13" transform="translate(12.4 0.3) scale(1.0 0.5)"/><use href="#p14" transform="translate(16.2 -2.9) scale(1.0 0.5)"/><use href="#p1" transform="translate(14.6 -1.0) scale(1.0 0.5)"/><use href="#p2" transform="translate(14.0 2.7) scale(1.0 0.5)"/><use href="#p3" transform="translate(11.5 5.1) scale(1.0 0.5)"/><use href="#p4" transform="translate(12.1 -1.3) scale(1.0 0.5)"/><use href="#p5" transform="translate(12.1 -4.3) scale(1.0 0.5)"/><use href="#p6" transform="translate(14.2 -3.9) scale(1.0 0.5)"/><use href="#p7" transform="translate(14.7 -3.3) scale(1.0 0.5)"/><use href="#p8" transform="translate(12.5 2.6) scale(1.0 0.5)"/><use href="#p9" transform="translate(11.8 3.2) scale(1.0 0.5)"/><use href="#p10" transform="translate(13.4 0.2) scale(1.0 0.5)"/><use href="#p11" transform="translate(12.7 3.5) scale(1.0 0.5)"/><use href="#p12" transform="translate(12.0 0.5) scale(1.0 0.5)"/><use href="#p13" transform="translate(12.4 -0.5) scale(1.0 0.5)"/><use href="#p14" transform="translate(15.3 -0.3) scale(1.0 0.5)"/><use href="#p1" transform="translate(11.4 -1.0) scale(1.0 0.5)"/><use href="#p2" transform="translate(12.4 -0.1) scale(1.0 0.5)"/><use href="#p3" transform="translate(11.5 -0.3) scale(1.0 0.5)"/><use href="#p4" transform="translate(15.1 -0.4) scale(1.0 0.5)"/><use href="#p5" transform="translate(13.1 -3.1) scale(1.0 0.5)"/><use href="#p6" transform="translate(15.3 -0.7) scale(1.0 0.5)"/><use href="#p7" transform="translate(11.3 0.6) scale(1.0 0.5)"/><use href="#p8" transform="translate(13.4 -3.3) scale(1.0 0.5)"/><use href="#p9" transform="translate(13.7 3.3) scale(1.0 0.5)"/><use href="#p10" transform="translate(13.8 0.7) scale(1.0 0.5)"/><use href="#p11" transform="translate(13.2 0.9) scale(1.0 0.5)"/><use href="#p12" transform="translate(12.7 0.1) scale(1.0 0.5)"/><use href="#p13" transform="translate(15.9 0.1) scale(1.0 0.5)"/><use href="#p14" transform="translate(15.5 0.8) scale(1.0 0.5)"/><use href="#p1" transform="translate(12.6 -1.1) scale(1.0 0.5)"/><use href="#p2" transform="translate(13.8 0.4) scale(1.0 0.5)"/><use href="#p3" transform="translate(15.3 -3.2) scale(1.0 0.5)"/><use href="#p4" transform="translate(14.0 0.0) scale(1.0 0.5)"/><use href="#p5" transform="translate(14.6 -2.8) scale(1.0 0.5)"/><use href="#p6" transform="translate(12.4 1.8) scale(1.0 0.5)"/><use href="#p7" transform="translate(15.6 -1.7) scale(1.0 0.5)"/><use href="#p8" transform="translate(11.7 1.5) scale(1.0 0.5)"/><use href="#p9" transform="translate(13.0 3.8) scale(1.0 0.5)"/><use href="#p10" transform="translate(14.6 4.7) scale(1.0 0.5)"/></g>
<g stroke="#ff7f0e" stroke-width="1.0" stroke-opacity="0.2"><use href="#p15" transform="translate(12.8 -0.1) scale(1.0 0.5)"/><use href="#p16" transform="translate(13.8 0.0) scale(1.0 0.5)"/><use href="#p15" transform="translate(13.0 0.3) scale(1.0 0.5)"/><use href="#p16" transform="translate(13.3 0.0) scale(1.0 0.5)"/><use href="#p15" transform="translate(13.3 0.4) scale(1.0 0.5)"/><use href="#p16" transform="translate(13.4 -0.1) scale(1.0 0.5)"/></g>
<g stroke="#2ca02c" stroke-width="1.0" stroke-opacity="0.06"><use href="#p17" transform="translate(11.5 3.9) scale(1.0 0.5)"/><use href="#p18" transform="translate(17.9 1.3) scale(1.0 0.5)"/><use href="#p19" transform="translate(18.0 -4.6) scale(1.0 0.5)"/><use href="#p20" transform="translate(14.6 -1.3) scale(1.0 0.5)"/><use href="#p21" transform="translate(13.1 -1.3) scale(1.0 0.5)"/><use href="#p22" transform="translate(15.9 -0.9) scale(1.0 0.5)"/><use href="#p23" transform="translate(13.4 0.0) scale(1.0 0.5)"/><use href="#p24" transform="translate(13.5 4.4) scale(1.0 0.5)"/><use href="#p25" transform="translate(18.5 -2.7) scale(1.0 0.5)"/><use href="#p26" transform="translate(9.4 -4.2) scale(1.0 0.5)"/><use href="#p17" transform="translate(15.9 -0.8) scale(1.0 0.5)"/><use href="#p18" transform="translate(15.0 0.9) scale(1.0 0.5)"/><use href="#p19" transform="translate(13.2 -2.8) scale(1.0 0.5)"/><use href="#p20" transform="translate(11.7 2.7) scale(1.0 0.5)"/><use href="#p21" transform="translate(13.9 -4.6) scale(1.0 0.5)"/><use href="#p22" transform="translate(15.0 4.7) scale(1.0 0.5)"/><use href="#p23" transform="translate(18.7 -0.2) scale(1.0 0.5)"/><use href="#p24" transform="translate(14.1 -5.2) scale(1.0 0.5)"/><use href="#p25" transform="translate(10.3 3.1) scale(1.0 0.5)"/><use href="#p26" transform="translate(12.8 -0.7) scale(1.0 0.5)"/><use href="#p17" transform="translate(11.6 2.4) scale(1.0 0.5)"/><use href="#p18" transform="translate(15.2 -1.7) scale(1.0 0.5)"/><use href="#p19" transform="translate(16.4 3.0) scale(1.0 0.5)"/><use href="#p20" transform="translate(11.0 3.4) scale(1.0 0.5)"/><use href="#p21" transform="translate(16.3 -2.7) scale(1.0 0.5)"/><use href="#p22" transform="translate(9.6 -2.0) scale(1.0 0.5)"/><use href="#p23" transform="translate(14.0 -1.2) scale(1.0 0.5)"/><use href="#p24" transform="translate(12.6 0.6) scale(1.0 0.5)"/><use href="#p25" transform="translate(16.3 -0.3) scale(1.0 0.5)"/><use href="#p26" transform="translate(13.4 2.5) scale(1.0 0.5)"/><use href="#p17" transform="translate(14.8 -5.7) scale(1.0 0.5)"/><use href="#p18" transform="translate(15.5 1.7) scale(1.0 0.5)"/><use href="#p19" transform="translate(12.9 5.3) scale(1.0 0.5)"/><use href="#p20" transform="translate(11.6 -0.0) scale(1.0 0.5)"/><use href="#p21" transform="translate(15.3 -2.9) scale(1.0 0.5)"/><use href="#p22" transform="translate(17.9 0.2) scale(1.0 0.5)"/><use href="#p23" transform="translate(16.1 3.4) scale(1.0 0.5)"/><use href="#p24" transform="translate(10.0 0.4) scale(1.0 0.5)"/><use href="#p25" transform="translate(14.7 -4.4) scale(1.0 0.5)"/><use href="#p26" transform="translate(14.7 -5.6) scale(1.0 0.5)"/><use href="#p17" transform="translate(15.6 -4.4) scale(1.0 0.5)"/><use href="#p18" transform="translate(18.5 -3.3) scale(1.0 0.5)"/><use href="#p19" transform="translate(10.4 -1.3) scale(1.0 0.5)"/><use href="#p20" transform="translate(12.9 2.1) scale(1.0 0.5)"/><use href="#p21" transform="translate(12.8 -2.5) scale(1.0 0.5)"/><use href="#p22" transform="translate(16.0 -1.5) scale(1.0 0.5)"/><use href="#p23" transform="translate(12.5 -8.8) scale(1.0 0.5)"/><use href="#p24" transform="translate(13.6 1.0) scale(1.0 0.5)"/><use href="#p25" transform="translate(10.6 -4.7) scale(1.0 0.5)"/><use href="#p26" transform="translate(11.6 -1.1) scale(1.0 0.5)"/><use href="#p17" transform="translate(12.3 0.6) scale(1.0 0.5)"/><use href="#p18" transform="translate(10.3 -0.9) scale(1.0 0.5)"/><use href="#p19" transform="translate(15.9 3.0) scale(1.0 0.5)"/><use href="#p20" transform="translate(17.1 -0.5) scale(1.0 0.5)"/><use href="#p21" transform="translate(16.5 -6.5) scale(1.0 0.5)"/><use href="#p22" transform="translate(15.3 -4.8) scale(1.0 0.5)"/><use href="#p23" transform="translate(13.3 -0.5) scale(1.0 0.5)"/><use href="#p24" transform="translate(18.4 -1.7) scale(1.0 0.5)"/><use href="#p25" transform="translate(11.7 -1.9) scale(1.0 0.5)"/><use href="#p26" transform="translate(14.4 -4.4) scale(1.0 0.5)"/></g>
<g stroke="#d62728" stroke-width="1.0" stroke-opacity="0.045"><use href="#p27" transform="translate(16.7 0.2) scale(1.0 0.5)"/><use href="#p28" transform="translate(13.1 6.4) scale(1.0 0.5)"/><use href="#p29" transform="translate(17.1 -1.3) scale(1.0 0.5)"/><use href="#p30" transform="translate(18.6 -2.4) scale(1.0 0.5)"/><use href="#p31" transform="translate(11.6 -3.5) scale(1.0 0.5)"/><use href="#p32" transform="translate(11.1 -7.3) scale(1.0 0.5)"/><use href="#p33" transform="translate(11.0 0.1) scale(1.0 0.5)"/><use href="#p34" transform="translate(11.4 4.8) scale(1.0 0.5)"/><use href="#p27" transform="translate(12.2 -2.7) scale(1.0 0.5)"/><use href="#p28" transform="translate(12.7 4.3) scale(1.0 0.5)"/><use href="#p29" transform="translate(9.0 -2.6) scale(1.0 0.5)"/><use href="#p30" transform="translate(10.4 3.6) scale(1.0 0.5)"/><use href="#p31" transform="translate(14.7 -2.1) scale(1.0 0.5)"/><use href="#p32" transform="translate(15.9 3.9) scale(1.0 0.5)"/><use href="#p33" transform="translate(9.2 -4.4) scale(1.0 0.5)"/><use href="#p34" transform="translate(8.9 0.6) scale(1.0 0.5)"/><use href="#p27" transform="translate(11.8 5.0) scale(1.0 0.5)"/><use href="#p28" transform="translate(10.3 -5.7) scale(1.0 0.5)"/><use href="#p29" transform="translate(12.3 5.9) scale(1.0 0.5)"/><use href="#p30" transform="translate(10.7 -0.8) scale(1.0 0.5)"/><use href="#p31" transform="translate(14.3 -2.3) scale(1.0 0.5)"/><use href="#p32" transform="translate(13.1 -0.4) scale(1.0 0.5)"/><use href="#p33" transform="translate(10.8 2.0) scale(1.0 0.5)"/><use href="#p34" transform="translate(18.1 4.4) scale(1.0 0.5)"/><use href="#p27" transform="translate(9.4 0.5) scale(1.0 0.5)"/><use href="#p28" transform="translate(10.4 -0.2) scale(1.0 0.5)"/><use href="#p29" transform="translate(10.5 2.3) scale(1.0 0.5)"/><use href="#p30" transform="translate(9.4 3.6) scale(1.0 0.5)"/><use href="#p31" transform="translate(17.8 -1.5) scale(1.0 0.5)"/><use href="#p32" transform="translate(10.6 1.0) scale(1.0 0.5)"/><use href="#p33" transform="translate(10.1 4.1) scale(1.0 0.5)"/><use href="#p34" transform="translate(13.4 3.9) scale(1.0 0.5)"/><use href="#p27" transform="translate(11.3 2.5) scale(1.0 0.5)"/><use href="#p28" transform="translate(9.3 -0.5) scale(1.0 0.5)"/><use href="#p29" transform="translate(16.3 -3.7) scale(1.0 0.5)"/><use href="#p30" transform="translate(15.1 2.3) scale(1.0 0.5)"/><use href="#p31" transform="translate(15.8 6.2) scale(1.0 0.5)"/><use href="#p32" transform="translate(9.6 -0.6) scale(1.0 0.5)"/><use href="#p33" transform="translate(9.7 -8.7) scale(1.0 0.5)"/><use href="#p34" transform="translate(11.6 1.1) scale(1.0 0.5)"/><use href="#p27" transform="translate(16.9 -1.4) scale(1.0 0.5)"/><use href="#p28" transform="translate(11.2 -6.8) scale(1.0 0.5)"/><use href="#p29" transform="translate(16.3 2.3) scale(1.0 0.5)"/><use href="#p30" transform="translate(13.0 4.8) scale(1.0 0.5)"/><use href="#p31" transform="translate(18.6 3.9) scale(1.0 0.5)"/><use href="#p32" transform="translate(13.6 3.2) scale(1.0 0.5)"/><use href="#p33" transform="translate(18.2 -2.0) scale(1.0 0.5)"/><use href="#p34" transform="translate(16.7 0.9) scale(1.0 0.5)"/><use href="#p27" transform="translate(14.1 -3.0) scale(1.0 0.5)"/><use href="#p28" transform="translate(9.8 -1.3) scale(1.0 0.5)"/></g>
<g stroke="#9467bd" stroke-width="1.0" stroke-opacity="0.04"><use href="#p35" transform="translate(11.3 0.5) scale(1.0 0.5)"/><use href="#p36" transform="translate(16.5 -0.3) scale(1.0 0.5)"/><use href="#p37" transform="translate(15.0 -0.7) scale(1.0 0.5)"/><use href="#p38" transform="translate(11.2 0.3) scale(1.0 0.5)"/><use href="#p35" transform="translate(17.5 -1.7) scale(1.0 0.5)"/><use href="#p36" transform="translate(14.1 0.3) scale(1.0 0.5)"/><use href="#p37" transform="translate(13.6 0.3) scale(1.0 0.5)"/><use href="#p38" transform="translate(17.3 -1.9) scale(1.0 0.5)"/><use href="#p35" transform="translate(11.3 1.5) scale(1.0 0.5)"/><use href="#p36" transform="translate(14.0 0.7) scale(1.0 0.5)"/><use href="#p37" transform="translate(17.7 0.3) scale(1.0 0.5)"/><use href="#p38" transform="translate(14.2 -0.2) scale(1.0 0.5)"/><use href="#p35" transform="translate(15.4 -1.2) scale(1.0 0.5)"/><use href="#p36" transform="translate(9.5 1.7) scale(1.0 0.5)"/><use href="#p37" transform="translate(14.0 -0.2) scale(1.0 0.5)"/><use href="#p38" transform="translate(10.8 0.7) scale(1.0 0.5)"/><use href="#p35" transform="translate(14.4 -1.0) scale(1.0 0.5)"/><use href="#p36" transform="translate(12.2 -0.1) scale(1.0 0.5)"/><use href="#p37" transform="translate(17.1 0.3) scale(1.0 0.5)"/><use href="#p38" transform="translate(14.0 -1.9) scale(1.0 0.5)"/></g>
<g stroke="#8c564b" stroke-width="1.0" stroke-opacity="0.06"><use href="#p39" transform="translate(17.3 -4.3) scale(1.0 0.5)"/><use href="#p40" transform="translate(9.0 -0.5) scale(1.0 0.5)"/><use href="#p41" transform="translate(12.6 0.1) scale(1.0 0.5)"/><use href="#p42" transform="translate(16.1 -2.1) scale(1.0 0.5)"/><use href="#p43" transform="translate(12.7 1.7) scale(1.0 0.5)"/><use href="#p44" transform="translate(9.2 -0.8) scale(1.0 0.5)"/><use href="#p45" transform="translate(14.4 3.9) scale(1.0 0.5)"/><use href="#p46" transform="translate(15.3 -1.5) scale(1.0 0.5)"/><use href="#p47" transform="translate(18.2 -1.4) scale(1.0 0.5)"/><use href="#p48" transform="translate(18.3 5.4) scale(1.0 0.5)"/><use href="#p39" transform="translate(12.0 0.6) scale(1.0 0.5)"/><use href="#p40" transform="translate(12.0 0.7) scale(1.0 0.5)"/><use href="#p41" transform="translate(13.0 -2.1) scale(1.0 0.5)"/><use href="#p42" transform="translate(9.8 1.7) scale(1.0 0.5)"/><use href="#p43" transform="translate(13.6 2.6) scale(1.0 0.5)"/><use href="#p44" transform="translate(11.7 -1.4) scale(1.0 0.5)"/><use href="#p45" transform="translate(16.1 -3.0) scale(1.0 0.5)"/><use href="#p46" transform="translate(14.1 -3.7) scale(1.0 0.5)"/><use href="#p47" transform="translate(8.8 -1.1) scale(1.0 0.5)"/><use href="#p48" transform="translate(18.0 1.3) scale(1.0 0.5)"/><use href="#p39" transform="translate(18.2 -4.5) scale(1.0 0.5)"/><use href="#p40" transform="translate(9.1 -1.2) scale(1.0 0.5)"/><use href="#p41" transform="translate(13.3 -3.5) scale(1.0 0.5)"/><use href="#p42" transform="translate(9.7 3.3) scale(1.0 0.5)"/><use href="#p43" transform="translate(17.3 -1.4) scale(1.0 0.5)"/><use href="#p44" transform="translate(11.9 -0.1) scale(1.0 0.5)"/><use href="#p45" transform="translate(11.3 1.0) scale(1.0 0.5)"/><use href="#p46" transform="translate(13.9 -0.7) scale(1.0 0.5)"/><use href="#p47" transform="translate(16.2 2.2) scale(1.0 0.5)"/><use href="#p48" transform="translate(9.8 -2.0) scale(1.0 0.5)"/><use href="#p39" transform="translate(11.0 0.8) scale(1.0 0.5)"/><use href="#p40" transform="translate(10.7 5.4) scale(1.0 0.5)"/><use href="#p41" transform="translate(18.2 0.9) scale(1.0 0.5)"/><use href="#p42" transform="translate(15.2 -1.0) scale(1.0 0.5)"/><use href="#p43" transform="translate(9.3 -1.0) scale(1.0 0.5)"/><use href="#p44" transform="translate(14.7 -2.4) scale(1.0 0.5)"/><use href="#p45" transform="translate(18.0 -3.8) scale(1.0 0.5)"/><use href="#p46" transform="translate(16.2 0.8) scale(1.0 0.5)"/><use href="#p47" transform="translate(9.0 -3.4) scale(1.0 0.5)"/><use href="#p48" transform="translate(17.7 0.2) scale(1.0 0.5)"/><use href="#p39" transform="translate(13.1 -1.5) scale(1.0 0.5)"/><use href="#p40" transform="translate(16.6 -0.3) scale(1.0 0.5)"/><use href="#p41" transform="translate(17.6 -0.9) scale(1.0 0.5)"/><use href="#p42" transform="translate(14.5 -1.6) scale(1.0 0.5)"/><use href="#p43" transform="translate(15.5 1.8) scale(1.0 0.5)"/><use href="#p44" transform="translate(18.6 -0.0) scale(1.0 0.5)"/><use href="#p45" transform="translate(16.2 2.2) scale(1.0 0.5)"/><use href="#p46" transform="translate(13.6 3.5) scale(1.0 0.5)"/><use href="#p47" transform="translate(14.3 -2.6) scale(1.0 0.5)"/><use href="#p48" transform="translate(12.5 -5.0) scale(1.0 0.5)"/><use href="#p39" transform="translate(15.5 1.3) scale(1.0 0.5)"/><use href="#p40" transform="translate(10.6 -0.9) scale(1.0 0.5)"/><use href="#p41" transform="translate(18.2 6.6) scale(1.0 0.5)"/><use href="#p42" transform="translate(10.2 1.0) scale(1.0 0.5)"/><use href="#p43" transform="translate(18.3 -1.9) scale(1.0 0.5)"/><use href="#p44" transform="translate(9.2 0.7) scale(1.0 0.5)"/><use href="#p45" transform="translate(14.3 4.4) scale(1.0 0.5)"/><use href="#p46" transform="translate(9.6 0.5) scale(1.0 0.5)"/><use href="#p47" transform="translate(9.4 -0.5) scale(1.0 0.5)"/><use href="#p48" transform="translate(16.9 1.4) scale(1.0 0.5)"/></g>
<g stroke="#e377c2" stroke-width="1.0" stroke-opacity="0.025"><use href="#p49" transform="translate(11.5 -0.2) scale(1.0 0.5)"/><use href="#p50" transform="translate(12.5 0.5) scale(1.0 0.5)"/><use href="#p51" transform="translate(16.7 3.6) scale(1.0 0.5)"/><use href="#p52" transform="translate(9.1 1.6) scale(1.0 0.5)"/><use href="#p53" transform="translate(9.4 1.7) scale(1.0 0.5)"/><use href="#p54" transform="translate(12.2 -1.7) scale(1.0 0.5)"/><use href="#p49" transform="translate(11.4 -3.8) scale(1.0 0.5)"/><use href="#p50" transform="translate(14.7 2.9) scale(1.0 0.5)"/><use href="#p51" transform="translate(15.7 2.1) scale(1.0 0.5)"/><use href="#p52" transform="translate(16.5 -0.3) scale(1.0 0.5)"/><use href="#p53" transform="translate(16.7 -1.9) scale(1.0 0.5)"/><use href="#p54" transform="translate(14.2 -0.4) scale(1.0 0.5)"/><use href="#p49" transform="translate(15.4 -2.9) scale(1.0 0.5)"/><use href="#p50" transform="translate(17.9 5.7) scale(1.0 0.5)"/><use href="#p51" transform="translate(15.8 -4.2) scale(1.0 0.5)"/><use href="#p52" transform="translate(12.9 3.3) scale(1.0 0.5)"/><use href="#p53" transform="translate(18.7 -1.6) scale(1.0 0.5)"/><use href="#p54" transform="translate(10.6 2.8) scale(1.0 0.5)"/><use href="#p49" transform="translate(11.3 -2.9) scale(1.0 0.5)"/><use href="#p50" transform="translate(9.8 1.4) scale(1.0 0.5)"/><use href="#p51" transform="translate(10.7 -1.7) scale(1.0 0.5)"/><use href="#p52" transform="translate(16.0 -1.7) scale(1.0 0.5)"/><use href="#p53" transform="translate(18.6 6.0) scale(1.0 0.5)"/><use href="#p54" transform="translate(12.7 -1.4) scale(1.0 0.5)"/><use href="#p49" transform="translate(17.6 -0.9) scale(1.0 0.5)"/><use href="#p50" transform="translate(18.5 -0.5) scale(1.0 0.5)"/><use href="#p51" transform="translate(9.3 -1.2) scale(1.0 0.5)"/><use href="#p52" transform="translate(17.4 0.1) scale(1.0 0.5)"/><use href="#p53" transform="translate(17.0 -0.9) scale(1.0 0.5)"/><use href="#p54" transform="translate(10.7 -0.5) scale(1.0 0.5)"/><use href="#p49" transform="translate(12.7 -3.7) scale(1.0 0.5)"/><use href="#p50" transform="translate(17.9 -2.7) scale(1.0 0.5)"/><use href="#p51" transform="translate(10.1 -1.4) scale(1.0 0.5)"/><use href="#p52" transform="translate(11.6 -2.0) scale(1.0 0.5)"/><use href="#p53" transform="translate(18.7 -2.7) scale(1.0 0.5)"/><use href="#p54" transform="translate(14.4 -0.4) scale(1.0 0.5)"/><use href="#p49" transform="translate(9.4 5.6) scale(1.0 0.5)"/><use href="#p50" transform="translate(17.3 2.5) scale(1.0 0.5)"/><use href="#p51" transform="translate(12.2 -1.1) scale(1.0 0.5)"/><use href="#p52" transform="translate(14.3 -1.0) scale(1.0 0.5)"/><use href="#p53" transform="translate(11.4 0.3) scale(1.0 0.5)"/><use href="#p54" transform="translate(10.5 0.8) scale(1.0 0.5)"/><use href="#p49" transform="translate(18.6 0.6) scale(1.0 0.5)"/><use href="#p50" transform="translate(16.3 2.2) scale(1.0 0.5)"/><use href="#p51" transform="translate(10.2 0.5) scale(1.0 0.5)"/><use href="#p52" transform="translate(14.6 4.4) scale(1.0 0.5)"/><use href="#p53" transform="translate(16.3 0.8) scale(1.0 0.5)"/><use href="#p54" transform="translate(9.9 -0.9) scale(1.0 0.5)"/><use href="#p49" transform="translate(9.7 -0.5) scale(1.0 0.5)"/><use href="#p50" transform="translate(11.2 -1.3) scale(1.0 0.5)"/></g>
<path d="M21.8 204.8l.2 1.7.2 1.6.3 1.6.3 1.6.2 1.5.2 1.4.3 1.4 1.3 6.3 1 4.3 1 3.6 1 3.3 1 2.8 1 2.5 1 2.1 1 1.8 1 1.5 1 1.4 1 1.1 1 .9 1 .8 1 .7 1 .7 1 .6 1 .5 1 .5 1 .4 1 .4 1 .3 1 .2 1 .1 1 .1 1 .1 1 0 1 .1 1 0 1 .1 1 .1 1 .1 1 .1 1 .1 1 0 1 .1 1 .1 1 0 1-.1 1 .1 1 .1 1 0 1 0 1 0 1 .1 1 .1 1 0 1 .1 1 .1 1 0 1 0 1 .1 1 .1 1 .1 1 .1 1 0 1 .1 1-.1 1 .1 1-.1 1-.1 1-.1 1-.1 1-.1 1-.1 1 0 1 0 1 0 1 0 1 .1 1 0 1 0 1-.1 1 0 1-.2 1-.2 1-.2 1-.1 1-.3 1-.2 1 0 1-.1 1 .1 1 0 1 .3 1 .2 1 .3 1 .3 1 .2 1 .2 1 .2 1 .2 1 .1 1 .1 1 .1 1 .1 1 0 1 0 1 .1 1 0 1 0 1-.1 1 0 1-.1 1-.1 1 0 1-.1 1-.1 1-.1 1-.1 1-.1 1-.2 1-.1 1-.1 1-.2 1-.1 1-.1 1 0 1-.1 1-.1 1-.1 1-.2 1-.2 1-.1 1-.2 1-.1 1-.1 1-.1 1 .1 1 0 1 .1 1 .2 1 .2 1 .2 1 .2 1 .1 1 .1 1 0 1 .2 1 0 1 .1 1 .1 1 .1 1 .2 1 .1 1 .1 1 .1 1 0 1 0 1-.1 1-.2 1-.2 1-.2 1-.2 1-.2 1-.2 1 0 1 0 1 0 1 .1 1 .2 1 .2 1 .2 1 .2 1 .3 1 .1 1 .2 1 .1 1-.1 1 .1 1-.2 1-.1 1-.2 1-.2 1-.2 1-.1 1-.1 1-.1 1 .1 1 0 1 .1 1 .1 1 .3 1 .1 1 .2 1 .1 1 .1 1 .1 1 0 1 .1 1-.1 1 0 1 0 1 0 1 0 1 0 1 0 1 0 1 0 1 .1 1 0 1 0 1 .1 1 0 1-.1 1 0 1 0 1 0 1 0 1 0 1 0 1 .1 1 0 1 0 1 0 1-.1 1-.1 1-.2 1-.2 1-.2 1-.3 1-.1 1-.2 1-.1 1 0 1-.1 1 .1 1 .1 1 .1 1 0 1 0 1 .1 1 0 1 0 1-.1 1-.1 1 0 1-.1 1 0 1-.1 1 0 1 .1 1 0 1 0 1 .1 1 .1 1 .1 1 .1 1 .1 1 .1 1 .2 1 0 1 .2 1 .2 1 .1 1 .1 1 0 1 .1 1 0 1-.1 1 0 1-.1 1-.2 1-.1 1-.2 1-.1 1-.1 1-.1 1 0 1-.1 1-.1 1 .1 1 .1 1 .1 1 .1 1 .2 1 .2 1 .2 1 .2 1 .1 1 .1 1 0 1 0 1 0 1-.2 1-.1 1-.1 1-.2 1-.3 1-.2 1-.1 1-.2 1-.1 1 0 1 0 1 .1 1 .2 1 .1 1 .1 1 0 1 .1 1 0 1-.1 1-.2 1-.1 1-.2 1-.2" stroke="#fff" stroke-width="4.6" stroke-opacity="1"/><path d="M21.8 204.8l.2 1.7.2 1.6.3 1.6.3 1.6.2 1.5.2 1.4.3 1.4 1.3 6.3 1 4.3 1 3.6 1 3.3 1 2.8 1 2.5 1 2.1 1 1.8 1 1.5 1 1.4 1 1.1 1 .9 1 .8 1 .7 1 .7 1 .6 1 .5 1 .5 1 .4 1 .4 1 .3 1 .2 1 .1 1 .1 1 .1 1 0 1 .1 1 0 1 .1 1 .1 1 .1 1 .1 1 .1 1 0 1 .1 1 .1 1 0 1-.1 1 .1 1 .1 1 0 1 0 1 0 1 .1 1 .1 1 0 1 .1 1 .1 1 0 1 0 1 .1 1 .1 1 .1 1 .1 1 0 1 .1 1-.1 1 .1 1-.1 1-.1 1-.1 1-.1 1-.1 1-.1 1 0 1 0 1 0 1 0 1 .1 1 0 1 0 1-.1 1 0 1-.2 1-.2 1-.2 1-.1 1-.3 1-.2 1 0 1-.1 1 .1 1 0 1 .3 1 .2 1 .3 1 .3 1 .2 1 .2 1 .2 1 .2 1 .1 1 .1 1 .1 1 .1 1 0 1 0 1 .1 1 0 1 0 1-.1 1 0 1-.1 1-.1 1 0 1-.1 1-.1 1-.1 1-.1 1-.1 1-.2 1-.1 1-.1 1-.2 1-.1 1-.1 1 0 1-.1 1-.1 1-.1 1-.2 1-.2 1-.1 1-.2 1-.1 1-.1 1-.1 1 .1 1 0 1 .1 1 .2 1 .2 1 .2 1 .2 1 .1 1 .1 1 0 1 .2 1 0 1 .1 1 .1 1 .1 1 .2 1 .1 1 .1 1 .1 1 0 1 0 1-.1 1-.2 1-.2 1-.2 1-.2 1-.2 1-.2 1 0 1 0 1 0 1 .1 1 .2 1 .2 1 .2 1 .2 1 .3 1 .1 1 .2 1 .1 1-.1 1 .1 1-.2 1-.1 1-.2 1-.2 1-.2 1-.1 1-.1 1-.1 1 .1 1 0 1 .1 1 .1 1 .3 1 .1 1 .2 1 .1 1 .1 1 .1 1 0 1 .1 1-.1 1 0 1 0 1 0 1 0 1 0 1 0 1 0 1 0 1 .1 1 0 1 0 1 .1 1 0 1-.1 1 0 1 0 1 0 1 0 1 0 1 0 1 .1 1 0 1 0 1 0 1-.1 1-.1 1-.2 1-.2 1-.2 1-.3 1-.1 1-.2 1-.1 1 0 1-.1 1 .1 1 .1 1 .1 1 0 1 0 1 .1 1 0 1 0 1-.1 1-.1 1 0 1-.1 1 0 1-.1 1 0 1 .1 1 0 1 0 1 .1 1 .1 1 .1 1 .1 1 .1 1 .1 1 .2 1 0 1 .2 1 .2 1 .1 1 .1 1 0 1 .1 1 0 1-.1 1 0 1-.1 1-.2 1-.1 1-.2 1-.1 1-.1 1-.1 1 0 1-.1 1-.1 1 .1 1 .1 1 .1 1 .1 1 .2 1 .2 1 .2 1 .2 1 .1 1 .1 1 0 1 0 1 0 1-.2 1-.1 1-.1 1-.2 1-.3 1-.2 1-.1 1-.2 1-.1 1 0 1 0 1 .1 1 .2 1 .1 1 .1 1 0 1 .1 1 0 1-.1 1-.2 1-.1 1-.2 1-.2" stroke="#1f77b4" stroke-width="2.1" stroke-opacity="1"/>
<path d="M21.8 383.8l.2-2.7.2-3.9.3-4.5.3-3.6.2-1.2.2 1.7.3 3.9 1.3 12.1 1 .1 1-.1 1 0 1 0 1 .1 1 .1 1 .2 1 .1 1 .1 1-.1 1 0 1-.1 1 0 1-.2 1-.1 1 0 1-.2 1 0 1 0 1 0 1 .1 1 .1 1 .2 1 .1 1 .1 1 .1 1 0 1 0 1 0 1-.1 1-.1 1 0 1-.1 1 .1 1 0 1 .1 1 .1 1 .1 1 .1 1 .1 1 0 1 0 1 0 1 0 1 0 1 0 1 0 1 0 1 0 1 0 1 0 1 0 1 0 1 0 1 0 1-.1 1-.1 1-.1 1-.1 1-.2 1-.2 1-.3 1-.3 1-.2 1-.2 1-.1 1-.1 1 0 1 .2 1 .1 1 .3 1 .2 1 .3 1 .3 1 .2 1 .2 1 .2 1 0 1 0 1 0 1 0 1 0 1 0 1 0 1 0 1 0 1-.1 1 0 1-.1 1-.1 1 0 1 0 1-.1 1 0 1-.1 1-.1 1 0 1-.1 1-.1 1-.1 1-.2 1-.1 1 0 1-.1 1 0 1 0 1 .1 1 0 1 0 1 .1 1 .1 1 .1 1 .1 1 0 1 .1 1 .1 1 .1 1 .2 1 0 1 .1 1 0 1 .1 1 0 1 0 1-.1 1 0 1-.1 1-.1 1 0 1-.1 1 0 1 0 1-.1 1 .1 1 0 1 0 1 0 1 .1 1 0 1 0 1-.1 1 0 1 0 1 0 1-.1 1 0 1 0 1 0 1 0 1 .1 1-.1 1-.1 1 0 1 0 1-.1 1 0 1 0 1 0 1 .1 1 0 1 0 1 .2 1 0 1 0 1 0 1-.1 1-.1 1-.1 1-.1 1-.2 1-.1 1-.1 1 0 1 0 1 .1 1 .1 1 .2 1 .1 1 .1 1 .2 1 .1 1 .2 1 0 1 .1 1 .1 1 0 1 0 1 0 1 0 1 0 1 0 1 0 1 0 1 0 1 0 1 0 1 0 1-.1 1-.1 1-.1 1-.2 1-.1 1-.1 1-.1 1 0 1 0 1 0 1 .1 1 .1 1 0 1 .1 1 0 1 .1 1 0 1 0 1 0 1 0 1 0 1 0 1 0 1 0 1 0 1 0 1 0 1 0 1 0 1 0 1 0 1 0 1 0 1 0 1 0 1 0 1 0 1-.1 1-.1 1-.2 1-.1 1-.1 1-.1 1-.1 1 0 1 .1 1 0 1 .1 1 .1 1 0 1 .1 1 0 1 0 1 0 1-.1 1 0 1-.1 1 .1 1 0 1 .1 1 .2 1 .1 1 .2 1 .2 1 .1 1 0 1 0 1 0 1 0 1 0 1 0 1 0 1 0 1 0 1 0 1 0 1 0 1 0 1 0 1 0 1 0 1 0 1 0 1 0 1-.2 1-.1 1-.2 1-.2 1-.2 1-.1 1-.2 1-.2 1-.1 1-.1 1 0 1 0 1 .1 1 .1 1 .2 1 .2 1 .2 1 .2 1 .3 1 .1 1 .2 1 0 1 0 1 0" stroke="#fff" stroke-width="4.6" stroke-opacity="1"/><path d="M21.8 383.8l.2-2.7.2-3.9.3-4.5.3-3.6.2-1.2.2 1.7.3 3.9 1.3 12.1 1 .1 1-.1 1 0 1 0 1 .1 1 .1 1 .2 1 .1 1 .1 1-.1 1 0 1-.1 1 0 1-.2 1-.1 1 0 1-.2 1 0 1 0 1 0 1 .1 1 .1 1 .2 1 .1 1 .1 1 .1 1 0 1 0 1 0 1-.1 1-.1 1 0 1-.1 1 .1 1 0 1 .1 1 .1 1 .1 1 .1 1 .1 1 0 1 0 1 0 1 0 1 0 1 0 1 0 1 0 1 0 1 0 1 0 1 0 1 0 1 0 1 0 1-.1 1-.1 1-.1 1-.1 1-.2 1-.2 1-.3 1-.3 1-.2 1-.2 1-.1 1-.1 1 0 1 .2 1 .1 1 .3 1 .2 1 .3 1 .3 1 .2 1 .2 1 .2 1 0 1 0 1 0 1 0 1 0 1 0 1 0 1 0 1 0 1-.1 1 0 1-.1 1-.1 1 0 1 0 1-.1 1 0 1-.1 1-.1 1 0 1-.1 1-.1 1-.1 1-.2 1-.1 1 0 1-.1 1 0 1 0 1 .1 1 0 1 0 1 .1 1 .1 1 .1 1 .1 1 0 1 .1 1 .1 1 .1 1 .2 1 0 1 .1 1 0 1 .1 1 0 1 0 1-.1 1 0 1-.1 1-.1 1 0 1-.1 1 0 1 0 1-.1 1 .1 1 0 1 0 1 0 1 .1 1 0 1 0 1-.1 1 0 1 0 1 0 1-.1 1 0 1 0 1 0 1 0 1 .1 1-.1 1-.1 1 0 1 0 1-.1 1 0 1 0 1 0 1 .1 1 0 1 0 1 .2 1 0 1 0 1 0 1-.1 1-.1 1-.1 1-.1 1-.2 1-.1 1-.1 1 0 1 0 1 .1 1 .1 1 .2 1 .1 1 .1 1 .2 1 .1 1 .2 1 0 1 .1 1 .1 1 0 1 0 1 0 1 0 1 0 1 0 1 0 1 0 1 0 1 0 1 0 1 0 1-.1 1-.1 1-.1 1-.2 1-.1 1-.1 1-.1 1 0 1 0 1 0 1 .1 1 .1 1 0 1 .1 1 0 1 .1 1 0 1 0 1 0 1 0 1 0 1 0 1 0 1 0 1 0 1 0 1 0 1 0 1 0 1 0 1 0 1 0 1 0 1 0 1 0 1 0 1 0 1-.1 1-.1 1-.2 1-.1 1-.1 1-.1 1-.1 1 0 1 .1 1 0 1 .1 1 .1 1 0 1 .1 1 0 1 0 1 0 1-.1 1 0 1-.1 1 .1 1 0 1 .1 1 .2 1 .1 1 .2 1 .2 1 .1 1 0 1 0 1 0 1 0 1 0 1 0 1 0 1 0 1 0 1 0 1 0 1 0 1 0 1 0 1 0 1 0 1 0 1 0 1 0 1-.2 1-.1 1-.2 1-.2 1-.2 1-.1 1-.2 1-.2 1-.1 1-.1 1 0 1 0 1 .1 1 .1 1 .2 1 .2 1 .2 1 .2 1 .3 1 .1 1 .2 1 0 1 0 1 0" stroke="#ff7f0e" stroke-width="2.1" stroke-opacity="1"/>
<path d="M21.8 386.5l.2-.4.2-.3.3-.4.3-.3.2-.2.2-.3.3-.2 1.3-1 1-.5 1-.3 1-.3 1-.2 1 0 1-.1 1 0 1 .1 1 .1 1 0 1 .1 1 0 1 .1 1-.1 1 0 1 0 1 0 1 0 1 0 1 0 1 0 1 .1 1 0 1 0 1 .1 1-.1 1 0 1-.1 1-.1 1-.1 1-.1 1-.1 1-.1 1 .1 1 .1 1 .1 1 .1 1 .2 1 .2 1 .1 1 .1 1 0 1 0 1-.2 1-.1 1-.2 1-.1 1-.1 1-.1 1 0 1 .1 1 .1 1 .2 1 .2 1 .2 1 .2 1 .2 1 .2 1 .1 1 .2 1 .2 1 .1 1 0 1 0 1 0 1 0 1-.1 1-.1 1-.1 1-.2 1-.1 1-.1 1 0 1-.1 1 0 1 0 1 0 1 0 1 .1 1 .1 1 0 1 0 1 .1 1 .1 1 0 1 .1 1 .1 1 0 1 0 1 0 1 0 1-.2 1-.1 1-.1 1-.2 1-.2 1-.1 1-.1 1-.1 1 0 1 .1 1 .1 1 .2 1 .2 1 .2 1 .3 1 .2 1 .1 1 .1 1 0 1 0 1-.1 1-.2 1-.2 1-.3 1-.3 1-.2 1-.3 1-.2 1-.2 1-.2 1 0 1-.1 1 0 1 0 1 .2 1 .1 1 .2 1 .2 1 .2 1 .3 1 .2 1 .2 1 .1 1 .1 1 .1 1 .1 1 .1 1 0 1 .1 1 0 1 0 1 0 1-.1 1 0 1-.1 1-.1 1-.2 1-.1 1 0 1 0 1 0 1 .1 1 .1 1 .1 1 .2 1 .2 1 .2 1 .1 1 .1 1 0 1-.1 1-.1 1-.1 1-.2 1-.1 1-.2 1-.1 1-.1 1 0 1-.1 1 .1 1 0 1 .1 1 .1 1 0 1 .1 1 0 1 .1 1 .1 1 0 1 .2 1 0 1 .1 1 .1 1 .1 1-.1 1-.1 1-.1 1-.1 1-.2 1-.1 1-.1 1 0 1-.1 1 0 1 0 1 0 1 0 1 0 1-.1 1-.1 1-.1 1 .1 1 .1 1 .1 1 .1 1 .3 1 .3 1 .3 1 .2 1 .3 1 .1 1 .1 1 0 1 0 1-.1 1-.1 1-.3 1-.1 1-.2 1-.2 1-.1 1 0 1 0 1 0 1 0 1 .1 1 0 1 0 1 0 1 0 1-.1 1 0 1 0 1 0 1 0 1-.1 1 0 1 0 1-.1 1 0 1-.1 1 0 1 .1 1 .1 1 0 1 .2 1 .1 1 0 1 0 1 0 1-.1 1-.1 1-.1 1-.1 1 0 1 0 1 0 1 .1 1 .1 1 0 1 .1 1 0 1-.1 1 0 1-.1 1 0 1-.1 1 0 1-.1 1 0 1 0 1 0 1 0 1 0 1 0 1 .1 1-.1 1 .1 1 0 1 .1 1 0 1 .1 1 .1 1 0 1 0 1 0 1 0 1 0 1-.1 1-.1 1-.1 1 0 1 0 1 .2 1 .1 1 .2 1 .2 1 .2 1 .2 1 .1 1 .1 1 0 1 0" stroke="#fff" stroke-width="4.6" stroke-opacity="1"/><path d="M21.8 386.5l.2-.4.2-.3.3-.4.3-.3.2-.2.2-.3.3-.2 1.3-1 1-.5 1-.3 1-.3 1-.2 1 0 1-.1 1 0 1 .1 1 .1 1 0 1 .1 1 0 1 .1 1-.1 1 0 1 0 1 0 1 0 1 0 1 0 1 0 1 .1 1 0 1 0 1 .1 1-.1 1 0 1-.1 1-.1 1-.1 1-.1 1-.1 1-.1 1 .1 1 .1 1 .1 1 .1 1 .2 1 .2 1 .1 1 .1 1 0 1 0 1-.2 1-.1 1-.2 1-.1 1-.1 1-.1 1 0 1 .1 1 .1 1 .2 1 .2 1 .2 1 .2 1 .2 1 .2 1 .1 1 .2 1 .2 1 .1 1 0 1 0 1 0 1 0 1-.1 1-.1 1-.1 1-.2 1-.1 1-.1 1 0 1-.1 1 0 1 0 1 0 1 0 1 .1 1 .1 1 0 1 0 1 .1 1 .1 1 0 1 .1 1 .1 1 0 1 0 1 0 1 0 1-.2 1-.1 1-.1 1-.2 1-.2 1-.1 1-.1 1-.1 1 0 1 .1 1 .1 1 .2 1 .2 1 .2 1 .3 1 .2 1 .1 1 .1 1 0 1 0 1-.1 1-.2 1-.2 1-.3 1-.3 1-.2 1-.3 1-.2 1-.2 1-.2 1 0 1-.1 1 0 1 0 1 .2 1 .1 1 .2 1 .2 1 .2 1 .3 1 .2 1 .2 1 .1 1 .1 1 .1 1 .1 1 .1 1 0 1 .1 1 0 1 0 1 0 1-.1 1 0 1-.1 1-.1 1-.2 1-.1 1 0 1 0 1 0 1 .1 1 .1 1 .1 1 .2 1 .2 1 .2 1 .1 1 .1 1 0 1-.1 1-.1 1-.1 1-.2 1-.1 1-.2 1-.1 1-.1 1 0 1-.1 1 .1 1 0 1 .1 1 .1 1 0 1 .1 1 0 1 .1 1 .1 1 0 1 .2 1 0 1 .1 1 .1 1 .1 1-.1 1-.1 1-.1 1-.1 1-.2 1-.1 1-.1 1 0 1-.1 1 0 1 0 1 0 1 0 1 0 1-.1 1-.1 1-.1 1 .1 1 .1 1 .1 1 .1 1 .3 1 .3 1 .3 1 .2 1 .3 1 .1 1 .1 1 0 1 0 1-.1 1-.1 1-.3 1-.1 1-.2 1-.2 1-.1 1 0 1 0 1 0 1 0 1 .1 1 0 1 0 1 0 1 0 1-.1 1 0 1 0 1 0 1 0 1-.1 1 0 1 0 1-.1 1 0 1-.1 1 0 1 .1 1 .1 1 0 1 .2 1 .1 1 0 1 0 1 0 1-.1 1-.1 1-.1 1-.1 1 0 1 0 1 0 1 .1 1 .1 1 0 1 .1 1 0 1-.1 1 0 1-.1 1 0 1-.1 1 0 1-.1 1 0 1 0 1 0 1 0 1 0 1 0 1 .1 1-.1 1 .1 1 0 1 .1 1 0 1 .1 1 .1 1 0 1 0 1 0 1 0 1 0 1-.1 1-.1 1-.1 1 0 1 0 1 .2 1 .1 1 .2 1 .2 1 .2 1 .2 1 .1 1 .1 1 0 1 0" stroke="#d62728" stroke-width="2.1" stroke-opacity="1"/>
<path d="M21.8 386.5l.2-.2.2-.2.3-.2.3-.2.2-.1.2-.1.3-.1 1.3-.5 1-.2 1-.2 1-.1 1-.2 1-.2 1-.1 1-.1 1 0 1 .1 1 .1 1 .1 1 .1 1 .2 1 .2 1 .1 1 .1 1 0 1 0 1 0 1 0 1 0 1 .1 1 0 1 0 1 .1 1 .1 1 .1 1 .1 1 0 1 .1 1-.1 1 0 1 0 1-.1 1-.1 1-.1 1-.2 1-.1 1-.2 1-.1 1-.1 1-.2 1 0 1-.1 1 0 1 0 1 0 1 .1 1 0 1 0 1 0 1 0 1 0 1 0 1 0 1 0 1 0 1 .1 1 .1 1 0 1 0 1 .2 1 .1 1 .1 1 .1 1 .2 1 .2 1 .3 1 .2 1 .2 1 .2 1 .1 1 .2 1 0 1 0 1 0 1-.2 1-.1 1-.2 1-.1 1-.2 1-.1 1-.1 1-.2 1-.1 1 0 1-.1 1 0 1-.1 1-.1 1-.1 1-.1 1-.1 1 .1 1 0 1 0 1 .1 1 .1 1 .1 1 .1 1 .1 1 0 1 0 1-.1 1-.1 1 0 1-.1 1-.1 1 0 1 .1 1 0 1-.1 1 .1 1 0 1 0 1-.1 1 0 1 0 1 0 1-.1 1 0 1 .1 1 0 1 .1 1 .1 1 .1 1 0 1 .1 1 .1 1 0 1 0 1 .1 1 0 1-.1 1 0 1-.1 1 0 1-.1 1-.1 1 0 1 0 1 .1 1 0 1 .1 1 .2 1 .1 1 0 1 .1 1 .1 1 0 1 0 1-.1 1-.1 1-.1 1-.1 1-.1 1-.1 1 0 1-.2 1 0 1 0 1 0 1 0 1 .1 1 0 1 .1 1 0 1 .1 1 .1 1 .1 1 .1 1 .1 1 0 1 .1 1 0 1 0 1 0 1 0 1-.1 1 0 1 0 1 0 1 0 1 0 1 0 1 .1 1 0 1 .1 1 0 1 0 1-.1 1 0 1-.1 1-.1 1-.1 1 0 1-.1 1 0 1 0 1 0 1 0 1 .1 1 .1 1 .1 1 .1 1 .1 1 .1 1 0 1 .1 1 0 1 0 1-.1 1-.1 1 0 1 0 1-.1 1-.1 1 0 1 0 1 0 1 0 1 0 1 0 1 .1 1 0 1 0 1 0 1 .1 1 0 1 .1 1 0 1 .1 1 .1 1 .1 1 .1 1 0 1 .1 1 0 1 0 1 0 1-.1 1 0 1 0 1-.1 1-.1 1-.1 1-.1 1 0 1-.2 1-.2 1-.2 1-.1 1-.1 1-.1 1-.1 1 0 1 0 1 0 1 .1 1 .1 1 .1 1 .1 1 .1 1 0 1 0 1-.1 1-.1 1-.1 1-.2 1-.2 1-.1 1-.1 1-.1 1 0 1 .1 1 .1 1 .2 1 .2 1 .2 1 .1 1 .2 1 .1 1 .1 1 .1 1 0 1 0 1 0 1-.1 1 0 1 0 1 0 1 0 1 0 1 0 1 0 1 0 1-.1 1 0 1 0 1 0 1-.1 1 0 1 0 1 0 1 .1" stroke="#fff" stroke-width="4.6" stroke-opacity="1"/><path d="M21.8 386.5l.2-.2.2-.2.3-.2.3-.2.2-.1.2-.1.3-.1 1.3-.5 1-.2 1-.2 1-.1 1-.2 1-.2 1-.1 1-.1 1 0 1 .1 1 .1 1 .1 1 .1 1 .2 1 .2 1 .1 1 .1 1 0 1 0 1 0 1 0 1 0 1 .1 1 0 1 0 1 .1 1 .1 1 .1 1 .1 1 0 1 .1 1-.1 1 0 1 0 1-.1 1-.1 1-.1 1-.2 1-.1 1-.2 1-.1 1-.1 1-.2 1 0 1-.1 1 0 1 0 1 0 1 .1 1 0 1 0 1 0 1 0 1 0 1 0 1 0 1 0 1 0 1 .1 1 .1 1 0 1 0 1 .2 1 .1 1 .1 1 .1 1 .2 1 .2 1 .3 1 .2 1 .2 1 .2 1 .1 1 .2 1 0 1 0 1 0 1-.2 1-.1 1-.2 1-.1 1-.2 1-.1 1-.1 1-.2 1-.1 1 0 1-.1 1 0 1-.1 1-.1 1-.1 1-.1 1-.1 1 .1 1 0 1 0 1 .1 1 .1 1 .1 1 .1 1 .1 1 0 1 0 1-.1 1-.1 1 0 1-.1 1-.1 1 0 1 .1 1 0 1-.1 1 .1 1 0 1 0 1-.1 1 0 1 0 1 0 1-.1 1 0 1 .1 1 0 1 .1 1 .1 1 .1 1 0 1 .1 1 .1 1 0 1 0 1 .1 1 0 1-.1 1 0 1-.1 1 0 1-.1 1-.1 1 0 1 0 1 .1 1 0 1 .1 1 .2 1 .1 1 0 1 .1 1 .1 1 0 1 0 1-.1 1-.1 1-.1 1-.1 1-.1 1-.1 1 0 1-.2 1 0 1 0 1 0 1 0 1 .1 1 0 1 .1 1 0 1 .1 1 .1 1 .1 1 .1 1 .1 1 0 1 .1 1 0 1 0 1 0 1 0 1-.1 1 0 1 0 1 0 1 0 1 0 1 0 1 .1 1 0 1 .1 1 0 1 0 1-.1 1 0 1-.1 1-.1 1-.1 1 0 1-.1 1 0 1 0 1 0 1 0 1 .1 1 .1 1 .1 1 .1 1 .1 1 .1 1 0 1 .1 1 0 1 0 1-.1 1-.1 1 0 1 0 1-.1 1-.1 1 0 1 0 1 0 1 0 1 0 1 0 1 .1 1 0 1 0 1 0 1 .1 1 0 1 .1 1 0 1 .1 1 .1 1 .1 1 .1 1 0 1 .1 1 0 1 0 1 0 1-.1 1 0 1 0 1-.1 1-.1 1-.1 1-.1 1 0 1-.2 1-.2 1-.2 1-.1 1-.1 1-.1 1-.1 1 0 1 0 1 0 1 .1 1 .1 1 .1 1 .1 1 .1 1 0 1 0 1-.1 1-.1 1-.1 1-.2 1-.2 1-.1 1-.1 1-.1 1 0 1 .1 1 .1 1 .2 1 .2 1 .2 1 .1 1 .2 1 .1 1 .1 1 .1 1 0 1 0 1 0 1-.1 1 0 1 0 1 0 1 0 1 0 1 0 1 0 1 0 1-.1 1 0 1 0 1 0 1-.1 1 0 1 0 1 0 1 .1" stroke="#9467bd" stroke-width="2.1" stroke-opacity="1"/>
<path d="M21.8 386.5l.2-.8.2-.9.3-.7.3-.8.2-.7.2-.6.3-.7 1.3-2.8 1-1.9 1-1.5 1-1.3 1-1.2 1-1 1-.8 1-.6 1-.5 1-.4 1-.3 1-.3 1-.2 1-.2 1-.2 1-.1 1-.2 1-.1 1-.2 1-.2 1-.2 1-.1 1-.1 1-.1 1-.1 1-.1 1-.1 1 0 1-.1 1 .1 1 0 1 0 1 .1 1 .1 1 .1 1 .1 1 .1 1 0 1 .1 1 0 1 0 1 0 1 0 1 0 1 0 1-.1 1 0 1-.1 1 0 1-.1 1-.1 1-.1 1-.1 1 0 1-.1 1 0 1 0 1 .1 1 0 1 0 1 0 1-.1 1-.1 1-.1 1-.1 1-.2 1-.2 1-.1 1-.1 1-.1 1 0 1 .1 1 0 1 .1 1 0 1 0 1 .1 1 0 1 0 1 0 1 0 1 0 1 0 1 0 1-.1 1 .1 1 0 1-.1 1 0 1 .1 1 0 1 0 1 0 1 0 1 0 1-.1 1 0 1-.1 1-.2 1-.1 1 0 1-.2 1 0 1 0 1-.1 1 0 1 0 1 0 1-.1 1-.1 1-.1 1-.1 1-.1 1 0 1-.1 1 0 1 0 1 0 1 0 1 .1 1 0 1 0 1 0 1 0 1 0 1 .1 1 0 1 0 1 0 1 0 1 0 1 0 1-.1 1 0 1-.1 1-.1 1-.1 1-.1 1 0 1 0 1 0 1 0 1 0 1 .1 1-.1 1 0 1-.1 1-.1 1-.2 1-.1 1-.1 1-.2 1 0 1 0 1 0 1 .1 1 0 1 .1 1 0 1 .1 1 0 1 0 1 .1 1 0 1 0 1 0 1 0 1 .1 1 .1 1 0 1 .1 1 0 1 .1 1 .1 1 .1 1 .1 1 .1 1 .1 1 0 1 .1 1 0 1 0 1 0 1-.1 1-.1 1-.1 1-.1 1-.2 1-.1 1-.1 1-.1 1-.1 1-.1 1 0 1-.1 1 0 1 0 1 .1 1 0 1 .1 1 .1 1 .1 1 .2 1 .2 1 .1 1 .1 1 0 1 .1 1-.1 1-.1 1-.1 1-.2 1-.1 1-.1 1-.1 1-.1 1 0 1 0 1 .1 1 .1 1 .2 1 .1 1 .1 1 0 1 0 1 .1 1-.1 1 0 1-.1 1-.1 1-.2 1-.1 1-.1 1-.1 1-.1 1-.1 1-.1 1 0 1 0 1 0 1 0 1 .1 1 .1 1 0 1 0 1 .1 1 0 1 0 1 0 1-.1 1-.1 1-.1 1 0 1-.1 1-.2 1 0 1 0 1 0 1-.1 1 0 1 0 1 0 1 0 1 .1 1-.1 1 0 1 0 1 0 1 .1 1 0 1 .1 1 0 1 .1 1 0 1 0 1 0 1 0 1-.1 1 0 1-.1 1 0 1 0 1 0 1 .1 1 0 1 .1 1 .1 1 0 1 0 1-.1 1-.1 1-.1 1-.2 1-.3 1-.2 1-.2 1-.1 1-.1 1-.1 1 0 1-.1 1 .1 1 .1 1 .1 1 .2 1 .2" stroke="#fff" stroke-width="4.6" stroke-opacity="1"/><path d="M21.8 386.5l.2-.8.2-.9.3-.7.3-.8.2-.7.2-.6.3-.7 1.3-2.8 1-1.9 1-1.5 1-1.3 1-1.2 1-1 1-.8 1-.6 1-.5 1-.4 1-.3 1-.3 1-.2 1-.2 1-.2 1-.1 1-.2 1-.1 1-.2 1-.2 1-.2 1-.1 1-.1 1-.1 1-.1 1-.1 1-.1 1 0 1-.1 1 .1 1 0 1 0 1 .1 1 .1 1 .1 1 .1 1 .1 1 0 1 .1 1 0 1 0 1 0 1 0 1 0 1 0 1-.1 1 0 1-.1 1 0 1-.1 1-.1 1-.1 1-.1 1 0 1-.1 1 0 1 0 1 .1 1 0 1 0 1 0 1-.1 1-.1 1-.1 1-.1 1-.2 1-.2 1-.1 1-.1 1-.1 1 0 1 .1 1 0 1 .1 1 0 1 0 1 .1 1 0 1 0 1 0 1 0 1 0 1 0 1 0 1-.1 1 .1 1 0 1-.1 1 0 1 .1 1 0 1 0 1 0 1 0 1 0 1-.1 1 0 1-.1 1-.2 1-.1 1 0 1-.2 1 0 1 0 1-.1 1 0 1 0 1 0 1-.1 1-.1 1-.1 1-.1 1-.1 1 0 1-.1 1 0 1 0 1 0 1 0 1 .1 1 0 1 0 1 0 1 0 1 0 1 .1 1 0 1 0 1 0 1 0 1 0 1 0 1-.1 1 0 1-.1 1-.1 1-.1 1-.1 1 0 1 0 1 0 1 0 1 0 1 .1 1-.1 1 0 1-.1 1-.1 1-.2 1-.1 1-.1 1-.2 1 0 1 0 1 0 1 .1 1 0 1 .1 1 0 1 .1 1 0 1 0 1 .1 1 0 1 0 1 0 1 0 1 .1 1 .1 1 0 1 .1 1 0 1 .1 1 .1 1 .1 1 .1 1 .1 1 .1 1 0 1 .1 1 0 1 0 1 0 1-.1 1-.1 1-.1 1-.1 1-.2 1-.1 1-.1 1-.1 1-.1 1-.1 1 0 1-.1 1 0 1 0 1 .1 1 0 1 .1 1 .1 1 .1 1 .2 1 .2 1 .1 1 .1 1 0 1 .1 1-.1 1-.1 1-.1 1-.2 1-.1 1-.1 1-.1 1-.1 1 0 1 0 1 .1 1 .1 1 .2 1 .1 1 .1 1 0 1 0 1 .1 1-.1 1 0 1-.1 1-.1 1-.2 1-.1 1-.1 1-.1 1-.1 1-.1 1-.1 1 0 1 0 1 0 1 0 1 .1 1 .1 1 0 1 0 1 .1 1 0 1 0 1 0 1-.1 1-.1 1-.1 1 0 1-.1 1-.2 1 0 1 0 1 0 1-.1 1 0 1 0 1 0 1 0 1 .1 1-.1 1 0 1 0 1 0 1 .1 1 0 1 .1 1 0 1 .1 1 0 1 0 1 0 1 0 1-.1 1 0 1-.1 1 0 1 0 1 0 1 .1 1 0 1 .1 1 .1 1 0 1 0 1-.1 1-.1 1-.1 1-.2 1-.3 1-.2 1-.2 1-.1 1-.1 1-.1 1 0 1-.1 1 .1 1 .1 1 .1 1 .2 1 .2" stroke="#8c564b" stroke-width="2.1" stroke-opacity="1"/>
<path d="M21.8 386.5l.2-.1.2 0 .3-.1.3-.1.2 0 .2 0 .3-.1 1.3-.1 1-.1 1-.1 1-.1 1-.1 1-.2 1-.1 1-.1 1-.1 1 0 1 0 1 0 1 0 1 0 1 0 1 .1 1 0 1 0 1 0 1 .1 1 0 1 .1 1 0 1 .1 1 0 1 0 1 .1 1 0 1 0 1-.1 1 0 1 0 1-.1 1 .1 1-.1 1 0 1 0 1-.1 1 0 1 0 1 0 1 0 1 0 1-.1 1 0 1 0 1-.1 1-.1 1-.1 1-.1 1-.1 1-.1 1 0 1 0 1 .1 1 .1 1 .1 1 .2 1 .1 1 .1 1 .2 1 0 1 .1 1 .1 1 0 1-.1 1 0 1 0 1 .1 1-.1 1 0 1 0 1 0 1 .1 1 0 1 0 1 0 1 .1 1 0 1-.1 1 0 1 0 1-.1 1-.1 1 0 1-.1 1-.1 1 0 1 0 1 0 1 0 1 0 1 0 1 .1 1 0 1 0 1 0 1 0 1-.1 1 0 1 0 1 0 1-.1 1 0 1-.1 1-.1 1 0 1-.1 1 0 1-.1 1 0 1 .1 1 .1 1 0 1 .2 1 .1 1 .1 1 .1 1 0 1 .1 1-.1 1 0 1-.2 1-.1 1-.1 1-.1 1-.2 1 0 1-.1 1-.1 1 0 1 0 1 0 1 0 1 .1 1 .1 1 0 1 .1 1 .1 1 0 1 0 1 .1 1 .1 1 0 1 0 1 .1 1 0 1 .2 1 .1 1 .1 1 .1 1 0 1 0 1 0 1-.1 1-.1 1-.2 1-.1 1-.2 1-.1 1-.1 1-.1 1 0 1 0 1 0 1 .1 1-.1 1 0 1 0 1-.1 1 0 1-.1 1-.1 1 0 1 0 1 0 1 .1 1 .1 1 .1 1 .1 1 .1 1 .1 1 0 1-.1 1 0 1 0 1-.1 1 0 1 0 1 0 1 .1 1 .2 1 .1 1 .1 1 .1 1 0 1 0 1-.1 1-.1 1-.2 1-.1 1-.1 1-.1 1-.1 1 0 1 0 1-.1 1 0 1 0 1-.1 1-.1 1-.1 1 0 1 0 1 0 1 0 1 0 1 .1 1 0 1 0 1-.1 1 0 1-.1 1-.1 1 0 1-.1 1 0 1 .1 1 0 1 0 1 .1 1 .1 1 0 1 0 1 .1 1 0 1 .1 1 .2 1 .1 1 .1 1 .1 1 .1 1 .1 1 .1 1 0 1 .1 1-.1 1 .1 1 0 1 0 1 0 1 .1 1 0 1 0 1 0 1 0 1 0 1-.1 1-.1 1-.1 1-.1 1-.1 1 0 1 0 1 0 1 .1 1 0 1 .1 1 .1 1 0 1 0 1 0 1 0 1-.1 1-.1 1-.2 1 0 1-.1 1 0 1 0 1 0 1 .1 1 .2 1 .1 1 .1 1 .1 1 0 1-.1 1-.1 1-.1 1-.2 1-.2 1-.2 1-.2 1-.1 1-.1 1 0 1 0 1 .1 1 0 1 0 1 .1 1 0 1 .1 1 0 1 .1" stroke="#fff" stroke-width="4.6" stroke-opacity="0.6"/><path d="M21.8 386.5l.2-.1.2 0 .3-.1.3-.1.2 0 .2 0 .3-.1 1.3-.1 1-.1 1-.1 1-.1 1-.1 1-.2 1-.1 1-.1 1-.1 1 0 1 0 1 0 1 0 1 0 1 0 1 .1 1 0 1 0 1 0 1 .1 1 0 1 .1 1 0 1 .1 1 0 1 0 1 .1 1 0 1 0 1-.1 1 0 1 0 1-.1 1 .1 1-.1 1 0 1 0 1-.1 1 0 1 0 1 0 1 0 1 0 1-.1 1 0 1 0 1-.1 1-.1 1-.1 1-.1 1-.1 1-.1 1 0 1 0 1 .1 1 .1 1 .1 1 .2 1 .1 1 .1 1 .2 1 0 1 .1 1 .1 1 0 1-.1 1 0 1 0 1 .1 1-.1 1 0 1 0 1 0 1 .1 1 0 1 0 1 0 1 .1 1 0 1-.1 1 0 1 0 1-.1 1-.1 1 0 1-.1 1-.1 1 0 1 0 1 0 1 0 1 0 1 0 1 .1 1 0 1 0 1 0 1 0 1-.1 1 0 1 0 1 0 1-.1 1 0 1-.1 1-.1 1 0 1-.1 1 0 1-.1 1 0 1 .1 1 .1 1 0 1 .2 1 .1 1 .1 1 .1 1 0 1 .1 1-.1 1 0 1-.2 1-.1 1-.1 1-.1 1-.2 1 0 1-.1 1-.1 1 0 1 0 1 0 1 0 1 .1 1 .1 1 0 1 .1 1 .1 1 0 1 0 1 .1 1 .1 1 0 1 0 1 .1 1 0 1 .2 1 .1 1 .1 1 .1 1 0 1 0 1 0 1-.1 1-.1 1-.2 1-.1 1-.2 1-.1 1-.1 1-.1 1 0 1 0 1 0 1 .1 1-.1 1 0 1 0 1-.1 1 0 1-.1 1-.1 1 0 1 0 1 0 1 .1 1 .1 1 .1 1 .1 1 .1 1 .1 1 0 1-.1 1 0 1 0 1-.1 1 0 1 0 1 0 1 .1 1 .2 1 .1 1 .1 1 .1 1 0 1 0 1-.1 1-.1 1-.2 1-.1 1-.1 1-.1 1-.1 1 0 1 0 1-.1 1 0 1 0 1-.1 1-.1 1-.1 1 0 1 0 1 0 1 0 1 0 1 .1 1 0 1 0 1-.1 1 0 1-.1 1-.1 1 0 1-.1 1 0 1 .1 1 0 1 0 1 .1 1 .1 1 0 1 0 1 .1 1 0 1 .1 1 .2 1 .1 1 .1 1 .1 1 .1 1 .1 1 .1 1 0 1 .1 1-.1 1 .1 1 0 1 0 1 0 1 .1 1 0 1 0 1 0 1 0 1 0 1-.1 1-.1 1-.1 1-.1 1-.1 1 0 1 0 1 0 1 .1 1 0 1 .1 1 .1 1 0 1 0 1 0 1 0 1-.1 1-.1 1-.2 1 0 1-.1 1 0 1 0 1 0 1 .1 1 .2 1 .1 1 .1 1 .1 1 0 1-.1 1-.1 1-.1 1-.2 1-.2 1-.2 1-.2 1-.1 1-.1 1 0 1 0 1 .1 1 0 1 0 1 .1 1 0 1 .1 1 0 1 .1" stroke="#e377c2" stroke-width="2.1" stroke-opacity="0.6"/>
</g>
<g clip-path="url(#cbr)" fill="none" stroke-linejoin="round">
<g stroke="#1f77b4" stroke-width="1.0" stroke-opacity="0.065"><use href="#p55" transform="translate(351.8 -3.6) scale(1.0 0.5)"/><use href="#p56" transform="translate(352.8 -3.4) scale(1.0 0.5)"/><use href="#p57" transform="translate(351.2 -1.0) scale(1.0 0.5)"/><use href="#p58" transform="translate(351.8 -0.7) scale(1.0 0.5)"/><use href="#p59" transform="translate(352.2 -0.8) scale(1.0 0.5)"/><use href="#p60" transform="translate(352.7 -0.4) scale(1.0 0.5)"/><use href="#p61" transform="translate(352.8 -0.9) scale(1.0 0.5)"/><use href="#p62" transform="translate(351.1 -0.3) scale(1.0 0.5)"/><use href="#p63" transform="translate(352.4 -1.8) scale(1.0 0.5)"/><use href="#p64" transform="translate(351.8 -0.1) scale(1.0 0.5)"/><use href="#p55" transform="translate(351.0 0.8) scale(1.0 0.5)"/><use href="#p56" transform="translate(351.9 -0.4) scale(1.0 0.5)"/><use href="#p57" transform="translate(352.5 -0.4) scale(1.0 0.5)"/><use href="#p58" transform="translate(351.4 3.3) scale(1.0 0.5)"/><use href="#p59" transform="translate(351.7 -2.7) scale(1.0 0.5)"/><use href="#p60" transform="translate(351.1 1.2) scale(1.0 0.5)"/><use href="#p61" transform="translate(352.1 -6.1) scale(1.0 0.5)"/><use href="#p62" transform="translate(351.3 -1.6) scale(1.0 0.5)"/><use href="#p63" transform="translate(352.5 -1.8) scale(1.0 0.5)"/><use href="#p64" transform="translate(351.1 2.9) scale(1.0 0.5)"/><use href="#p55" transform="translate(352.6 -0.9) scale(1.0 0.5)"/><use href="#p56" transform="translate(351.4 0.2) scale(1.0 0.5)"/><use href="#p57" transform="translate(352.6 -0.8) scale(1.0 0.5)"/><use href="#p58" transform="translate(352.2 -1.2) scale(1.0 0.5)"/><use href="#p59" transform="translate(351.2 -1.2) scale(1.0 0.5)"/><use href="#p60" transform="translate(352.1 0.6) scale(1.0 0.5)"/><use href="#p61" transform="translate(352.5 -0.2) scale(1.0 0.5)"/><use href="#p62" transform="translate(351.2 3.4) scale(1.0 0.5)"/><use href="#p63" transform="translate(352.6 -1.0) scale(1.0 0.5)"/><use href="#p64" transform="translate(352.0 -3.7) scale(1.0 0.5)"/><use href="#p55" transform="translate(352.6 -5.1) scale(1.0 0.5)"/><use href="#p56" transform="translate(352.3 4.8) scale(1.0 0.5)"/><use href="#p57" transform="translate(351.1 -0.6) scale(1.0 0.5)"/><use href="#p58" transform="translate(352.8 -2.9) scale(1.0 0.5)"/><use href="#p59" transform="translate(352.6 -2.5) scale(1.0 0.5)"/><use href="#p60" transform="translate(351.5 -1.9) scale(1.0 0.5)"/><use href="#p61" transform="translate(351.5 6.1) scale(1.0 0.5)"/><use href="#p62" transform="translate(352.3 -1.4) scale(1.0 0.5)"/><use href="#p63" transform="translate(352.5 2.1) scale(1.0 0.5)"/><use href="#p64" transform="translate(352.5 0.7) scale(1.0 0.5)"/><use href="#p55" transform="translate(351.6 -2.6) scale(1.0 0.5)"/><use href="#p56" transform="translate(352.1 -2.0) scale(1.0 0.5)"/><use href="#p57" transform="translate(352.3 -4.4) scale(1.0 0.5)"/><use href="#p58" transform="translate(352.6 0.3) scale(1.0 0.5)"/><use href="#p59" transform="translate(351.9 -2.6) scale(1.0 0.5)"/><use href="#p60" transform="translate(352.7 -4.3) scale(1.0 0.5)"/><use href="#p61" transform="translate(351.3 -0.2) scale(1.0 0.5)"/><use href="#p62" transform="translate(351.1 -0.6) scale(1.0 0.5)"/><use href="#p63" transform="translate(352.2 5.0) scale(1.0 0.5)"/><use href="#p64" transform="translate(352.3 -7.2) scale(1.0 0.5)"/><use href="#p55" transform="translate(352.5 -3.2) scale(1.0 0.5)"/><use href="#p56" transform="translate(351.3 1.4) scale(1.0 0.5)"/><use href="#p57" transform="translate(352.7 -2.5) scale(1.0 0.5)"/><use href="#p58" transform="translate(351.4 1.8) scale(1.0 0.5)"/><use href="#p59" transform="translate(352.3 -0.3) scale(1.0 0.5)"/><use href="#p60" transform="translate(352.3 -0.1) scale(1.0 0.5)"/><use href="#p61" transform="translate(351.7 1.1) scale(1.0 0.5)"/><use href="#p62" transform="translate(352.7 -2.1) scale(1.0 0.5)"/><use href="#p63" transform="translate(351.0 3.1) scale(1.0 0.5)"/><use href="#p64" transform="translate(352.1 -3.0) scale(1.0 0.5)"/><use href="#p55" transform="translate(351.0 0.9) scale(1.0 0.5)"/><use href="#p56" transform="translate(351.8 -1.5) scale(1.0 0.5)"/><use href="#p57" transform="translate(351.6 -0.1) scale(1.0 0.5)"/><use href="#p58" transform="translate(352.1 2.0) scale(1.0 0.5)"/><use href="#p59" transform="translate(351.4 0.6) scale(1.0 0.5)"/><use href="#p60" transform="translate(352.1 -2.9) scale(1.0 0.5)"/><use href="#p61" transform="translate(351.2 -0.7) scale(1.0 0.5)"/><use href="#p62" transform="translate(352.0 -2.7) scale(1.0 0.5)"/><use href="#p63" transform="translate(352.8 -4.9) scale(1.0 0.5)"/><use href="#p64" transform="translate(351.9 -4.3) scale(1.0 0.5)"/></g>
<g stroke="#ff7f0e" stroke-width="1.0" stroke-opacity="0.042"><use href="#p65" transform="translate(351.9 4.1) scale(1.0 0.5)"/><use href="#p66" transform="translate(352.7 7.9) scale(1.0 0.5)"/><use href="#p67" transform="translate(351.9 -4.4) scale(1.0 0.5)"/><use href="#p68" transform="translate(351.9 -2.1) scale(1.0 0.5)"/><use href="#p69" transform="translate(351.5 14.1) scale(1.0 0.5)"/><use href="#p70" transform="translate(352.8 -5.0) scale(1.0 0.5)"/><use href="#p71" transform="translate(352.2 -1.3) scale(1.0 0.5)"/><use href="#p72" transform="translate(352.2 -0.0) scale(1.0 0.5)"/><use href="#p73" transform="translate(351.5 -0.7) scale(1.0 0.5)"/><use href="#p74" transform="translate(352.7 2.4) scale(1.0 0.5)"/><use href="#p75" transform="translate(352.0 -2.3) scale(1.0 0.5)"/><use href="#p76" transform="translate(351.0 3.5) scale(1.0 0.5)"/><use href="#p77" transform="translate(352.0 -4.8) scale(1.0 0.5)"/><use href="#p78" transform="translate(352.2 7.8) scale(1.0 0.5)"/><use href="#p65" transform="translate(351.0 1.2) scale(1.0 0.5)"/><use href="#p66" transform="translate(352.5 -25.7) scale(1.0 0.5)"/><use href="#p67" transform="translate(351.7 -4.3) scale(1.0 0.5)"/><use href="#p68" transform="translate(351.3 11.7) scale(1.0 0.5)"/><use href="#p69" transform="translate(351.1 30.6) scale(1.0 0.5)"/><use href="#p70" transform="translate(352.4 20.2) scale(1.0 0.5)"/><use href="#p71" transform="translate(352.2 23.8) scale(1.0 0.5)"/><use href="#p72" transform="translate(351.3 -6.0) scale(1.0 0.5)"/><use href="#p73" transform="translate(352.7 6.8) scale(1.0 0.5)"/><use href="#p74" transform="translate(352.7 5.9) scale(1.0 0.5)"/><use href="#p75" transform="translate(352.6 -13.7) scale(1.0 0.5)"/><use href="#p76" transform="translate(351.9 -7.5) scale(1.0 0.5)"/><use href="#p77" transform="translate(351.2 -4.9) scale(1.0 0.5)"/><use href="#p78" transform="translate(351.8 11.5) scale(1.0 0.5)"/><use href="#p65" transform="translate(351.3 -15.0) scale(1.0 0.5)"/><use href="#p66" transform="translate(352.4 -2.9) scale(1.0 0.5)"/><use href="#p67" transform="translate(352.3 3.3) scale(1.0 0.5)"/><use href="#p68" transform="translate(352.1 2.4) scale(1.0 0.5)"/><use href="#p69" transform="translate(352.6 22.2) scale(1.0 0.5)"/><use href="#p70" transform="translate(352.0 0.9) scale(1.0 0.5)"/><use href="#p71" transform="translate(351.0 -1.5) scale(1.0 0.5)"/><use href="#p72" transform="translate(352.0 4.9) scale(1.0 0.5)"/><use href="#p73" transform="translate(351.6 -6.6) scale(1.0 0.5)"/><use href="#p74" transform="translate(352.4 -12.5) scale(1.0 0.5)"/><use href="#p75" transform="translate(351.5 -3.6) scale(1.0 0.5)"/><use href="#p76" transform="translate(351.5 -11.8) scale(1.0 0.5)"/><use href="#p77" transform="translate(351.3 -6.2) scale(1.0 0.5)"/><use href="#p78" transform="translate(351.8 3.3) scale(1.0 0.5)"/><use href="#p65" transform="translate(351.1 -5.8) scale(1.0 0.5)"/><use href="#p66" transform="translate(351.1 10.8) scale(1.0 0.5)"/><use href="#p67" transform="translate(352.7 -10.8) scale(1.0 0.5)"/><use href="#p68" transform="translate(351.6 1.8) scale(1.0 0.5)"/><use href="#p69" transform="translate(351.5 16.7) scale(1.0 0.5)"/><use href="#p70" transform="translate(352.6 -4.2) scale(1.0 0.5)"/><use href="#p71" transform="translate(351.9 -8.1) scale(1.0 0.5)"/><use href="#p72" transform="translate(352.5 -16.6) scale(1.0 0.5)"/><use href="#p73" transform="translate(351.4 -0.5) scale(1.0 0.5)"/><use href="#p74" transform="translate(352.6 8.9) scale(1.0 0.5)"/><use href="#p75" transform="translate(351.4 7.0) scale(1.0 0.5)"/><use href="#p76" transform="translate(352.4 -2.5) scale(1.0 0.5)"/><use href="#p77" transform="translate(351.4 1.0) scale(1.0 0.5)"/><use href="#p78" transform="translate(352.0 -9.3) scale(1.0 0.5)"/><use href="#p65" transform="translate(352.6 3.9) scale(1.0 0.5)"/><use href="#p66" transform="translate(352.3 -14.1) scale(1.0 0.5)"/><use href="#p67" transform="translate(351.9 -11.4) scale(1.0 0.5)"/><use href="#p68" transform="translate(352.1 20.7) scale(1.0 0.5)"/><use href="#p69" transform="translate(351.9 -2.8) scale(1.0 0.5)"/><use href="#p70" transform="translate(351.4 39.1) scale(1.0 0.5)"/><use href="#p71" transform="translate(351.3 42.9) scale(1.0 0.5)"/><use href="#p72" transform="translate(351.7 -17.9) scale(1.0 0.5)"/><use href="#p73" transform="translate(351.9 -10.4) scale(1.0 0.5)"/><use href="#p74" transform="translate(352.7 17.7) scale(1.0 0.5)"/><use href="#p75" transform="translate(351.2 23.9) scale(1.0 0.5)"/><use href="#p76" transform="translate(352.0 0.6) scale(1.0 0.5)"/><use href="#p77" transform="translate(352.1 -5.2) scale(1.0 0.5)"/><use href="#p78" transform="translate(351.8 8.4) scale(1.0 0.5)"/><use href="#p65" transform="translate(351.8 -5.4) scale(1.0 0.5)"/><use href="#p66" transform="translate(352.3 13.5) scale(1.0 0.5)"/><use href="#p67" transform="translate(351.4 -20.9) scale(1.0 0.5)"/><use href="#p68" transform="translate(352.8 20.5) scale(1.0 0.5)"/><use href="#p69" transform="translate(352.1 -33.7) scale(1.0 0.5)"/><use href="#p70" transform="translate(351.1 30.6) scale(1.0 0.5)"/><use href="#p71" transform="translate(351.6 10.6) scale(1.0 0.5)"/><use href="#p72" transform="translate(351.5 -13.9) scale(1.0 0.5)"/><use href="#p73" transform="translate(352.6 30.6) scale(1.0 0.5)"/><use href="#p74" transform="translate(351.1 18.2) scale(1.0 0.5)"/><use href="#p75" transform="translate(351.0 -18.6) scale(1.0 0.5)"/><use href="#p76" transform="translate(352.8 10.9) scale(1.0 0.5)"/><use href="#p77" transform="translate(352.3 -7.7) scale(1.0 0.5)"/><use href="#p78" transform="translate(352.7 26.8) scale(1.0 0.5)"/><use href="#p65" transform="translate(352.3 -6.0) scale(1.0 0.5)"/><use href="#p66" transform="translate(352.5 -11.0) scale(1.0 0.5)"/><use href="#p67" transform="translate(352.6 6.0) scale(1.0 0.5)"/><use href="#p68" transform="translate(352.2 4.7) scale(1.0 0.5)"/><use href="#p69" transform="translate(352.8 -11.1) scale(1.0 0.5)"/><use href="#p70" transform="translate(351.6 5.7) scale(1.0 0.5)"/><use href="#p71" transform="translate(352.3 -34.0) scale(1.0 0.5)"/><use href="#p72" transform="translate(351.6 -11.9) scale(1.0 0.5)"/><use href="#p73" transform="translate(351.9 15.8) scale(1.0 0.5)"/><use href="#p74" transform="translate(352.8 -5.2) scale(1.0 0.5)"/><use href="#p75" transform="translate(352.6 16.1) scale(1.0 0.5)"/><use href="#p76" transform="translate(352.7 1.6) scale(1.0 0.5)"/><use href="#p77" transform="translate(352.6 -24.8) scale(1.0 0.5)"/><use href="#p78" transform="translate(351.3 -15.2) scale(1.0 0.5)"/><use href="#p65" transform="translate(352.0 14.0) scale(1.0 0.5)"/><use href="#p66" transform="translate(352.3 -24.0) scale(1.0 0.5)"/><use href="#p67" transform="translate(352.7 -16.5) scale(1.0 0.5)"/><use href="#p68" transform="translate(352.3 23.3) scale(1.0 0.5)"/><use href="#p69" transform="translate(352.6 7.2) scale(1.0 0.5)"/><use href="#p70" transform="translate(351.0 0.3) scale(1.0 0.5)"/><use href="#p71" transform="translate(351.7 -1.5) scale(1.0 0.5)"/><use href="#p72" transform="translate(352.1 2.6) scale(1.0 0.5)"/><use href="#p73" transform="translate(351.2 3.3) scale(1.0 0.5)"/><use href="#p74" transform="translate(352.7 4.6) scale(1.0 0.5)"/><use href="#p75" transform="translate(351.3 -8.4) scale(1.0 0.5)"/><use href="#p76" transform="translate(352.2 -17.0) scale(1.0 0.5)"/><use href="#p77" transform="translate(351.6 -0.5) scale(1.0 0.5)"/><use href="#p78" transform="translate(352.0 9.8) scale(1.0 0.5)"/><use href="#p65" transform="translate(351.4 11.1) scale(1.0 0.5)"/><use href="#p66" transform="translate(351.1 -23.5) scale(1.0 0.5)"/><use href="#p67" transform="translate(352.5 -4.1) scale(1.0 0.5)"/><use href="#p68" transform="translate(351.5 -19.9) scale(1.0 0.5)"/><use href="#p69" transform="translate(351.8 5.5) scale(1.0 0.5)"/><use href="#p70" transform="translate(352.5 -9.2) scale(1.0 0.5)"/><use href="#p71" transform="translate(351.7 -22.6) scale(1.0 0.5)"/><use href="#p72" transform="translate(351.8 -14.2) scale(1.0 0.5)"/><use href="#p73" transform="translate(352.7 31.6) scale(1.0 0.5)"/><use href="#p74" transform="translate(352.6 18.4) scale(1.0 0.5)"/><use href="#p75" transform="translate(351.1 -23.5) scale(1.0 0.5)"/><use href="#p76" transform="translate(351.0 3.5) scale(1.0 0.5)"/><use href="#p77" transform="translate(351.6 -3.3) scale(1.0 0.5)"/><use href="#p78" transform="translate(351.2 43.1) scale(1.0 0.5)"/><use href="#p65" transform="translate(351.1 -0.3) scale(1.0 0.5)"/><use href="#p66" transform="translate(351.2 -19.6) scale(1.0 0.5)"/><use href="#p67" transform="translate(351.7 -1.7) scale(1.0 0.5)"/><use href="#p68" transform="translate(352.6 -12.0) scale(1.0 0.5)"/><use href="#p69" transform="translate(352.6 -2.6) scale(1.0 0.5)"/><use href="#p70" transform="translate(351.0 2.6) scale(1.0 0.5)"/><use href="#p71" transform="translate(351.6 -6.9) scale(1.0 0.5)"/><use href="#p72" transform="translate(351.4 -4.1) scale(1.0 0.5)"/><use href="#p73" transform="translate(352.0 11.3) scale(1.0 0.5)"/><use href="#p74" transform="translate(352.8 3.2) scale(1.0 0.5)"/><use href="#p75" transform="translate(351.6 -1.7) scale(1.0 0.5)"/><use href="#p76" transform="translate(351.0 26.5) scale(1.0 0.5)"/><use href="#p77" transform="translate(352.0 -1.4) scale(1.0 0.5)"/><use href="#p78" transform="translate(352.7 -15.2) scale(1.0 0.5)"/></g>
<g stroke="#2ca02c" stroke-width="1.0" stroke-opacity="0.035"><use href="#p79" transform="translate(352.5 -4.2) scale(1.0 0.5)"/><use href="#p80" transform="translate(352.0 8.5) scale(1.0 0.5)"/><use href="#p81" transform="translate(352.6 7.2) scale(1.0 0.5)"/><use href="#p82" transform="translate(351.3 12.1) scale(1.0 0.5)"/><use href="#p83" transform="translate(352.5 20.0) scale(1.0 0.5)"/><use href="#p79" transform="translate(351.9 11.1) scale(1.0 0.5)"/><use href="#p80" transform="translate(352.4 -11.5) scale(1.0 0.5)"/><use href="#p81" transform="translate(351.6 -11.8) scale(1.0 0.5)"/><use href="#p82" transform="translate(352.4 11.2) scale(1.0 0.5)"/><use href="#p83" transform="translate(352.5 -0.8) scale(1.0 0.5)"/><use href="#p79" transform="translate(352.3 -1.0) scale(1.0 0.5)"/><use href="#p80" transform="translate(351.3 -1.4) scale(1.0 0.5)"/><use href="#p81" transform="translate(352.2 -6.0) scale(1.0 0.5)"/><use href="#p82" transform="translate(351.3 -7.7) scale(1.0 0.5)"/><use href="#p83" transform="translate(351.0 14.4) scale(1.0 0.5)"/><use href="#p79" transform="translate(352.6 -11.6) scale(1.0 0.5)"/><use href="#p80" transform="translate(352.0 3.4) scale(1.0 0.5)"/><use href="#p81" transform="translate(351.8 3.9) scale(1.0 0.5)"/><use href="#p82" transform="translate(352.7 7.2) scale(1.0 0.5)"/><use href="#p83" transform="translate(352.8 -7.9) scale(1.0 0.5)"/><use href="#p79" transform="translate(352.4 12.4) scale(1.0 0.5)"/><use href="#p80" transform="translate(351.2 -6.1) scale(1.0 0.5)"/><use href="#p81" transform="translate(351.8 -21.7) scale(1.0 0.5)"/><use href="#p82" transform="translate(352.0 -7.7) scale(1.0 0.5)"/><use href="#p83" transform="translate(352.1 -14.5) scale(1.0 0.5)"/></g>
<g stroke="#d62728" stroke-width="1.0" stroke-opacity="0.05"><use href="#p84" transform="translate(352.6 -3.8) scale(1.0 0.5)"/><use href="#p85" transform="translate(352.2 -3.0) scale(1.0 0.5)"/><use href="#p86" transform="translate(351.7 1.1) scale(1.0 0.5)"/><use href="#p84" transform="translate(351.3 -0.8) scale(1.0 0.5)"/><use href="#p85" transform="translate(352.0 -0.2) scale(1.0 0.5)"/><use href="#p86" transform="translate(352.0 -0.3) scale(1.0 0.5)"/><use href="#p84" transform="translate(351.7 -0.3) scale(1.0 0.5)"/><use href="#p85" transform="translate(352.0 -1.5) scale(1.0 0.5)"/><use href="#p86" transform="translate(352.3 0.9) scale(1.0 0.5)"/><use href="#p84" transform="translate(351.5 -1.9) scale(1.0 0.5)"/><use href="#p85" transform="translate(352.1 0.8) scale(1.0 0.5)"/><use href="#p86" transform="translate(352.4 -0.0) scale(1.0 0.5)"/></g>
<g stroke="#9467bd" stroke-width="1.0" stroke-opacity="0.045"><use href="#p87" transform="translate(352.7 1.8) scale(1.0 0.5)"/><use href="#p88" transform="translate(351.3 -6.4) scale(1.0 0.5)"/><use href="#p89" transform="translate(351.9 -14.4) scale(1.0 0.5)"/><use href="#p90" transform="translate(351.4 -11.1) scale(1.0 0.5)"/><use href="#p91" transform="translate(352.0 -7.8) scale(1.0 0.5)"/><use href="#p92" transform="translate(351.8 -1.5) scale(1.0 0.5)"/><use href="#p87" transform="translate(352.1 -3.4) scale(1.0 0.5)"/><use href="#p88" transform="translate(352.2 1.1) scale(1.0 0.5)"/><use href="#p89" transform="translate(351.5 13.5) scale(1.0 0.5)"/><use href="#p90" transform="translate(351.1 24.4) scale(1.0 0.5)"/><use href="#p91" transform="translate(351.9 -26.3) scale(1.0 0.5)"/><use href="#p92" transform="translate(351.3 3.5) scale(1.0 0.5)"/><use href="#p87" transform="translate(352.6 -12.9) scale(1.0 0.5)"/><use href="#p88" transform="translate(352.6 -2.2) scale(1.0 0.5)"/><use href="#p89" transform="translate(352.2 0.4) scale(1.0 0.5)"/><use href="#p90" transform="translate(351.7 -10.6) scale(1.0 0.5)"/><use href="#p91" transform="translate(352.1 -2.8) scale(1.0 0.5)"/><use href="#p92" transform="translate(352.2 -12.6) scale(1.0 0.5)"/><use href="#p87" transform="translate(352.5 16.7) scale(1.0 0.5)"/><use href="#p88" transform="translate(352.5 -14.5) scale(1.0 0.5)"/><use href="#p89" transform="translate(352.6 -0.6) scale(1.0 0.5)"/><use href="#p90" transform="translate(351.4 -3.1) scale(1.0 0.5)"/><use href="#p91" transform="translate(352.5 5.1) scale(1.0 0.5)"/><use href="#p92" transform="translate(352.8 -1.5) scale(1.0 0.5)"/><use href="#p87" transform="translate(351.4 -13.8) scale(1.0 0.5)"/><use href="#p88" transform="translate(352.0 -3.9) scale(1.0 0.5)"/><use href="#p89" transform="translate(352.1 -14.9) scale(1.0 0.5)"/><use href="#p90" transform="translate(351.4 9.4) scale(1.0 0.5)"/><use href="#p91" transform="translate(351.5 -2.2) scale(1.0 0.5)"/><use href="#p92" transform="translate(352.4 -1.9) scale(1.0 0.5)"/><use href="#p87" transform="translate(352.6 -18.5) scale(1.0 0.5)"/><use href="#p88" transform="translate(352.3 -5.6) scale(1.0 0.5)"/><use href="#p89" transform="translate(351.3 -9.5) scale(1.0 0.5)"/><use href="#p90" transform="translate(352.4 9.0) scale(1.0 0.5)"/><use href="#p91" transform="translate(352.5 10.4) scale(1.0 0.5)"/></g>
<g stroke="#8c564b" stroke-width="1.0" stroke-opacity="0.05"><use href="#p93" transform="translate(352.5 -3.7) scale(1.0 0.5)"/><use href="#p94" transform="translate(351.2 -3.6) scale(1.0 0.5)"/><use href="#p95" transform="translate(351.2 2.5) scale(1.0 0.5)"/><use href="#p96" transform="translate(351.5 -5.6) scale(1.0 0.5)"/><use href="#p93" transform="translate(352.4 -16.8) scale(1.0 0.5)"/><use href="#p94" transform="translate(352.6 -7.8) scale(1.0 0.5)"/><use href="#p95" transform="translate(352.2 -4.1) scale(1.0 0.5)"/><use href="#p96" transform="translate(351.6 -6.4) scale(1.0 0.5)"/><use href="#p93" transform="translate(351.9 -6.3) scale(1.0 0.5)"/><use href="#p94" transform="translate(352.1 1.6) scale(1.0 0.5)"/><use href="#p95" transform="translate(351.4 17.7) scale(1.0 0.5)"/><use href="#p96" transform="translate(352.6 -20.2) scale(1.0 0.5)"/><use href="#p93" transform="translate(351.4 0.2) scale(1.0 0.5)"/><use href="#p94" transform="translate(352.1 -5.6) scale(1.0 0.5)"/><use href="#p95" transform="translate(352.0 -5.2) scale(1.0 0.5)"/><use href="#p96" transform="translate(352.6 -11.5) scale(1.0 0.5)"/><use href="#p93" transform="translate(352.3 -8.6) scale(1.0 0.5)"/><use href="#p94" transform="translate(352.7 -14.3) scale(1.0 0.5)"/><use href="#p95" transform="translate(351.6 -11.3) scale(1.0 0.5)"/><use href="#p96" transform="translate(352.3 -3.3) scale(1.0 0.5)"/><use href="#p93" transform="translate(352.8 6.8) scale(1.0 0.5)"/><use href="#p94" transform="translate(352.4 -2.3) scale(1.0 0.5)"/><use href="#p95" transform="translate(351.8 19.2) scale(1.0 0.5)"/><use href="#p96" transform="translate(351.8 -9.6) scale(1.0 0.5)"/><use href="#p93" transform="translate(351.2 -3.5) scale(1.0 0.5)"/><use href="#p94" transform="translate(352.1 3.4) scale(1.0 0.5)"/><use href="#p95" transform="translate(351.4 -7.5) scale(1.0 0.5)"/><use href="#p96" transform="translate(352.7 -3.2) scale(1.0 0.5)"/><use href="#p93" transform="translate(352.7 0.0) scale(1.0 0.5)"/><use href="#p94" transform="translate(351.6 -6.3) scale(1.0 0.5)"/></g>
<g stroke="#e377c2" stroke-width="1.0" stroke-opacity="0.06"><use href="#p97" transform="translate(351.9 -13.2) scale(1.0 0.5)"/><use href="#p98" transform="translate(352.6 -33.0) scale(1.0 0.5)"/><use href="#p99" transform="translate(351.8 -16.0) scale(1.0 0.5)"/><use href="#p100" transform="translate(352.7 2.3) scale(1.0 0.5)"/><use href="#p101" transform="translate(352.7 -13.0) scale(1.0 0.5)"/><use href="#p102" transform="translate(351.9 -17.4) scale(1.0 0.5)"/><use href="#p97" transform="translate(352.1 1.9) scale(1.0 0.5)"/><use href="#p98" transform="translate(352.3 -15.8) scale(1.0 0.5)"/><use href="#p99" transform="translate(351.8 -2.0) scale(1.0 0.5)"/><use href="#p100" transform="translate(351.4 -20.5) scale(1.0 0.5)"/><use href="#p101" transform="translate(352.4 -13.3) scale(1.0 0.5)"/><use href="#p102" transform="translate(351.3 -10.9) scale(1.0 0.5)"/><use href="#p97" transform="translate(351.6 -13.0) scale(1.0 0.5)"/><use href="#p98" transform="translate(351.3 0.3) scale(1.0 0.5)"/><use href="#p99" transform="translate(352.0 -13.4) scale(1.0 0.5)"/><use href="#p100" transform="translate(351.9 -2.7) scale(1.0 0.5)"/><use href="#p101" transform="translate(351.7 -3.4) scale(1.0 0.5)"/><use href="#p102" transform="translate(351.6 -11.6) scale(1.0 0.5)"/><use href="#p97" transform="translate(351.5 17.5) scale(1.0 0.5)"/><use href="#p98" transform="translate(352.1 -10.6) scale(1.0 0.5)"/><use href="#p99" transform="translate(351.5 17.0) scale(1.0 0.5)"/><use href="#p100" transform="translate(352.8 -25.2) scale(1.0 0.5)"/><use href="#p101" transform="translate(351.4 -0.1) scale(1.0 0.5)"/><use href="#p102" transform="translate(352.4 -18.0) scale(1.0 0.5)"/><use href="#p97" transform="translate(352.4 -8.1) scale(1.0 0.5)"/><use href="#p98" transform="translate(352.8 -20.2) scale(1.0 0.5)"/><use href="#p99" transform="translate(351.9 -18.9) scale(1.0 0.5)"/><use href="#p100" transform="translate(352.2 -17.2) scale(1.0 0.5)"/><use href="#p101" transform="translate(351.3 -12.1) scale(1.0 0.5)"/><use href="#p102" transform="translate(351.2 -14.2) scale(1.0 0.5)"/><use href="#p97" transform="translate(352.4 -27.3) scale(1.0 0.5)"/><use href="#p98" transform="translate(352.7 -1.6) scale(1.0 0.5)"/><use href="#p99" transform="translate(351.5 -3.8) scale(1.0 0.5)"/><use href="#p100" transform="translate(351.8 13.8) scale(1.0 0.5)"/><use href="#p101" transform="translate(351.3 -24.5) scale(1.0 0.5)"/><use href="#p102" transform="translate(351.3 -5.1) scale(1.0 0.5)"/><use href="#p97" transform="translate(351.2 -14.1) scale(1.0 0.5)"/><use href="#p98" transform="translate(351.0 -39.0) scale(1.0 0.5)"/><use href="#p99" transform="translate(351.9 -4.8) scale(1.0 0.5)"/><use href="#p100" transform="translate(352.8 -29.3) scale(1.0 0.5)"/><use href="#p101" transform="translate(351.9 11.0) scale(1.0 0.5)"/><use href="#p102" transform="translate(351.3 -40.5) scale(1.0 0.5)"/><use href="#p97" transform="translate(351.6 -25.5) scale(1.0 0.5)"/><use href="#p98" transform="translate(351.2 -7.3) scale(1.0 0.5)"/><use href="#p99" transform="translate(352.5 -27.6) scale(1.0 0.5)"/><use href="#p100" transform="translate(351.2 -20.3) scale(1.0 0.5)"/><use href="#p101" transform="translate(351.8 -20.1) scale(1.0 0.5)"/><use href="#p102" transform="translate(351.2 -27.2) scale(1.0 0.5)"/><use href="#p97" transform="translate(351.3 -6.3) scale(1.0 0.5)"/><use href="#p98" transform="translate(352.8 -27.3) scale(1.0 0.5)"/><use href="#p99" transform="translate(351.7 -15.1) scale(1.0 0.5)"/><use href="#p100" transform="translate(351.1 -15.1) scale(1.0 0.5)"/><use href="#p101" transform="translate(352.0 -20.7) scale(1.0 0.5)"/><use href="#p102" transform="translate(351.2 -17.7) scale(1.0 0.5)"/><use href="#p97" transform="translate(352.3 -12.1) scale(1.0 0.5)"/></g>
<g stroke="#7f7f7f" stroke-width="1.0" stroke-opacity="0.05"><use href="#p103" transform="translate(351.4 -7.1) scale(1.0 0.5)"/><use href="#p104" transform="translate(351.4 -3.2) scale(1.0 0.5)"/><use href="#p105" transform="translate(352.5 -0.2) scale(1.0 0.5)"/><use href="#p106" transform="translate(351.5 8.3) scale(1.0 0.5)"/><use href="#p107" transform="translate(352.0 -23.7) scale(1.0 0.5)"/><use href="#p103" transform="translate(351.1 -27.9) scale(1.0 0.5)"/><use href="#p104" transform="translate(352.5 -10.0) scale(1.0 0.5)"/><use href="#p105" transform="translate(351.9 14.4) scale(1.0 0.5)"/><use href="#p106" transform="translate(351.5 -25.8) scale(1.0 0.5)"/><use href="#p107" transform="translate(352.7 14.1) scale(1.0 0.5)"/><use href="#p103" transform="translate(352.3 0.3) scale(1.0 0.5)"/><use href="#p104" transform="translate(351.5 -8.9) scale(1.0 0.5)"/><use href="#p105" transform="translate(351.0 -4.2) scale(1.0 0.5)"/><use href="#p106" transform="translate(351.2 -5.1) scale(1.0 0.5)"/><use href="#p107" transform="translate(352.5 3.4) scale(1.0 0.5)"/><use href="#p103" transform="translate(352.1 -7.9) scale(1.0 0.5)"/><use href="#p104" transform="translate(352.0 -11.9) scale(1.0 0.5)"/><use href="#p105" transform="translate(352.6 -23.0) scale(1.0 0.5)"/><use href="#p106" transform="translate(351.3 -0.9) scale(1.0 0.5)"/><use href="#p107" transform="translate(352.1 0.0) scale(1.0 0.5)"/><use href="#p103" transform="translate(352.4 -6.8) scale(1.0 0.5)"/><use href="#p104" transform="translate(352.7 -2.3) scale(1.0 0.5)"/><use href="#p105" transform="translate(351.5 -9.6) scale(1.0 0.5)"/><use href="#p106" transform="translate(351.5 -9.1) scale(1.0 0.5)"/><use href="#p107" transform="translate(352.7 6.3) scale(1.0 0.5)"/><use href="#p103" transform="translate(351.9 -6.2) scale(1.0 0.5)"/><use href="#p104" transform="translate(352.1 -20.2) scale(1.0 0.5)"/><use href="#p105" transform="translate(352.7 19.4) scale(1.0 0.5)"/><use href="#p106" transform="translate(351.3 -27.9) scale(1.0 0.5)"/><use href="#p107" transform="translate(352.0 -1.8) scale(1.0 0.5)"/><use href="#p103" transform="translate(351.7 19.1) scale(1.0 0.5)"/><use href="#p104" transform="translate(351.5 -5.7) scale(1.0 0.5)"/><use href="#p105" transform="translate(352.1 -17.6) scale(1.0 0.5)"/><use href="#p106" transform="translate(352.2 -18.5) scale(1.0 0.5)"/><use href="#p107" transform="translate(351.7 -0.2) scale(1.0 0.5)"/><use href="#p103" transform="translate(352.1 -14.3) scale(1.0 0.5)"/><use href="#p104" transform="translate(351.3 6.6) scale(1.0 0.5)"/><use href="#p105" transform="translate(351.3 -8.2) scale(1.0 0.5)"/><use href="#p106" transform="translate(352.0 -12.4) scale(1.0 0.5)"/><use href="#p107" transform="translate(351.0 -15.6) scale(1.0 0.5)"/></g>
<g stroke="#bcbd22" stroke-width="1.0" stroke-opacity="0.05"><use href="#p108" transform="translate(351.5 -5.4) scale(1.0 0.5)"/><use href="#p109" transform="translate(352.2 2.5) scale(1.0 0.5)"/><use href="#p110" transform="translate(352.4 -13.1) scale(1.0 0.5)"/><use href="#p111" transform="translate(351.6 -28.2) scale(1.0 0.5)"/><use href="#p112" transform="translate(352.1 -1.8) scale(1.0 0.5)"/><use href="#p113" transform="translate(351.9 -13.0) scale(1.0 0.5)"/><use href="#p114" transform="translate(351.5 -16.8) scale(1.0 0.5)"/><use href="#p115" transform="translate(351.8 -4.5) scale(1.0 0.5)"/><use href="#p116" transform="translate(351.3 15.2) scale(1.0 0.5)"/><use href="#p117" transform="translate(352.5 -13.2) scale(1.0 0.5)"/><use href="#p118" transform="translate(351.5 -18.4) scale(1.0 0.5)"/><use href="#p119" transform="translate(352.7 -13.7) scale(1.0 0.5)"/><use href="#p120" transform="translate(351.2 -8.3) scale(1.0 0.5)"/><use href="#p121" transform="translate(351.2 -5.8) scale(1.0 0.5)"/><use href="#p108" transform="translate(351.3 -6.3) scale(1.0 0.5)"/><use href="#p109" transform="translate(351.3 -8.5) scale(1.0 0.5)"/><use href="#p110" transform="translate(351.8 -11.6) scale(1.0 0.5)"/><use href="#p111" transform="translate(352.0 -24.2) scale(1.0 0.5)"/><use href="#p112" transform="translate(352.0 -19.3) scale(1.0 0.5)"/><use href="#p113" transform="translate(351.1 29.2) scale(1.0 0.5)"/><use href="#p114" transform="translate(352.6 18.3) scale(1.0 0.5)"/><use href="#p115" transform="translate(352.1 -22.1) scale(1.0 0.5)"/><use href="#p116" transform="translate(351.5 -28.9) scale(1.0 0.5)"/><use href="#p117" transform="translate(351.5 -14.2) scale(1.0 0.5)"/><use href="#p118" transform="translate(351.9 -7.1) scale(1.0 0.5)"/><use href="#p119" transform="translate(351.5 -23.4) scale(1.0 0.5)"/><use href="#p120" transform="translate(351.3 -5.5) scale(1.0 0.5)"/><use href="#p121" transform="translate(352.8 -26.9) scale(1.0 0.5)"/><use href="#p108" transform="translate(351.8 -50.7) scale(1.0 0.5)"/><use href="#p109" transform="translate(352.6 -12.6) scale(1.0 0.5)"/><use href="#p110" transform="translate(352.2 5.3) scale(1.0 0.5)"/><use href="#p111" transform="translate(352.2 -14.3) scale(1.0 0.5)"/><use href="#p112" transform="translate(351.8 13.1) scale(1.0 0.5)"/><use href="#p113" transform="translate(351.4 -39.9) scale(1.0 0.5)"/><use href="#p114" transform="translate(351.9 -21.6) scale(1.0 0.5)"/><use href="#p115" transform="translate(352.2 7.1) scale(1.0 0.5)"/><use href="#p116" transform="translate(351.3 37.5) scale(1.0 0.5)"/><use href="#p117" transform="translate(352.1 -14.8) scale(1.0 0.5)"/><use href="#p118" transform="translate(351.6 -34.4) scale(1.0 0.5)"/><use href="#p119" transform="translate(351.2 -7.1) scale(1.0 0.5)"/><use href="#p120" transform="translate(352.0 -38.6) scale(1.0 0.5)"/><use href="#p121" transform="translate(351.9 -25.3) scale(1.0 0.5)"/><use href="#p108" transform="translate(351.5 -29.0) scale(1.0 0.5)"/><use href="#p109" transform="translate(351.9 15.5) scale(1.0 0.5)"/><use href="#p110" transform="translate(352.5 -30.6) scale(1.0 0.5)"/><use href="#p111" transform="translate(352.5 -23.3) scale(1.0 0.5)"/><use href="#p112" transform="translate(351.8 -20.8) scale(1.0 0.5)"/><use href="#p113" transform="translate(351.2 -11.6) scale(1.0 0.5)"/><use href="#p114" transform="translate(351.5 -0.4) scale(1.0 0.5)"/><use href="#p115" transform="translate(352.4 17.3) scale(1.0 0.5)"/><use href="#p116" transform="translate(352.4 10.4) scale(1.0 0.5)"/><use href="#p117" transform="translate(351.1 -5.5) scale(1.0 0.5)"/><use href="#p118" transform="translate(352.7 3.2) scale(1.0 0.5)"/><use href="#p119" transform="translate(352.7 -37.1) scale(1.0 0.5)"/><use href="#p120" transform="translate(352.0 -1.9) scale(1.0 0.5)"/><use href="#p121" transform="translate(352.0 5.1) scale(1.0 0.5)"/><use href="#p108" transform="translate(352.4 22.0) scale(1.0 0.5)"/><use href="#p109" transform="translate(351.5 6.1) scale(1.0 0.5)"/><use href="#p110" transform="translate(351.2 -10.5) scale(1.0 0.5)"/><use href="#p111" transform="translate(351.2 -3.2) scale(1.0 0.5)"/><use href="#p112" transform="translate(351.4 -18.7) scale(1.0 0.5)"/><use href="#p113" transform="translate(352.2 13.9) scale(1.0 0.5)"/><use href="#p114" transform="translate(352.6 -7.5) scale(1.0 0.5)"/><use href="#p115" transform="translate(352.2 -8.3) scale(1.0 0.5)"/><use href="#p116" transform="translate(351.5 1.2) scale(1.0 0.5)"/><use href="#p117" transform="translate(351.4 -28.8) scale(1.0 0.5)"/><use href="#p118" transform="translate(351.8 -9.2) scale(1.0 0.5)"/><use href="#p119" transform="translate(351.5 -26.7) scale(1.0 0.5)"/><use href="#p120" transform="translate(352.1 7.2) scale(1.0 0.5)"/><use href="#p121" transform="translate(351.2 -25.4) scale(1.0 0.5)"/><use href="#p108" transform="translate(351.0 -0.1) scale(1.0 0.5)"/><use href="#p109" transform="translate(351.3 -10.5) scale(1.0 0.5)"/><use href="#p110" transform="translate(352.3 -28.0) scale(1.0 0.5)"/><use href="#p111" transform="translate(352.0 -42.8) scale(1.0 0.5)"/><use href="#p112" transform="translate(352.8 -4.3) scale(1.0 0.5)"/><use href="#p113" transform="translate(351.7 -1.3) scale(1.0 0.5)"/><use href="#p114" transform="translate(352.6 -0.2) scale(1.0 0.5)"/><use href="#p115" transform="translate(351.1 -7.0) scale(1.0 0.5)"/><use href="#p116" transform="translate(351.7 13.7) scale(1.0 0.5)"/><use href="#p117" transform="translate(352.5 12.4) scale(1.0 0.5)"/><use href="#p118" transform="translate(351.1 -27.4) scale(1.0 0.5)"/><use href="#p119" transform="translate(352.0 -27.5) scale(1.0 0.5)"/><use href="#p120" transform="translate(352.1 -39.6) scale(1.0 0.5)"/><use href="#p121" transform="translate(352.4 -10.4) scale(1.0 0.5)"/><use href="#p108" transform="translate(351.8 -5.2) scale(1.0 0.5)"/><use href="#p109" transform="translate(352.7 -26.9) scale(1.0 0.5)"/><use href="#p110" transform="translate(351.6 -5.3) scale(1.0 0.5)"/><use href="#p111" transform="translate(352.4 -5.9) scale(1.0 0.5)"/><use href="#p112" transform="translate(352.6 -21.3) scale(1.0 0.5)"/><use href="#p113" transform="translate(352.2 10.4) scale(1.0 0.5)"/><use href="#p114" transform="translate(352.4 17.8) scale(1.0 0.5)"/><use href="#p115" transform="translate(351.7 -9.5) scale(1.0 0.5)"/><use href="#p116" transform="translate(351.8 -11.2) scale(1.0 0.5)"/><use href="#p117" transform="translate(351.0 -5.0) scale(1.0 0.5)"/><use href="#p118" transform="translate(351.6 17.1) scale(1.0 0.5)"/><use href="#p119" transform="translate(351.9 -27.2) scale(1.0 0.5)"/><use href="#p120" transform="translate(352.5 -7.6) scale(1.0 0.5)"/><use href="#p121" transform="translate(352.4 -17.4) scale(1.0 0.5)"/><use href="#p108" transform="translate(352.4 -0.5) scale(1.0 0.5)"/><use href="#p109" transform="translate(352.4 27.7) scale(1.0 0.5)"/><use href="#p110" transform="translate(352.8 -31.3) scale(1.0 0.5)"/><use href="#p111" transform="translate(352.3 -21.9) scale(1.0 0.5)"/><use href="#p112" transform="translate(351.9 13.4) scale(1.0 0.5)"/><use href="#p113" transform="translate(352.4 -8.4) scale(1.0 0.5)"/><use href="#p114" transform="translate(352.7 8.4) scale(1.0 0.5)"/><use href="#p115" transform="translate(351.4 -12.9) scale(1.0 0.5)"/><use href="#p116" transform="translate(351.1 -12.0) scale(1.0 0.5)"/><use href="#p117" transform="translate(351.6 -5.5) scale(1.0 0.5)"/><use href="#p118" transform="translate(351.1 -22.3) scale(1.0 0.5)"/><use href="#p119" transform="translate(352.4 -28.5) scale(1.0 0.5)"/><use href="#p120" transform="translate(352.2 -5.0) scale(1.0 0.5)"/><use href="#p121" transform="translate(351.6 -4.2) scale(1.0 0.5)"/><use href="#p108" transform="translate(352.2 -20.5) scale(1.0 0.5)"/><use href="#p109" transform="translate(352.7 -22.4) scale(1.0 0.5)"/><use href="#p110" transform="translate(351.0 10.0) scale(1.0 0.5)"/><use href="#p111" transform="translate(351.6 10.1) scale(1.0 0.5)"/><use href="#p112" transform="translate(352.0 -22.5) scale(1.0 0.5)"/><use href="#p113" transform="translate(352.4 -1.4) scale(1.0 0.5)"/><use href="#p114" transform="translate(352.6 -2.0) scale(1.0 0.5)"/><use href="#p115" transform="translate(351.1 -9.2) scale(1.0 0.5)"/><use href="#p116" transform="translate(351.3 -0.0) scale(1.0 0.5)"/><use href="#p117" transform="translate(351.6 -44.7) scale(1.0 0.5)"/><use href="#p118" transform="translate(352.0 -7.5) scale(1.0 0.5)"/><use href="#p119" transform="translate(351.8 -1.6) scale(1.0 0.5)"/><use href="#p120" transform="translate(351.8 -26.7) scale(1.0 0.5)"/><use href="#p121" transform="translate(351.1 -12.3) scale(1.0 0.5)"/><use href="#p108" transform="translate(352.1 -13.4) scale(1.0 0.5)"/><use href="#p109" transform="translate(352.1 -14.0) scale(1.0 0.5)"/><use href="#p110" transform="translate(352.2 5.5) scale(1.0 0.5)"/><use href="#p111" transform="translate(351.6 24.0) scale(1.0 0.5)"/></g>
<path d="M360.5 204.8l.3.2.2.2.2.2.3.2.3 15.9.2 15.9.2 16.3 1.3 73.6 1 22.7 1 10.9 1 6.6 1 3.5 1 1.7 1 .2 1 .2 1 .2 1 .1 1 0 1 .1 1 0 1 0 1 0 1-.1 1 0 1 .1 1 0 1 0 1 0 1 .1 1 0 1 .1 1 0 1 0 1 0 1 0 1 0 1 0 1-.1 1 0 1-.1 1 0 1-.1 1 0 1 0 1 0 1 0 1 0 1 0 1 0 1-.1 1 0 1-.1 1 0 1-.1 1 0 1 0 1 0 1 0 1 0 1 0 1 0 1 .1 1 0 1 0 1 .1 1 0 1 0 1 0 1 .1 1 0 1 .1 1 0 1 0 1 .1 1 0 1-.1 1 0 1-.1 1-.1 1-.1 1-.1 1 0 1-.1 1 0 1 .1 1 .1 1 .1 1 .1 1 .1 1 .1 1 .1 1 0 1 .1 1 0 1 0 1-.1 1 0 1-.1 1-.1 1-.1 1 0 1-.1 1 0 1 0 1 0 1 .1 1 0 1 .1 1 .1 1 0 1 .1 1 0 1 0 1 0 1-.1 1 0 1-.1 1 0 1-.1 1 0 1-.1 1 .1 1 0 1 0 1 0 1 .1 1 0 1 0 1 0 1-.1 1 0 1 0 1-.1 1 0 1 .1 1 0 1 0 1 .1 1 .1 1 .1 1 .1 1 .1 1 0 1 .1 1 0 1 0 1 0 1 0 1-.1 1-.1 1-.1 1-.1 1 0 1 0 1 0 1 0 1 0 1 .1 1 .1 1 0 1 .1 1 .1 1 0 1 .1 1 .1 1 0 1 0 1 0 1 0 1 0 1 0 1 0 1 0 1-.1 1 0 1 0 1-.1 1 0 1 0 1 0 1 0 1 .1 1 0 1 .1 1 .1 1 .1 1 .1 1 .1 1 0 1 0 1-.1 1-.1 1-.1 1 0 1-.1 1-.1 1-.1 1 0 1 0 1 0 1 0 1 0 1 0 1 0 1 0 1 0 1 .1 1 .1 1 0 1 .1 1 0 1 .1 1 0 1 0 1-.1 1 0 1-.1 1-.1 1-.1 1 0 1 0 1 0 1 0 1 .1 1 .1 1 .1 1 .1 1 .1 1 0 1 0 1 .1 1-.1 1 0 1 0 1-.1 1 0 1 0 1 0 1 0 1 0 1 .1 1 0 1 0 1 .1 1 0 1 .1 1 .1 1 0 1 0 1 .1 1 0 1 .1 1 .1 1 0 1 .1 1 0 1 .1 1 .1 1 .1 1 .1 1 .1 1 .1 1 0 1 .1 1 0 1 0 1-.1 1 0 1-.1 1 0 1 0 1 0 1 0 1 0 1 .1 1 0 1 0 1 0 1 0 1 0 1 0 1 .1 1 0 1 0 1 .1 1 0 1 .1 1 0 1 .1 1 .1 1 0 1 .1 1 .1 1 .1 1 .1 1 0 1 .1 1 0 1 .1 1 0 1 0 1 0 1 0 1 0 1 0 1 0 1 .1 1 0 1 0 1 0 1 0 1-.1" stroke="#fff" stroke-width="4.6" stroke-opacity="1"/><path d="M360.5 204.8l.3.2.2.2.2.2.3.2.3 15.9.2 15.9.2 16.3 1.3 73.6 1 22.7 1 10.9 1 6.6 1 3.5 1 1.7 1 .2 1 .2 1 .2 1 .1 1 0 1 .1 1 0 1 0 1 0 1-.1 1 0 1 .1 1 0 1 0 1 0 1 .1 1 0 1 .1 1 0 1 0 1 0 1 0 1 0 1 0 1-.1 1 0 1-.1 1 0 1-.1 1 0 1 0 1 0 1 0 1 0 1 0 1 0 1-.1 1 0 1-.1 1 0 1-.1 1 0 1 0 1 0 1 0 1 0 1 0 1 0 1 .1 1 0 1 0 1 .1 1 0 1 0 1 0 1 .1 1 0 1 .1 1 0 1 0 1 .1 1 0 1-.1 1 0 1-.1 1-.1 1-.1 1-.1 1 0 1-.1 1 0 1 .1 1 .1 1 .1 1 .1 1 .1 1 .1 1 .1 1 0 1 .1 1 0 1 0 1-.1 1 0 1-.1 1-.1 1-.1 1 0 1-.1 1 0 1 0 1 0 1 .1 1 0 1 .1 1 .1 1 0 1 .1 1 0 1 0 1 0 1-.1 1 0 1-.1 1 0 1-.1 1 0 1-.1 1 .1 1 0 1 0 1 0 1 .1 1 0 1 0 1 0 1-.1 1 0 1 0 1-.1 1 0 1 .1 1 0 1 0 1 .1 1 .1 1 .1 1 .1 1 .1 1 0 1 .1 1 0 1 0 1 0 1 0 1-.1 1-.1 1-.1 1-.1 1 0 1 0 1 0 1 0 1 0 1 .1 1 .1 1 0 1 .1 1 .1 1 0 1 .1 1 .1 1 0 1 0 1 0 1 0 1 0 1 0 1 0 1 0 1-.1 1 0 1 0 1-.1 1 0 1 0 1 0 1 0 1 .1 1 0 1 .1 1 .1 1 .1 1 .1 1 .1 1 0 1 0 1-.1 1-.1 1-.1 1 0 1-.1 1-.1 1-.1 1 0 1 0 1 0 1 0 1 0 1 0 1 0 1 0 1 0 1 .1 1 .1 1 0 1 .1 1 0 1 .1 1 0 1 0 1-.1 1 0 1-.1 1-.1 1-.1 1 0 1 0 1 0 1 0 1 .1 1 .1 1 .1 1 .1 1 .1 1 0 1 0 1 .1 1-.1 1 0 1 0 1-.1 1 0 1 0 1 0 1 0 1 0 1 .1 1 0 1 0 1 .1 1 0 1 .1 1 .1 1 0 1 0 1 .1 1 0 1 .1 1 .1 1 0 1 .1 1 0 1 .1 1 .1 1 .1 1 .1 1 .1 1 .1 1 0 1 .1 1 0 1 0 1-.1 1 0 1-.1 1 0 1 0 1 0 1 0 1 0 1 .1 1 0 1 0 1 0 1 0 1 0 1 0 1 .1 1 0 1 0 1 .1 1 0 1 .1 1 0 1 .1 1 .1 1 0 1 .1 1 .1 1 .1 1 .1 1 0 1 .1 1 0 1 .1 1 0 1 0 1 0 1 0 1 0 1 0 1 0 1 .1 1 0 1 0 1 0 1 0 1-.1" stroke="#1f77b4" stroke-width="2.1" stroke-opacity="1"/>
<path d="M360.5 386.5l.3-2.4.2-2.4.2-2.4.3-2.5.3-2.4.2-2.4.2-3.7 1.3-18.1 1-22.3 1-8 1-2.3 1-.8 1-.4 1 0 1-.1 1 0 1-.1 1-.1 1-.1 1-.1 1-.2 1-.2 1-.1 1-.2 1-.2 1-.2 1-.1 1-.2 1-.2 1-.1 1-.1 1-.1 1-.1 1-.1 1 0 1-.1 1 .1 1 0 1 0 1 0 1 0 1-.1 1-.1 1-.1 1-.1 1-.2 1-.2 1-.2 1-.1 1-.1 1-.1 1-.1 1 0 1-.1 1 0 1-.1 1-.1 1 0 1-.1 1-.2 1-.1 1-.2 1-.2 1-.1 1-.1 1-.1 1-.1 1-.2 1 0 1-.2 1 0 1-.1 1-.1 1 0 1-.1 1-.1 1 0 1 0 1 0 1 0 1-.1 1-.1 1-.1 1-.1 1-.1 1-.1 1-.1 1-.1 1 0 1-.1 1 0 1 0 1 0 1 0 1 0 1-.1 1 0 1 0 1 .1 1-.1 1 0 1 0 1 0 1 0 1 0 1 0 1 0 1-.1 1 0 1 0 1-.1 1 0 1 0 1 0 1 0 1 .1 1 0 1 .1 1 0 1 0 1 .1 1-.1 1 0 1 0 1-.1 1-.1 1 0 1-.1 1 0 1 0 1 0 1 0 1 .1 1 0 1 .1 1 .1 1 0 1 .1 1 .1 1 0 1 .1 1 0 1 .1 1 0 1 0 1 0 1 0 1 0 1 .1 1 0 1 0 1 0 1 .1 1 0 1 0 1 .1 1 0 1 0 1 0 1 0 1 0 1 0 1 0 1 .1 1 0 1 0 1 .1 1 .1 1 .1 1 .1 1 .2 1 0 1 .2 1 .1 1 .1 1 .1 1 .1 1 .1 1 .1 1 .2 1 .1 1 .1 1 0 1 0 1 0 1-.1 1-.1 1 0 1-.1 1 0 1-.1 1-.1 1 0 1 0 1-.1 1 0 1-.1 1 0 1-.1 1 0 1 0 1 0 1 0 1 .1 1 0 1 0 1 0 1 .1 1 0 1 .1 1 0 1 .1 1 .1 1 .2 1 .1 1 .1 1 .1 1 0 1 0 1 0 1-.1 1-.1 1-.1 1-.2 1-.1 1-.1 1 0 1 0 1 0 1 .1 1 0 1 .1 1 0 1 .1 1 .1 1 .1 1 0 1 .1 1 0 1 0 1 .1 1-.1 1 0 1-.1 1 0 1-.1 1 0 1-.1 1 0 1 .1 1 0 1 .1 1 0 1 .1 1 .1 1 0 1 .1 1 .1 1 0 1 .1 1 .1 1 .1 1 .1 1 .1 1 .1 1 0 1 0 1 .1 1 0 1 0 1-.1 1 0 1 0 1 0 1 0 1 0 1 0 1 .1 1 0 1 .1 1 0 1 0 1 0 1 .1 1 0 1-.1 1 0 1 0 1 0 1-.1 1 0 1 0 1 .1 1 0 1 .1 1 .1 1 .2 1 .2 1 .1 1 .1 1 .1 1 0 1 0 1 0 1-.1 1 0 1-.1 1 0 1 0 1 0 1 0 1 .1" stroke="#fff" stroke-width="4.6" stroke-opacity="0.25"/><path d="M360.5 386.5l.3-2.4.2-2.4.2-2.4.3-2.5.3-2.4.2-2.4.2-3.7 1.3-18.1 1-22.3 1-8 1-2.3 1-.8 1-.4 1 0 1-.1 1 0 1-.1 1-.1 1-.1 1-.1 1-.2 1-.2 1-.1 1-.2 1-.2 1-.2 1-.1 1-.2 1-.2 1-.1 1-.1 1-.1 1-.1 1-.1 1 0 1-.1 1 .1 1 0 1 0 1 0 1 0 1-.1 1-.1 1-.1 1-.1 1-.2 1-.2 1-.2 1-.1 1-.1 1-.1 1-.1 1 0 1-.1 1 0 1-.1 1-.1 1 0 1-.1 1-.2 1-.1 1-.2 1-.2 1-.1 1-.1 1-.1 1-.1 1-.2 1 0 1-.2 1 0 1-.1 1-.1 1 0 1-.1 1-.1 1 0 1 0 1 0 1 0 1-.1 1-.1 1-.1 1-.1 1-.1 1-.1 1-.1 1-.1 1 0 1-.1 1 0 1 0 1 0 1 0 1 0 1-.1 1 0 1 0 1 .1 1-.1 1 0 1 0 1 0 1 0 1 0 1 0 1 0 1-.1 1 0 1 0 1-.1 1 0 1 0 1 0 1 0 1 .1 1 0 1 .1 1 0 1 0 1 .1 1-.1 1 0 1 0 1-.1 1-.1 1 0 1-.1 1 0 1 0 1 0 1 0 1 .1 1 0 1 .1 1 .1 1 0 1 .1 1 .1 1 0 1 .1 1 0 1 .1 1 0 1 0 1 0 1 0 1 0 1 .1 1 0 1 0 1 0 1 .1 1 0 1 0 1 .1 1 0 1 0 1 0 1 0 1 0 1 0 1 0 1 .1 1 0 1 0 1 .1 1 .1 1 .1 1 .1 1 .2 1 0 1 .2 1 .1 1 .1 1 .1 1 .1 1 .1 1 .1 1 .2 1 .1 1 .1 1 0 1 0 1 0 1-.1 1-.1 1 0 1-.1 1 0 1-.1 1-.1 1 0 1 0 1-.1 1 0 1-.1 1 0 1-.1 1 0 1 0 1 0 1 0 1 .1 1 0 1 0 1 0 1 .1 1 0 1 .1 1 0 1 .1 1 .1 1 .2 1 .1 1 .1 1 .1 1 0 1 0 1 0 1-.1 1-.1 1-.1 1-.2 1-.1 1-.1 1 0 1 0 1 0 1 .1 1 0 1 .1 1 0 1 .1 1 .1 1 .1 1 0 1 .1 1 0 1 0 1 .1 1-.1 1 0 1-.1 1 0 1-.1 1 0 1-.1 1 0 1 .1 1 0 1 .1 1 0 1 .1 1 .1 1 0 1 .1 1 .1 1 0 1 .1 1 .1 1 .1 1 .1 1 .1 1 .1 1 0 1 0 1 .1 1 0 1 0 1-.1 1 0 1 0 1 0 1 0 1 0 1 0 1 .1 1 0 1 .1 1 0 1 0 1 0 1 .1 1 0 1-.1 1 0 1 0 1 0 1-.1 1 0 1 0 1 .1 1 0 1 .1 1 .1 1 .2 1 .2 1 .1 1 .1 1 .1 1 0 1 0 1 0 1-.1 1 0 1-.1 1 0 1 0 1 0 1 0 1 .1" stroke="#ff7f0e" stroke-width="2.1" stroke-opacity="1"/>
<path d="M360.5 386.5l.3-.3.2-.3.2-.3.3-.2.3-.2.2-.2.2-.1 1.3-.5 1-.2 1-.1 1 0 1 .1 1 .1 1 .1 1 0 1 .1 1 0 1 0 1-.1 1 0 1-.1 1 0 1-.1 1-.1 1-.1 1-.1 1 0 1-.1 1-.1 1 0 1 0 1 0 1 .1 1 .1 1 0 1 .1 1 .1 1 0 1 0 1 .1 1 0 1 0 1-.1 1 .1 1 0 1 0 1 0 1 0 1 0 1 0 1-.1 1 0 1-.1 1-.1 1 0 1-.1 1 0 1 0 1 0 1 .1 1 0 1 .1 1 0 1 0 1 .1 1 0 1 .1 1 .1 1 0 1 .1 1 0 1 0 1 0 1-.1 1-.1 1-.1 1-.1 1-.1 1-.1 1 0 1-.1 1 .1 1 0 1 0 1 0 1 0 1 0 1 0 1 0 1 0 1 0 1 0 1 0 1 .1 1 0 1 .1 1 .1 1 0 1 0 1 0 1-.1 1 0 1-.1 1-.1 1-.1 1-.1 1 0 1 0 1 0 1 .1 1 .1 1 .1 1 .1 1 .1 1 .2 1 .1 1 .1 1 .1 1 0 1 0 1 0 1-.1 1 0 1-.2 1 0 1-.1 1-.1 1-.1 1 0 1 0 1 0 1 .1 1 0 1 .1 1 0 1 .1 1 0 1-.1 1 0 1-.1 1 0 1-.1 1 0 1 0 1 0 1 0 1 .1 1 0 1 .1 1 .1 1 0 1 0 1 0 1 0 1-.1 1 0 1-.1 1 0 1-.1 1 0 1 0 1 0 1 0 1 0 1 0 1 0 1 0 1 0 1 0 1 0 1 .1 1 0 1 0 1 0 1 0 1 0 1 0 1 0 1-.1 1 0 1 0 1-.1 1 0 1 0 1-.1 1 0 1-.1 1 0 1-.1 1-.1 1-.1 1 0 1-.1 1 0 1 0 1 0 1 0 1 0 1 0 1 0 1 .1 1 0 1 .1 1 0 1 .1 1 .1 1 .1 1 .1 1 .1 1 .1 1 0 1 .1 1 0 1 0 1 0 1-.1 1-.1 1 0 1-.1 1-.1 1 0 1-.1 1 0 1 0 1 0 1 0 1 0 1 .1 1 0 1-.1 1 0 1 0 1 0 1 0 1 0 1 .1 1 0 1 0 1 0 1 0 1-.1 1 0 1 0 1-.1 1 0 1 0 1 .1 1 .1 1 0 1 .1 1 .1 1 .1 1 0 1 0 1 0 1 0 1 0 1-.1 1 0 1 0 1-.1 1 0 1 0 1-.1 1 0 1-.1 1 0 1 0 1 0 1 0 1 .1 1 0 1 .1 1 .1 1 .1 1 .1 1 .1 1 0 1 .1 1 0 1 0 1 0 1 0 1 0 1 0 1-.1 1 0 1-.1 1-.1 1-.1 1 0 1-.1 1-.1 1 0 1 0 1 0 1 0 1 0 1 0 1 0 1 0 1 .1 1 0 1 0 1 .1 1 0 1 .1 1 0 1 .1 1 0 1 0 1 0" stroke="#fff" stroke-width="4.6" stroke-opacity="1"/><path d="M360.5 386.5l.3-.3.2-.3.2-.3.3-.2.3-.2.2-.2.2-.1 1.3-.5 1-.2 1-.1 1 0 1 .1 1 .1 1 .1 1 0 1 .1 1 0 1 0 1-.1 1 0 1-.1 1 0 1-.1 1-.1 1-.1 1-.1 1 0 1-.1 1-.1 1 0 1 0 1 0 1 .1 1 .1 1 0 1 .1 1 .1 1 0 1 0 1 .1 1 0 1 0 1-.1 1 .1 1 0 1 0 1 0 1 0 1 0 1 0 1-.1 1 0 1-.1 1-.1 1 0 1-.1 1 0 1 0 1 0 1 .1 1 0 1 .1 1 0 1 0 1 .1 1 0 1 .1 1 .1 1 0 1 .1 1 0 1 0 1 0 1-.1 1-.1 1-.1 1-.1 1-.1 1-.1 1 0 1-.1 1 .1 1 0 1 0 1 0 1 0 1 0 1 0 1 0 1 0 1 0 1 0 1 0 1 .1 1 0 1 .1 1 .1 1 0 1 0 1 0 1-.1 1 0 1-.1 1-.1 1-.1 1-.1 1 0 1 0 1 0 1 .1 1 .1 1 .1 1 .1 1 .1 1 .2 1 .1 1 .1 1 .1 1 0 1 0 1 0 1-.1 1 0 1-.2 1 0 1-.1 1-.1 1-.1 1 0 1 0 1 0 1 .1 1 0 1 .1 1 0 1 .1 1 0 1-.1 1 0 1-.1 1 0 1-.1 1 0 1 0 1 0 1 0 1 .1 1 0 1 .1 1 .1 1 0 1 0 1 0 1 0 1-.1 1 0 1-.1 1 0 1-.1 1 0 1 0 1 0 1 0 1 0 1 0 1 0 1 0 1 0 1 0 1 0 1 .1 1 0 1 0 1 0 1 0 1 0 1 0 1 0 1-.1 1 0 1 0 1-.1 1 0 1 0 1-.1 1 0 1-.1 1 0 1-.1 1-.1 1-.1 1 0 1-.1 1 0 1 0 1 0 1 0 1 0 1 0 1 0 1 .1 1 0 1 .1 1 0 1 .1 1 .1 1 .1 1 .1 1 .1 1 .1 1 0 1 .1 1 0 1 0 1 0 1-.1 1-.1 1 0 1-.1 1-.1 1 0 1-.1 1 0 1 0 1 0 1 0 1 0 1 .1 1 0 1-.1 1 0 1 0 1 0 1 0 1 0 1 .1 1 0 1 0 1 0 1 0 1-.1 1 0 1 0 1-.1 1 0 1 0 1 .1 1 .1 1 0 1 .1 1 .1 1 .1 1 0 1 0 1 0 1 0 1 0 1-.1 1 0 1 0 1-.1 1 0 1 0 1-.1 1 0 1-.1 1 0 1 0 1 0 1 0 1 .1 1 0 1 .1 1 .1 1 .1 1 .1 1 .1 1 0 1 .1 1 0 1 0 1 0 1 0 1 0 1 0 1-.1 1 0 1-.1 1-.1 1-.1 1 0 1-.1 1-.1 1 0 1 0 1 0 1 0 1 0 1 0 1 0 1 0 1 .1 1 0 1 0 1 .1 1 0 1 .1 1 0 1 .1 1 0 1 0 1 0" stroke="#d62728" stroke-width="2.1" stroke-opacity="0.45"/>
<path d="M360.5 386.5l.3-.6.2-.6.2-.5.3-.4.3-.4.2-.3.2-.3 1.3-1 1-.5 1-.3 1-.2 1-.1 1-.1 1 0 1 .1 1 0 1 .1 1 0 1 .1 1 0 1 0 1 0 1 0 1 0 1 0 1 0 1 0 1-.1 1 0 1 0 1 0 1 0 1 0 1-.1 1 0 1 0 1 0 1 0 1 .1 1 0 1 0 1 .1 1 0 1 0 1 0 1-.1 1 0 1-.1 1 0 1 0 1 0 1-.1 1 0 1 .1 1-.1 1 0 1-.1 1-.1 1 0 1-.1 1 0 1-.1 1 0 1 .1 1 .1 1 .1 1 .1 1 .1 1 .1 1 .1 1 0 1 0 1-.1 1-.1 1 0 1-.1 1 0 1-.1 1 .1 1 0 1 .1 1 0 1 .1 1 .1 1 0 1 0 1 0 1 0 1 .1 1 0 1 .1 1 0 1 .1 1 .1 1 .1 1 0 1 0 1 0 1-.1 1 0 1-.1 1 0 1 0 1 0 1 0 1 0 1 .1 1 0 1 0 1 0 1 0 1 0 1 0 1 0 1-.1 1 0 1-.1 1-.1 1-.1 1 0 1 0 1-.1 1 0 1-.1 1 0 1 0 1 0 1 0 1 0 1-.1 1 0 1 0 1 0 1 0 1 .1 1 0 1 0 1 0 1 0 1 0 1-.1 1 0 1-.1 1-.1 1 0 1 0 1-.1 1 0 1 0 1 .1 1 .1 1 .1 1 0 1 .1 1 .1 1 .1 1 .1 1 0 1 0 1 0 1 0 1 0 1-.1 1 0 1-.1 1 0 1 0 1 0 1 0 1 0 1 0 1-.1 1 0 1 0 1 0 1 0 1 0 1 0 1 .1 1 0 1 0 1 0 1 0 1 0 1 0 1-.1 1-.1 1-.1 1 0 1 0 1 0 1 0 1 0 1 .1 1 0 1 0 1 0 1 0 1 0 1-.1 1-.1 1 0 1 0 1 0 1 0 1 0 1 .1 1 0 1 .1 1 .1 1 .1 1 0 1 .1 1 0 1 0 1 0 1 0 1 0 1 0 1 0 1 .1 1 0 1 0 1 0 1 0 1 0 1 .1 1-.1 1 0 1 0 1 0 1 0 1-.1 1 .1 1 0 1 0 1 0 1 0 1 0 1 .1 1 0 1 0 1 0 1 .1 1 0 1 .1 1 0 1 0 1 0 1 0 1 0 1-.1 1 0 1-.1 1-.1 1-.1 1 0 1-.1 1-.1 1-.1 1-.1 1-.1 1-.1 1-.1 1-.1 1 0 1-.1 1 0 1 0 1 0 1 .1 1 0 1 .1 1 0 1 .1 1 0 1 0 1 .1 1 0 1 0 1 0 1 .1 1 .1 1 .1 1 .1 1 .1 1 .1 1 .1 1 .1 1 0 1 0 1 0 1-.1 1-.1 1-.1 1-.1 1-.1 1-.1 1-.1 1-.1 1-.1 1 0 1 0 1 0 1 .1 1 0 1 0 1 .1 1 0 1 0 1 0 1 .1" stroke="#fff" stroke-width="4.6" stroke-opacity="1"/><path d="M360.5 386.5l.3-.6.2-.6.2-.5.3-.4.3-.4.2-.3.2-.3 1.3-1 1-.5 1-.3 1-.2 1-.1 1-.1 1 0 1 .1 1 0 1 .1 1 0 1 .1 1 0 1 0 1 0 1 0 1 0 1 0 1 0 1 0 1-.1 1 0 1 0 1 0 1 0 1 0 1-.1 1 0 1 0 1 0 1 0 1 .1 1 0 1 0 1 .1 1 0 1 0 1 0 1-.1 1 0 1-.1 1 0 1 0 1 0 1-.1 1 0 1 .1 1-.1 1 0 1-.1 1-.1 1 0 1-.1 1 0 1-.1 1 0 1 .1 1 .1 1 .1 1 .1 1 .1 1 .1 1 .1 1 0 1 0 1-.1 1-.1 1 0 1-.1 1 0 1-.1 1 .1 1 0 1 .1 1 0 1 .1 1 .1 1 0 1 0 1 0 1 0 1 .1 1 0 1 .1 1 0 1 .1 1 .1 1 .1 1 0 1 0 1 0 1-.1 1 0 1-.1 1 0 1 0 1 0 1 0 1 0 1 .1 1 0 1 0 1 0 1 0 1 0 1 0 1 0 1-.1 1 0 1-.1 1-.1 1-.1 1 0 1 0 1-.1 1 0 1-.1 1 0 1 0 1 0 1 0 1 0 1-.1 1 0 1 0 1 0 1 0 1 .1 1 0 1 0 1 0 1 0 1 0 1-.1 1 0 1-.1 1-.1 1 0 1 0 1-.1 1 0 1 0 1 .1 1 .1 1 .1 1 0 1 .1 1 .1 1 .1 1 .1 1 0 1 0 1 0 1 0 1 0 1-.1 1 0 1-.1 1 0 1 0 1 0 1 0 1 0 1 0 1-.1 1 0 1 0 1 0 1 0 1 0 1 0 1 .1 1 0 1 0 1 0 1 0 1 0 1 0 1-.1 1-.1 1-.1 1 0 1 0 1 0 1 0 1 0 1 .1 1 0 1 0 1 0 1 0 1 0 1-.1 1-.1 1 0 1 0 1 0 1 0 1 0 1 .1 1 0 1 .1 1 .1 1 .1 1 0 1 .1 1 0 1 0 1 0 1 0 1 0 1 0 1 0 1 .1 1 0 1 0 1 0 1 0 1 0 1 .1 1-.1 1 0 1 0 1 0 1 0 1-.1 1 .1 1 0 1 0 1 0 1 0 1 0 1 .1 1 0 1 0 1 0 1 .1 1 0 1 .1 1 0 1 0 1 0 1 0 1 0 1-.1 1 0 1-.1 1-.1 1-.1 1 0 1-.1 1-.1 1-.1 1-.1 1-.1 1-.1 1-.1 1-.1 1 0 1-.1 1 0 1 0 1 0 1 .1 1 0 1 .1 1 0 1 .1 1 0 1 0 1 .1 1 0 1 0 1 0 1 .1 1 .1 1 .1 1 .1 1 .1 1 .1 1 .1 1 .1 1 0 1 0 1 0 1-.1 1-.1 1-.1 1-.1 1-.1 1-.1 1-.1 1-.1 1-.1 1 0 1 0 1 0 1 .1 1 0 1 0 1 .1 1 0 1 0 1 0 1 .1" stroke="#8c564b" stroke-width="2.1" stroke-opacity="1"/>
<path d="M360.5 386.5l.3-1.5.2-1.5.2-1.5.3-1.6.3-1.5.2-1.5.2-.8 1.3-3.9 1-1.8 1-.2 1-.2 1 0 1 0 1 0 1 0 1 0 1 0 1-.1 1 .1 1 0 1 0 1 .1 1 .1 1 .1 1 .1 1 .1 1 0 1 .1 1 0 1-.1 1 0 1 0 1-.1 1 0 1 0 1 .1 1 .1 1 .1 1 .1 1 .1 1 .2 1 .1 1 .1 1 0 1 0 1 0 1-.1 1-.1 1-.1 1-.1 1-.1 1 0 1-.1 1 0 1 .1 1 0 1 .1 1 .1 1 .1 1 .1 1 .1 1 .1 1 .1 1 .1 1 .1 1 .1 1 .1 1 .1 1 0 1 .1 1 .1 1 0 1 0 1 .1 1 0 1 .1 1 0 1 .1 1 .1 1 0 1 .1 1 0 1 .1 1 0 1-.1 1 0 1-.1 1-.1 1 0 1 0 1 0 1 .1 1 .1 1 .1 1 .2 1 .1 1 .2 1 .1 1 0 1 0 1 0 1 0 1-.1 1 0 1-.1 1 0 1-.1 1 .1 1 0 1 0 1 0 1 .1 1 0 1 .1 1 .1 1 .1 1 0 1 .1 1 .1 1 0 1 .1 1 0 1 .1 1 0 1 0 1 0 1-.1 1 0 1 0 1 0 1 0 1-.1 1 0 1 0 1-.1 1-.1 1 0 1 0 1-.1 1 0 1 0 1 0 1-.1 1 0 1 0 1 0 1 0 1 0 1 .1 1 0 1 .1 1 .1 1 0 1 .1 1-.1 1 0 1-.1 1 0 1-.1 1-.1 1 0 1 0 1 0 1 .1 1 .1 1 0 1 .1 1 .1 1 0 1 .1 1 0 1-.1 1 0 1 0 1 0 1 0 1 0 1 0 1 0 1 .1 1 .1 1 0 1 .1 1 .1 1 .1 1 0 1 .1 1 .1 1 .1 1 0 1 .1 1 0 1-.1 1 0 1 0 1-.1 1-.1 1-.1 1-.1 1 0 1-.1 1 0 1 0 1 0 1 0 1 0 1 0 1 .1 1 0 1 0 1 0 1 0 1 0 1 .1 1 0 1 .1 1 0 1 .1 1 .1 1 .1 1 0 1 0 1 0 1 0 1 0 1-.1 1 0 1-.1 1 0 1 0 1 .1 1 0 1 0 1 0 1 0 1 0 1 .1 1 0 1 0 1 0 1 0 1 0 1 0 1-.1 1 0 1 0 1 0 1 0 1 0 1 0 1-.1 1 0 1 0 1 0 1-.1 1 0 1 0 1-.1 1 0 1 0 1 0 1 0 1 0 1 0 1 .1 1 0 1 .1 1 .1 1 0 1 .1 1 0 1 .1 1 0 1 .1 1 0 1 0 1 0 1 0 1 0 1 0 1 0 1 0 1 0 1-.1 1 0 1 0 1 0 1 .1 1 0 1 .1 1 0 1 .1 1 0 1 0 1 0 1-.1 1-.1 1-.1 1-.1 1-.1 1-.1 1-.1 1 0 1 0 1 .1 1 .1 1 .2 1 .1 1 .1 1 .1 1 .1 1 .1" stroke="#fff" stroke-width="4.6" stroke-opacity="1"/><path d="M360.5 386.5l.3-1.5.2-1.5.2-1.5.3-1.6.3-1.5.2-1.5.2-.8 1.3-3.9 1-1.8 1-.2 1-.2 1 0 1 0 1 0 1 0 1 0 1 0 1-.1 1 .1 1 0 1 0 1 .1 1 .1 1 .1 1 .1 1 .1 1 0 1 .1 1 0 1-.1 1 0 1 0 1-.1 1 0 1 0 1 .1 1 .1 1 .1 1 .1 1 .1 1 .2 1 .1 1 .1 1 0 1 0 1 0 1-.1 1-.1 1-.1 1-.1 1-.1 1 0 1-.1 1 0 1 .1 1 0 1 .1 1 .1 1 .1 1 .1 1 .1 1 .1 1 .1 1 .1 1 .1 1 .1 1 .1 1 .1 1 0 1 .1 1 .1 1 0 1 0 1 .1 1 0 1 .1 1 0 1 .1 1 .1 1 0 1 .1 1 0 1 .1 1 0 1-.1 1 0 1-.1 1-.1 1 0 1 0 1 0 1 .1 1 .1 1 .1 1 .2 1 .1 1 .2 1 .1 1 0 1 0 1 0 1 0 1-.1 1 0 1-.1 1 0 1-.1 1 .1 1 0 1 0 1 0 1 .1 1 0 1 .1 1 .1 1 .1 1 0 1 .1 1 .1 1 0 1 .1 1 0 1 .1 1 0 1 0 1 0 1-.1 1 0 1 0 1 0 1 0 1-.1 1 0 1 0 1-.1 1-.1 1 0 1 0 1-.1 1 0 1 0 1 0 1-.1 1 0 1 0 1 0 1 0 1 0 1 .1 1 0 1 .1 1 .1 1 0 1 .1 1-.1 1 0 1-.1 1 0 1-.1 1-.1 1 0 1 0 1 0 1 .1 1 .1 1 0 1 .1 1 .1 1 0 1 .1 1 0 1-.1 1 0 1 0 1 0 1 0 1 0 1 0 1 0 1 .1 1 .1 1 0 1 .1 1 .1 1 .1 1 0 1 .1 1 .1 1 .1 1 0 1 .1 1 0 1-.1 1 0 1 0 1-.1 1-.1 1-.1 1-.1 1 0 1-.1 1 0 1 0 1 0 1 0 1 0 1 0 1 .1 1 0 1 0 1 0 1 0 1 0 1 .1 1 0 1 .1 1 0 1 .1 1 .1 1 .1 1 0 1 0 1 0 1 0 1 0 1-.1 1 0 1-.1 1 0 1 0 1 .1 1 0 1 0 1 0 1 0 1 0 1 .1 1 0 1 0 1 0 1 0 1 0 1 0 1-.1 1 0 1 0 1 0 1 0 1 0 1 0 1-.1 1 0 1 0 1 0 1-.1 1 0 1 0 1-.1 1 0 1 0 1 0 1 0 1 0 1 0 1 .1 1 0 1 .1 1 .1 1 0 1 .1 1 0 1 .1 1 0 1 .1 1 0 1 0 1 0 1 0 1 0 1 0 1 0 1 0 1 0 1-.1 1 0 1 0 1 0 1 .1 1 0 1 .1 1 0 1 .1 1 0 1 0 1 0 1-.1 1-.1 1-.1 1-.1 1-.1 1-.1 1-.1 1 0 1 0 1 .1 1 .1 1 .2 1 .1 1 .1 1 .1 1 .1 1 .1" stroke="#e377c2" stroke-width="2.1" stroke-opacity="1"/>
<path d="M360.5 386.5l.3-1.2.2-1.1.2-.9.3-.8.3-.7.2-.6.2-.5 1.3-1.8 1-.7 1-.5 1-.2 1-.1 1-.1 1 0 1 0 1-.1 1 0 1-.1 1 0 1 0 1 0 1 .1 1 0 1 .1 1 0 1 .1 1 0 1 0 1-.1 1 0 1-.1 1 0 1 0 1-.1 1 0 1 0 1 .1 1 0 1 0 1 0 1 0 1 0 1-.1 1 .1 1-.1 1 0 1 0 1 0 1-.1 1-.1 1-.1 1 0 1-.1 1 0 1 0 1 0 1 .1 1 0 1 .2 1 .1 1 0 1 .1 1 0 1 0 1 0 1 0 1 0 1-.1 1 0 1 0 1 0 1 0 1 0 1 0 1 .1 1-.1 1 .1 1 0 1 0 1 0 1 .1 1 0 1 .1 1 0 1-.1 1 0 1 0 1-.1 1-.1 1 0 1-.1 1 0 1 0 1 0 1 .1 1 0 1 .1 1 .1 1 0 1 .1 1 .1 1 0 1 .1 1 0 1 0 1 .1 1 0 1 0 1 0 1 0 1 0 1 0 1 0 1 0 1 0 1 0 1 .1 1 0 1 .1 1 .1 1 0 1 0 1 0 1 0 1-.1 1-.1 1 0 1-.1 1 0 1-.1 1 0 1-.1 1 0 1 0 1 0 1 0 1 0 1 0 1 0 1 0 1 0 1-.1 1 0 1-.1 1 0 1-.1 1 0 1 0 1 0 1 .1 1 0 1 .1 1 0 1 .1 1 0 1 0 1 0 1 0 1 0 1 0 1 0 1 .1 1 0 1 .1 1 .1 1 .1 1 .1 1 .1 1 0 1 0 1 .1 1 0 1 0 1 0 1 0 1 0 1 0 1 0 1 0 1 0 1 0 1-.1 1-.1 1 0 1-.1 1 0 1 0 1 0 1 0 1 0 1 .1 1 0 1 0 1 0 1 0 1-.1 1 0 1-.1 1 0 1 0 1 .1 1 0 1 .1 1 .1 1 .1 1 0 1 0 1 0 1 0 1 0 1-.1 1-.1 1 0 1-.1 1 0 1 0 1 0 1 0 1 0 1 0 1-.1 1-.1 1-.1 1-.1 1-.1 1-.1 1 0 1 0 1 0 1 0 1 0 1 0 1 .1 1 0 1 .1 1 0 1 0 1 .1 1 .1 1 0 1 0 1 .1 1 .1 1 0 1 .1 1 0 1 0 1 .1 1 0 1 .1 1 0 1 .1 1 0 1 0 1-.1 1 0 1-.1 1-.1 1-.1 1-.1 1 0 1-.1 1-.1 1 0 1-.1 1 .1 1-.1 1 0 1 .1 1 0 1 .1 1 .1 1 0 1 .1 1 .1 1 .1 1 0 1 0 1-.1 1 0 1-.1 1-.1 1-.1 1-.1 1 0 1-.1 1 0 1 0 1 0 1 .1 1 0 1 .1 1 .1 1 .1 1 .2 1 .1 1 .1 1 .1 1 .1 1 0 1 .1 1 0 1 0 1 0 1 0 1-.1 1 0 1 0 1-.1 1 0 1 0 1-.1" stroke="#fff" stroke-width="4.6" stroke-opacity="1"/><path d="M360.5 386.5l.3-1.2.2-1.1.2-.9.3-.8.3-.7.2-.6.2-.5 1.3-1.8 1-.7 1-.5 1-.2 1-.1 1-.1 1 0 1 0 1-.1 1 0 1-.1 1 0 1 0 1 0 1 .1 1 0 1 .1 1 0 1 .1 1 0 1 0 1-.1 1 0 1-.1 1 0 1 0 1-.1 1 0 1 0 1 .1 1 0 1 0 1 0 1 0 1 0 1-.1 1 .1 1-.1 1 0 1 0 1 0 1-.1 1-.1 1-.1 1 0 1-.1 1 0 1 0 1 0 1 .1 1 0 1 .2 1 .1 1 0 1 .1 1 0 1 0 1 0 1 0 1 0 1-.1 1 0 1 0 1 0 1 0 1 0 1 0 1 .1 1-.1 1 .1 1 0 1 0 1 0 1 .1 1 0 1 .1 1 0 1-.1 1 0 1 0 1-.1 1-.1 1 0 1-.1 1 0 1 0 1 0 1 .1 1 0 1 .1 1 .1 1 0 1 .1 1 .1 1 0 1 .1 1 0 1 0 1 .1 1 0 1 0 1 0 1 0 1 0 1 0 1 0 1 0 1 0 1 0 1 .1 1 0 1 .1 1 .1 1 0 1 0 1 0 1 0 1-.1 1-.1 1 0 1-.1 1 0 1-.1 1 0 1-.1 1 0 1 0 1 0 1 0 1 0 1 0 1 0 1 0 1 0 1-.1 1 0 1-.1 1 0 1-.1 1 0 1 0 1 0 1 .1 1 0 1 .1 1 0 1 .1 1 0 1 0 1 0 1 0 1 0 1 0 1 0 1 .1 1 0 1 .1 1 .1 1 .1 1 .1 1 .1 1 0 1 0 1 .1 1 0 1 0 1 0 1 0 1 0 1 0 1 0 1 0 1 0 1 0 1-.1 1-.1 1 0 1-.1 1 0 1 0 1 0 1 0 1 0 1 .1 1 0 1 0 1 0 1 0 1-.1 1 0 1-.1 1 0 1 0 1 .1 1 0 1 .1 1 .1 1 .1 1 0 1 0 1 0 1 0 1 0 1-.1 1-.1 1 0 1-.1 1 0 1 0 1 0 1 0 1 0 1 0 1-.1 1-.1 1-.1 1-.1 1-.1 1-.1 1 0 1 0 1 0 1 0 1 0 1 0 1 .1 1 0 1 .1 1 0 1 0 1 .1 1 .1 1 0 1 0 1 .1 1 .1 1 0 1 .1 1 0 1 0 1 .1 1 0 1 .1 1 0 1 .1 1 0 1 0 1-.1 1 0 1-.1 1-.1 1-.1 1-.1 1 0 1-.1 1-.1 1 0 1-.1 1 .1 1-.1 1 0 1 .1 1 0 1 .1 1 .1 1 0 1 .1 1 .1 1 .1 1 0 1 0 1-.1 1 0 1-.1 1-.1 1-.1 1-.1 1 0 1-.1 1 0 1 0 1 0 1 .1 1 0 1 .1 1 .1 1 .1 1 .2 1 .1 1 .1 1 .1 1 .1 1 0 1 .1 1 0 1 0 1 0 1 0 1-.1 1 0 1 0 1-.1 1 0 1 0 1-.1" stroke="#7f7f7f" stroke-width="2.1" stroke-opacity="1"/>
<path d="M360.5 386.5l.3-1.2.2-1.3.2-1.2.3-1.3.3-4.1.2-6.1.2-6 1.3-17 1-4.8 1-3.2 1-1.4 1-.8 1-.2 1-.3 1-.2 1-.1 1-.1 1 0 1-.1 1 0 1 0 1 0 1-.1 1 0 1-.1 1-.1 1 0 1 0 1-.1 1-.1 1 0 1-.1 1-.1 1 0 1-.1 1-.1 1 0 1-.1 1-.1 1 0 1-.1 1-.1 1 0 1-.1 1-.1 1-.1 1 0 1-.1 1-.1 1-.1 1-.1 1-.1 1 0 1-.1 1 0 1-.1 1 0 1-.1 1-.1 1-.2 1-.1 1-.2 1-.2 1-.3 1-.1 1-.2 1-.1 1 0 1-.1 1 0 1 0 1 0 1 .1 1 0 1 0 1 0 1 0 1-.1 1-.1 1-.1 1-.1 1-.1 1-.1 1-.1 1-.1 1-.1 1-.1 1-.1 1-.1 1 0 1-.1 1-.1 1 0 1-.1 1 0 1-.1 1 0 1 0 1-.1 1 0 1-.1 1-.2 1-.1 1-.1 1-.2 1-.2 1-.1 1-.1 1-.2 1-.1 1-.1 1-.1 1-.1 1-.1 1-.1 1-.1 1-.1 1-.1 1-.1 1-.1 1-.1 1 0 1-.1 1-.1 1-.1 1 0 1-.1 1 0 1-.1 1 .1 1 0 1 0 1 0 1 0 1 0 1 0 1 0 1-.1 1 0 1-.1 1 0 1 0 1 0 1 0 1 .1 1 0 1 0 1 .1 1 0 1 .1 1 0 1 0 1 0 1 0 1-.1 1-.1 1 0 1-.2 1 0 1-.2 1-.1 1-.2 1-.1 1 0 1-.1 1 0 1-.1 1 0 1-.1 1-.1 1-.1 1-.1 1-.1 1-.1 1-.1 1-.1 1 0 1-.1 1 0 1-.1 1 0 1-.1 1 0 1-.1 1 0 1 0 1 0 1 0 1 0 1 0 1 .1 1 0 1 .1 1 0 1 0 1 0 1 0 1-.1 1 0 1-.1 1-.1 1-.1 1-.2 1-.1 1-.1 1 0 1-.1 1 0 1 0 1 0 1 .1 1 0 1 0 1 0 1 0 1-.1 1-.1 1-.1 1-.2 1 0 1-.2 1 0 1-.1 1 0 1 .1 1 0 1 .1 1 .1 1 .1 1 .1 1 .1 1 .1 1 .1 1 .1 1 0 1 0 1 0 1 0 1 0 1-.1 1 0 1 0 1 0 1 0 1 .1 1 0 1 0 1 0 1 0 1 0 1 0 1 0 1-.1 1-.1 1-.1 1-.1 1-.1 1 0 1-.1 1 0 1 0 1 0 1 0 1 0 1 0 1 0 1-.1 1-.1 1-.2 1-.1 1-.1 1-.1 1-.1 1-.1 1-.1 1 0 1-.1 1-.1 1 0 1 0 1-.1 1 0 1-.1 1 0 1 0 1 0 1 .1 1 0 1 0 1 0 1 0 1 0 1-.1 1-.1 1-.1 1-.1 1 0 1-.1 1 0 1 0 1-.1 1 0 1 .1 1 0 1 .1 1 0 1 .1 1 0 1 .1 1 0 1 .1 1 0" stroke="#fff" stroke-width="4.6" stroke-opacity="1"/><path d="M360.5 386.5l.3-1.2.2-1.3.2-1.2.3-1.3.3-4.1.2-6.1.2-6 1.3-17 1-4.8 1-3.2 1-1.4 1-.8 1-.2 1-.3 1-.2 1-.1 1-.1 1 0 1-.1 1 0 1 0 1 0 1-.1 1 0 1-.1 1-.1 1 0 1 0 1-.1 1-.1 1 0 1-.1 1-.1 1 0 1-.1 1-.1 1 0 1-.1 1-.1 1 0 1-.1 1-.1 1 0 1-.1 1-.1 1-.1 1 0 1-.1 1-.1 1-.1 1-.1 1-.1 1 0 1-.1 1 0 1-.1 1 0 1-.1 1-.1 1-.2 1-.1 1-.2 1-.2 1-.3 1-.1 1-.2 1-.1 1 0 1-.1 1 0 1 0 1 0 1 .1 1 0 1 0 1 0 1 0 1-.1 1-.1 1-.1 1-.1 1-.1 1-.1 1-.1 1-.1 1-.1 1-.1 1-.1 1-.1 1 0 1-.1 1-.1 1 0 1-.1 1 0 1-.1 1 0 1 0 1-.1 1 0 1-.1 1-.2 1-.1 1-.1 1-.2 1-.2 1-.1 1-.1 1-.2 1-.1 1-.1 1-.1 1-.1 1-.1 1-.1 1-.1 1-.1 1-.1 1-.1 1-.1 1-.1 1 0 1-.1 1-.1 1-.1 1 0 1-.1 1 0 1-.1 1 .1 1 0 1 0 1 0 1 0 1 0 1 0 1 0 1-.1 1 0 1-.1 1 0 1 0 1 0 1 0 1 .1 1 0 1 0 1 .1 1 0 1 .1 1 0 1 0 1 0 1 0 1-.1 1-.1 1 0 1-.2 1 0 1-.2 1-.1 1-.2 1-.1 1 0 1-.1 1 0 1-.1 1 0 1-.1 1-.1 1-.1 1-.1 1-.1 1-.1 1-.1 1-.1 1 0 1-.1 1 0 1-.1 1 0 1-.1 1 0 1-.1 1 0 1 0 1 0 1 0 1 0 1 0 1 .1 1 0 1 .1 1 0 1 0 1 0 1 0 1-.1 1 0 1-.1 1-.1 1-.1 1-.2 1-.1 1-.1 1 0 1-.1 1 0 1 0 1 0 1 .1 1 0 1 0 1 0 1 0 1-.1 1-.1 1-.1 1-.2 1 0 1-.2 1 0 1-.1 1 0 1 .1 1 0 1 .1 1 .1 1 .1 1 .1 1 .1 1 .1 1 .1 1 .1 1 0 1 0 1 0 1 0 1 0 1-.1 1 0 1 0 1 0 1 0 1 .1 1 0 1 0 1 0 1 0 1 0 1 0 1 0 1-.1 1-.1 1-.1 1-.1 1-.1 1 0 1-.1 1 0 1 0 1 0 1 0 1 0 1 0 1 0 1-.1 1-.1 1-.2 1-.1 1-.1 1-.1 1-.1 1-.1 1-.1 1 0 1-.1 1-.1 1 0 1 0 1-.1 1 0 1-.1 1 0 1 0 1 0 1 .1 1 0 1 0 1 0 1 0 1 0 1-.1 1-.1 1-.1 1-.1 1 0 1-.1 1 0 1 0 1-.1 1 0 1 .1 1 0 1 .1 1 0 1 .1 1 0 1 .1 1 0 1 .1 1 0" stroke="#bcbd22" stroke-width="2.1" stroke-opacity="1"/>
</g>
<g stroke="#000" stroke-width="0.8" fill="none" stroke-linecap="butt">
<rect x="21.75" y="3.5" width="306.25" height="181.30"/>
<path d="M21.75 184.80h-3.5M21.75 184.80v3.5M21.75 148.54h-3.5M83.00 184.80v3.5M21.75 112.28h-3.5M144.25 184.80v3.5M21.75 76.02h-3.5M205.50 184.80v3.5M21.75 39.76h-3.5M266.75 184.80v3.5M21.75 3.50h-3.5M328.00 184.80v3.5"/>
<rect x="360.5" y="3.5" width="306.00" height="181.30"/>
<path d="M360.50 184.80h-3.5M360.50 184.80v3.5M360.50 148.54h-3.5M421.70 184.80v3.5M360.50 112.28h-3.5M482.90 184.80v3.5M360.50 76.02h-3.5M544.10 184.80v3.5M360.50 39.76h-3.5M605.30 184.80v3.5M360.50 3.50h-3.5M666.50 184.80v3.5"/>
<rect x="21.75" y="204.75" width="306.25" height="181.75"/>
<path d="M21.75 386.50h-3.5M21.75 386.50v3.5M21.75 350.15h-3.5M83.00 386.50v3.5M21.75 313.80h-3.5M144.25 386.50v3.5M21.75 277.45h-3.5M205.50 386.50v3.5M21.75 241.10h-3.5M266.75 386.50v3.5M21.75 204.75h-3.5M328.00 386.50v3.5"/>
<rect x="360.5" y="204.75" width="306.00" height="181.75"/>
<path d="M360.50 386.50h-3.5M360.50 386.50v3.5M360.50 350.15h-3.5M421.70 386.50v3.5M360.50 313.80h-3.5M482.90 386.50v3.5M360.50 277.45h-3.5M544.10 386.50v3.5M360.50 241.10h-3.5M605.30 386.50v3.5M360.50 204.75h-3.5M666.50 386.50v3.5"/>
</g>
<g font-family="Liberation Sans, sans-serif" font-size="10.5" fill="#000" stroke="#000" stroke-width="0.2">
<text x="14.75" y="189.00" text-anchor="end" textLength="15.90" lengthAdjust="spacingAndGlyphs">0.0</text>
<text x="14.75" y="152.74" text-anchor="end" textLength="15.90" lengthAdjust="spacingAndGlyphs">0.2</text>
<text x="14.75" y="116.48" text-anchor="end" textLength="15.90" lengthAdjust="spacingAndGlyphs">0.4</text>
<text x="14.75" y="80.22" text-anchor="end" textLength="15.90" lengthAdjust="spacingAndGlyphs">0.6</text>
<text x="14.75" y="43.96" text-anchor="end" textLength="15.90" lengthAdjust="spacingAndGlyphs">0.8</text>
<text x="14.75" y="6.90" text-anchor="end" textLength="15.90" lengthAdjust="spacingAndGlyphs">1.0</text>
<text x="14.75" y="390.70" text-anchor="end" textLength="15.90" lengthAdjust="spacingAndGlyphs">0.0</text>
<text x="14.75" y="354.35" text-anchor="end" textLength="15.90" lengthAdjust="spacingAndGlyphs">0.2</text>
<text x="14.75" y="318.00" text-anchor="end" textLength="15.90" lengthAdjust="spacingAndGlyphs">0.4</text>
<text x="14.75" y="281.65" text-anchor="end" textLength="15.90" lengthAdjust="spacingAndGlyphs">0.6</text>
<text x="14.75" y="245.30" text-anchor="end" textLength="15.90" lengthAdjust="spacingAndGlyphs">0.8</text>
<text x="14.75" y="208.95" text-anchor="end" textLength="15.90" lengthAdjust="spacingAndGlyphs">1.0</text>
<text x="21.75" y="401.30" text-anchor="middle" textLength="6.36" lengthAdjust="spacingAndGlyphs">0</text>
<text x="83.00" y="401.30" text-anchor="middle" textLength="31.81" lengthAdjust="spacingAndGlyphs">20000</text>
<text x="144.25" y="401.30" text-anchor="middle" textLength="31.81" lengthAdjust="spacingAndGlyphs">40000</text>
<text x="205.50" y="401.30" text-anchor="middle" textLength="31.81" lengthAdjust="spacingAndGlyphs">60000</text>
<text x="266.75" y="401.30" text-anchor="middle" textLength="31.81" lengthAdjust="spacingAndGlyphs">80000</text>
<text x="328.00" y="401.30" text-anchor="middle" textLength="38.17" lengthAdjust="spacingAndGlyphs">100000</text>
<text x="360.50" y="401.30" text-anchor="middle" textLength="6.36" lengthAdjust="spacingAndGlyphs">0</text>
<text x="421.70" y="401.30" text-anchor="middle" textLength="31.81" lengthAdjust="spacingAndGlyphs">20000</text>
<text x="482.90" y="401.30" text-anchor="middle" textLength="31.81" lengthAdjust="spacingAndGlyphs">40000</text>
<text x="544.10" y="401.30" text-anchor="middle" textLength="31.81" lengthAdjust="spacingAndGlyphs">60000</text>
<text x="605.30" y="401.30" text-anchor="middle" textLength="31.81" lengthAdjust="spacingAndGlyphs">80000</text>
<text x="666.50" y="401.30" text-anchor="middle" textLength="38.17" lengthAdjust="spacingAndGlyphs">100000</text>
</g>
<g>
<rect x="259.7" y="8.6" width="63.10" height="110.00" rx="2" ry="2" fill="#fff" fill-opacity="0.8" stroke="#ccc" stroke-opacity="0.8" stroke-width="1"/>
<line x1="263.7" y1="15.7" x2="283.7" y2="15.7" stroke="#1f77b4" stroke-width="1.5" stroke-linecap="square"/>
<g fill="none" stroke="#000"><circle cx="295.20" cy="15.30" r="3.15" stroke-width="1.0"/><path d="M292.10 18.40L297.70 12.40" stroke-width="0.75"/></g>
<line x1="263.7" y1="30.6" x2="283.7" y2="30.6" stroke="#ff7f0e" stroke-width="1.5" stroke-linecap="square"/>
<g font-family="Liberation Sans, sans-serif" font-size="10.5" fill="#000" stroke="#000" stroke-width="0.2">
<text x="291.40" y="34.10" text-anchor="start" textLength="20.36" lengthAdjust="spacingAndGlyphs">One</text>
</g>
<line x1="263.7" y1="44.5" x2="283.7" y2="44.5" stroke="#2ca02c" stroke-width="1.5" stroke-linecap="square"/>
<g font-family="Liberation Sans, sans-serif" font-size="10.5" fill="#000" stroke="#000" stroke-width="0.2">
<text x="291.40" y="48.00" text-anchor="start" textLength="13.90" lengthAdjust="spacingAndGlyphs">PQ</text>
</g>
<line x1="263.7" y1="61.9" x2="283.7" y2="61.9" stroke="#d62728" stroke-width="1.5" stroke-linecap="square"/>
<g font-family="Liberation Sans, sans-serif" font-size="10.5" fill="#000" stroke="#000" stroke-width="0.2">
<text x="291.40" y="65.40" text-anchor="start" textLength="13.90" lengthAdjust="spacingAndGlyphs">PQ</text>
</g>
<line x1="297.03" y1="56.50" x2="305.00" y2="56.50" stroke="#000" stroke-width="0.75"/>
<line x1="263.7" y1="77.9" x2="283.7" y2="77.9" stroke="#9467bd" stroke-width="1.5" stroke-linecap="square"/>
<g font-family="Liberation Sans, sans-serif" font-size="10.5" fill="#000" stroke="#000" stroke-width="0.2">
<text x="291.40" y="81.40" text-anchor="start" textLength="13.90" lengthAdjust="spacingAndGlyphs">PQ</text>
</g>
<line x1="291.00" y1="72.50" x2="297.13" y2="72.50" stroke="#000" stroke-width="0.75"/>
<line x1="263.7" y1="95.1" x2="283.7" y2="95.1" stroke="#8c564b" stroke-width="1.5" stroke-linecap="square"/>
<g font-family="Liberation Sans, sans-serif" font-size="10.5" fill="#000" stroke="#000" stroke-width="0.2">
<text x="291.40" y="98.60" text-anchor="start" textLength="13.90" lengthAdjust="spacingAndGlyphs">PQ</text>
</g>
<line x1="291.00" y1="89.70" x2="305.00" y2="89.70" stroke="#000" stroke-width="0.75"/>
<line x1="263.7" y1="109.7" x2="283.7" y2="109.7" stroke="#e377c2" stroke-width="1.5" stroke-linecap="square"/>
<g font-family="Liberation Sans, sans-serif" font-size="10.5" fill="#000" stroke="#000" stroke-width="0.2">
<text x="291.40" y="113.20" text-anchor="start" textLength="28.39" lengthAdjust="spacingAndGlyphs">Other</text>
</g>
<rect x="593.4" y="8.6" width="68.10" height="147.80" rx="2" ry="2" fill="#fff" fill-opacity="0.8" stroke="#ccc" stroke-opacity="0.8" stroke-width="1"/>
<line x1="596.9" y1="16.0" x2="616.9" y2="16.0" stroke="#1f77b4" stroke-width="1.5" stroke-linecap="square"/>
<g font-family="Liberation Sans, sans-serif" font-size="10.5" fill="#000" stroke="#000" stroke-width="0.2">
<text x="624.80" y="19.50" text-anchor="start" textLength="14.74" lengthAdjust="spacingAndGlyphs">&lt;3</text>
</g>
<line x1="596.9" y1="30.5" x2="616.9" y2="30.5" stroke="#ff7f0e" stroke-width="1.5" stroke-linecap="square"/>
<g font-family="Liberation Sans, sans-serif" font-size="10.5" fill="#000" stroke="#000" stroke-width="0.2">
<text x="624.80" y="34.00" text-anchor="start" textLength="33.76" lengthAdjust="spacingAndGlyphs">3: PQR</text>
</g>
<line x1="596.9" y1="47.3" x2="616.9" y2="47.3" stroke="#2ca02c" stroke-width="1.5" stroke-linecap="square"/>
<g font-family="Liberation Sans, sans-serif" font-size="10.5" fill="#000" stroke="#000" stroke-width="0.2">
<text x="624.80" y="50.80" text-anchor="start" textLength="33.76" lengthAdjust="spacingAndGlyphs">3: PQR</text>
</g>
<line x1="651.21" y1="41.90" x2="658.26" y2="41.90" stroke="#000" stroke-width="0.75"/>
<line x1="596.9" y1="63.9" x2="616.9" y2="63.9" stroke="#d62728" stroke-width="1.5" stroke-linecap="square"/>
<g font-family="Liberation Sans, sans-serif" font-size="10.5" fill="#000" stroke="#000" stroke-width="0.2">
<text x="624.80" y="67.40" text-anchor="start" textLength="33.76" lengthAdjust="spacingAndGlyphs">3: PQR</text>
</g>
<line x1="643.34" y1="58.50" x2="651.31" y2="58.50" stroke="#000" stroke-width="0.75"/>
<line x1="596.9" y1="80.1" x2="616.9" y2="80.1" stroke="#9467bd" stroke-width="1.5" stroke-linecap="square"/>
<g font-family="Liberation Sans, sans-serif" font-size="10.5" fill="#000" stroke="#000" stroke-width="0.2">
<text x="624.80" y="83.60" text-anchor="start" textLength="33.76" lengthAdjust="spacingAndGlyphs">3: PQR</text>
</g>
<line x1="643.34" y1="74.70" x2="658.26" y2="74.70" stroke="#000" stroke-width="0.75"/>
<line x1="596.9" y1="97.4" x2="616.9" y2="97.4" stroke="#8c564b" stroke-width="1.5" stroke-linecap="square"/>
<g font-family="Liberation Sans, sans-serif" font-size="10.5" fill="#000" stroke="#000" stroke-width="0.2">
<text x="624.80" y="100.90" text-anchor="start" textLength="33.76" lengthAdjust="spacingAndGlyphs">3: PQR</text>
</g>
<line x1="637.31" y1="92.00" x2="643.44" y2="92.00" stroke="#000" stroke-width="0.75"/>
<line x1="596.9" y1="114.2" x2="616.9" y2="114.2" stroke="#e377c2" stroke-width="1.5" stroke-linecap="square"/>
<g font-family="Liberation Sans, sans-serif" font-size="10.5" fill="#000" stroke="#000" stroke-width="0.2">
<text x="624.80" y="117.70" text-anchor="start" textLength="33.76" lengthAdjust="spacingAndGlyphs">3: PQR</text>
</g>
<line x1="637.31" y1="108.80" x2="643.44" y2="108.80" stroke="#000" stroke-width="0.75"/>
<line x1="651.21" y1="108.80" x2="658.26" y2="108.80" stroke="#000" stroke-width="0.75"/>
<line x1="596.9" y1="130.6" x2="616.9" y2="130.6" stroke="#7f7f7f" stroke-width="1.5" stroke-linecap="square"/>
<g font-family="Liberation Sans, sans-serif" font-size="10.5" fill="#000" stroke="#000" stroke-width="0.2">
<text x="624.80" y="134.10" text-anchor="start" textLength="33.76" lengthAdjust="spacingAndGlyphs">3: PQR</text>
</g>
<line x1="637.31" y1="125.20" x2="651.31" y2="125.20" stroke="#000" stroke-width="0.75"/>
<line x1="596.9" y1="147.4" x2="616.9" y2="147.4" stroke="#bcbd22" stroke-width="1.5" stroke-linecap="square"/>
<g font-family="Liberation Sans, sans-serif" font-size="10.5" fill="#000" stroke="#000" stroke-width="0.2">
<text x="624.80" y="150.90" text-anchor="start" textLength="33.76" lengthAdjust="spacingAndGlyphs">3: PQR</text>
</g>
<line x1="637.31" y1="142.00" x2="658.26" y2="142.00" stroke="#000" stroke-width="0.75"/>
</g>
</svg>
</body></html>
